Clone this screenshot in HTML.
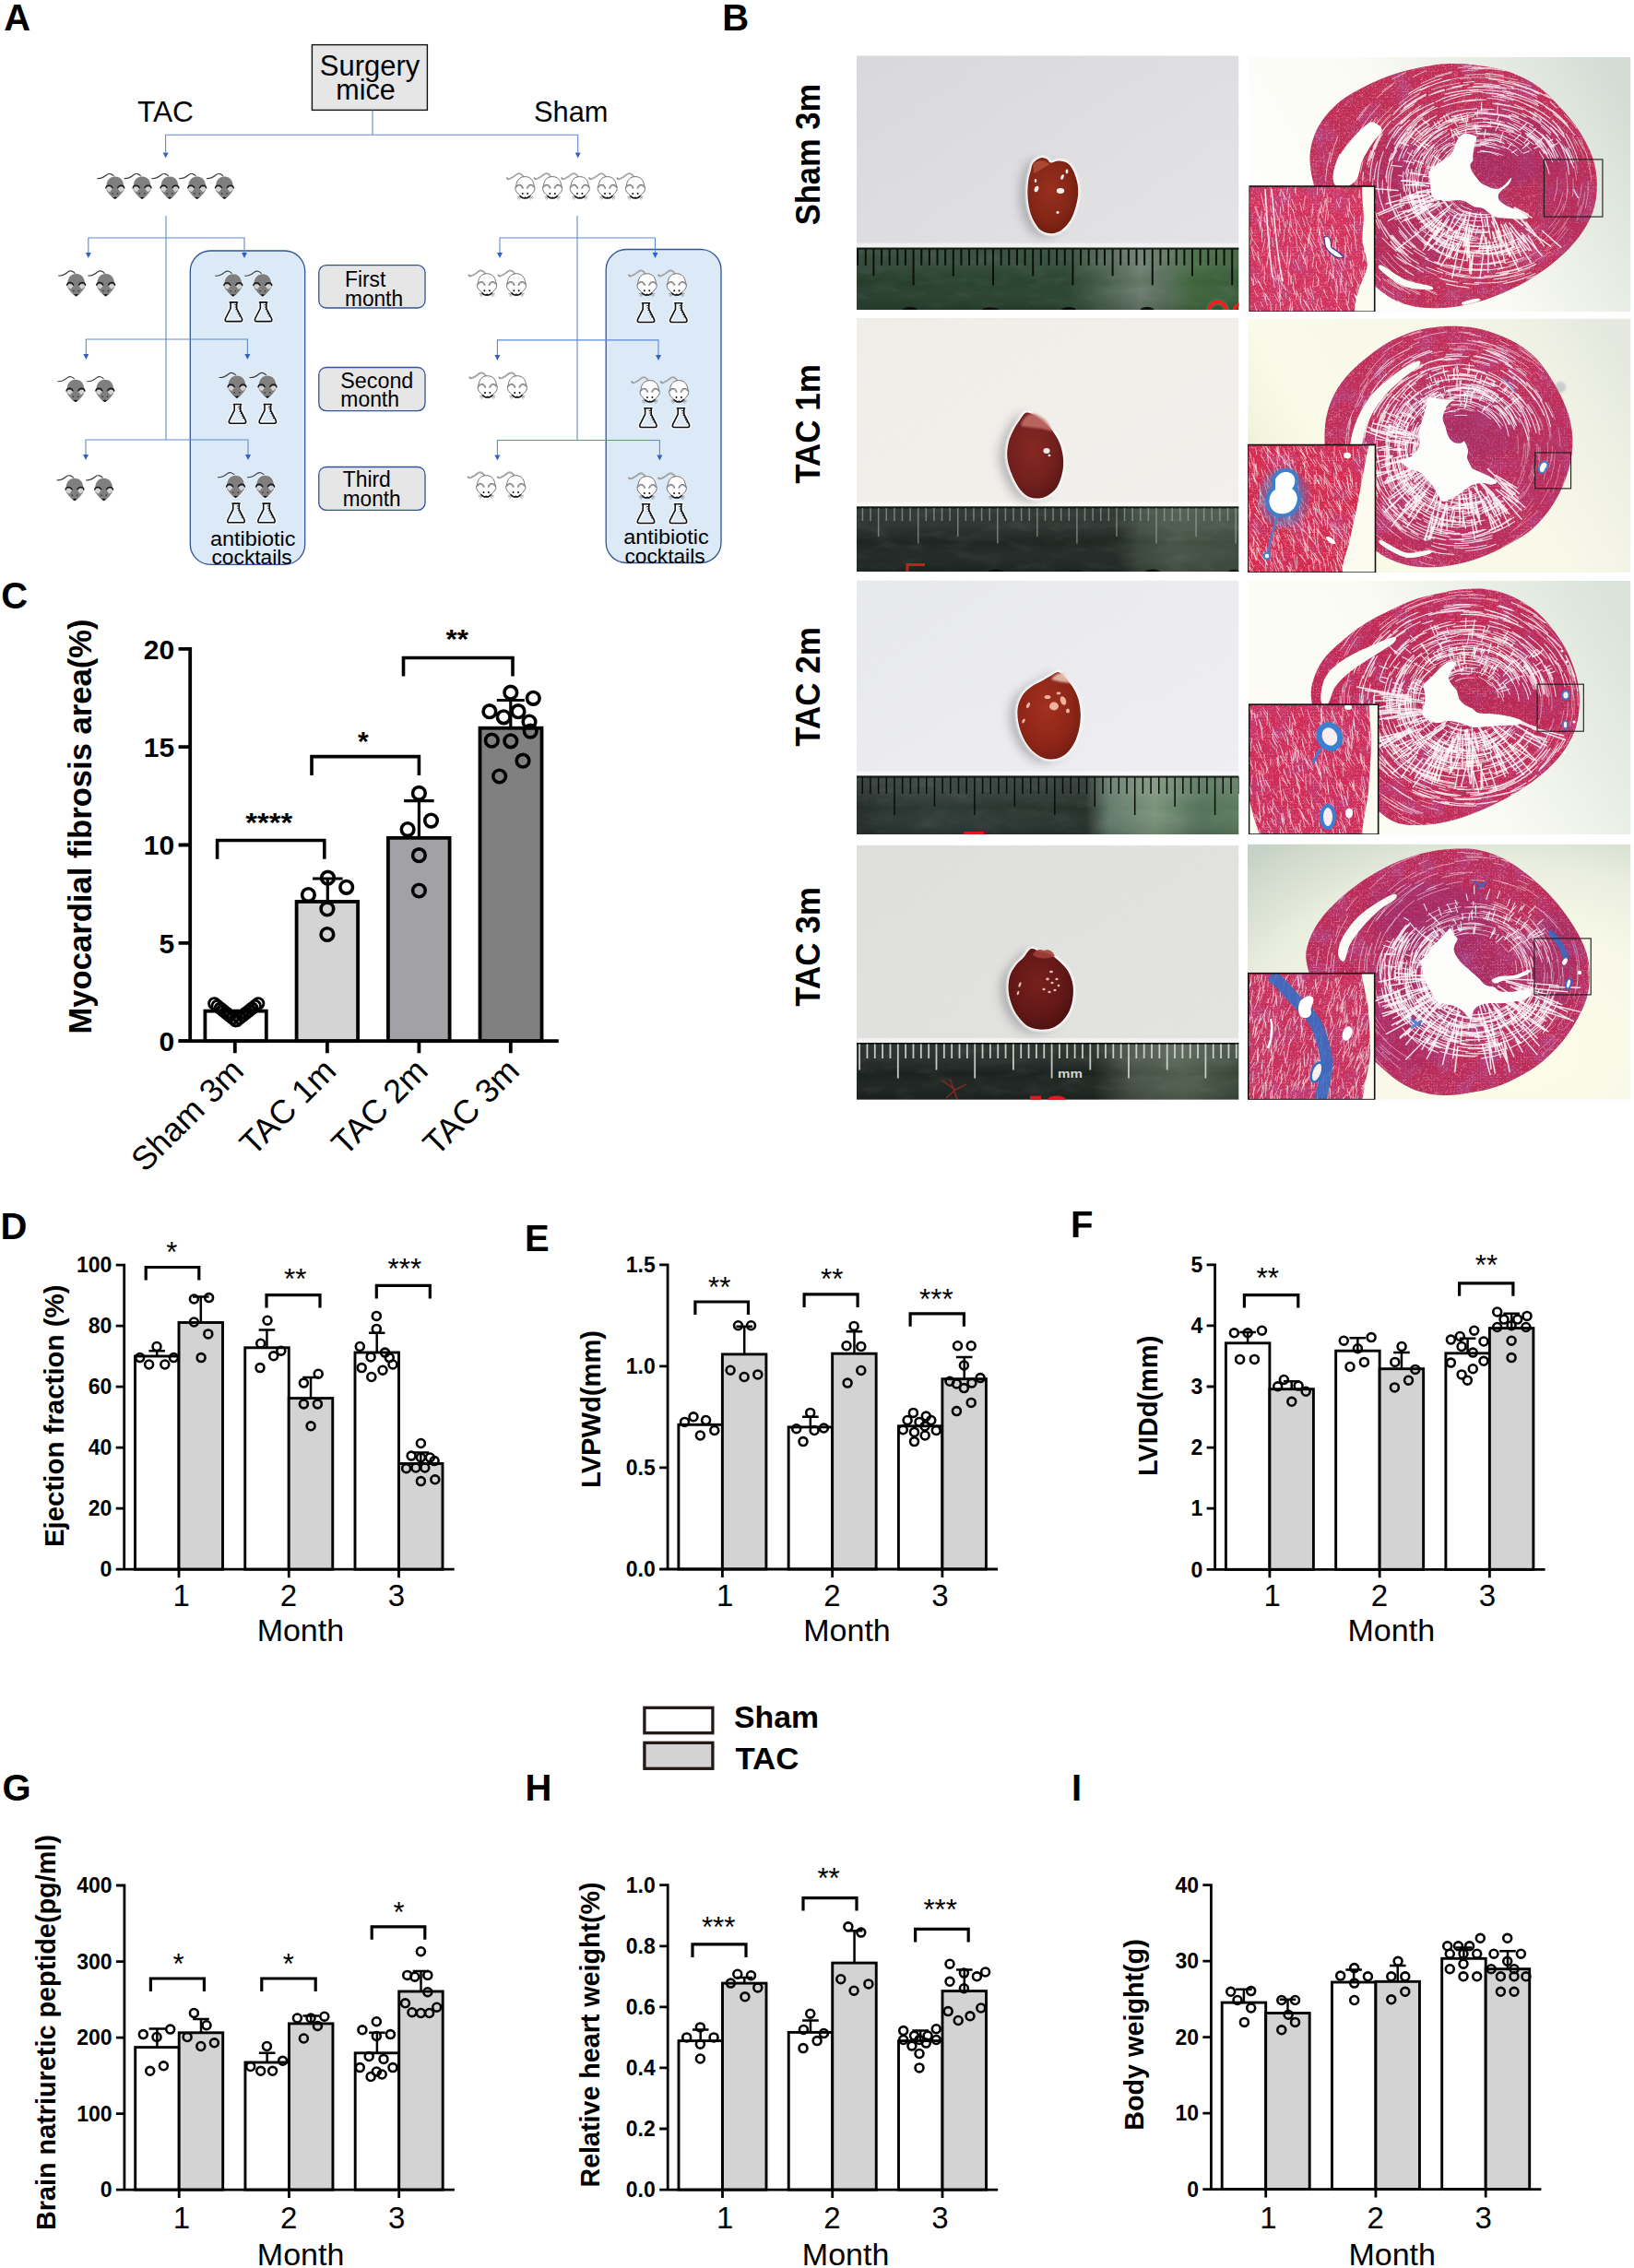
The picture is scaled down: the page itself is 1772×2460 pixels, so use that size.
<!DOCTYPE html>
<html lang="en"><head><meta charset="utf-8"><title>Figure</title>
<style>
html,body{margin:0;padding:0;background:#fff}
svg{display:block}
text{font-family:"Liberation Sans",sans-serif}
</style></head><body>
<svg width="1772" height="2460" viewBox="0 0 1772 2460">
<defs>
<g id="gm">
<path d="M-0.6,0.6 C-3,-3.4 -6.5,-4 -9.2,-1.8 C-12,0.6 -14.5,2.2 -19,2" stroke="#3c3c3c" stroke-width="1.15" fill="none" stroke-linecap="round"/>
<path d="M0,0 C5.6,0 8.8,4 9.3,9.5 C9.9,12.5 10,14 8.6,16 C6,20 2.6,23.4 0,24.4 C-2.6,23.4 -6,20 -8.6,16 C-10,14 -9.9,12.5 -9.3,9.5 C-8.8,4 -5.6,0 0,0Z" fill="#7f7f7f" stroke="#f4f8fc" stroke-width="1.2" paint-order="stroke"/>
<path d="M-9.9,12.6 C-8.6,10.8 -4.6,10.6 -2.8,13 L-5.8,16.6 C-7.6,16 -9.4,14.8 -9.9,12.6Z" fill="#d2d2d2"/>
<path d="M9.9,12.6 C8.6,10.8 4.6,10.6 2.8,13 L5.8,16.6 C7.6,16 9.4,14.8 9.9,12.6Z" fill="#d2d2d2"/>
<path d="M-10,12.3 C-9,8.6 -4.4,8.6 -2.9,12.2" stroke="#161616" stroke-width="1.35" fill="none" stroke-linecap="round"/>
<path d="M10,12.3 C9,8.6 4.4,8.6 2.9,12.2" stroke="#161616" stroke-width="1.35" fill="none" stroke-linecap="round"/>
<circle cx="-2.7" cy="18.5" r="0.75" fill="#222"/><circle cx="2.7" cy="18.5" r="0.75" fill="#222"/>
<path d="M-4.6,20.6 L0,24.5 L4.6,20.6 C2.8,22.4 1.3,22.8 0,21.8 C-1.3,22.8 -2.8,22.4 -4.6,20.6Z" fill="#141414"/>
</g>
<g id="wm">
<path d="M-1.4,1.2 C-3,-3.4 -6.5,-4.4 -9.5,-2.2 C-12.6,0.4 -14.8,2.2 -18.4,2.8 L-19.6,1.6" stroke="#8a8a8a" stroke-width="1.7" fill="none" stroke-linecap="round" stroke-linejoin="round"/>
<path d="M-1.4,1.2 C-3,-3.4 -6.5,-4.4 -9.5,-2.2 C-12.6,0.4 -14.8,2.2 -18.4,2.8" stroke="#c4c4c4" stroke-width="0.8" fill="none" stroke-linecap="round" transform="translate(0.1 -0.35)"/>
<path d="M0,0 C5.8,0 9,4 9.6,9.5 C10.8,11.5 11,14.2 9.4,16.4 C6.8,19.8 3,23 0,24 C-3,23 -6.8,19.8 -9.4,16.4 C-11,14.2 -10.8,11.5 -9.6,9.5 C-9,4 -5.8,0 0,0Z" fill="#fff" stroke="#585858" stroke-width="0.85"/>
<path d="M-9.6,11.6 C-8.2,8.6 -4,8.2 -2.6,12.8" stroke="#b4b4b4" stroke-width="1.7" fill="none"/>
<path d="M-10.2,12 C-8.4,7.6 -3.2,7.4 -2,13" stroke="#5a5a5a" stroke-width="0.8" fill="none"/>
<path d="M9.6,11.6 C8.2,8.6 4,8.2 2.6,12.8" stroke="#b4b4b4" stroke-width="1.7" fill="none"/>
<path d="M10.2,12 C8.4,7.6 3.2,7.4 2,13" stroke="#5a5a5a" stroke-width="0.8" fill="none"/>
<circle cx="-2.7" cy="18.4" r="1" fill="#111"/><circle cx="2.7" cy="18.4" r="1" fill="#111"/>
<path d="M-5.6,20.6 C-3.4,23.2 -1.2,23.8 0,22.6 C1.2,23.8 3.4,23.2 5.6,20.6" stroke="#151515" stroke-width="1.6" fill="none" stroke-linejoin="round"/>
<path d="M-5.2,21.2 L-8.6,21.8 M-5.2,21.8 L-8.2,23.8 M-4.6,22.4 L-6.6,25.2 M5.2,21.2 L8.6,21.8 M5.2,21.8 L8.2,23.8 M4.6,22.4 L6.6,25.2" stroke="#666" stroke-width="0.6" fill="none"/>
</g>
<g id="fl">
<path d="M-4.1,0.8 L4.1,0.8 M-3.3,0.8 L-3.3,7.4 L-8.9,18.4 Q-10,21.5 -7.2,21.5 L7.2,21.5 Q10,21.5 8.9,18.4 L3.3,7.4 L3.3,0.8" fill="none" stroke="#f6f9fd" stroke-width="4.4" stroke-linejoin="round" stroke-linecap="round"/>
<path d="M-4.1,0.8 L4.1,0.8 M-3.3,0.8 L-3.3,7.4 L-8.9,18.4 Q-10,21.5 -7.2,21.5 L7.2,21.5 Q10,21.5 8.9,18.4 L3.3,7.4 L3.3,0.8" fill="none" stroke="#111" stroke-width="1.6" stroke-linejoin="round" stroke-linecap="round"/>
<path d="M0.9,3.6 L2.8,3.6 M1.4,6 L2.8,6 M2,8.6 L3.6,8.6 M3.2,11 L4.9,11 M4.4,13.4 L6.1,13.4 M5.6,15.8 L7.3,15.8" stroke="#111" stroke-width="1" fill="none"/>
</g>
</defs>
<text x="4.2" y="32.8" font-size="40" font-weight="bold">A</text>
<text x="783.2" y="32.8" font-size="40" font-weight="bold">B</text>
<rect x="206.3" y="272" width="124.4" height="340.3" rx="22" ry="22" fill="#dce9f6" stroke="#2f5597" stroke-width="1.3"/>
<rect x="657.2" y="270.5" width="124.8" height="340" rx="22" ry="22" fill="#dce9f6" stroke="#2f5597" stroke-width="1.3"/>
<rect x="338.4" y="48.6" width="125" height="70.8" fill="#e7e6e6" stroke="#111" stroke-width="1.4"/>
<text x="401" y="82" font-size="31" text-anchor="middle" textLength="108.3" lengthAdjust="spacingAndGlyphs">Surgery</text>
<text x="396.5" y="108" font-size="31" text-anchor="middle" textLength="64.5" lengthAdjust="spacingAndGlyphs">mice</text>
<text x="149" y="131.6" font-size="30.5" textLength="61" lengthAdjust="spacingAndGlyphs">TAC</text>
<text x="579" y="131.6" font-size="30.5" textLength="80.5" lengthAdjust="spacingAndGlyphs">Sham</text>
<path d="M404,119.6 V146.3 M179.6,165 V146.3 H626.7 V165" stroke="#5b8bd8" stroke-width="1.1" fill="none"/>
<path d="M176.6,165.5 L182.6,165.5 L179.6,171.5Z" fill="#2f62c4"/>
<path d="M623.7,165.5 L629.7,165.5 L626.7,171.5Z" fill="#2f62c4"/>
<path d="M180,234 V477 M95.8,274 V258 H265 V274 M93.3,384 V368 H268.4 V384 M93,493 V477 H269 V493" stroke="#5b8bd8" stroke-width="1.1" fill="none"/>
<path d="M92.8,274 L98.8,274 L95.8,280Z" fill="#2f62c4"/>
<path d="M262,274 L268,274 L265,280Z" fill="#2f62c4"/>
<path d="M90.3,384 L96.3,384 L93.3,390Z" fill="#2f62c4"/>
<path d="M265.4,384 L271.4,384 L268.4,390Z" fill="#2f62c4"/>
<path d="M90,493 L96,493 L93,499Z" fill="#2f62c4"/>
<path d="M266,493 L272,493 L269,499Z" fill="#2f62c4"/>
<path d="M626,234 V477.5 M542,274 V258 H710.5 V274 M539.4,385 V368.9 H714 V385 M539.4,493.5 V477.5 H715.4 V493.5" stroke="#5b8bd8" stroke-width="1.1" fill="none"/>
<path d="M539,274 L545,274 L542,280Z" fill="#2f62c4"/>
<path d="M707.5,274 L713.5,274 L710.5,280Z" fill="#2f62c4"/>
<path d="M536.4,385 L542.4,385 L539.4,391Z" fill="#2f62c4"/>
<path d="M711,385 L717,385 L714,391Z" fill="#2f62c4"/>
<path d="M536.4,493.5 L542.4,493.5 L539.4,499.5Z" fill="#2f62c4"/>
<path d="M712.4,493.5 L718.4,493.5 L715.4,499.5Z" fill="#2f62c4"/>
<rect x="345.8" y="287.6" width="115.2" height="46.4" rx="8" ry="8" fill="#e7e6e6" stroke="#2f5597" stroke-width="1.3"/>
<text x="374" y="311" font-size="23" textLength="44.3" lengthAdjust="spacingAndGlyphs">First</text>
<text x="374" y="332" font-size="23" textLength="63" lengthAdjust="spacingAndGlyphs">month</text>
<rect x="345.8" y="398.5" width="115.2" height="47.1" rx="8" ry="8" fill="#e7e6e6" stroke="#2f5597" stroke-width="1.3"/>
<text x="369.3" y="420.9" font-size="23" textLength="79" lengthAdjust="spacingAndGlyphs">Second</text>
<text x="369.3" y="441.4" font-size="23" textLength="63.7" lengthAdjust="spacingAndGlyphs">month</text>
<rect x="345.8" y="506.5" width="115.2" height="46.9" rx="8" ry="8" fill="#e7e6e6" stroke="#2f5597" stroke-width="1.3"/>
<text x="371.8" y="528" font-size="23" textLength="52" lengthAdjust="spacingAndGlyphs">Third</text>
<text x="371.8" y="549.4" font-size="23" textLength="62.7" lengthAdjust="spacingAndGlyphs">month</text>
<use href="#gm" x="124.8" y="191.6"/>
<use href="#gm" x="154.1" y="191.6"/>
<use href="#gm" x="184" y="191.6"/>
<use href="#gm" x="213.7" y="191.6"/>
<use href="#gm" x="243.4" y="191.6"/>
<use href="#gm" x="82.6" y="297"/>
<use href="#gm" x="114.7" y="297"/>
<use href="#gm" x="82" y="411.7"/>
<use href="#gm" x="113.8" y="411.7"/>
<use href="#gm" x="81" y="518.8"/>
<use href="#gm" x="112.6" y="518.8"/>
<use href="#gm" x="252.8" y="297.2"/>
<use href="#gm" x="284.8" y="297.2"/>
<use href="#gm" x="257" y="407.5"/>
<use href="#gm" x="290" y="407.5"/>
<use href="#gm" x="255.5" y="515.7"/>
<use href="#gm" x="287.6" y="515.7"/>
<use href="#wm" x="569.4" y="191.6"/>
<use href="#wm" x="599.1" y="191.6"/>
<use href="#wm" x="628.7" y="191.6"/>
<use href="#wm" x="658.7" y="191.6"/>
<use href="#wm" x="689" y="191.6"/>
<use href="#wm" x="528.1" y="296.8"/>
<use href="#wm" x="560" y="296.8"/>
<use href="#wm" x="528.7" y="407.7"/>
<use href="#wm" x="560.9" y="407.7"/>
<use href="#wm" x="527.2" y="515.7"/>
<use href="#wm" x="559.3" y="515.7"/>
<use href="#wm" x="701.6" y="296.8"/>
<use href="#wm" x="733.8" y="296.8"/>
<use href="#wm" x="704.7" y="412.6"/>
<use href="#wm" x="736.2" y="412.6"/>
<use href="#wm" x="701.6" y="516.7"/>
<use href="#wm" x="733.8" y="516.7"/>
<use href="#fl" x="253.4" y="327.1"/>
<use href="#fl" x="285.6" y="327.1"/>
<use href="#fl" x="257.5" y="437.7"/>
<use href="#fl" x="290.3" y="437.7"/>
<use href="#fl" x="256" y="545.3"/>
<use href="#fl" x="289" y="545.3"/>
<use href="#fl" x="700.5" y="328"/>
<use href="#fl" x="735.8" y="328"/>
<use href="#fl" x="702.9" y="442"/>
<use href="#fl" x="738.5" y="442"/>
<use href="#fl" x="700.5" y="546"/>
<use href="#fl" x="735.5" y="546"/>
<text x="274.2" y="591.5" font-size="21.6" text-anchor="middle" textLength="92.5" lengthAdjust="spacingAndGlyphs">antibiotic</text>
<text x="273.1" y="612" font-size="21.6" text-anchor="middle" textLength="87.2" lengthAdjust="spacingAndGlyphs">cocktails</text>
<text x="722.5" y="590.3" font-size="21.6" text-anchor="middle" textLength="92.5" lengthAdjust="spacingAndGlyphs">antibiotic</text>
<text x="721" y="610.8" font-size="21.6" text-anchor="middle" textLength="87.2" lengthAdjust="spacingAndGlyphs">cocktails</text>
<text x="889.3" y="167.5" font-size="36.5" font-weight="bold" text-anchor="middle" transform="rotate(-90 889.3 167.5)" textLength="153.5" lengthAdjust="spacingAndGlyphs">Sham 3m</text>
<text x="889.3" y="460" font-size="36.5" font-weight="bold" text-anchor="middle" transform="rotate(-90 889.3 460)" textLength="129.5" lengthAdjust="spacingAndGlyphs">TAC 1m</text>
<text x="889.3" y="745" font-size="36.5" font-weight="bold" text-anchor="middle" transform="rotate(-90 889.3 745)" textLength="129.5" lengthAdjust="spacingAndGlyphs">TAC 2m</text>
<text x="889.3" y="1027" font-size="36.5" font-weight="bold" text-anchor="middle" transform="rotate(-90 889.3 1027)" textLength="129.5" lengthAdjust="spacingAndGlyphs">TAC 3m</text>
<defs>
<filter id="blur3" x="-30%" y="-30%" width="160%" height="160%"><feGaussianBlur stdDeviation="3"/></filter>
<filter id="blur1" x="-30%" y="-30%" width="160%" height="160%"><feGaussianBlur stdDeviation="1.2"/></filter>
<filter id="blur6" x="-30%" y="-30%" width="160%" height="160%"><feGaussianBlur stdDeviation="6"/></filter>
<filter id="grain" x="0" y="0" width="100%" height="100%"><feTurbulence type="fractalNoise" baseFrequency="0.9" numOctaves="2" seed="3" result="n"/><feColorMatrix type="matrix" values="0 0 0 0 0.5  0 0 0 0 0.5  0 0 0 0 0.5  0.55 0 0 0 -0.2"/><feComposite in2="SourceGraphic" operator="in"/></filter>
<filter id="tex" x="0" y="0" width="100%" height="100%"><feTurbulence type="turbulence" baseFrequency="0.32" numOctaves="2" seed="5" result="n"/><feColorMatrix type="matrix" values="0 0 0 0 1  0 0 0 0 0.93  0 0 0 0 0.95  -3.2 0 0 0 0.62"/><feComposite in2="SourceGraphic" operator="in"/></filter>
<filter id="tex2" x="0" y="0" width="100%" height="100%"><feTurbulence type="fractalNoise" baseFrequency="0.045" numOctaves="2" seed="9" result="n"/><feColorMatrix type="matrix" values="0 0 0 0 0.42  0 0 0 0 0.1  0 0 0 0 0.42  2.2 0 0 0 -1.0"/><feComposite in2="SourceGraphic" operator="in"/></filter>
<filter id="scuff" x="0" y="0" width="100%" height="100%"><feTurbulence type="fractalNoise" baseFrequency="0.035 0.09" numOctaves="3" seed="11" result="n"/><feColorMatrix type="matrix" values="0 0 0 0 0.8  0 0 0 0 0.88  0 0 0 0 0.8  1.6 0 0 0 -0.72"/><feComposite in2="SourceGraphic" operator="in"/></filter>
</defs>
<defs><linearGradient id="pb1" x1="0" y1="0" x2="1" y2="1"><stop offset="0" stop-color="#d9d8db"/><stop offset="1" stop-color="#e6e5e7"/></linearGradient>
<linearGradient id="pr1" x1="0" y1="0" x2="1" y2="0"><stop offset="0" stop-color="#263d2c"/><stop offset="0.55" stop-color="#29432f"/><stop offset="0.66" stop-color="#4c6250"/><stop offset="0.74" stop-color="#66786a"/><stop offset="0.8" stop-color="#5a6f5c"/><stop offset="0.88" stop-color="#3f653c"/><stop offset="1" stop-color="#375a37"/></linearGradient>
<clipPath id="pc1"><rect x="929" y="60.3" width="414.5" height="275.7"/></clipPath></defs>
<g clip-path="url(#pc1)">
<rect x="929" y="60.3" width="414.5" height="275.7" fill="url(#pb1)"/>
<rect x="929" y="60.3" width="414.5" height="208.4" fill="#888" filter="url(#grain)" opacity="0.10"/>
<rect x="929" y="263.7" width="414.5" height="5" fill="#fff" opacity="0.55"/>
<rect x="929" y="268.7" width="414.5" height="67.3" fill="url(#pr1)"/>
<rect x="929" y="268.7" width="414.5" height="67.3" fill="#fff" filter="url(#scuff)" opacity="0.09"/>
<defs><linearGradient id="pv1" x1="0" y1="0" x2="0" y2="1"><stop offset="0" stop-color="#fff" stop-opacity="0.1"/><stop offset="0.3" stop-color="#fff" stop-opacity="0.06999999999999999"/><stop offset="0.55" stop-color="#fff" stop-opacity="0"/><stop offset="1" stop-color="#000" stop-opacity="0.12"/></linearGradient></defs>
<rect x="929" y="268.7" width="414.5" height="67.3" fill="url(#pv1)"/>
<rect x="929" y="268.7" width="414.5" height="2" fill="#0c100d" opacity="0.85"/>
<path d="M930.12,270.2v17.5M938.76,270.2v17.5M947.4,270.2v29M956.04,270.2v17.5M964.68,270.2v17.5M973.32,270.2v17.5M981.96,270.2v17.5M990.6,270.2v39M999.24,270.2v17.5M1007.88,270.2v17.5M1016.52,270.2v17.5M1025.16,270.2v17.5M1033.8,270.2v29M1042.44,270.2v17.5M1051.08,270.2v17.5M1059.72,270.2v17.5M1068.36,270.2v17.5M1077,270.2v39M1085.64,270.2v17.5M1094.28,270.2v17.5M1102.92,270.2v17.5M1111.56,270.2v17.5M1120.2,270.2v29M1128.84,270.2v17.5M1137.48,270.2v17.5M1146.12,270.2v17.5M1154.76,270.2v17.5M1163.4,270.2v39M1172.04,270.2v17.5M1180.68,270.2v17.5M1189.32,270.2v17.5M1197.96,270.2v17.5M1206.6,270.2v29M1215.24,270.2v17.5M1223.88,270.2v17.5M1232.52,270.2v17.5M1241.16,270.2v17.5M1249.8,270.2v39M1258.44,270.2v17.5M1267.08,270.2v17.5M1275.72,270.2v17.5M1284.36,270.2v17.5M1293,270.2v29M1301.64,270.2v17.5M1310.28,270.2v17.5M1318.92,270.2v17.5M1327.56,270.2v17.5M1336.2,270.2v39" stroke="#0b0f0c" stroke-width="2.0" fill="none" opacity="1.0"/>
<g fill="none"><circle cx="1320.5" cy="337" r="9.5" stroke="#1f8a5a" stroke-width="6.6"/><circle cx="1320.5" cy="337" r="9.5" stroke="#e8201e" stroke-width="4.6"/><circle cx="1346" cy="338" r="8" stroke="#e8201e" stroke-width="4"/></g><g fill="#0a0d0b"><ellipse cx="987" cy="336" rx="8" ry="3"/><ellipse cx="1074" cy="336" rx="9" ry="2.6"/><ellipse cx="1159" cy="336" rx="8" ry="3"/><ellipse cx="1244" cy="336" rx="7.5" ry="3"/></g>
<defs><radialGradient id="ph1" cx="0.45" cy="0.42" r="0.68"><stop offset="0" stop-color="#98301e"/><stop offset="0.6" stop-color="#842616"/><stop offset="1" stop-color="#66180e"/></radialGradient></defs>
<g filter="url(#blur6)" opacity="0.45"><path d="M1120.61,176.56 C1122.41,174.32 1126.22,171.85 1128.69,171.18 C1131.16,170.5 1133.63,171.63 1135.42,172.52 C1137.22,173.42 1137.44,176.25 1139.46,176.56 C1141.48,176.88 1144.62,174.41 1147.54,174.41 C1150.46,174.41 1154.27,174.86 1156.97,176.56 C1159.66,178.27 1161.81,181.05 1163.7,184.64 C1165.58,188.23 1167.38,193.62 1168.28,198.1 C1169.17,202.59 1169.4,207.08 1169.08,211.57 C1168.77,216.06 1167.74,220.54 1166.39,225.03 C1165.05,229.52 1163.47,234.46 1161.01,238.5 C1158.54,242.54 1154.95,246.8 1151.58,249.27 C1148.22,251.74 1144.4,253.08 1140.81,253.31 C1137.22,253.53 1133.18,252.63 1130.04,250.61 C1126.9,248.59 1124.2,245 1121.96,241.19 C1119.72,237.37 1117.83,232.66 1116.57,227.73 C1115.32,222.79 1114.64,216.95 1114.42,211.57 C1114.2,206.18 1114.64,199.9 1115.23,195.41 C1115.81,190.92 1117.02,187.78 1117.92,184.64 C1118.82,181.5 1118.82,178.81 1120.61,176.56Z" transform="translate(-8 3)" fill="#66666a"/></g>
<g filter="url(#blur1)"><path d="M1120.61,176.56 C1122.41,174.32 1126.22,171.85 1128.69,171.18 C1131.16,170.5 1133.63,171.63 1135.42,172.52 C1137.22,173.42 1137.44,176.25 1139.46,176.56 C1141.48,176.88 1144.62,174.41 1147.54,174.41 C1150.46,174.41 1154.27,174.86 1156.97,176.56 C1159.66,178.27 1161.81,181.05 1163.7,184.64 C1165.58,188.23 1167.38,193.62 1168.28,198.1 C1169.17,202.59 1169.4,207.08 1169.08,211.57 C1168.77,216.06 1167.74,220.54 1166.39,225.03 C1165.05,229.52 1163.47,234.46 1161.01,238.5 C1158.54,242.54 1154.95,246.8 1151.58,249.27 C1148.22,251.74 1144.4,253.08 1140.81,253.31 C1137.22,253.53 1133.18,252.63 1130.04,250.61 C1126.9,248.59 1124.2,245 1121.96,241.19 C1119.72,237.37 1117.83,232.66 1116.57,227.73 C1115.32,222.79 1114.64,216.95 1114.42,211.57 C1114.2,206.18 1114.64,199.9 1115.23,195.41 C1115.81,190.92 1117.02,187.78 1117.92,184.64 C1118.82,181.5 1118.82,178.81 1120.61,176.56Z" fill="#fff" stroke="#fff" stroke-width="4.2"/></g>
<path d="M1120.61,176.56 C1122.41,174.32 1126.22,171.85 1128.69,171.18 C1131.16,170.5 1133.63,171.63 1135.42,172.52 C1137.22,173.42 1137.44,176.25 1139.46,176.56 C1141.48,176.88 1144.62,174.41 1147.54,174.41 C1150.46,174.41 1154.27,174.86 1156.97,176.56 C1159.66,178.27 1161.81,181.05 1163.7,184.64 C1165.58,188.23 1167.38,193.62 1168.28,198.1 C1169.17,202.59 1169.4,207.08 1169.08,211.57 C1168.77,216.06 1167.74,220.54 1166.39,225.03 C1165.05,229.52 1163.47,234.46 1161.01,238.5 C1158.54,242.54 1154.95,246.8 1151.58,249.27 C1148.22,251.74 1144.4,253.08 1140.81,253.31 C1137.22,253.53 1133.18,252.63 1130.04,250.61 C1126.9,248.59 1124.2,245 1121.96,241.19 C1119.72,237.37 1117.83,232.66 1116.57,227.73 C1115.32,222.79 1114.64,216.95 1114.42,211.57 C1114.2,206.18 1114.64,199.9 1115.23,195.41 C1115.81,190.92 1117.02,187.78 1117.92,184.64 C1118.82,181.5 1118.82,178.81 1120.61,176.56Z" fill="url(#ph1)"/>
<path d="M1120,178 c6,-6 14,-4 18,0 c-6,4 -12,8 -17,10z" fill="#b3523a" opacity="0.8"/><g fill="#fff" opacity="0.92"><ellipse cx="1124" cy="205" rx="2.2" ry="3.4" transform="rotate(20 1124 205)"/><ellipse cx="1150" cy="207" rx="4.2" ry="3" /><ellipse cx="1152" cy="192" rx="1.6" ry="3" transform="rotate(25 1152 192)"/><ellipse cx="1157" cy="186" rx="1.4" ry="2.4"/><ellipse cx="1147" cy="230.5" rx="1.6" ry="1.4"/><ellipse cx="1123" cy="196" rx="1.3" ry="2"/></g>
</g>
<defs><linearGradient id="pb2" x1="0" y1="0" x2="1" y2="1"><stop offset="0" stop-color="#efeee9"/><stop offset="1" stop-color="#f2f1ed"/></linearGradient>
<linearGradient id="pr2" x1="0" y1="0" x2="1" y2="0"><stop offset="0" stop-color="#1e2623"/><stop offset="0.68" stop-color="#202824"/><stop offset="0.74" stop-color="#3a453c"/><stop offset="0.85" stop-color="#465245"/><stop offset="1" stop-color="#3c493d"/></linearGradient>
<clipPath id="pc2"><rect x="929" y="344.8" width="414.5" height="275.2"/></clipPath></defs>
<g clip-path="url(#pc2)">
<rect x="929" y="344.8" width="414.5" height="275.2" fill="url(#pb2)"/>
<rect x="929" y="344.8" width="414.5" height="204.7" fill="#888" filter="url(#grain)" opacity="0.10"/>
<rect x="929" y="544.5" width="414.5" height="5" fill="#fff" opacity="0.55"/>
<rect x="929" y="549.5" width="414.5" height="70.5" fill="url(#pr2)"/>
<rect x="929" y="549.5" width="414.5" height="70.5" fill="#fff" filter="url(#scuff)" opacity="0.09"/>
<defs><linearGradient id="pv2" x1="0" y1="0" x2="0" y2="1"><stop offset="0" stop-color="#fff" stop-opacity="0.1"/><stop offset="0.3" stop-color="#fff" stop-opacity="0.06999999999999999"/><stop offset="0.55" stop-color="#fff" stop-opacity="0"/><stop offset="1" stop-color="#000" stop-opacity="0.12"/></linearGradient></defs>
<rect x="929" y="549.5" width="414.5" height="70.5" fill="url(#pv2)"/>
<rect x="929" y="549.5" width="414.5" height="2" fill="#0c100d" opacity="0.85"/>
<path d="M935.43,551v14M944.04,551v14M952.65,551v31M961.26,551v14M969.87,551v14M978.48,551v14M987.09,551v14M995.7,551v38.5M1004.31,551v14M1012.92,551v14M1021.53,551v14M1030.14,551v14M1038.75,551v31M1047.36,551v14M1055.97,551v14M1064.58,551v14M1073.19,551v14M1081.8,551v38.5M1090.41,551v14M1099.02,551v14M1107.63,551v14M1116.24,551v14M1124.85,551v31M1133.46,551v14M1142.07,551v14M1150.68,551v14M1159.29,551v14M1167.9,551v38.5M1176.51,551v14M1185.12,551v14M1193.73,551v14M1202.34,551v14M1210.95,551v31M1219.56,551v14M1228.17,551v14M1236.78,551v14M1245.39,551v14M1254,551v38.5M1262.61,551v14M1271.22,551v14M1279.83,551v14M1288.44,551v14M1297.05,551v31M1305.66,551v14M1314.27,551v14M1322.88,551v14M1331.49,551v14M1340.1,551v38.5" stroke="#a3b0a6" stroke-width="1.5" fill="none" opacity="0.6"/>
<path d="M984,621 v-8.6 h19" stroke="#c4201c" stroke-width="3" fill="none"/><g fill="#0c0f0d"><ellipse cx="1080" cy="621" rx="9" ry="3.4"/><ellipse cx="1167" cy="621" rx="9" ry="2.6"/><ellipse cx="1250" cy="621" rx="8.5" ry="3.4"/><ellipse cx="1338" cy="621" rx="7" ry="3"/></g>
<defs><radialGradient id="ph2" cx="0.45" cy="0.42" r="0.68"><stop offset="0" stop-color="#862822"/><stop offset="0.6" stop-color="#72201e"/><stop offset="1" stop-color="#561514"/></radialGradient></defs>
<g filter="url(#blur6)" opacity="0.45"><path d="M1112.54,447.71 C1115.23,446.81 1118.59,448.61 1121.96,450.4 C1125.33,452.2 1129.59,455.79 1132.73,458.48 C1135.87,461.18 1138.12,462.97 1140.81,466.56 C1143.5,470.15 1146.87,475.09 1148.89,480.03 C1150.91,484.96 1152.39,490.8 1152.93,496.18 C1153.47,501.57 1153.24,506.95 1152.12,512.34 C1151,517.73 1148.98,524.23 1146.2,528.5 C1143.41,532.76 1139.01,535.9 1135.42,537.92 C1131.83,539.94 1128.24,540.61 1124.65,540.61 C1121.06,540.61 1117.25,539.94 1113.88,537.92 C1110.52,535.9 1107.37,532.76 1104.46,528.5 C1101.54,524.23 1098.4,517.73 1096.38,512.34 C1094.36,506.95 1092.79,501.57 1092.34,496.18 C1091.89,490.8 1092.56,484.96 1093.69,480.03 C1094.81,475.09 1097.05,470.6 1099.07,466.56 C1101.09,462.52 1103.56,458.93 1105.8,455.79 C1108.05,452.65 1109.84,448.61 1112.54,447.71Z" transform="translate(-8 3)" fill="#66666a"/></g>
<g filter="url(#blur1)"><path d="M1112.54,447.71 C1115.23,446.81 1118.59,448.61 1121.96,450.4 C1125.33,452.2 1129.59,455.79 1132.73,458.48 C1135.87,461.18 1138.12,462.97 1140.81,466.56 C1143.5,470.15 1146.87,475.09 1148.89,480.03 C1150.91,484.96 1152.39,490.8 1152.93,496.18 C1153.47,501.57 1153.24,506.95 1152.12,512.34 C1151,517.73 1148.98,524.23 1146.2,528.5 C1143.41,532.76 1139.01,535.9 1135.42,537.92 C1131.83,539.94 1128.24,540.61 1124.65,540.61 C1121.06,540.61 1117.25,539.94 1113.88,537.92 C1110.52,535.9 1107.37,532.76 1104.46,528.5 C1101.54,524.23 1098.4,517.73 1096.38,512.34 C1094.36,506.95 1092.79,501.57 1092.34,496.18 C1091.89,490.8 1092.56,484.96 1093.69,480.03 C1094.81,475.09 1097.05,470.6 1099.07,466.56 C1101.09,462.52 1103.56,458.93 1105.8,455.79 C1108.05,452.65 1109.84,448.61 1112.54,447.71Z" fill="#fff" stroke="#fff" stroke-width="4.2"/></g>
<path d="M1112.54,447.71 C1115.23,446.81 1118.59,448.61 1121.96,450.4 C1125.33,452.2 1129.59,455.79 1132.73,458.48 C1135.87,461.18 1138.12,462.97 1140.81,466.56 C1143.5,470.15 1146.87,475.09 1148.89,480.03 C1150.91,484.96 1152.39,490.8 1152.93,496.18 C1153.47,501.57 1153.24,506.95 1152.12,512.34 C1151,517.73 1148.98,524.23 1146.2,528.5 C1143.41,532.76 1139.01,535.9 1135.42,537.92 C1131.83,539.94 1128.24,540.61 1124.65,540.61 C1121.06,540.61 1117.25,539.94 1113.88,537.92 C1110.52,535.9 1107.37,532.76 1104.46,528.5 C1101.54,524.23 1098.4,517.73 1096.38,512.34 C1094.36,506.95 1092.79,501.57 1092.34,496.18 C1091.89,490.8 1092.56,484.96 1093.69,480.03 C1094.81,475.09 1097.05,470.6 1099.07,466.56 C1101.09,462.52 1103.56,458.93 1105.8,455.79 C1108.05,452.65 1109.84,448.61 1112.54,447.71Z" fill="url(#ph2)"/>
<path d="M1107,462 c3,-12 12,-16 18,-12 c8,4 14,10 16,18 c-10,-4 -24,-4 -34,-6z" fill="#c4706a" opacity="0.85" filter="url(#blur1)"/><g fill="#fff" opacity="0.9"><ellipse cx="1135" cy="489" rx="3.6" ry="3"/><ellipse cx="1138" cy="494" rx="1.4" ry="1.2"/></g>
</g>
<defs><linearGradient id="pb3" x1="0" y1="0" x2="1" y2="1"><stop offset="0" stop-color="#e8e9ed"/><stop offset="1" stop-color="#f0f0f3"/></linearGradient>
<linearGradient id="pr3" x1="0" y1="0" x2="1" y2="0"><stop offset="0" stop-color="#242d2a"/><stop offset="0.2" stop-color="#2e3a35"/><stop offset="0.6" stop-color="#26302b"/><stop offset="0.66" stop-color="#62796a"/><stop offset="0.78" stop-color="#7a9279"/><stop offset="0.9" stop-color="#54735a"/><stop offset="1" stop-color="#5a7a5d"/></linearGradient>
<clipPath id="pc3"><rect x="929" y="629.4" width="414.5" height="275.6"/></clipPath></defs>
<g clip-path="url(#pc3)">
<rect x="929" y="629.4" width="414.5" height="275.6" fill="url(#pb3)"/>
<rect x="929" y="629.4" width="414.5" height="212.2" fill="#888" filter="url(#grain)" opacity="0.10"/>
<rect x="929" y="836.6" width="414.5" height="5" fill="#fff" opacity="0.55"/>
<rect x="929" y="841.6" width="414.5" height="63.4" fill="url(#pr3)"/>
<rect x="929" y="841.6" width="414.5" height="63.4" fill="#fff" filter="url(#scuff)" opacity="0.09"/>
<defs><linearGradient id="pv3" x1="0" y1="0" x2="0" y2="1"><stop offset="0" stop-color="#fff" stop-opacity="0.1"/><stop offset="0.3" stop-color="#fff" stop-opacity="0.06999999999999999"/><stop offset="0.55" stop-color="#fff" stop-opacity="0"/><stop offset="1" stop-color="#000" stop-opacity="0.12"/></linearGradient></defs>
<rect x="929" y="841.6" width="414.5" height="63.4" fill="url(#pv3)"/>
<rect x="929" y="841.6" width="414.5" height="2" fill="#0c100d" opacity="0.85"/>
<path d="M935.24,843.1v18M943.93,843.1v18M952.62,843.1v18M961.31,843.1v18M970,843.1v41M978.69,843.1v18M987.38,843.1v18M996.07,843.1v18M1004.76,843.1v18M1013.45,843.1v32M1022.14,843.1v18M1030.83,843.1v18M1039.52,843.1v18M1048.21,843.1v18M1056.9,843.1v41M1065.59,843.1v18M1074.28,843.1v18M1082.97,843.1v18M1091.66,843.1v18M1100.35,843.1v32M1109.04,843.1v18M1117.73,843.1v18M1126.42,843.1v18M1135.11,843.1v18M1143.8,843.1v41M1152.49,843.1v18M1161.18,843.1v18M1169.87,843.1v18M1178.56,843.1v18M1187.25,843.1v32M1195.94,843.1v18M1204.63,843.1v18M1213.32,843.1v18M1222.01,843.1v18M1230.7,843.1v41M1239.39,843.1v18M1248.08,843.1v18M1256.77,843.1v18M1265.46,843.1v18M1274.15,843.1v32M1282.84,843.1v18M1291.53,843.1v18M1300.22,843.1v18M1308.91,843.1v18M1317.6,843.1v41M1326.29,843.1v18M1334.98,843.1v18M1343.67,843.1v18" stroke="#090c0a" stroke-width="1.5" fill="none" opacity="1.0"/>
<rect x="1045" y="902" width="22" height="4" fill="#e01818"/>
<defs><radialGradient id="ph3" cx="0.45" cy="0.42" r="0.68"><stop offset="0" stop-color="#a43020"/><stop offset="0.6" stop-color="#8e2618"/><stop offset="1" stop-color="#701a10"/></radialGradient></defs>
<g filter="url(#blur6)" opacity="0.45"><path d="M1147.54,729.06 C1150.01,729.28 1151.81,731.98 1154.27,734.44 C1156.74,736.91 1159.88,740.05 1162.35,743.87 C1164.82,747.68 1167.51,752.4 1169.08,757.33 C1170.66,762.27 1171.55,768.1 1171.78,773.49 C1172,778.88 1171.55,784.26 1170.43,789.65 C1169.31,795.03 1167.51,801.09 1165.05,805.8 C1162.58,810.52 1159.21,815 1155.62,817.92 C1152.03,820.84 1147.54,822.63 1143.5,823.31 C1139.46,823.98 1135.42,823.53 1131.39,821.96 C1127.35,820.39 1122.86,817.47 1119.27,813.88 C1115.68,810.29 1112.31,805.35 1109.84,800.42 C1107.37,795.48 1105.49,789.65 1104.46,784.26 C1103.42,778.88 1102.98,773.04 1103.65,768.1 C1104.32,763.17 1106.12,758.46 1108.5,754.64 C1110.87,750.83 1114.33,747.91 1117.92,745.22 C1121.51,742.52 1126.45,740.5 1130.04,738.48 C1133.63,736.46 1136.55,734.67 1139.46,733.1 C1142.38,731.53 1145.07,728.83 1147.54,729.06Z" transform="translate(-8 3)" fill="#66666a"/></g>
<g filter="url(#blur1)"><path d="M1147.54,729.06 C1150.01,729.28 1151.81,731.98 1154.27,734.44 C1156.74,736.91 1159.88,740.05 1162.35,743.87 C1164.82,747.68 1167.51,752.4 1169.08,757.33 C1170.66,762.27 1171.55,768.1 1171.78,773.49 C1172,778.88 1171.55,784.26 1170.43,789.65 C1169.31,795.03 1167.51,801.09 1165.05,805.8 C1162.58,810.52 1159.21,815 1155.62,817.92 C1152.03,820.84 1147.54,822.63 1143.5,823.31 C1139.46,823.98 1135.42,823.53 1131.39,821.96 C1127.35,820.39 1122.86,817.47 1119.27,813.88 C1115.68,810.29 1112.31,805.35 1109.84,800.42 C1107.37,795.48 1105.49,789.65 1104.46,784.26 C1103.42,778.88 1102.98,773.04 1103.65,768.1 C1104.32,763.17 1106.12,758.46 1108.5,754.64 C1110.87,750.83 1114.33,747.91 1117.92,745.22 C1121.51,742.52 1126.45,740.5 1130.04,738.48 C1133.63,736.46 1136.55,734.67 1139.46,733.1 C1142.38,731.53 1145.07,728.83 1147.54,729.06Z" fill="#fff" stroke="#fff" stroke-width="4.2"/></g>
<path d="M1147.54,729.06 C1150.01,729.28 1151.81,731.98 1154.27,734.44 C1156.74,736.91 1159.88,740.05 1162.35,743.87 C1164.82,747.68 1167.51,752.4 1169.08,757.33 C1170.66,762.27 1171.55,768.1 1171.78,773.49 C1172,778.88 1171.55,784.26 1170.43,789.65 C1169.31,795.03 1167.51,801.09 1165.05,805.8 C1162.58,810.52 1159.21,815 1155.62,817.92 C1152.03,820.84 1147.54,822.63 1143.5,823.31 C1139.46,823.98 1135.42,823.53 1131.39,821.96 C1127.35,820.39 1122.86,817.47 1119.27,813.88 C1115.68,810.29 1112.31,805.35 1109.84,800.42 C1107.37,795.48 1105.49,789.65 1104.46,784.26 C1103.42,778.88 1102.98,773.04 1103.65,768.1 C1104.32,763.17 1106.12,758.46 1108.5,754.64 C1110.87,750.83 1114.33,747.91 1117.92,745.22 C1121.51,742.52 1126.45,740.5 1130.04,738.48 C1133.63,736.46 1136.55,734.67 1139.46,733.1 C1142.38,731.53 1145.07,728.83 1147.54,729.06Z" fill="url(#ph3)"/>
<path d="M1140,737 c4,-6 10,-8 14,-7 c2,4 4,8 8,11 c-8,-1 -16,-2 -22,-4z" fill="#e8c2b6" opacity="0.9" filter="url(#blur1)"/><g fill="#f6c4ae" opacity="0.9"><ellipse cx="1143" cy="766" rx="5" ry="4.4"/><ellipse cx="1153" cy="760" rx="3" ry="5" transform="rotate(-20 1153 760)"/><ellipse cx="1136" cy="756" rx="3.4" ry="2"/><ellipse cx="1158" cy="771" rx="2" ry="2.6"/><ellipse cx="1115" cy="765" rx="1.6" ry="3.2" transform="rotate(25 1115 765)"/><ellipse cx="1110" cy="782" rx="1.4" ry="2.6" transform="rotate(30 1110 782)"/><ellipse cx="1148" cy="752" rx="2.4" ry="1.4"/></g>
</g>
<defs><linearGradient id="pb4" x1="0" y1="0" x2="1" y2="1"><stop offset="0" stop-color="#dfdfdd"/><stop offset="1" stop-color="#e4e4e2"/></linearGradient>
<linearGradient id="pr4" x1="0" y1="0" x2="1" y2="0"><stop offset="0" stop-color="#1b211e"/><stop offset="0.62" stop-color="#1d2420"/><stop offset="0.72" stop-color="#454f45"/><stop offset="0.85" stop-color="#525e50"/><stop offset="1" stop-color="#3a4539"/></linearGradient>
<clipPath id="pc4"><rect x="929" y="916.7" width="414.5" height="276.1"/></clipPath></defs>
<g clip-path="url(#pc4)">
<rect x="929" y="916.7" width="414.5" height="276.1" fill="url(#pb4)"/>
<rect x="929" y="916.7" width="414.5" height="214.3" fill="#888" filter="url(#grain)" opacity="0.10"/>
<rect x="929" y="1126" width="414.5" height="5" fill="#fff" opacity="0.55"/>
<rect x="929" y="1131" width="414.5" height="61.8" fill="url(#pr4)"/>
<rect x="929" y="1131" width="414.5" height="61.8" fill="#fff" filter="url(#scuff)" opacity="0.09"/>
<defs><linearGradient id="pv4" x1="0" y1="0" x2="0" y2="1"><stop offset="0" stop-color="#fff" stop-opacity="0.1"/><stop offset="0.3" stop-color="#fff" stop-opacity="0.06999999999999999"/><stop offset="0.55" stop-color="#fff" stop-opacity="0"/><stop offset="1" stop-color="#000" stop-opacity="0.12"/></linearGradient></defs>
<rect x="929" y="1131" width="414.5" height="61.8" fill="url(#pv4)"/>
<rect x="929" y="1131" width="414.5" height="2" fill="#0c100d" opacity="0.85"/>
<path d="M932.1,1132.5v28M940.44,1132.5v15.4M948.78,1132.5v15.4M957.12,1132.5v15.4M965.46,1132.5v15.4M973.8,1132.5v37M982.14,1132.5v15.4M990.48,1132.5v15.4M998.82,1132.5v15.4M1007.16,1132.5v15.4M1015.5,1132.5v28M1023.84,1132.5v15.4M1032.18,1132.5v15.4M1040.52,1132.5v15.4M1048.86,1132.5v15.4M1057.2,1132.5v37M1065.54,1132.5v15.4M1073.88,1132.5v15.4M1082.22,1132.5v15.4M1090.56,1132.5v15.4M1098.9,1132.5v28M1107.24,1132.5v15.4M1115.58,1132.5v15.4M1123.92,1132.5v15.4M1132.26,1132.5v15.4M1140.6,1132.5v37M1148.94,1132.5v15.4M1157.28,1132.5v15.4M1165.62,1132.5v15.4M1173.96,1132.5v15.4M1182.3,1132.5v28M1190.64,1132.5v15.4M1198.98,1132.5v15.4M1207.32,1132.5v15.4M1215.66,1132.5v15.4M1224,1132.5v37M1232.34,1132.5v15.4M1240.68,1132.5v15.4M1249.02,1132.5v15.4M1257.36,1132.5v15.4M1265.7,1132.5v28M1274.04,1132.5v15.4M1282.38,1132.5v15.4M1290.72,1132.5v15.4M1299.06,1132.5v15.4M1307.4,1132.5v37M1315.74,1132.5v15.4M1324.08,1132.5v15.4M1332.42,1132.5v15.4M1340.76,1132.5v15.4" stroke="#d4dad4" stroke-width="1.8" fill="none" opacity="0.9"/>
<g fill="#e01a1a"><rect x="1117" y="1188.6" width="12" height="5"/><ellipse cx="1146" cy="1192.5" rx="10" ry="4"/></g><path d="M1022,1172 l14,10 l-10,9 M1036,1182 l12,-6 M1030,1170 l8,22" stroke="#7a2a22" stroke-width="1.6" fill="none"/><text x="1147" y="1169" font-size="12.5" font-weight="bold" fill="#cfd6cf" textLength="27" lengthAdjust="spacingAndGlyphs">mm</text>
<defs><radialGradient id="ph4" cx="0.45" cy="0.42" r="0.68"><stop offset="0" stop-color="#76201d"/><stop offset="0.6" stop-color="#621817"/><stop offset="1" stop-color="#460f0e"/></radialGradient></defs>
<g filter="url(#blur6)" opacity="0.45"><path d="M1117.92,1029.25 C1120.84,1028.13 1123.98,1031.05 1127.35,1031.95 C1130.71,1032.85 1134.53,1032.85 1138.12,1034.64 C1141.71,1036.44 1145.52,1039.58 1148.89,1042.72 C1152.25,1045.86 1155.84,1049 1158.31,1053.49 C1160.78,1057.98 1163.03,1063.81 1163.7,1069.65 C1164.37,1075.48 1163.7,1082.89 1162.35,1088.5 C1161.01,1094.11 1158.76,1099.04 1155.62,1103.31 C1152.48,1107.57 1147.77,1111.83 1143.5,1114.08 C1139.24,1116.32 1134.53,1116.77 1130.04,1116.77 C1125.55,1116.77 1120.61,1116.1 1116.57,1114.08 C1112.54,1112.06 1108.95,1108.47 1105.8,1104.65 C1102.66,1100.84 1099.74,1096.13 1097.73,1091.19 C1095.71,1086.25 1094.13,1080.42 1093.69,1075.03 C1093.24,1069.65 1093.69,1063.59 1095.03,1058.88 C1096.38,1054.16 1099.3,1050.12 1101.76,1046.76 C1104.23,1043.39 1107.15,1041.6 1109.84,1038.68 C1112.54,1035.76 1115,1030.38 1117.92,1029.25Z" transform="translate(-8 3)" fill="#66666a"/></g>
<g filter="url(#blur1)"><path d="M1117.92,1029.25 C1120.84,1028.13 1123.98,1031.05 1127.35,1031.95 C1130.71,1032.85 1134.53,1032.85 1138.12,1034.64 C1141.71,1036.44 1145.52,1039.58 1148.89,1042.72 C1152.25,1045.86 1155.84,1049 1158.31,1053.49 C1160.78,1057.98 1163.03,1063.81 1163.7,1069.65 C1164.37,1075.48 1163.7,1082.89 1162.35,1088.5 C1161.01,1094.11 1158.76,1099.04 1155.62,1103.31 C1152.48,1107.57 1147.77,1111.83 1143.5,1114.08 C1139.24,1116.32 1134.53,1116.77 1130.04,1116.77 C1125.55,1116.77 1120.61,1116.1 1116.57,1114.08 C1112.54,1112.06 1108.95,1108.47 1105.8,1104.65 C1102.66,1100.84 1099.74,1096.13 1097.73,1091.19 C1095.71,1086.25 1094.13,1080.42 1093.69,1075.03 C1093.24,1069.65 1093.69,1063.59 1095.03,1058.88 C1096.38,1054.16 1099.3,1050.12 1101.76,1046.76 C1104.23,1043.39 1107.15,1041.6 1109.84,1038.68 C1112.54,1035.76 1115,1030.38 1117.92,1029.25Z" fill="#fff" stroke="#fff" stroke-width="4.2"/></g>
<path d="M1117.92,1029.25 C1120.84,1028.13 1123.98,1031.05 1127.35,1031.95 C1130.71,1032.85 1134.53,1032.85 1138.12,1034.64 C1141.71,1036.44 1145.52,1039.58 1148.89,1042.72 C1152.25,1045.86 1155.84,1049 1158.31,1053.49 C1160.78,1057.98 1163.03,1063.81 1163.7,1069.65 C1164.37,1075.48 1163.7,1082.89 1162.35,1088.5 C1161.01,1094.11 1158.76,1099.04 1155.62,1103.31 C1152.48,1107.57 1147.77,1111.83 1143.5,1114.08 C1139.24,1116.32 1134.53,1116.77 1130.04,1116.77 C1125.55,1116.77 1120.61,1116.1 1116.57,1114.08 C1112.54,1112.06 1108.95,1108.47 1105.8,1104.65 C1102.66,1100.84 1099.74,1096.13 1097.73,1091.19 C1095.71,1086.25 1094.13,1080.42 1093.69,1075.03 C1093.24,1069.65 1093.69,1063.59 1095.03,1058.88 C1096.38,1054.16 1099.3,1050.12 1101.76,1046.76 C1104.23,1043.39 1107.15,1041.6 1109.84,1038.68 C1112.54,1035.76 1115,1030.38 1117.92,1029.25Z" fill="url(#ph4)"/>
<path d="M1120,1036 c2,-6 8,-7 12,-5 c5,-2 10,1 12,6 c-6,3 -16,4 -24,-1z" fill="#a04038" opacity="0.9"/><g fill="#f3cfc4" opacity="0.9"><ellipse cx="1136" cy="1062" rx="1.8" ry="1.4"/><ellipse cx="1141" cy="1066" rx="1.6" ry="1.3"/><ellipse cx="1146" cy="1062" rx="1.6" ry="1.3"/><ellipse cx="1132" cy="1073" rx="1.6" ry="1.3"/><ellipse cx="1138" cy="1076" rx="1.6" ry="1.3"/><ellipse cx="1144" cy="1074" rx="1.6" ry="1.3"/><ellipse cx="1148" cy="1069" rx="1.4" ry="1.2"/><ellipse cx="1106" cy="1068" rx="1.2" ry="3" transform="rotate(20 1106 1068)"/><ellipse cx="1104" cy="1077" rx="1.1" ry="2.4" transform="rotate(20 1104 1077)"/><ellipse cx="1140" cy="1054" rx="2" ry="1.2"/></g>
</g>
<defs><linearGradient id="hb1" x1="0" y1="0.6" x2="1" y2="0.2"><stop offset="0" stop-color="#fefefb"/><stop offset="0.45" stop-color="#fafbf4"/><stop offset="0.8" stop-color="#e3e9e0"/><stop offset="1" stop-color="#d3ddd5"/></linearGradient>
<clipPath id="hc1"><rect x="1354.5" y="62" width="414" height="276"/></clipPath>
<clipPath id="ho1"><path d="M1420.65,176.92 C1419.98,167.66 1421.09,160.83 1423.29,153.12 C1425.49,145.41 1428.8,137.92 1433.87,130.65 C1438.93,123.37 1445.98,115.66 1453.7,109.49 C1461.41,103.32 1470.44,98.48 1480.14,93.63 C1489.83,88.78 1501.29,83.93 1511.87,80.41 C1522.44,76.88 1533.46,74.37 1543.6,72.47 C1553.73,70.58 1562.55,69.26 1572.68,69.04 C1582.82,68.82 1593.83,69.7 1604.41,71.15 C1614.99,72.61 1625.56,74.02 1636.14,77.76 C1646.72,81.51 1658.61,87.24 1667.87,93.63 C1677.12,100.02 1684.17,107.95 1691.67,116.1 C1699.16,124.26 1706.87,133.29 1712.82,142.54 C1718.77,151.8 1724.19,161.93 1727.36,171.63 C1730.53,181.32 1731.86,191.02 1731.86,200.71 C1731.86,210.41 1730.53,220.54 1727.36,229.8 C1724.19,239.05 1719.21,247.65 1712.82,256.24 C1706.43,264.83 1697.84,273.65 1689.02,281.36 C1680.21,289.07 1670.07,296.34 1659.94,302.51 C1649.8,308.68 1639.22,313.84 1628.21,318.38 C1617.19,322.92 1605.29,327.1 1593.83,329.75 C1582.38,332.39 1570.92,334.15 1559.46,334.24 C1548,334.33 1535.66,333.58 1525.09,330.27 C1514.51,326.97 1505.7,322.34 1496,314.41 C1486.31,306.48 1475.73,294.14 1466.92,282.68 C1458.1,271.22 1449.73,258 1443.12,245.66 C1436.51,233.32 1431,220.1 1427.26,208.65 C1423.51,197.19 1421.31,186.17 1420.65,176.92Z"/></clipPath>
<radialGradient id="hg1" cx="0.5" cy="0.5" r="0.6"><stop offset="0" stop-color="#aa2c5e"/><stop offset="0.55" stop-color="#c02e56"/><stop offset="1" stop-color="#c02e56"/></radialGradient></defs>
<g clip-path="url(#hc1)">
<rect x="1354.5" y="62" width="414" height="276" fill="url(#hb1)"/>
<path d="M1420.65,176.92 C1419.98,167.66 1421.09,160.83 1423.29,153.12 C1425.49,145.41 1428.8,137.92 1433.87,130.65 C1438.93,123.37 1445.98,115.66 1453.7,109.49 C1461.41,103.32 1470.44,98.48 1480.14,93.63 C1489.83,88.78 1501.29,83.93 1511.87,80.41 C1522.44,76.88 1533.46,74.37 1543.6,72.47 C1553.73,70.58 1562.55,69.26 1572.68,69.04 C1582.82,68.82 1593.83,69.7 1604.41,71.15 C1614.99,72.61 1625.56,74.02 1636.14,77.76 C1646.72,81.51 1658.61,87.24 1667.87,93.63 C1677.12,100.02 1684.17,107.95 1691.67,116.1 C1699.16,124.26 1706.87,133.29 1712.82,142.54 C1718.77,151.8 1724.19,161.93 1727.36,171.63 C1730.53,181.32 1731.86,191.02 1731.86,200.71 C1731.86,210.41 1730.53,220.54 1727.36,229.8 C1724.19,239.05 1719.21,247.65 1712.82,256.24 C1706.43,264.83 1697.84,273.65 1689.02,281.36 C1680.21,289.07 1670.07,296.34 1659.94,302.51 C1649.8,308.68 1639.22,313.84 1628.21,318.38 C1617.19,322.92 1605.29,327.1 1593.83,329.75 C1582.38,332.39 1570.92,334.15 1559.46,334.24 C1548,334.33 1535.66,333.58 1525.09,330.27 C1514.51,326.97 1505.7,322.34 1496,314.41 C1486.31,306.48 1475.73,294.14 1466.92,282.68 C1458.1,271.22 1449.73,258 1443.12,245.66 C1436.51,233.32 1431,220.1 1427.26,208.65 C1423.51,197.19 1421.31,186.17 1420.65,176.92Z" fill="url(#hg1)"/>
<path d="M1420.65,176.92 C1419.98,167.66 1421.09,160.83 1423.29,153.12 C1425.49,145.41 1428.8,137.92 1433.87,130.65 C1438.93,123.37 1445.98,115.66 1453.7,109.49 C1461.41,103.32 1470.44,98.48 1480.14,93.63 C1489.83,88.78 1501.29,83.93 1511.87,80.41 C1522.44,76.88 1533.46,74.37 1543.6,72.47 C1553.73,70.58 1562.55,69.26 1572.68,69.04 C1582.82,68.82 1593.83,69.7 1604.41,71.15 C1614.99,72.61 1625.56,74.02 1636.14,77.76 C1646.72,81.51 1658.61,87.24 1667.87,93.63 C1677.12,100.02 1684.17,107.95 1691.67,116.1 C1699.16,124.26 1706.87,133.29 1712.82,142.54 C1718.77,151.8 1724.19,161.93 1727.36,171.63 C1730.53,181.32 1731.86,191.02 1731.86,200.71 C1731.86,210.41 1730.53,220.54 1727.36,229.8 C1724.19,239.05 1719.21,247.65 1712.82,256.24 C1706.43,264.83 1697.84,273.65 1689.02,281.36 C1680.21,289.07 1670.07,296.34 1659.94,302.51 C1649.8,308.68 1639.22,313.84 1628.21,318.38 C1617.19,322.92 1605.29,327.1 1593.83,329.75 C1582.38,332.39 1570.92,334.15 1559.46,334.24 C1548,334.33 1535.66,333.58 1525.09,330.27 C1514.51,326.97 1505.7,322.34 1496,314.41 C1486.31,306.48 1475.73,294.14 1466.92,282.68 C1458.1,271.22 1449.73,258 1443.12,245.66 C1436.51,233.32 1431,220.1 1427.26,208.65 C1423.51,197.19 1421.31,186.17 1420.65,176.92Z" fill="#fff" filter="url(#tex2)" opacity="0.5"/>
<path d="M1420.65,176.92 C1419.98,167.66 1421.09,160.83 1423.29,153.12 C1425.49,145.41 1428.8,137.92 1433.87,130.65 C1438.93,123.37 1445.98,115.66 1453.7,109.49 C1461.41,103.32 1470.44,98.48 1480.14,93.63 C1489.83,88.78 1501.29,83.93 1511.87,80.41 C1522.44,76.88 1533.46,74.37 1543.6,72.47 C1553.73,70.58 1562.55,69.26 1572.68,69.04 C1582.82,68.82 1593.83,69.7 1604.41,71.15 C1614.99,72.61 1625.56,74.02 1636.14,77.76 C1646.72,81.51 1658.61,87.24 1667.87,93.63 C1677.12,100.02 1684.17,107.95 1691.67,116.1 C1699.16,124.26 1706.87,133.29 1712.82,142.54 C1718.77,151.8 1724.19,161.93 1727.36,171.63 C1730.53,181.32 1731.86,191.02 1731.86,200.71 C1731.86,210.41 1730.53,220.54 1727.36,229.8 C1724.19,239.05 1719.21,247.65 1712.82,256.24 C1706.43,264.83 1697.84,273.65 1689.02,281.36 C1680.21,289.07 1670.07,296.34 1659.94,302.51 C1649.8,308.68 1639.22,313.84 1628.21,318.38 C1617.19,322.92 1605.29,327.1 1593.83,329.75 C1582.38,332.39 1570.92,334.15 1559.46,334.24 C1548,334.33 1535.66,333.58 1525.09,330.27 C1514.51,326.97 1505.7,322.34 1496,314.41 C1486.31,306.48 1475.73,294.14 1466.92,282.68 C1458.1,271.22 1449.73,258 1443.12,245.66 C1436.51,233.32 1431,220.1 1427.26,208.65 C1423.51,197.19 1421.31,186.17 1420.65,176.92Z" fill="#fff" filter="url(#tex)" opacity="0.55"/>
<g clip-path="url(#ho1)">
<ellipse cx="1644.07" cy="161.05" rx="52.88" ry="39.66" fill="#9a2c66" opacity="0.38" filter="url(#blur6)"/>
<ellipse cx="1525.09" cy="266.82" rx="52.88" ry="31.73" fill="#a82c5c" opacity="0.45" filter="url(#blur6)"/>
<ellipse cx="1511.87" cy="187.49" rx="23.8" ry="42.31" fill="#a02c60" opacity="0.4" filter="url(#blur6)"/>
<ellipse cx="1696.95" cy="208.65" rx="29.09" ry="58.17" fill="#a82e62" opacity="0.4" filter="url(#blur6)"/>
<path d="M1583.5,272.42A90.21,75.5 0 0 1 1557.39,264.31M1635.58,281.01A101.37,92.44 0 0 1 1614.31,285.67M1568.99,261.72A79.14,73.66 0 0 1 1549.03,245.57M1634.67,132.91A73.93,68.29 0 0 1 1648.26,140.84M1543.85,154.44A79.04,68.7 0 0 1 1563.54,139.77M1571.05,132.57A84.4,72.03 0 0 1 1591.22,127.71M1568.55,97.18A124.22,106.21 0 0 1 1585.31,93.66M1678.94,161.2A85.87,77.82 0 0 1 1684.01,170.35M1573.94,141.76A73.56,66.96 0 0 1 1602.7,134.95M1526.55,142.03A106.98,95.16 0 0 1 1542.93,127.77M1588.77,138.59A74.51,65.59 0 0 1 1614.95,135.8M1645.06,285.9A105.7,100.17 0 0 1 1624.03,292.3M1560.12,249.26A79.96,70.37 0 0 1 1546.28,237.03M1635.69,88.41A121.91,112.81 0 0 1 1668.81,101.96M1577.51,305.9A128.08,112.77 0 0 1 1563.53,302.67M1649.31,267.4A92.95,78.41 0 0 1 1628.8,274.4M1532.77,130.71A106.21,93.37 0 0 1 1558.88,116.45M1491.45,219.98A112.82,98.17 0 0 1 1489,202.35M1580.67,261.2A81.48,70.41 0 0 1 1564.18,255.77M1642.49,268.41A91.19,80.23 0 0 1 1608.98,274.76M1604.47,275.25A93.83,77.69 0 0 1 1571.08,268.17M1542.05,226.13A74.37,72.3 0 0 1 1536.94,212.46M1581.41,290.75A109.44,93.92 0 0 1 1555.59,283.8M1526.65,276.62A113.64,101.73 0 0 1 1512.72,263.27M1560.97,272.55A95.4,83.08 0 0 1 1535.25,252.57M1545.87,276.12A109.17,97.96 0 0 1 1527.24,262.76M1574.04,126.44A93.1,80.65 0 0 1 1613.21,122.08M1554.08,268.86A95.44,85.71 0 0 1 1541.41,260.81M1487.5,171.14A123.87,110.88 0 0 1 1497.37,145.35M1595.02,94.72A115.8,106.47 0 0 1 1618.6,95.52M1488.54,221.05A124,107.25 0 0 1 1486.24,202.96M1656.39,144.94A86.42,72.39 0 0 1 1678.21,166.89M1519.43,161.04A94.9,81.32 0 0 1 1526.54,152.23M1485.87,196.5A123.14,107.62 0 0 1 1490.72,165.22M1536.41,145.43A91.15,74.22 0 0 1 1548.64,136M1529.21,145.96A99.47,86.81 0 0 1 1557.72,125.84M1647.51,271.35A106.93,86.23 0 0 1 1625.6,277.31M1585.46,109.56A101,90.22 0 0 1 1611.45,108.28M1537.92,161.96A79.18,69.3 0 0 1 1547.75,151.58M1683.55,119.57A117.06,103.99 0 0 1 1699.33,134.37M1517.57,159.35A103.59,90.76 0 0 1 1531,141.51M1539.4,152.11A83.98,75.97 0 0 1 1564.73,129.96M1559.71,252.83A80.85,64.32 0 0 1 1551.62,247.45M1556.95,110.55A110.5,104.83 0 0 1 1568.45,105.44M1516.69,174.46A95.2,83.62 0 0 1 1533.49,143.83M1570.31,266.37A93.17,79.92 0 0 1 1554.46,258.7M1537.24,225.83A78.33,66.59 0 0 1 1528.38,203.52M1603.73,308.12A125.56,107.28 0 0 1 1586.79,307.44M1669.93,129.77A102.27,85.39 0 0 1 1692.48,152.73M1617.74,300.7A107.62,103.84 0 0 1 1607.92,301.16M1630.04,100.51A114.4,94.8 0 0 1 1641.36,102.73M1524.73,152.94A92.87,77.97 0 0 1 1550.18,130.47M1583.49,265.06A77.45,71.1 0 0 1 1574.71,262.47M1521.2,171.12A87.04,73.49 0 0 1 1526.13,160.76M1511.83,147.95A109.88,104.12 0 0 1 1519.88,137.13M1508.45,173.11A100.15,90.1 0 0 1 1523.99,144.74M1636.56,124.86A91.08,76.36 0 0 1 1662.59,136.57M1617.29,266.32A76.46,72.85 0 0 1 1588.61,266.19M1550.15,103.3A122.67,102.79 0 0 1 1566.68,97.86M1545.93,265.49A95.71,90.65 0 0 1 1523.85,237.13M1520.24,226.28A90.89,76.17 0 0 1 1517.52,219.79M1647.89,270.55A96.52,83.73 0 0 1 1633.45,276.11M1554.4,267.53A92.27,80.78 0 0 1 1534.65,251.77M1486.68,218.97A127.09,109.47 0 0 1 1483.79,202.08M1633.42,141.27A78.34,62.82 0 0 1 1663.19,156.64M1510.01,171.19A104.28,94 0 0 1 1526.7,143.36M1564.44,106.52A110.55,93.13 0 0 1 1579.53,103.05M1506.11,145.01A121.11,99.16 0 0 1 1524.94,126.94M1597.77,93.48A112.86,106.48 0 0 1 1621.38,94.17M1622.93,274.49A90.07,80.47 0 0 1 1606.25,275.58M1508.04,223.67A102.94,89.79 0 0 1 1504.67,203.12M1593.88,258.45A78.08,63.41 0 0 1 1578.9,254.9M1555.94,247.83A74.56,66.64 0 0 1 1540.16,228.14M1505.21,181.97A105.55,91.35 0 0 1 1507.8,171.16M1538.9,190.84A71.93,62.1 0 0 1 1548.81,165.49M1539.1,292.01A134.54,106.07 0 0 1 1514.88,279.04M1489.19,159.81A126.11,104.49 0 0 1 1508.09,131.38M1639.77,251.62A71.2,63.49 0 0 1 1619.74,258.25M1639.54,123.64A87.08,83.4 0 0 1 1646.73,126.65M1678.84,117.85A121,100.34 0 0 1 1692.82,128.45M1503.71,197.26A97.58,79.48 0 0 1 1504.58,183.05M1527.86,286.07A125.1,116.51 0 0 1 1515.22,275.29M1638.55,94.72A124.8,110.72 0 0 1 1666.2,103.67M1597.21,137.84A73.89,62.37 0 0 1 1617.89,137.67M1592.8,311.91A130.15,116.31 0 0 1 1568.37,307.87M1564.57,133.17A84.49,73.42 0 0 1 1579.8,127.3M1659.77,145.16A90.05,73.46 0 0 1 1676.54,159.81M1573.59,257.01A78.51,68.43 0 0 1 1564.32,252.95M1664.23,122A106.19,90.71 0 0 1 1687.97,140.74M1631.12,273.96A92.55,81.7 0 0 1 1614.46,275.95M1543.33,295.2A122.03,112.63 0 0 1 1528.85,286.36M1665.04,108.62A127.8,105.75 0 0 1 1673.3,112.93M1665.65,286.43A111.46,98.22 0 0 1 1645.78,294.35M1605.98,277.85A91.96,77.96 0 0 1 1592.49,277.01M1606.89,100.57A114.12,92.9 0 0 1 1630.66,102.72M1533.16,100.87A128.19,112.29 0 0 1 1549.84,93.02M1620.76,265.68A76.82,69.93 0 0 1 1597.9,266.43M1548.92,237.98A76.97,63.79 0 0 1 1538.17,221.74M1557.62,255.48A81.57,75.24 0 0 1 1535.21,230.5M1499.47,209.52A108.27,91.9 0 0 1 1499.41,195.76M1507.82,207.14A95.16,80.49 0 0 1 1510.33,181.71M1677.48,153.62A82,76.07 0 0 1 1685.27,167.61M1672.62,145.91A89.12,79.83 0 0 1 1684.48,163.78M1581.09,306.28A122.3,105.15 0 0 1 1561.12,301.64M1530.27,214.74A81.02,69.92 0 0 1 1531.02,183.27M1574.55,266.98A93.81,78.83 0 0 1 1542.74,249.86M1519.35,237.63A92.89,86.74 0 0 1 1513.8,226.37M1672.61,161.82A83.22,69.11 0 0 1 1679.93,172.45M1536.52,182.76A74.59,69.07 0 0 1 1542.08,166.31M1538.37,201.01A70.56,61.57 0 0 1 1541.1,174.99M1529.75,284.21A122.69,115.71 0 0 1 1508.28,261.54M1535.41,268.06A102.15,97.35 0 0 1 1516.63,246.43M1527.79,101.56A125.55,115.5 0 0 1 1562.99,85.32M1474.2,223.4A134.67,107.14 0 0 1 1471.13,209.44M1594.39,98.35A116.88,101.53 0 0 1 1628.91,99.18M1610.83,123.53A91.04,77.37 0 0 1 1621.07,124.82M1543.24,168.38A79.32,63.32 0 0 1 1554.8,156.85M1612.41,264.42A75.35,67.01 0 0 1 1590.44,262.74M1565.93,110.18A103.87,98.49 0 0 1 1595.59,102.07M1537.45,150.61A87.22,75.83 0 0 1 1550.25,138.32M1651.39,137.4A86.67,71.22 0 0 1 1671.38,152.23M1629.01,117.93A86.08,77.96 0 0 1 1654.97,127.27M1681.13,110.55A117.01,111.68 0 0 1 1688.03,116.86M1683.66,130.74A103.6,95.85 0 0 1 1696,144.96M1608.93,301.43A125.6,106.19 0 0 1 1581.25,299.2M1555.85,250.31A79.79,72.18 0 0 1 1539.63,233.42M1562.49,287.36A112.81,92.42 0 0 1 1545.68,280.74M1532.94,207.72A75.65,70.16 0 0 1 1531.96,186.04M1537.97,251.57A97.42,82.61 0 0 1 1527.17,239.31M1650.66,122.97A99.69,81.38 0 0 1 1681.9,143.88M1656.09,147.09A76.68,63.45 0 0 1 1670.85,159.69M1641.37,267.53A78.31,72.67 0 0 1 1618.98,274.01M1509.6,173.16A99.22,78.24 0 0 1 1514.76,163.39M1623.66,103.02A106.7,93.13 0 0 1 1661.39,116.56M1631.65,290A102.32,91.13 0 0 1 1593.79,292.73M1613.86,133.13A85.49,68.79 0 0 1 1628.88,135.53M1522.86,207.66A82.98,76.43 0 0 1 1522.03,186.37M1649.94,291.54A129.88,103.56 0 0 1 1622.46,296.39M1510.9,149.14A108.68,92.74 0 0 1 1528.91,130.06M1490.2,194.58A110.9,93.49 0 0 1 1493.61,175.81M1611.27,100.82A111.57,97.28 0 0 1 1633.22,104.28M1614.12,274.02A99.46,80.83 0 0 1 1591.62,273.47M1608.91,92.61A113.66,105.73 0 0 1 1633.22,96.64M1641.82,134.21A77.87,74.36 0 0 1 1670.01,156.17M1687.63,150.75A106.63,83.57 0 0 1 1704.98,178.19M1606.23,118.25A96.78,77.62 0 0 1 1619.87,118.63M1671.38,136.85A99.78,83.76 0 0 1 1681.32,145.85M1587.67,274.77A80.18,75.09 0 0 1 1556.6,260.02M1532.26,171.21A80.15,69.9 0 0 1 1548.12,151.96M1609.79,301.74A128.39,104.75 0 0 1 1567.76,296.75M1510.81,124.52A125.15,116.53 0 0 1 1524.38,111.11M1627.52,138.16A76.55,67.18 0 0 1 1642.01,143.11M1646.7,268.23A90.3,79.29 0 0 1 1638.53,271.83M1594.38,299.21A117.27,106.56 0 0 1 1579.48,296.82M1535.7,224.87A76.31,69.83 0 0 1 1531.7,212.46M1591.43,282.66A95.54,88.76 0 0 1 1557.27,272.41M1614.51,85.58A125.46,108.03 0 0 1 1636.31,88.94M1561.58,128.7A90.4,84.98 0 0 1 1580.81,120.01M1533.06,166.39A78.05,61.83 0 0 1 1544.48,152.85M1681.59,138.04A104.89,92.68 0 0 1 1689.5,147.08M1564.88,296.12A125.57,107.86 0 0 1 1546.83,289.71M1663.87,284.78A117.62,98.83 0 0 1 1629.18,294.97M1602.74,272.97A88.61,76.56 0 0 1 1587.14,272.03M1575.17,94.49A126.03,106.22 0 0 1 1592.77,91.82M1557.06,139.64A83.17,74.58 0 0 1 1590.09,128.18M1599.62,122.9A90.57,73.77 0 0 1 1637.85,126.63M1666.14,141.77A91.78,75.2 0 0 1 1685.26,159.56M1566.93,102.25A122.52,103.21 0 0 1 1603.23,97.12M1559.49,139.47A80.39,70.61 0 0 1 1567.53,134.48M1483.74,241.06A129.57,111.9 0 0 1 1478.6,230.16M1591.53,95.3A117.56,102.25 0 0 1 1602.52,94.52M1634.26,304.7A118.6,104.41 0 0 1 1599.09,306.49M1637.8,265.13A82.55,70.17 0 0 1 1603.63,269.45M1612.18,272.23A87.64,77.18 0 0 1 1601.26,272.05M1560.66,248.46A72.59,68.1 0 0 1 1549.84,237.64M1642.45,113.54A101.3,91.67 0 0 1 1665.92,126.8M1578.19,121.05A88.45,83.98 0 0 1 1601.61,117.72M1646.88,265.37A77.89,71.94 0 0 1 1634.8,270.51M1622.37,112.01A105.41,85.62 0 0 1 1636.73,114.72M1517.37,273.42A121.54,112.69 0 0 1 1508.05,262.53M1617.47,133.08A76.3,66.72 0 0 1 1644.34,140.4M1662.43,126.93A92.4,80.92 0 0 1 1670.74,132.64M1491.09,161.99A124.46,109.15 0 0 1 1499.17,145.02M1598.51,90.94A111.74,105.54 0 0 1 1626.66,92.95M1593.47,108.92A112.29,92.38 0 0 1 1607.53,108.44M1658.87,120.75A102.1,90.24 0 0 1 1671.64,129.56M1586.46,266.29A78.58,69.76 0 0 1 1572.36,262.14M1669.63,164.74A79.9,71.95 0 0 1 1680.14,188.76M1624.8,88.68A131.97,107.56 0 0 1 1656.9,96.11M1520.14,217.85A86.88,73.83 0 0 1 1518.51,210.07M1495.03,184.25A112.68,99.89 0 0 1 1497.54,172.6M1525.64,140.79A100.43,88.94 0 0 1 1549.52,121.18M1572.37,104.06A117.05,100.05 0 0 1 1607.91,99.44M1614.53,292.24A110.97,92.17 0 0 1 1592.32,291.38M1502.76,192.46A102.48,81.52 0 0 1 1509.5,169.89M1612.93,106.21A104.65,96.84 0 0 1 1632.46,109.21M1613.15,122.46A83.01,71.89 0 0 1 1648.01,132.12M1503.25,160.97A113.19,104.84 0 0 1 1516.85,137.43M1574.91,126.77A90.06,72.73 0 0 1 1595.37,122.32M1547.05,244.88A75.52,67.88 0 0 1 1535.25,230.86M1544.39,259.89A93.62,78.41 0 0 1 1534.11,250.47M1481.11,223.13A123.71,105.4 0 0 1 1478.74,209.6M1526.58,145.34A101.75,90.36 0 0 1 1536.46,134.5M1482.72,178.75A124.94,102.64 0 0 1 1486.99,163.62M1522.31,269.71A117.52,99.86 0 0 1 1508.98,256.93M1520.15,266.56A113.69,101.36 0 0 1 1509.99,255.2M1501.03,228.83A115.44,101.28 0 0 1 1493.85,194.57M1590.39,300.42A111.34,108.42 0 0 1 1558.48,290.78M1530.45,269.2A114.55,94.64 0 0 1 1521.41,262.53M1654.13,144.54A82.86,73.53 0 0 1 1674.92,166.39M1675.95,116.07A114.18,97.4 0 0 1 1700.58,136.73M1494.14,194.69A112.15,96.37 0 0 1 1500.25,164.35M1626.59,284.03A101.44,88.65 0 0 1 1603.69,286.62M1664.57,296.69A125.27,111.17 0 0 1 1630,307.71M1505.64,205.97A96.19,77.64 0 0 1 1510.19,175M1562.95,115.99A108.34,93.91 0 0 1 1600.25,109.03M1652.98,296.38A130.25,106.81 0 0 1 1620.35,302.7M1512.35,160.95A99.46,87.86 0 0 1 1530.32,137.29M1514.1,264.88A117.43,105.07 0 0 1 1496.32,238.4M1540.95,97.85A126.19,113.61 0 0 1 1572.31,86.28M1618.83,112.17A110.25,90.2 0 0 1 1628.53,113.31M1653.57,270.72A92.05,81.27 0 0 1 1640.5,275.82M1522.4,116.85A126.99,111.54 0 0 1 1546.26,102.08M1571.68,131.47A81.99,70.02 0 0 1 1591.68,125.53M1684.91,123.9A121.77,103.13 0 0 1 1705.28,143.5M1532.48,245.69A89.38,80.4 0 0 1 1521.75,229.02M1539.82,160.24A76.82,69.53 0 0 1 1545.61,153.88M1652.64,279.34A104.47,85.64 0 0 1 1632.31,285.46M1605.94,273.72A91.18,79.18 0 0 1 1579.35,271.09M1595.13,293.75A107.47,92.15 0 0 1 1558.46,286.16M1532.03,275.55A118.3,102.15 0 0 1 1508.41,255.38M1587.28,89.68A121.82,111.96 0 0 1 1598.51,88.48M1674.11,148.04A89.24,79.12 0 0 1 1687.01,172.64M1538.53,237.83A77.45,63.9 0 0 1 1526.77,215.48M1530.73,144.78A97.57,80.58 0 0 1 1546.7,131.5M1534.98,121.59A116.12,99.13 0 0 1 1554.7,111.42M1525.8,257.51A109.88,90.08 0 0 1 1519.37,250.46M1698.31,145.25A107.05,98.27 0 0 1 1711.22,174.74M1575.61,129.16A92.28,77.46 0 0 1 1601.16,124.02M1525.75,207.25A83.33,79.74 0 0 1 1527.77,183.71M1662.74,107.93A124.29,106.55 0 0 1 1685.83,121.78M1496.04,247.96A121.25,112.65 0 0 1 1491.91,238.46M1538.46,286.07A122.34,107.02 0 0 1 1517.6,270.3M1617.73,104.07A120.17,97.95 0 0 1 1641.25,108.67M1670.19,126.34A107.6,89.12 0 0 1 1695.59,148.53M1576.36,267.7A83.1,73.27 0 0 1 1551.22,255.05M1629.72,264.03A82.89,73.39 0 0 1 1591.35,266.6M1550.46,140.61A77.41,75.5 0 0 1 1563.92,129.86M1484.91,174.1A121.92,112.7 0 0 1 1494.15,150.74M1632.88,98.77A113.1,98.1 0 0 1 1667.58,112.76M1632,265.9A81.99,70.99 0 0 1 1606.35,268.59M1548.8,155.59A74.45,67.2 0 0 1 1563.84,144.92M1688.94,136.8A105.5,100.99 0 0 1 1702.92,160.77M1533.01,298.43A136.57,118.78 0 0 1 1524.26,293.46M1645.51,295.03A128.41,99.89 0 0 1 1609.77,299.42M1604.07,123.2A82.24,72.92 0 0 1 1640.01,129.08M1536.84,232.11A75.92,66.6 0 0 1 1530.44,220.19M1577.13,126.98A76.72,74.28 0 0 1 1584.51,124.28M1671.76,145.95A85.18,70.93 0 0 1 1689.66,170.2M1653.72,94.37A131.55,109.82 0 0 1 1680.5,106.39M1583.6,289.99A109.97,90.97 0 0 1 1568.37,287M1514.36,272.3A128.31,105.07 0 0 1 1499.1,258.23M1525.33,176.56A87.42,68.07 0 0 1 1532.07,163.01M1552.01,102.15A121.06,104.54 0 0 1 1565.96,97.13M1691.3,154.54A91.65,85.65 0 0 1 1701.46,188.88M1596.48,129.18A79.11,65.08 0 0 1 1613.65,128.2M1645.58,259.34A80.44,73.98 0 0 1 1614.44,268.5M1532.55,157.5A87.76,71.72 0 0 1 1540.86,149.76M1613.46,263.79A74.82,68.35 0 0 1 1588.41,262.31M1629.45,98.39A117.05,97.92 0 0 1 1655.82,106.44M1634.6,297.83A119.69,99.63 0 0 1 1598.65,301.02M1655.44,144.8A71.09,66.79 0 0 1 1669.29,159.67M1582.31,271.73A94.41,81.37 0 0 1 1563.79,265.6M1603.26,293.21A100.56,91.63 0 0 1 1573.63,287.53M1603.85,120A94.95,82.75 0 0 1 1613.99,119.95M1522.21,155.33A99.68,85.81 0 0 1 1526.58,148.87M1623.1,130.77A84.25,71.64 0 0 1 1631.38,133.01M1519.85,134.29A112.38,96.01 0 0 1 1538.48,118.5M1600.91,260.7A72.16,64.98 0 0 1 1579.95,256.56M1541.05,152.98A83.28,67.51 0 0 1 1569.47,136.73M1694.68,131.9A121.07,103.64 0 0 1 1707.54,146.45M1611.18,79.52A126.37,117.14 0 0 1 1630.63,82.08M1687.76,110.92A119.7,109.58 0 0 1 1710.58,135.33M1527.64,278.59A127.43,104.69 0 0 1 1511.28,265.76M1506.29,173.85A101.25,89.68 0 0 1 1509.66,166.23M1633.79,103.03A111.42,92.59 0 0 1 1668.35,114.75M1532.77,268.19A108.82,97.78 0 0 1 1517.23,250.42M1677,145.86A93.57,86.21 0 0 1 1686.11,158.57M1490.97,159.76A122.8,106.46 0 0 1 1498.11,146.6M1544.32,240.09A76.58,70.45 0 0 1 1534.13,225.11M1523.47,117.26A124.56,105.15 0 0 1 1546.06,103.49M1536.84,127.22A101.14,91.13 0 0 1 1555.26,115.56M1534.79,146.99A92.13,83.27 0 0 1 1540.55,141.54M1531.07,256.35A97.21,83.56 0 0 1 1511.92,228.37M1477.83,195.69A126.8,102.2 0 0 1 1478.5,186.88M1670.44,151.36A84.46,76.34 0 0 1 1683.58,175.76M1650.91,111.34A111.75,97.36 0 0 1 1680.84,128.22M1620.59,112.63A104.9,82.14 0 0 1 1651.54,118.96M1522.91,129.5A116.06,105.39 0 0 1 1540.83,114.4M1518.87,121.1A126.7,104.64 0 0 1 1535.87,110.09M1520.19,156.03A99.56,83.08 0 0 1 1533.42,142.3M1567.05,275.11A99.6,81.52 0 0 1 1550.82,268.67M1504.76,258.55A121.66,108.72 0 0 1 1491.28,229.71M1666.39,298.48A131.92,112.79 0 0 1 1656.66,302.32M1698.64,161.68A102.71,88.97 0 0 1 1706.45,181.76M1513.76,234.9A102.17,91.93 0 0 1 1505.44,202.73M1530.3,155.86A95.99,83 0 0 1 1547.86,139.11M1700.13,160.47A104.75,92.77 0 0 1 1706.81,175.91M1640.91,90.28A132.46,116.94 0 0 1 1665.02,99.23M1675.65,102.33A130.37,113.27 0 0 1 1693.16,114.74M1576.15,266.16A88.81,74.1 0 0 1 1551.13,254.36M1533.38,207.63A70.93,64.05 0 0 1 1535.94,181.33M1510.6,130.33A122.41,102.8 0 0 1 1533.45,113.28M1511.93,156.62A105.33,92 0 0 1 1534.93,129.66M1603.86,301.28A121.39,102.99 0 0 1 1591.62,300.88M1635.86,295.87A122.67,102.16 0 0 1 1626.81,297.3M1554.02,250.94A81.26,71.54 0 0 1 1546.66,243.95M1630.98,283.84A94.57,84.03 0 0 1 1595.41,286.11M1637.43,271.26A91.56,78.86 0 0 1 1599.4,274.62M1544.42,146.97A87.73,77.67 0 0 1 1575.26,129.71M1548.65,280.72A118.51,96.49 0 0 1 1533.06,271.66M1532.62,221.14A83.61,68.84 0 0 1 1528.66,210.28M1496.7,215.69A107.87,88.66 0 0 1 1493.6,197.79M1568.99,262.04A88.85,74.32 0 0 1 1553.89,255.3M1581.99,133.32A78.32,70.81 0 0 1 1592.07,131.36M1627.8,91.2A119.5,111.28 0 0 1 1640.95,94.39M1666.59,150.45A81.23,75.74 0 0 1 1677.97,168.43M1658.58,136.81A89.19,73.92 0 0 1 1676.99,152.57M1597.79,301.35A127.4,105.8 0 0 1 1571.94,297.69M1518.46,134.67A106.66,100.56 0 0 1 1530.08,122.02" stroke="#fff" stroke-width="1.1" fill="none" opacity="0.8" stroke-linecap="round"/>
<path d="M1567.81,166.79A52.22,44.3 0 0 1 1575.26,161.09M1569.84,222.73A41.03,36.21 0 0 1 1563.86,213.6M1582.13,136.89A73.43,61.91 0 0 1 1614.69,132.64M1554.84,161.74A67.98,55.99 0 0 1 1568.78,152.2M1535.55,225.87A76.61,65.26 0 0 1 1526.74,203.66M1614.62,252.07A66.1,58.02 0 0 1 1606.1,252.98M1570.1,224.27A41.43,36.65 0 0 1 1561.42,206.02M1553.41,200.79A51.59,44.56 0 0 1 1555.48,178.49M1615.47,235.04A49.29,42.15 0 0 1 1587.08,232.17M1573.84,247.44A72.47,60.79 0 0 1 1547.94,227.66M1590.46,140.21A68.45,63.17 0 0 1 1606.14,139.5M1575.25,146.11A63.29,59.53 0 0 1 1603.68,138.15M1549.12,193.92A53.37,50.29 0 0 1 1561.81,167.61M1564.23,245.51A71.76,60.2 0 0 1 1548.8,230.29M1567.29,213.52A40.05,37.32 0 0 1 1562.82,199.12M1566.32,243.88A69.48,56.39 0 0 1 1554.79,235.73M1609.6,151.57A53.31,44.92 0 0 1 1620.71,153.14M1583.44,257.2A71.81,62.92 0 0 1 1559.33,244.96M1571.66,219.06A42.9,36.92 0 0 1 1563.23,207.94M1538.31,204.56A66.16,56.16 0 0 1 1537.87,195.48M1621.32,231.07A43.47,38.97 0 0 1 1589.68,229.15M1599.63,245.35A62.13,50.58 0 0 1 1579.03,240.89M1552.26,160A73.62,63.97 0 0 1 1571.41,145.16M1619.34,234.7A43.31,39.79 0 0 1 1594.06,233.34M1625.65,140.88A75.08,62.12 0 0 1 1638.11,144.26M1596.28,156.91A46.09,42.34 0 0 1 1611.18,156.7M1616.17,245.19A50.2,44.67 0 0 1 1593.87,244.38M1524.84,191.96A77.63,63.49 0 0 1 1529.7,173.61M1591.33,248.86A63.04,57.6 0 0 1 1574.11,241.05M1582.11,167.88A48.69,40.57 0 0 1 1588.36,164.94M1567.63,166.25A50.35,44.99 0 0 1 1584.21,155.46M1613.71,136.47A72.73,61.62 0 0 1 1626.08,138.87M1605.72,245.67A49.57,42.89 0 0 1 1589.88,243.54M1637.69,129.58A79.7,68.75 0 0 1 1660.8,141.53M1558.94,183.61A50.04,43.75 0 0 1 1578.9,162.51M1624.16,261.74A70.81,66.05 0 0 1 1611.56,263.48M1556.94,180.73A53.56,44.98 0 0 1 1566.97,167.94M1605.56,163.22A45.28,38.61 0 0 1 1624.94,168.48M1568.82,234.95A61.04,50.17 0 0 1 1554.55,221.98M1551.15,170.57A59.38,54.28 0 0 1 1555.92,162.99M1565.21,161.73A62.92,50.75 0 0 1 1592.38,152.8M1540.04,219.13A74.73,60.17 0 0 1 1536.67,208.84M1612.82,251.76A71.01,58.95 0 0 1 1598.03,251.93M1577.1,163.47A53.68,45.02 0 0 1 1594.24,156.15M1608.57,129.15A78.2,67.34 0 0 1 1621.77,130.17M1597.5,261.26A74.09,59.32 0 0 1 1579.02,257.1M1605.37,250.41A66.63,56.29 0 0 1 1581.81,245.68M1589.56,235.89A47.29,40.65 0 0 1 1574.97,227.01M1594.02,159.78A44.88,37.62 0 0 1 1605.57,158.35M1608.74,164.13A47.67,37.04 0 0 1 1629.65,168.3M1596.74,244A50.1,44.38 0 0 1 1579.23,236.46M1553.76,150.05A74.85,61.7 0 0 1 1569.99,140.33M1537.21,162.21A77.54,65.07 0 0 1 1543.16,154.92M1592.13,232.16A40.7,35.24 0 0 1 1578.88,225.57M1562.26,184.78A42.09,32.69 0 0 1 1570.87,174.79M1571.99,170.32A44,39.71 0 0 1 1582.68,163.07M1622.51,147.14A62.37,54.87 0 0 1 1651.3,166.14M1545.32,158.78A72.62,63.72 0 0 1 1564.9,142.39M1555.76,151.18A76.72,67.72 0 0 1 1569.3,142.18M1551.28,182.35A52.25,49.14 0 0 1 1559.17,167.43M1552.55,217.21A56,47.91 0 0 1 1548.24,206.27M1535.76,202.23A71.02,60.96 0 0 1 1536.59,184.98M1567.05,232.05A50.46,47 0 0 1 1556.46,210.14M1608.25,259.14A61.51,56.22 0 0 1 1595.95,258.32M1605.3,154.4A54.94,47.67 0 0 1 1614.16,154.98M1595.53,227.52A39.95,33.9 0 0 1 1584.01,222.5M1601.22,144.66A66.88,55.77 0 0 1 1628.02,148.79M1594.33,158.25A41.07,37.26 0 0 1 1621.38,160.61M1542.02,156.69A76.35,65.62 0 0 1 1569.84,137.17M1564.93,161.84A52.52,49.04 0 0 1 1577.63,153.44M1553.73,194.59A49.67,48.21 0 0 1 1559.87,174.31M1634.49,154.8A60.56,51.14 0 0 1 1642.05,158.68M1591.59,240.14A45.28,39.93 0 0 1 1568.94,228.83M1545.18,180.31A64.61,53.01 0 0 1 1558.4,161.21M1574.23,147.54A71.53,58.5 0 0 1 1605.2,142.31M1552.49,185.11A50.38,44.76 0 0 1 1567.59,160.51M1543.4,226.42A66.68,57.53 0 0 1 1536.45,197.28M1611.35,233.02A47.2,38.36 0 0 1 1590.95,231.16M1594.72,232.85A42.86,40.82 0 0 1 1575.54,219.03M1629.35,158.29A50.89,42.51 0 0 1 1645.78,168.89M1615.3,149.17A53.24,44.97 0 0 1 1625.2,151.15M1613.22,266.93A77.62,65.05 0 0 1 1587.56,265.68M1576.38,229.6A46.66,43.38 0 0 1 1567.15,220.67M1556.16,237.7A62.26,58.93 0 0 1 1541.49,208.49M1561.01,243.95A72.4,64.14 0 0 1 1543.45,223.2M1584.44,262.56A75.46,67.99 0 0 1 1559.5,250.64M1611.12,158.37A46,43.4 0 0 1 1626.38,161.7M1546.31,250.54A74.21,71.96 0 0 1 1541.25,244.35M1580.33,166.54A43.25,38.8 0 0 1 1588.35,163.21M1568.17,137.65A73.42,68.26 0 0 1 1598.5,126.06M1615.5,251.04A63.62,54.73 0 0 1 1594.45,251.6M1542,238.97A75.26,67.84 0 0 1 1528.38,212.28M1578.17,168.66A44.44,39.81 0 0 1 1586.43,163.32M1615.01,150.91A61.87,52.86 0 0 1 1631.85,156.03M1583.57,233.97A50.37,43.27 0 0 1 1571.25,228.15M1552.3,223.7A61.86,53.82 0 0 1 1549.26,217.46M1636.5,145.32A65.36,57.54 0 0 1 1660.89,163.37M1527.65,217.33A82.65,63.79 0 0 1 1522.74,201.9M1620.74,144.95A61.58,53.27 0 0 1 1634.2,149.12M1605.02,156.22A45.15,37.56 0 0 1 1631.47,160.61M1546.13,176.57A67,58.99 0 0 1 1552.96,162.79M1547.96,176.76A61.44,51.15 0 0 1 1572.47,155.01M1544.42,219.78A66.24,59.76 0 0 1 1540.62,199.94M1571.75,248.66A60.8,54.45 0 0 1 1553.84,233.72M1541.78,202.69A60.37,52.47 0 0 1 1543.23,190.9M1589.01,149.25A60.09,53.39 0 0 1 1602.96,147.9M1608.53,131.99A75.12,65.21 0 0 1 1641.06,141.63M1589.55,233.95A46.01,38.7 0 0 1 1577.11,229.31M1610.46,249.83A57.08,49.81 0 0 1 1592.6,247.26M1576.88,142.69A71.26,59.87 0 0 1 1588.26,139.1M1554.46,218.58A54.64,44.62 0 0 1 1547.71,205.25M1576.31,163.86A48.45,38.52 0 0 1 1589.32,158.77M1602.15,145.67A65.59,55.37 0 0 1 1615.63,146.36M1567.47,201.24A40.81,36.52 0 0 1 1568.2,187.41M1546.21,234.16A68.93,65.77 0 0 1 1539.54,217.88M1540.49,217.7A69.75,57.99 0 0 1 1534.3,195.33M1547.48,189.49A60.99,52.21 0 0 1 1558.56,163.11M1598.58,152.13A57.38,50.21 0 0 1 1617.2,152.83M1598.02,144.86A56.47,53.09 0 0 1 1622.56,145.76M1579.06,144.27A58.31,55.45 0 0 1 1606.17,139.98M1606.15,232.45A44.5,38.83 0 0 1 1581.29,225.69M1612.91,251.37A62.12,52.91 0 0 1 1585.05,249.04M1587.67,254.01A78.34,62.6 0 0 1 1570.12,248.81M1569.95,225.09A49.97,42.98 0 0 1 1563.05,214.84M1577.84,224.02A40.34,34.84 0 0 1 1568.42,202.23M1564.52,189.67A42.01,35.58 0 0 1 1571.15,177.32M1575.71,249.43A69.62,62.17 0 0 1 1549.95,230.1M1552.42,184.1A54.3,49.65 0 0 1 1559.84,171.47M1543.24,171.63A74.48,58.67 0 0 1 1555.74,157.4M1563.59,165.25A57.33,47.39 0 0 1 1569.36,159.84M1532.37,178.78A77.59,64.45 0 0 1 1548.96,155.86M1604.21,155.85A45.58,39.61 0 0 1 1614.41,155.73M1631.04,136.26A73.97,62.7 0 0 1 1649.58,144.19M1606.55,239.57A44.52,38.42 0 0 1 1582.94,236.49M1553.18,236.01A61.22,56.61 0 0 1 1543.2,217.07M1592.17,154.72A44.88,40.26 0 0 1 1623.1,156.69M1559.17,188.86A47.95,42.95 0 0 1 1562.52,181.08M1602.35,165.13A46.37,38.43 0 0 1 1612.68,164.67M1563.66,224.49A48.53,44.29 0 0 1 1557.17,201.96M1538.05,163.5A71.66,67.09 0 0 1 1551.85,146.19M1559.95,251.7A77.04,62.25 0 0 1 1534.45,230.34M1547.82,152.44A74.53,68.78 0 0 1 1554.18,146.46M1587.12,160.07A44.34,40.77 0 0 1 1600.77,157.89M1541.13,169.82A67.26,62.54 0 0 1 1552.86,154.59M1564.93,185.14A42.94,37.37 0 0 1 1573.18,174.12M1548.32,233.12A73.52,63.49 0 0 1 1536.86,207.84M1597.17,255.78A73.99,61.99 0 0 1 1575.63,250.73M1544.56,191.35A58.54,50.42 0 0 1 1548.96,177.14M1610.05,150.66A51.62,42.56 0 0 1 1630.73,154.38M1539.76,178.94A67.86,59.82 0 0 1 1554.06,159.16M1567.16,213.94A38.72,35.77 0 0 1 1565.29,197.15M1565.68,174.26A47.29,42.92 0 0 1 1583.78,156.74M1621.69,270.73A76.9,70.7 0 0 1 1595.82,271.08M1621.81,150.44A57.14,47.76 0 0 1 1629.07,152.12M1577.83,161.25A47.08,41.24 0 0 1 1600.46,155.3M1570.77,224.33A48.09,41.91 0 0 1 1562.79,197.4M1618.09,132.12A71.39,63.7 0 0 1 1646.06,141.69M1602.6,257.36A74.57,62.68 0 0 1 1573.2,251.7M1596.51,263.36A71.03,62.39 0 0 1 1566.89,251.64M1541.99,174.62A74.41,60.45 0 0 1 1553.95,160.23M1523.54,188.84A80.19,65.4 0 0 1 1539.65,161.52M1565.36,250.79A72.61,66.29 0 0 1 1554.77,243.02M1567.97,152.04A68.08,61 0 0 1 1584.93,143.8M1539.41,219.53A70.78,63.47 0 0 1 1537.23,210.67M1584.68,130.82A69.2,65.49 0 0 1 1591.97,129.04M1555.94,170.51A55.09,50.78 0 0 1 1568.23,156.65M1556.81,238.64A63.56,56.74 0 0 1 1550.63,231.66M1591.86,261.16A68.73,60.41 0 0 1 1566.7,253.58M1537.2,228.98A81.04,66.44 0 0 1 1531.66,217.31M1631.53,148.44A61.63,49.46 0 0 1 1650.79,157.45" stroke="#fff" stroke-width="1.0" fill="none" opacity="0.75" stroke-linecap="round"/>
<path d="M1557.56,317.85A153.28,128.02 0 0 1 1543.79,313M1516.69,295.59A137.96,131.46 0 0 1 1499.04,277.14M1566.82,57.37A173.1,144.07 0 0 1 1578.5,55.4M1548.22,71.69A161.26,137.24 0 0 1 1569.39,66.17M1724.66,127.96A141.5,124.69 0 0 1 1730.41,135.73M1699.1,84.5A154.43,134.71 0 0 1 1722.98,103.27M1699.51,80.14A157.64,146.92 0 0 1 1709.59,87.6M1557.12,64.12A158.42,139.36 0 0 1 1574.58,59.83M1554.92,50.18A177.15,153.62 0 0 1 1591.8,43.86M1447.91,222.48A160.53,135.91 0 0 1 1446.3,210.24M1511.4,121.98A125.43,113.97 0 0 1 1539.06,102.06M1488.78,211.41A122,110.59 0 0 1 1488.85,193.29M1460.67,259.75A161.51,146.59 0 0 1 1453.21,243.97M1713.6,121.21A140.66,131.45 0 0 1 1723.35,134.47M1632.07,66.02A152.13,137.28 0 0 1 1650.43,70.42M1619.4,68.73A154.71,134.15 0 0 1 1637.04,71.12M1451.41,231.08A153.59,133.66 0 0 1 1447.56,201.38M1433.73,228.98A171.19,151.5 0 0 1 1431.11,213.75M1649.64,76.18A150.72,129.47 0 0 1 1661.79,80.01M1637.64,66.03A152.17,136.71 0 0 1 1658.3,70.81M1450.05,180.76A160.58,145.92 0 0 1 1452.54,167.37M1476.55,296.81A164.47,153.01 0 0 1 1464.45,281.93M1519.38,76.3A160.42,142.3 0 0 1 1539.49,66.51M1472.58,288.54A169.35,151.21 0 0 1 1455.71,263.71M1666.29,59.64A161.24,143.96 0 0 1 1694.06,71.8M1461.33,222.84A147.45,130.68 0 0 1 1459.96,213.52M1524.46,294.27A132.06,122.8 0 0 1 1504.12,273.88M1651.36,98.49A122.05,110.84 0 0 1 1667.24,106.4M1492.32,142.63A131.99,108.1 0 0 1 1507.6,124.08M1556.43,83.23A129.8,124.18 0 0 1 1574.47,77.84M1663.75,91.06A138.12,112.59 0 0 1 1694.09,106.59M1470.79,149.17A148.29,129.5 0 0 1 1475.43,140.63M1532.07,83.54A152.5,138.63 0 0 1 1546.87,76.59M1721.42,125.28A138.24,126.84 0 0 1 1726.97,133.83M1471.22,130.03A151.78,134.04 0 0 1 1482.03,115.71M1493.04,106.17A151.36,136.3 0 0 1 1509.63,92.63M1592.56,66.4A156.79,136.83 0 0 1 1635.15,67.76M1511.57,319.51A160.5,141.77 0 0 1 1498.79,311.11M1475.48,186.63A132.92,114.87 0 0 1 1478.09,175.14M1484.2,181.67A125.85,112.43 0 0 1 1494.23,151.05M1636.66,87.53A135.85,116.82 0 0 1 1660.24,93.43M1490.56,290.99A155.28,139.37 0 0 1 1482.96,282.74M1690.05,114.71A124.37,115.01 0 0 1 1711.12,135.67M1645.66,72.29A136.59,127.58 0 0 1 1676.94,86.49M1558.58,320.06A133.47,131.97 0 0 1 1529.19,303.78M1520.89,311.22A147.83,134.45 0 0 1 1506.01,300.13M1475.1,226.35A134.98,113.86 0 0 1 1469.58,194.47M1493,143.04A132.29,112.81 0 0 1 1509.15,124.31M1520.05,314.86A160.58,135.42 0 0 1 1499.97,302.43M1581.23,73.71A155.05,129.64 0 0 1 1605.74,72.56M1722.4,134.45A140.22,122.45 0 0 1 1730.56,147.05M1539.76,317.94A148.6,132.86 0 0 1 1530.14,312.86M1704.12,112.42A137.31,126.66 0 0 1 1714.76,123.36M1492.35,267.75A143.78,124.54 0 0 1 1486.9,260.84M1647.25,75.9A137.25,124.01 0 0 1 1660.61,80.42M1548.47,341.33A165.13,149.52 0 0 1 1515.4,326.11M1641.53,70.64A147.01,132.97 0 0 1 1651.94,73.7M1617.47,95.13A124.09,106.31 0 0 1 1626.59,95.95M1461.53,258.43A154.1,134.41 0 0 1 1453.62,239.61M1610.62,82.03A126.51,112.06 0 0 1 1645.43,86.71M1492.37,282.34A148.88,134.09 0 0 1 1477.9,261.7M1588.88,81.57A127.99,117.1 0 0 1 1616.33,80.91M1714.54,97.27A159.39,140.33 0 0 1 1737.5,119.54M1583.61,85.49A120.91,118.23 0 0 1 1617.87,84.29M1592.5,74.62A140.97,122.32 0 0 1 1609.03,74.32M1734,124.1A149.87,136.25 0 0 1 1748.77,149.1M1454.31,218.06A152.72,147.44 0 0 1 1452.43,202.29M1437.49,195.98A171.13,148.14 0 0 1 1442.63,165.47M1654.71,83.63A129.61,121.65 0 0 1 1671.54,91.24M1517.08,112.58A130.08,123.27 0 0 1 1540.43,96.05M1732.42,117.21A162.58,130.33 0 0 1 1739.44,125.25M1596.38,73.42A138.98,124.15 0 0 1 1637.63,77.33M1619.28,58.28A161.13,135.73 0 0 1 1636.42,60.51M1715.22,123.43A137.5,124.18 0 0 1 1730.83,146.31M1526.96,293.93A131.96,117.39 0 0 1 1518.67,288.51M1716.24,126.44A140.65,124.36 0 0 1 1731.48,149.24M1481.92,156.14A131.14,129.46 0 0 1 1495.03,130.1M1666.12,76.53A145.53,129.16 0 0 1 1675.18,80.29M1456.57,223.86A147.85,140.28 0 0 1 1455.48,215.72M1562.23,65.83A159.17,132.45 0 0 1 1577.37,63.21M1510.42,85.63A159.84,130.84 0 0 1 1524.67,78.43M1442.4,175.45A162.18,146.85 0 0 1 1451,147.65M1506.67,292.87A145.5,135.99 0 0 1 1495.54,281.41M1483.22,251.61A136.61,119.53 0 0 1 1476.75,238.9M1529.59,319.09A153.8,144.47 0 0 1 1506.24,302.83M1491.14,136.7A129.21,111.12 0 0 1 1510.48,115.52M1481.75,139.53A134.13,126.5 0 0 1 1487.82,129.4M1517.28,312.7A155.64,140.44 0 0 1 1504.27,303.26M1497.16,304.01A156.07,151.43 0 0 1 1473.09,274.88M1524.78,286.68A137.53,113.37 0 0 1 1511.68,276.98M1469.45,196.87A137.91,136.52 0 0 1 1470.21,182.39M1488.71,263.85A137.45,129.69 0 0 1 1484.65,256.83M1498.93,98.95A160.12,134.44 0 0 1 1511.99,90.12M1734.07,104.81A167.81,137.47 0 0 1 1754.58,127.93M1541.07,90.46A126.97,119.17 0 0 1 1574.42,78.82M1492.45,258.14A129.08,119.13 0 0 1 1481.06,230.3M1704.33,124.55A131.66,111.45 0 0 1 1714.6,135.79M1538.36,57.72A178.54,149.61 0 0 1 1554.26,52.71M1712.09,126.01A137.15,113.16 0 0 1 1723.05,139.17M1487.71,269.77A136.89,125.19 0 0 1 1471.98,241.66M1593.74,66.78A157.59,127.72 0 0 1 1607.66,66.6M1520.11,114.71A126.31,111.84 0 0 1 1540.57,99.98M1473.11,129.87A156.89,141.64 0 0 1 1485.93,112.54M1696.59,124.37A129.85,114.67 0 0 1 1709.42,138.78M1472.57,211.56A137.73,127.67 0 0 1 1473.92,174.47M1556.21,56.74A163.27,144.54 0 0 1 1581.91,52.05M1705.22,79.92A167.59,144.03 0 0 1 1735.28,105.77M1585.21,77.06A132.82,120.77 0 0 1 1602.01,75.97M1612.56,92.69A132.23,107.26 0 0 1 1641.7,96.64M1578.3,62.92A153.5,134.36 0 0 1 1611.79,60.57M1473.67,144.4A142.19,126.07 0 0 1 1496.48,113.46M1611.32,84.52A128.69,116.27 0 0 1 1630.51,86.36M1472.09,219.71A132.65,113.52 0 0 1 1470.52,211.61M1713.92,112.72A149.12,128.92 0 0 1 1730.58,131.57M1540.07,319.6A153.87,134.32 0 0 1 1511.92,305.45M1557.79,61.83A155.61,148.8 0 0 1 1585.72,55.44M1466.91,231.07A143.94,124.29 0 0 1 1462.82,199.48M1558.02,298.52A126.32,111.85 0 0 1 1536.57,288.05M1586.75,71.81A135.42,124.82 0 0 1 1595.58,71.09M1523.43,273.66A122.76,112.12 0 0 1 1501.31,245.92M1481.08,149.48A131.68,118.74 0 0 1 1491.43,131.01M1552.42,97.21A131.96,112.5 0 0 1 1582.94,89.84M1483.23,257.43A140.15,133.58 0 0 1 1469.9,224.12M1603.4,73.55A134.6,127.64 0 0 1 1618.71,73.8M1599.19,74.75A126.39,120.97 0 0 1 1631.94,76.49M1489.52,276.57A151.88,129.31 0 0 1 1480.41,266.16M1479.7,147.26A139.52,117.24 0 0 1 1492.42,127.68M1563.23,88.98A132.43,119.81 0 0 1 1592.39,83M1447.02,231.58A159.84,140.89 0 0 1 1444.5,219.05M1644.15,54.23A158.06,151.03 0 0 1 1661.36,59.59" stroke="#fff" stroke-width="0.9" fill="none" opacity="0.65" stroke-linecap="round"/>
<path d="M1679.49,157.07A93.85,79.79 0 0 1 1690.67,175.65M1695.78,156.99A100.69,87.93 0 0 1 1704.06,176.94M1726.43,136.28A138.39,129.92 0 0 1 1731.09,145.2M1705.95,193.05A98.46,88.72 0 0 1 1705.33,213.31M1673.66,316.86A156.87,134.14 0 0 1 1646.19,326.28M1634.73,267.01A87.03,74.77 0 0 1 1599.83,272.47M1669.23,244.61A87.07,74.91 0 0 1 1644.83,260.59M1731.97,119.32A149.69,133.05 0 0 1 1740.94,132.57M1695.91,221.64A98.58,84.55 0 0 1 1679.39,247.64M1705.19,149.68A105.8,100.08 0 0 1 1711.03,163.18M1685.35,315.2A147.74,134.77 0 0 1 1664.09,324.63M1702.34,286.12A131.54,127.9 0 0 1 1693.96,294.73M1707.27,180.62A104.41,101.47 0 0 1 1709.56,195.6M1703.67,159.18A106.6,99.83 0 0 1 1710.46,187.67M1752.2,254.61A156.53,140.6 0 0 1 1748.21,262.3M1666.97,272.78A106.48,94.82 0 0 1 1637.49,286.55M1710.49,148.23A113.87,104.69 0 0 1 1716.86,161.44M1749.95,173.51A144.96,129.83 0 0 1 1753.59,208.81M1740.54,174A139.12,130.54 0 0 1 1743.66,200.85M1681.89,273.03A113.77,92.95 0 0 1 1665.49,282.31M1727.94,286.54A162.05,139.33 0 0 1 1703.98,305.34M1722.39,196.94A113.96,103.35 0 0 1 1719.37,225.87M1687.42,159.17A98.77,86.48 0 0 1 1694.57,173.35M1673.73,252.09A91.33,82.97 0 0 1 1663.34,261.19M1700.93,248.03A109.77,93.18 0 0 1 1677.45,272.39M1745.12,253.79A150.54,133.86 0 0 1 1739.9,263.58M1664.65,287.38A113.09,108.31 0 0 1 1638.67,299.42M1722.5,143.64A135.39,125.06 0 0 1 1734.34,176.86M1707.8,151.15A113.98,100.1 0 0 1 1717.64,170.85M1702.33,295A139.15,123.44 0 0 1 1690.13,303.64M1669.54,301.01A141.41,118.22 0 0 1 1655.39,306.41M1730.16,231.8A132.53,112.45 0 0 1 1718.36,256.71M1747.84,157.72A150.52,126.57 0 0 1 1756.29,190.63M1760.01,159.19A161.47,145.07 0 0 1 1762.65,167.79M1660.5,295.39A126.7,108.15 0 0 1 1635.1,303.82M1731.14,176.33A128.79,109.78 0 0 1 1733.44,190.96M1689.05,192.09A80.91,74.57 0 0 1 1685.37,217.9M1691.47,238.24A98.98,88.67 0 0 1 1669.45,264.44M1711.6,282.37A130.35,129.54 0 0 1 1700.61,294.59M1705.18,147.08A111.97,103.96 0 0 1 1709.92,155.38M1652.49,301.67A127.32,113.15 0 0 1 1634.54,306.26M1698.41,241.49A108.8,98.47 0 0 1 1689.26,254.48M1714.73,223.02A113.32,95.59 0 0 1 1709.86,234.78M1752.95,221.61A149.49,131.87 0 0 1 1749.24,234.12M1658.18,311.88A134.49,125.05 0 0 1 1638.07,318.36M1714.73,152.19A117.84,103.75 0 0 1 1723.81,183.75M1698.54,245.86A107.54,99.04 0 0 1 1675.79,271.75M1707.77,277.69A139.6,123.77 0 0 1 1676.82,301.33M1714.72,260.99A126.85,110.23 0 0 1 1702.68,273.99M1648.54,266.33A91.58,81.93 0 0 1 1618.58,276.71M1665.02,286.53A112.76,98.75 0 0 1 1647.48,294.2M1715.33,199.98A106.84,95.6 0 0 1 1710.75,223.69M1660.31,278.97A115.13,94.94 0 0 1 1636.22,287.42M1704.54,129.42A130.28,117.5 0 0 1 1712.58,139.98M1698.29,187.23A92.04,78.47 0 0 1 1698.91,214.07M1742.13,123.02A158.49,143.33 0 0 1 1757.78,156.64M1711.64,151.91A119.06,94.98 0 0 1 1724.94,180.11M1682.35,166.22A83.17,74.72 0 0 1 1685.62,172.96M1701.67,235.65A102.42,85.79 0 0 1 1684.05,256.32M1723.7,182.63A115.81,96.97 0 0 1 1725.98,195.93M1697.34,158.81A97.12,88.28 0 0 1 1703.08,175.2M1694.96,208.81A89.42,77.27 0 0 1 1684.28,235.69M1718.78,207.98A109.66,93.03 0 0 1 1709.9,239.31M1700.41,204.35A99.7,86.22 0 0 1 1694.72,229.99M1664.96,253.29A85.64,73.61 0 0 1 1648.05,263.57M1671.93,319.73A154.51,136.15 0 0 1 1634.95,330.11M1715.02,300.62A155.95,133.2 0 0 1 1686.49,318.54M1740.71,177.92A141.06,122.71 0 0 1 1743.37,202.59M1744.6,123.39A158.8,138.69 0 0 1 1760.8,155.88M1753.68,247.85A157.85,129.9 0 0 1 1742.35,264.82" stroke="#fff" stroke-width="0.8" fill="none" opacity="0.5" stroke-linecap="round"/>
<path d="M1596.06,248l-1.72,10.51M1548.41,245.01l-8.42,6.04M1558.23,184.33l-10.63,-1.83M1546.07,238.24l-6.79,3.03M1682.06,158.9l7.15,-3.41M1601.73,126.43l0.94,-7.28M1652.48,160.17l5.2,-5.92M1581.51,264.17l-1.17,9.04M1527.71,157.87l-10.26,-3.49M1532.73,211.69l-6.51,0.41M1560.06,187.98l-4.64,-1.72M1622.29,271.77l1.74,7.23M1591.55,131.03l0.06,-6.42M1591.26,243.37l-1.21,10.11M1554.92,181.95l-7.18,-1.28M1520.04,180.58l-11.34,-1.2M1552.63,258.25l-8.11,8.3M1606.52,119.9l0.23,-8.7M1521.5,191.25l-4.96,-1.22M1573.98,132l-5.43,-8.37M1621.83,141.75l5.43,-10.3M1585.74,155.45l-3.87,-7.36M1591.37,242.67l-2.28,7.16M1549.72,210.58l-9.22,1.1M1578.4,256.45l-3.98,10.16M1679.16,153.74l4.66,-2.6M1517.36,211.47l-8.95,2.03M1580.05,232.21l-2.51,4.15M1545.9,159.73l-9.73,-7.37M1651.06,161.11l7.45,-5.85M1568.72,131.58l-2.97,-6.03M1652.47,166.32l5.82,-2.48M1620.28,238.34l3.91,7.34M1592.94,256.81l-3.07,9.99M1656.06,147.61l9.48,-8.12M1631.87,262.11l1.72,3.81M1526.9,235.48l-7.13,5.39M1642.45,151.88l6.55,-6.14M1580.76,231.88l-3.87,3.86M1639.57,165.77l5.27,-3.59M1543.55,224.32l-11.51,5.39M1609.12,265.33l-1.98,10.14M1600.46,154.26l-1.72,-5.65M1576.59,150.26l-3.46,-10.86M1549.82,135.72l-7.41,-6.12M1539.95,160.46l-5.47,-4.5M1589.16,245.72l-0.79,4.91M1616.1,135.71l0.82,-4.92M1547.43,161.61l-6.42,-4.18M1609.68,238.18l1.62,6.91M1551.19,249.11l-6.98,8.24M1557.41,187.49l-7.67,-1.18M1556.38,253.38l-7.49,6.24M1543.8,177.61l-11.64,-4.38M1607.55,244.88l0.54,4.33M1579.93,161.17l-4.79,-5.7M1653.23,154.58l3.7,-4.63M1552.08,220.51l-11.76,3.82M1580.11,250.18l-1.1,3.95M1561.69,135.6l-2.7,-4.35M1560.91,182.49l-7.16,-1.3M1586.99,130.91l-3.34,-7.19M1529.66,195l-10.2,1.19M1634.09,269.39l2.32,5.08M1603.03,245.54l-2.77,8.83M1559.63,232.66l-6.97,6.68M1582.83,146.21l-4.05,-6.18M1563.96,176.09l-9.91,-7.7M1558.77,182.72l-8.49,-1.69M1533.66,176.66l-11.31,-2.38M1623.74,122.98l0.41,-7.45M1590.47,255.4l-3.25,8.69M1663.85,161.14l4.01,-2.08M1592.39,268.55l0.24,6.25M1590.7,136.66l-0.92,-6.41M1589.78,145.67l-0.33,-5.89M1627.15,251.97l1.18,4.31M1557.62,137.08l-2.4,-4.47M1592.2,265.14l-1.91,6.51M1612.89,237.39l-0.06,6.51M1524.77,234.31l-11.79,3.74M1543.45,147.68l-9.01,-8.27M1534.89,151.45l-4.79,-3.21M1543.14,220.37l-7.11,2.5M1561.28,247.8l-4.17,4.66M1537.15,199.23l-10.19,1.41M1550.9,235.72l-9.44,5.37M1531.83,168.75l-5.33,-3.28M1538.44,210.99l-6.67,1.55M1623.03,131.99l2.77,-7.13M1550.89,191.77l-7.51,-0.3M1601.65,144.27l-2.12,-9.34M1609.6,149.25l1.49,-8.8M1580.6,137.01l-3.45,-5.04M1618.2,250.93l2.48,11.13M1665.18,156.65l8.12,-7.19M1597.01,250.55l-2.83,9.71M1539.89,212.34l-6.51,1.44M1648.03,140.99l8.04,-7.75M1540.09,198.55l-6.98,-1.23M1586.37,241.88l-3.58,5.05M1528.42,227.74l-11.67,2.52M1573.19,247.09l-5.1,8.77M1634.81,161.58l4.4,-6.09M1553.06,241.73l-3.06,2.8M1624.25,250.35l1.4,6.54M1581.68,149.52l-5.15,-7.41M1586.31,161.29l-4.9,-7.41M1626.58,154.06l3.39,-10.51M1549.84,158.14l-6.37,-2.91" stroke="#fff" stroke-width="1.2" fill="none" opacity="0.8" stroke-linecap="round"/>
<path d="M1566.24,230.47l-20.46,16.64M1619.13,233.77l7.53,17.82M1549.55,202.05l-17.52,-2.03M1557.09,206.69l-20.12,2.87M1645.64,233.62l19.12,22.48M1558.79,215.88l-24.91,4.33M1600.89,232.13l-3.55,17.16M1528.91,214.32l-25.77,6.64M1650.97,255.71l9.72,15.93M1545.88,189.87l-16.97,-2.07M1642.42,225.15l14.89,7.48M1591.17,245.7l-4.33,22.3M1571.24,255.89l-11.8,29.67M1579.47,249.23l-12.65,16.83M1558.29,204.13l-22.28,4.3M1566,248.33l-8.65,16.88M1597.37,274.92l-2.87,15.13M1606.72,255.11l-3.02,19.12M1593.72,244.76l-5.63,30.54M1631.1,243.9l10.76,23.7M1594.23,250.09l-6.29,16.65M1546.37,212.11l-22.88,3.27M1616.89,229.71l7.68,30.27M1575.2,256.18l-7.35,21.01M1572.24,225.43l-19.55,19.76M1641.15,252.34l17.34,19.4M1608.99,253.98l5.66,22.89M1563.22,238.43l-11.04,12.44M1566.79,252.41l-17.82,19.15M1625.17,254.52l3.58,21.18M1545.6,224.75l-20.2,9.47M1519.93,220.42l-26.02,11.33M1655.23,241.08l19.17,25.55M1618.81,263.47l10.26,27.46M1567.19,260.81l-9.56,10.66M1547.35,212.12l-28.89,6.56M1633.73,266.65l13.75,27.35M1605.41,231.04l2.97,14.21M1643.04,250.24l11.22,12.9M1554.02,199.63l-34.19,-3.83M1580.7,273.84l-5.86,27.48M1522.99,222l-27.84,11.43M1564.25,198.85l-26.95,-0.65M1645.62,262.02l14.76,22.8M1580.65,263.68l-9.66,14.62M1560.04,219.44l-27.07,16.26M1593.54,262.01l-0.8,17.35M1597.64,274.88l-2.39,22.56M1571.92,213.03l-29.63,8.12M1623.55,244.26l4.96,19.17M1592.01,259.98l-1.01,22.91M1574.96,268.61l-12.21,19.95M1565.44,219.65l-20.8,7.96M1611.96,233.88l4.52,24.67M1571.52,237.84l-11.44,14.09M1571.39,209.06l-20.17,3.68M1562.65,242.36l-14.6,21.31M1614.26,266.39l-0.6,29.18M1535.62,217.55l-23.84,4.92M1638.41,269.72l7.02,13.8M1635.59,247.67l6.28,16.43M1632.53,242.53l8.28,14.96M1588.73,236.07l-9,21.81M1543.71,212l-15.53,0.86M1638.81,227.59l21.3,20.22M1625.4,252.79l12.05,25.62M1626.45,261.9l5.71,23.3M1584.45,243.89l-7.17,13.01M1639.47,255.66l9.7,21.84M1564.99,207.01l-30.45,12.62M1636.15,232.67l15.25,12.02M1619.37,251.8l5.01,18.26M1552.94,216.36l-26.09,13.88M1642.37,226l18.97,10.05M1536.99,223.38l-31.43,15.96M1571.27,212.99l-23.09,5.6M1608.9,248.4l-2.38,14.42M1587.84,251.97l-9.53,19.63M1575.83,264.43l-6.2,15.61M1589.23,270.82l-6.42,24.83M1569.25,241.38l-12.48,14.06M1657.36,255.49l10.98,17.63M1672.65,250.45l20.07,17.65M1576.8,265.38l-4.8,15.08M1540.85,231.64l-17.4,7.76M1551.34,239.67l-11.5,9.26M1571.15,234.45l-11.26,16.81M1614.6,261.23l6.58,27.26M1542.9,216.65l-17.21,3.44M1565.52,197.8l-15.65,-1.45M1627.92,243.41l9.23,18.9M1636.79,241.89l15.73,18.36M1594.12,275.17l-0.26,21.28M1608.44,275.87l-3.35,25.01M1553.91,220.74l-16.98,10.95M1594.17,230.27l-5.79,28.96M1551.07,220.82l-17.41,10.34M1590.24,252.88l-14.21,27.98M1577.95,233.71l-9.16,19.35M1544.99,200.52l-21.65,0.16M1654.72,247.87l26.87,19.33M1561.1,222.91l-12.67,7.94M1590.17,233.32l-3.29,13.21M1635.54,231.52l12.21,10.44M1637.61,247.15l17.1,24.22M1617.77,240.52l14.12,26.01M1650.36,252.75l21.58,24.3M1537.69,209.04l-16.13,5.53M1559.75,248.99l-16.43,22.4M1629.59,249.41l11.32,18.9M1611.87,257.43l0.57,18.3M1567,210.21l-23.02,10.05M1586.77,231.41l-13.68,19.15M1594.05,246.54l-3.65,29.57M1516.06,206.43l-36.14,-2.78M1557.6,211.55l-25.52,10.49M1538.95,251.93l-24.34,18.65M1565.58,204.54l-18.15,4.7M1630.78,255.11l6.7,20.99M1574.18,221.84l-13.05,10.04" stroke="#fff" stroke-width="1.5" fill="none" opacity="0.85" stroke-linecap="round"/>
</g>
<path d="M1588.54,144.69 C1591.15,144.36 1596.21,145.83 1598.34,146.65 C1600.46,147.46 1601.11,148.12 1601.27,149.58 C1601.44,151.05 1599.8,153.34 1599.31,155.46 C1598.82,157.58 1598.66,160.03 1598.34,162.31 C1598.01,164.6 1597.52,167.21 1597.36,169.17 C1597.19,171.13 1597.85,172.43 1597.36,174.06 C1596.87,175.7 1594.58,177 1594.42,178.96 C1594.26,180.92 1595.23,183.53 1596.38,185.81 C1597.52,188.1 1599.64,190.55 1601.27,192.67 C1602.9,194.79 1604.05,196.91 1606.17,198.54 C1608.29,200.18 1611.72,201.48 1614,202.46 C1616.29,203.44 1617.92,204.09 1619.88,204.42 C1621.84,204.75 1623.79,205.07 1625.75,204.42 C1627.71,203.77 1629.42,202.46 1631.63,200.5 C1633.83,198.54 1638.16,192.83 1638.97,192.67 C1639.79,192.51 1638.4,197.07 1636.52,199.52 C1634.65,201.97 1629.67,205.23 1627.71,207.36 C1625.75,209.48 1624.94,210.46 1624.77,212.25 C1624.61,214.05 1624.94,216.17 1626.73,218.13 C1628.53,220.09 1632.44,222.37 1635.54,224 C1638.65,225.63 1642.07,226.29 1645.34,227.92 C1648.6,229.55 1653.17,232.33 1655.13,233.79 C1657.09,235.26 1658.39,236.08 1657.09,236.73 C1655.78,237.38 1651.37,237.71 1647.29,237.71 C1643.22,237.71 1636.69,237.06 1632.61,236.73 C1628.53,236.41 1625.59,236.57 1622.82,235.75 C1620.04,234.94 1618.41,233.47 1615.96,231.84 C1613.51,230.2 1611.06,227.27 1608.13,225.96 C1605.19,224.66 1601.6,225.31 1598.34,224 C1595.07,222.7 1591.81,219.27 1588.54,218.13 C1585.28,216.98 1582.02,217.15 1578.75,217.15 C1575.49,217.15 1572.22,218.29 1568.96,218.13 C1565.7,217.96 1561.78,216.98 1559.17,216.17 C1556.56,215.35 1554.6,215.35 1553.29,213.23 C1551.99,211.11 1551.82,206.7 1551.33,203.44 C1550.84,200.18 1550.68,196.42 1550.35,193.65 C1550.03,190.87 1548.23,189.24 1549.38,186.79 C1550.52,184.35 1554.43,181.24 1557.21,178.96 C1559.98,176.67 1563.08,175.37 1566.02,173.08 C1568.96,170.8 1572.71,168.19 1574.83,165.25 C1576.96,162.31 1577.45,158.23 1578.75,155.46 C1580.06,152.68 1581.04,150.4 1582.67,148.6 C1584.3,146.81 1585.93,145.01 1588.54,144.69Z" fill="#fdfdfb"/>
<path d="M1445.76,195.43 C1445.1,190.36 1446.65,181.32 1449.73,174.27 C1452.82,167.22 1458.76,159.73 1464.27,153.12 C1469.78,146.51 1478.37,137.92 1482.78,134.61 C1487.19,131.31 1488.07,132.19 1490.71,133.29 C1493.36,134.39 1499.09,137.48 1498.65,141.22 C1498.21,144.97 1491.6,150.26 1488.07,155.76 C1484.54,161.27 1480.14,168.1 1477.49,174.27 C1474.85,180.44 1474.41,188.37 1472.21,192.78 C1470,197.19 1467.36,198.73 1464.27,200.71 C1461.19,202.7 1456.78,205.56 1453.7,204.68 C1450.61,203.8 1446.43,200.49 1445.76,195.43Z" fill="#fdfdfb"/>
<path d="M1498.65,287.97 C1503.27,289.73 1516.27,300.09 1525.09,303.83 C1533.9,307.58 1547.34,308.68 1551.53,310.44 C1555.71,312.21 1555.05,314.41 1550.21,314.41 C1545.36,314.41 1531.26,313.97 1522.44,310.44 C1513.63,306.92 1501.29,297 1497.32,293.26 C1493.36,289.51 1494.02,286.21 1498.65,287.97Z" fill="#fbfbf6"/>
<path d="M1585.9,327.63 C1588.11,326.44 1598.68,323.89 1601.77,323.66 C1604.85,323.44 1606.61,325.12 1604.41,326.31 C1602.21,327.5 1591.63,330.58 1588.55,330.8 C1585.46,331.02 1583.7,328.82 1585.9,327.63Z" fill="#fbfbf6"/>
<path d="M1706,205 c2,3 3,7 6,10" stroke="#fff" stroke-width="1.6" fill="none"/><path d="M1705.5,204 c2,4 3,8 7,12" stroke="#4858a8" stroke-width="0.6" fill="none"/>
<rect x="1674.48" y="172.95" width="63.46" height="62.14" fill="none" stroke="#1a1a1a" stroke-width="1.1"/>
<defs><clipPath id="hi1"><rect x="1354.54" y="202.04" width="136.17" height="136.17"/></clipPath></defs>
<rect x="1354.54" y="202.04" width="136.17" height="136.17" fill="#d2325c"/>
<g clip-path="url(#hi1)">
<rect x="1354.54" y="202.04" width="136.17" height="136.17" fill="#fff" filter="url(#tex2)" opacity="0.45"/>
<rect x="1354.54" y="202.04" width="136.17" height="136.17" fill="#fff" filter="url(#tex)" opacity="0.6"/>
<path d="M1442.98,295.63l3.16,5.44M1485.29,255.28l1.96,8.27M1449.34,302.86l0.52,8.81M1432.1,272.22l6.19,14.09M1485.93,307.9l-1.94,9.39M1468.8,234.81l-0.15,12.58M1482.35,315.52l-0.84,7.16M1461.77,266.76l2.64,8M1463.33,316.79l-1.08,11.98M1377.73,223.23l0.8,6.5M1400.37,215.99l5.36,11.41M1385,317.5l4.27,13.53M1395.75,238.46l1.05,4.01M1413.85,253.77l7.48,12.23M1405.63,202.09l-1.2,6.63M1388.99,205.34l5.8,11.09M1433.79,270.67l2.69,6.94M1486.64,252.72l-2.93,14.34M1371.51,317.53l6.47,10.73M1464.79,296.74l1.87,13.63M1375.56,275.54l3.05,8.24M1380.59,298.49l1.58,13.26M1440.09,283.63l-2.05,13.6M1431.72,246.44l-1.3,8.35M1368.45,247.42l0.24,15.17M1442.47,292.25l-2.14,13.16M1415.2,264.92l-0.19,7.81M1369.49,286.42l-0.44,6.97M1447.64,323.58l2.5,5.04M1421.68,247.56l-2.71,15.73M1415.22,310.04l0.45,6.06M1486.87,225.8l4.52,8.28M1356.97,267.5l3.7,15M1410.87,317.75l-0.44,11.03M1386.92,243.55l1.57,8.6M1442.45,270.85l3.45,10.74M1490.24,229.62l1.23,3.96M1367.31,209.59l3.25,13.66M1449.55,333.59l-0.93,10.99M1433.58,203.74l1.86,6.89M1439.07,210.95l1.2,8.42M1421.54,257.1l5.9,11.33M1463.53,283.49l5.06,9.98M1473.15,336.38l-0.11,4.55M1474.17,292.59l5.1,14.15M1467.03,323.93l3.93,10.19M1406.14,242.34l-0.3,11.39M1399.73,275.98l-1.66,10.67M1478.94,279.11l-0.88,4.26M1417.18,277.24l0.01,15.62M1439.42,267.13l0.74,10.37M1450.54,330.98l4.09,6.7M1473.88,210.16l-0.21,4.37M1442.81,311.02l3.15,7.98M1385.37,298l1.71,11.14M1398.87,281.93l-2.32,13.15M1484.14,235.7l1.39,8.51M1401.67,311.44l4.4,9.75M1459.95,329.42l3.75,6.2M1421.68,329.54l5.91,12.79M1408.63,276.63l-0.73,4.71M1399.41,223.25l3.36,6.86M1449.97,281.07l6.11,12.17M1423.62,221.53l-0.99,13.81M1384.06,329.98l-0.43,6.74M1354.68,320.14l-0.39,5.16M1458.91,307.32l1,13.95M1488.64,246.67l-1.23,15M1397.24,295.11l0.47,14.18M1431.73,239.57l3.76,9.82M1372.97,319.08l-0.86,6.85M1449.49,293.71l5.98,11.92M1458.89,243.75l3.43,6.54M1459.61,265.59l-0.4,5.9M1369.05,249.56l-0.69,5.9M1364.54,304.56l5.64,10.61M1365.91,235.65l0.71,14.47M1410.26,263.26l4.12,6.96M1387.5,309.43l0.13,13.41M1426.95,297.27l3.83,7.72M1394.43,240.46l-0.06,6.57M1398.85,240.49l-1.22,11.6M1419.99,253.76l-2.27,15.1M1415.77,279.22l-0.73,7.04M1389.76,216.08l2.28,13.02M1375.86,260.92l-1.96,9.57M1406.61,316.34l-1.07,8.45M1371.36,288.72l-0.15,15.08M1444.43,243.94l1.21,7.35M1415.28,265.78l-2.11,14.72M1480.68,267.13l-1.03,5.57M1479.97,289.22l-1,8.9M1489.47,205.44l-1.28,13.77M1405.5,314.88l5.01,12.03M1418.33,258.02l5.39,12.49M1454.08,214.16l-1.27,6.53M1405.64,258.5l1.7,14.58M1483.24,288.26l1.45,5.09M1363.91,272.69l1.03,9.31M1488.32,258.36l2.57,8.64M1377.93,329.92l1.1,10.46M1412.53,236.08l3.09,9.43M1415.31,335.39l0.82,6.43M1361.85,223.71l3.87,12.82M1475.63,234.23l-0.38,9.29M1427.74,274.6l2.41,4.15M1445.44,295.87l3.96,14.5M1466.2,243.15l5.17,9.3M1443.64,232.59l4.93,8.52M1359.2,302.36l0.57,7.33M1415.23,233.75l2.49,5.65M1465.61,263.76l0.07,8.17M1464.41,283.17l0.49,8.7M1431.04,228l-2.27,11.85M1427.05,289.01l3.71,7.1M1385.95,316.84l4.87,7.97M1472.82,308.6l0.05,7.62M1386.18,297.94l4.1,12M1402.2,305.61l1.63,13.69M1488.76,253.59l-0.81,4.04M1474,206.09l1.21,8.57M1459.38,244.93l5.2,12.36M1429.48,304.93l0.81,4.37M1459.56,231.74l0.78,3.93M1389.81,292.67l-0.33,11.63M1414.9,301.82l0.29,6.47M1427.41,283.45l-0.01,6.37M1396.86,248.74l3.81,7.24M1453.89,280.69l5.28,11.64M1370.44,304.33l2.22,4.65M1388.82,272.16l5.02,13.72M1482.32,240.62l-0.21,12.35M1430.95,236.75l-2.63,15.25M1356.33,246.99l1.96,6.07M1413.13,324.34l7.21,12.03M1396.61,203.88l-0.96,7.2M1383.43,217.93l1.48,5.23M1379.01,236.09l1.07,9.29M1396.08,273.65l-0.46,12.68M1401.32,327.04l-0.53,10.73M1419.3,246.91l6.43,13.14M1437.38,215.47l-2.22,14.48M1359.12,297.44l3.82,9.7M1468.14,249.77l2.1,11.8M1380.73,287.34l3.63,15.37M1380.1,298.86l3.67,6.3M1370.57,222.31l0.93,6.02M1462.77,215.15l1.15,14.29M1371.78,231.65l-0.28,9.64M1481.48,248.05l3.88,15M1401.37,333.62l-0.8,6.35M1428.86,330.2l6.4,12.66M1459.97,304.08l0.5,5.18M1485.05,215.97l-0.55,12.67M1397.76,295.27l3.13,12.63M1360.45,329.14l3.55,13.17M1418.76,312.66l3.39,9.98M1357.98,268.66l6.83,12.57M1446.77,259.92l-2.9,15.09M1484.82,213.26l0.23,12.73M1437.05,204.19l-1.39,9.16M1435.57,312.98l1.48,4.09M1480.28,238.87l2.84,4.88M1490.01,302.77l2.23,5.31M1476.79,292.56l0.62,5.54M1410.82,330.92l4.77,7.67M1362.31,337.9l7.11,13.71M1469.09,301.67l6.2,10.68M1421.67,268.93l4.39,9.15M1463.76,219.94l-1.03,8.98M1390.78,234.61l2.4,11.52M1432.14,323.23l1.67,10.01M1489.2,231.34l4.12,6.79M1397.19,218.92l1.04,4.29M1479.93,267.99l-1.44,12.29M1453.93,305.33l4.09,12.07M1382.6,277.59l1.35,13.24M1377.39,248.89l-1.02,13.62M1487.71,218.15l2.04,4.87M1453.09,303.54l0.81,13.33M1424.8,278.6l-1.75,11.65M1443.87,282.21l2.33,12.87M1432.51,219.6l2.08,8.81M1413.41,278.43l2.41,8.35M1412.67,252.61l-0.95,4.99M1356.85,300.28l2.37,9.08M1435.13,252.01l1.53,3.89M1473.53,329.9l3.19,9.04M1398.64,209.98l-1.78,13.92M1387.37,236.74l0.3,13.56M1418.5,254.8l5.03,12.61M1472.13,318.87l5.05,9.92M1488.7,299.42l1.17,5.62M1362.78,301.69l6.64,11.99M1445.19,266.51l-1.91,15.07M1438.5,215.61l0.96,9M1388.53,328.49l-0.01,5.46M1385.72,248.69l0.93,7.84M1414.4,312.79l5.14,11.55M1399.57,330.66l-1.36,7.81M1437.07,217.12l2.77,11.14M1441.44,248.69l2.79,4.73M1430.86,225.34l3.63,10.83M1477.2,272.2l3.92,10.31M1392.08,308.56l3.03,6.47M1414.27,325.7l2.64,5.73M1372.48,231.14l2.61,8.34M1457.99,257.02l1.69,8.59M1459.97,325.02l3.46,14.65M1388.67,335.19l1.88,12.04M1406.47,239.01l6.42,13.14M1403.51,297.17l2.1,10.1M1382.71,226.15l3.6,11.63M1428.53,202.36l0.12,9.2M1363.93,237.43l5.35,12.8M1429.44,246.54l2.69,6.99M1392.69,249.2l-0.66,13.45M1449.61,322.54l0.3,5.35M1360.6,224.41l3.65,9.68M1466.48,281.8l1.56,6.73M1488.22,304.62l1.33,4.35M1488.25,236.91l-0.5,5.38M1443.47,250.57l-0.94,7.51M1368.27,229.12l-0.95,15.71M1442.09,294.88l2.44,6.85M1366.35,336.14l5.69,9.82M1402.19,227.46l3.36,14.79M1388.28,224.45l0.89,11.85M1424.08,226.5l-0.6,5.3M1378.25,234.96l1.59,9.59M1429.93,301.03l-1.23,9.54M1360.25,315.18l4.05,6.69M1374.03,284.04l-0.23,5.54M1394.63,317.93l0.16,5.3M1448.01,310.16l1.42,5.69M1444.28,245.5l2.63,5.37M1409.35,219.32l2.76,10.25M1429.72,257.02l-0.28,5.05M1399.45,329.13l-1.58,14.97M1458.75,274.99l-0.5,10.86M1370.55,236.81l6.74,12.84M1398.39,257.52l0.75,5.16M1450.65,310.37l-0.77,14.55M1397.75,221.84l-0.32,12.31M1405.14,248.78l5.96,12.65M1417.27,312.62l2.3,7.51M1424.43,303.56l-0.98,8.18M1448.97,257.01l-1.35,13.05M1430.16,251.4l4.99,13.74M1463.6,243.59l3,5.58M1485.84,207.38l-0.66,10.33M1429.98,275.5l2.58,10.37M1366.8,327.29l2.61,5.03M1446.12,289.3l-0.75,12.29M1481.27,209.08l3.58,5.83M1460.61,222.82l1.99,13.09M1375.82,273.86l-1.72,12.85M1408.73,267.25l5.25,14.61M1461.11,294.69l4.08,12.11M1420.82,310.73l4.02,14.01M1447.77,263.4l1.72,13.55M1426.6,332.79l7.76,12.57M1451.79,268.68l-0.54,5.76M1400.52,299.25l-0.62,8.45M1489.92,290.36l2.74,4.74M1364.94,279.65l2.18,6.79M1415.5,212.68l-1.95,13.92M1430.62,262.56l3.55,10.66M1401.77,334.87l-2.22,12.52M1467.02,212.29l3.64,7.29M1371.72,259.57l-2.77,13.74M1485.09,232.22l1.62,3.96M1391.81,209.73l1.16,7.52M1446.29,278.44l0.76,7.56M1454.6,295.88l0.1,9.65M1417.71,240.98l4.83,8.29M1438.45,227.38l-1.48,14.47M1470.77,313.17l1.11,6.01M1391.46,302.48l-1.05,5.23M1355.39,250.14l3.2,10.7M1369.84,316.94l4.39,14.24M1399.38,243.61l6.41,14.21M1434.81,314.46l5.13,9.18M1454.36,336.01l-0.84,5.18M1405.37,338.04l2.28,15.31M1389.06,205.51l-1.2,7.06M1430.89,251.14l1.74,15.11M1483.48,321.46l4.9,12.96M1357.05,258.74l-1.17,6.96M1404.55,281.26l4.6,11.62M1443.39,214.98l-0.72,4.8M1449.39,249.48l2.14,4.45M1490.41,310.93l2.77,13.25M1486.6,328.18l1.09,7.22M1425.15,335.67l-0.03,12.04M1469.32,257.72l1.83,14.07M1381.66,318.99l5.37,8.96M1432.82,221.96l-1.38,9.17M1379.74,258.08l0.95,9.1M1354.94,214.62l0.06,5.58M1389.33,312l-1.5,14.5M1378.3,202.74l-0.23,11.18M1404.18,204.56l1.54,6.67M1434.61,335.57l1.9,4.52M1449.12,216.7l3.5,8.58M1488.82,246.2l3.01,9.22M1376.65,256.82l0.16,7.89M1462.98,227.14l5.33,10.22M1416.22,327.06l5.96,11.5M1445.75,252.47l5.04,10.16M1457.79,266.4l2.38,12M1437.52,259.68l3.86,8.75M1429.41,324.11l-2.18,10.46M1399.28,232.37l0.96,12.83M1388.28,296.04l-1.8,8.51M1482.38,261.49l0.83,14.38M1382.23,249.09l-0.94,4.69M1396.24,266.92l-0.16,11.57M1481.16,293.22l2.57,4.12M1359.53,260.81l5.28,8.86M1440.68,229.58l-0.89,8.92M1485.26,250.76l0.86,10.47M1390.36,308.23l3.69,5.94M1398.22,322.16l0.77,4.37M1395.26,285.04l-0.33,5.3M1460.66,255.22l1.41,8.94M1414.24,336.92l-2.2,14.85M1454.73,297.38l1.92,3.98M1467.68,293.68l0.57,7.73M1390.91,327.43l0.63,4.19" stroke="#fff" stroke-width="0.9" opacity="0.62" fill="none" stroke-linecap="round"/>
<path d="M1477.49,202.04 C1478.88,198.18 1489.17,186.15 1490.71,202.04 C1492.26,217.92 1493.18,322.32 1490.71,338.21 C1488.25,354.09 1471.57,340.98 1469.56,338.21 C1467.56,335.43 1471.98,320.27 1473.53,314.41 C1475.07,308.55 1482.32,294.14 1482.78,287.97 C1483.24,281.8 1477.96,267.7 1477.49,261.53 C1477.03,255.36 1478.82,242.03 1478.82,235.09 C1478.82,228.15 1476.11,205.89 1477.49,202.04Z" fill="#fbfbef"/>
<path d="M1436,258 c3,-3 6,-1 7,3 c1,4 -1,7 3,9 c4,2 8,5 11,9 c-4,2 -9,0 -12,-3 c-4,-3 -7,-6 -8,-10z" fill="#fff" stroke="#3a3f8c" stroke-width="1.1"/><path d="M1372,205 c2,30 3,60 8,96 M1379,205 c3,30 5,70 12,100" stroke="#fff" stroke-width="1.6" fill="none" opacity="0.85"/><path d="M1468,318 l3,8 l3,-2z" fill="#fff"/>
</g>
<rect x="1354.54" y="202.04" width="136.17" height="136.17" fill="none" stroke="#111" stroke-width="1.6"/>
</g>
<defs><linearGradient id="hb2" x1="0" y1="0.6" x2="1" y2="0.2"><stop offset="0" stop-color="#e8e7cf"/><stop offset="0.07" stop-color="#f3f3de"/><stop offset="0.2" stop-color="#fafae9"/><stop offset="0.6" stop-color="#f8f8e9"/><stop offset="0.85" stop-color="#eef0e4"/><stop offset="1" stop-color="#e4e8de"/></linearGradient>
<clipPath id="hc2"><rect x="1353.2" y="345.6" width="415.3" height="275.4"/></clipPath>
<clipPath id="ho2"><path d="M1436.51,472.49 C1436.64,463.68 1437.17,456.63 1439.15,448.7 C1441.14,440.76 1444.22,432.39 1448.41,424.9 C1452.59,417.41 1458.1,410.36 1464.27,403.75 C1470.44,397.14 1477.93,390.97 1485.43,385.24 C1492.92,379.51 1500.85,373.78 1509.22,369.37 C1517.6,364.97 1526.41,361.35 1535.66,358.8 C1544.92,356.24 1555.05,354.7 1564.75,354.04 C1574.44,353.38 1584.58,353.6 1593.83,354.83 C1603.09,356.06 1611.9,358.58 1620.27,361.44 C1628.65,364.31 1636.58,367.61 1644.07,372.02 C1651.56,376.42 1659.06,381.71 1665.22,387.88 C1671.39,394.05 1676.24,401.54 1681.09,409.03 C1685.94,416.53 1690.7,424.9 1694.31,432.83 C1697.92,440.76 1700.92,448.7 1702.77,456.63 C1704.62,464.56 1705.5,472.49 1705.42,480.43 C1705.33,488.36 1704.09,496.29 1702.24,504.22 C1700.39,512.15 1697.84,520.09 1694.31,528.02 C1690.78,535.95 1686.38,544.32 1681.09,551.82 C1675.8,559.31 1669.63,566.8 1662.58,572.97 C1655.53,579.14 1647.16,583.99 1638.78,588.83 C1630.41,593.68 1621.6,598.31 1612.34,602.05 C1603.09,605.8 1592.95,609.11 1583.26,611.31 C1573.56,613.51 1563.87,615.05 1554.17,615.27 C1544.48,615.5 1534.34,614.83 1525.09,612.63 C1515.83,610.43 1506.58,606.9 1498.65,602.05 C1490.71,597.21 1484.1,590.6 1477.49,583.55 C1470.88,576.49 1464.27,568.56 1458.98,559.75 C1453.7,550.94 1449.2,540.36 1445.76,530.66 C1442.33,520.97 1439.9,511.27 1438.36,501.58 C1436.82,491.88 1436.38,481.31 1436.51,472.49Z"/></clipPath>
<radialGradient id="hg2" cx="0.5" cy="0.5" r="0.6"><stop offset="0" stop-color="#aa2c62"/><stop offset="0.55" stop-color="#c02e5a"/><stop offset="1" stop-color="#c02e5a"/></radialGradient></defs>
<g clip-path="url(#hc2)">
<rect x="1353.2" y="345.6" width="415.3" height="275.4" fill="url(#hb2)"/>
<path d="M1436.51,472.49 C1436.64,463.68 1437.17,456.63 1439.15,448.7 C1441.14,440.76 1444.22,432.39 1448.41,424.9 C1452.59,417.41 1458.1,410.36 1464.27,403.75 C1470.44,397.14 1477.93,390.97 1485.43,385.24 C1492.92,379.51 1500.85,373.78 1509.22,369.37 C1517.6,364.97 1526.41,361.35 1535.66,358.8 C1544.92,356.24 1555.05,354.7 1564.75,354.04 C1574.44,353.38 1584.58,353.6 1593.83,354.83 C1603.09,356.06 1611.9,358.58 1620.27,361.44 C1628.65,364.31 1636.58,367.61 1644.07,372.02 C1651.56,376.42 1659.06,381.71 1665.22,387.88 C1671.39,394.05 1676.24,401.54 1681.09,409.03 C1685.94,416.53 1690.7,424.9 1694.31,432.83 C1697.92,440.76 1700.92,448.7 1702.77,456.63 C1704.62,464.56 1705.5,472.49 1705.42,480.43 C1705.33,488.36 1704.09,496.29 1702.24,504.22 C1700.39,512.15 1697.84,520.09 1694.31,528.02 C1690.78,535.95 1686.38,544.32 1681.09,551.82 C1675.8,559.31 1669.63,566.8 1662.58,572.97 C1655.53,579.14 1647.16,583.99 1638.78,588.83 C1630.41,593.68 1621.6,598.31 1612.34,602.05 C1603.09,605.8 1592.95,609.11 1583.26,611.31 C1573.56,613.51 1563.87,615.05 1554.17,615.27 C1544.48,615.5 1534.34,614.83 1525.09,612.63 C1515.83,610.43 1506.58,606.9 1498.65,602.05 C1490.71,597.21 1484.1,590.6 1477.49,583.55 C1470.88,576.49 1464.27,568.56 1458.98,559.75 C1453.7,550.94 1449.2,540.36 1445.76,530.66 C1442.33,520.97 1439.9,511.27 1438.36,501.58 C1436.82,491.88 1436.38,481.31 1436.51,472.49Z" fill="url(#hg2)"/>
<path d="M1436.51,472.49 C1436.64,463.68 1437.17,456.63 1439.15,448.7 C1441.14,440.76 1444.22,432.39 1448.41,424.9 C1452.59,417.41 1458.1,410.36 1464.27,403.75 C1470.44,397.14 1477.93,390.97 1485.43,385.24 C1492.92,379.51 1500.85,373.78 1509.22,369.37 C1517.6,364.97 1526.41,361.35 1535.66,358.8 C1544.92,356.24 1555.05,354.7 1564.75,354.04 C1574.44,353.38 1584.58,353.6 1593.83,354.83 C1603.09,356.06 1611.9,358.58 1620.27,361.44 C1628.65,364.31 1636.58,367.61 1644.07,372.02 C1651.56,376.42 1659.06,381.71 1665.22,387.88 C1671.39,394.05 1676.24,401.54 1681.09,409.03 C1685.94,416.53 1690.7,424.9 1694.31,432.83 C1697.92,440.76 1700.92,448.7 1702.77,456.63 C1704.62,464.56 1705.5,472.49 1705.42,480.43 C1705.33,488.36 1704.09,496.29 1702.24,504.22 C1700.39,512.15 1697.84,520.09 1694.31,528.02 C1690.78,535.95 1686.38,544.32 1681.09,551.82 C1675.8,559.31 1669.63,566.8 1662.58,572.97 C1655.53,579.14 1647.16,583.99 1638.78,588.83 C1630.41,593.68 1621.6,598.31 1612.34,602.05 C1603.09,605.8 1592.95,609.11 1583.26,611.31 C1573.56,613.51 1563.87,615.05 1554.17,615.27 C1544.48,615.5 1534.34,614.83 1525.09,612.63 C1515.83,610.43 1506.58,606.9 1498.65,602.05 C1490.71,597.21 1484.1,590.6 1477.49,583.55 C1470.88,576.49 1464.27,568.56 1458.98,559.75 C1453.7,550.94 1449.2,540.36 1445.76,530.66 C1442.33,520.97 1439.9,511.27 1438.36,501.58 C1436.82,491.88 1436.38,481.31 1436.51,472.49Z" fill="#fff" filter="url(#tex2)" opacity="0.5"/>
<path d="M1436.51,472.49 C1436.64,463.68 1437.17,456.63 1439.15,448.7 C1441.14,440.76 1444.22,432.39 1448.41,424.9 C1452.59,417.41 1458.1,410.36 1464.27,403.75 C1470.44,397.14 1477.93,390.97 1485.43,385.24 C1492.92,379.51 1500.85,373.78 1509.22,369.37 C1517.6,364.97 1526.41,361.35 1535.66,358.8 C1544.92,356.24 1555.05,354.7 1564.75,354.04 C1574.44,353.38 1584.58,353.6 1593.83,354.83 C1603.09,356.06 1611.9,358.58 1620.27,361.44 C1628.65,364.31 1636.58,367.61 1644.07,372.02 C1651.56,376.42 1659.06,381.71 1665.22,387.88 C1671.39,394.05 1676.24,401.54 1681.09,409.03 C1685.94,416.53 1690.7,424.9 1694.31,432.83 C1697.92,440.76 1700.92,448.7 1702.77,456.63 C1704.62,464.56 1705.5,472.49 1705.42,480.43 C1705.33,488.36 1704.09,496.29 1702.24,504.22 C1700.39,512.15 1697.84,520.09 1694.31,528.02 C1690.78,535.95 1686.38,544.32 1681.09,551.82 C1675.8,559.31 1669.63,566.8 1662.58,572.97 C1655.53,579.14 1647.16,583.99 1638.78,588.83 C1630.41,593.68 1621.6,598.31 1612.34,602.05 C1603.09,605.8 1592.95,609.11 1583.26,611.31 C1573.56,613.51 1563.87,615.05 1554.17,615.27 C1544.48,615.5 1534.34,614.83 1525.09,612.63 C1515.83,610.43 1506.58,606.9 1498.65,602.05 C1490.71,597.21 1484.1,590.6 1477.49,583.55 C1470.88,576.49 1464.27,568.56 1458.98,559.75 C1453.7,550.94 1449.2,540.36 1445.76,530.66 C1442.33,520.97 1439.9,511.27 1438.36,501.58 C1436.82,491.88 1436.38,481.31 1436.51,472.49Z" fill="#fff" filter="url(#tex)" opacity="0.55"/>
<g clip-path="url(#ho2)">
<ellipse cx="1609.7" cy="459.27" rx="37.02" ry="34.37" fill="#a33068" opacity="0.4" filter="url(#blur6)"/>
<ellipse cx="1670.51" cy="493.65" rx="31.73" ry="66.1" fill="#b02f60" opacity="0.4" filter="url(#blur6)"/>
<ellipse cx="1577.97" cy="572.97" rx="66.1" ry="26.44" fill="#ad2e60" opacity="0.4" filter="url(#blur6)"/>
<path d="M1519.95,530.12A78.99,71.59 0 0 1 1515.5,522.84M1597.57,565.8A82.37,75.96 0 0 1 1570.04,565.41M1599.61,550.13A59.46,64.05 0 0 1 1572.56,550.57M1533.64,530.18A68.38,68.62 0 0 1 1529.46,524.41M1654.94,442.84A82.57,89.54 0 0 1 1666.02,469.5M1532.17,526.21A70.43,67.82 0 0 1 1523.65,513.41M1479.81,474.3A103.58,104.55 0 0 1 1487.36,448.32M1541.74,403.94A96.96,95.1 0 0 1 1573.69,396.41M1511.65,449.92A75.58,74.87 0 0 1 1516.3,442.57M1553.62,398.99A96.67,94.37 0 0 1 1578.73,395.68M1514.21,450.33A74.15,72.17 0 0 1 1524.6,435.94M1567.76,585.6A100.3,103.23 0 0 1 1553.54,582.4M1631.85,421.96A85.29,81.15 0 0 1 1649.2,437.15M1626.11,447.98A58.81,62 0 0 1 1636.09,473.01M1614.16,538.51A65.76,64.35 0 0 1 1596.76,546.79M1547.73,537.11A59.9,59.64 0 0 1 1537.87,529.2M1596.75,420.26A59.7,64.64 0 0 1 1618.78,432.05M1561.39,562.23A81.38,81.96 0 0 1 1535.54,548.47M1532.75,531.48A67.04,65.12 0 0 1 1520.98,512.18M1620.79,545.6A60.66,65.97 0 0 1 1596.19,556.84M1525.79,527.87A71.27,67.56 0 0 1 1519.88,517.32M1528.69,567.48A101.43,97.95 0 0 1 1510.68,553.18M1559.95,584.16A98.21,96.91 0 0 1 1548.98,581.27M1566.72,390.8A96.11,94.98 0 0 1 1579.55,389.58M1530.79,518.07A62.11,64.98 0 0 1 1521.67,489.94M1625.83,562.51A80.36,87.4 0 0 1 1617.74,567.44M1522.4,451.6A70.72,70.96 0 0 1 1536.56,436.57M1607.38,404.69A87.31,86.51 0 0 1 1638.57,420.19M1660.16,426.28A103.18,100.58 0 0 1 1674.61,450.46M1545.12,578.5A98.32,98.53 0 0 1 1521.06,564.55M1670.43,433.57A105.24,110.86 0 0 1 1681.75,462.94M1513.12,526.59A79.05,77.08 0 0 1 1509.63,519.95M1609.94,564.06A82.57,82.87 0 0 1 1598.58,567.36M1586,569.34A76.22,76.88 0 0 1 1578.62,569.31M1569.83,411.97A71.86,72.52 0 0 1 1589.02,410.48M1512.38,512.68A78.1,81.7 0 0 1 1508.82,494.71M1504.25,429.62A94.59,90.04 0 0 1 1527.1,408.73M1611.5,574.34A84.72,91.34 0 0 1 1585.23,580.47M1532.48,550.77A77.27,81.86 0 0 1 1512.12,526.24M1555.57,551.01A68.25,67.69 0 0 1 1531.35,536.68M1592.5,591.18A96.14,101 0 0 1 1560.5,589.76M1539.83,556.11A78.98,86 0 0 1 1531.11,549.18M1612.23,409.32A82.53,84.15 0 0 1 1622.01,414.06M1550.78,392.76A107.82,103.41 0 0 1 1573.32,388.45M1605.14,426.06A63.17,63.7 0 0 1 1614.74,431.44M1504.51,485.83A79.63,84.76 0 0 1 1505.53,474.48M1641.05,408.2A102.4,100.01 0 0 1 1664.4,433.6M1636.29,414.28A98.64,93.69 0 0 1 1645.68,420.95M1521.05,487.39A63.79,69.33 0 0 1 1523.31,466.22M1535.84,448.09A64.47,59.31 0 0 1 1542.67,441.89M1538.01,580.58A98.92,105.93 0 0 1 1530.26,576.49M1557.94,415.08A73.06,77.5 0 0 1 1565.22,412.82M1523.4,531.48A77.04,76.52 0 0 1 1510.3,506.81M1540.42,435.38A69.38,75.2 0 0 1 1567.49,419.19M1491.17,480.28A91.83,90.85 0 0 1 1498.74,447.72M1510.82,422.56A93.26,85.74 0 0 1 1537.36,405.34M1613.1,423.85A73.23,73.64 0 0 1 1622.04,428.35M1539.93,450.16A58.25,59.05 0 0 1 1556.23,436.46M1607.07,575.2A90.67,88.62 0 0 1 1597.11,577.72M1496.32,435.6A102.49,103.32 0 0 1 1504.66,424.27M1649.48,440.81A84.91,86.49 0 0 1 1659.85,463.04M1634.47,565.2A96.44,92.5 0 0 1 1614.8,575.11M1525.69,557.72A86.16,91.96 0 0 1 1515.98,547.19M1509.75,532.77A87.65,80.75 0 0 1 1503.34,520.47M1542.57,443.25A62.76,63.56 0 0 1 1548.15,438.53M1576.98,576.48A92.45,87.15 0 0 1 1559.68,573.51M1544.22,548.91A74.17,71.03 0 0 1 1537.54,544.43M1472.33,485.19A107.45,101.95 0 0 1 1475.35,463.38M1531.1,520.87A60.73,64.03 0 0 1 1526.08,509.75M1609.92,580.4A96.83,95.09 0 0 1 1601.78,582.26M1523.46,487.3A59.61,65.46 0 0 1 1527.8,458.44M1577.01,579.44A86.8,88.45 0 0 1 1551.01,572.35M1512.76,484.53A67.59,66.34 0 0 1 1518.75,456.96M1610.61,542.95A63.91,58.25 0 0 1 1589.38,547.2M1562.96,574.21A81.98,88.33 0 0 1 1548.15,569.55M1627.32,412.5A90.33,94.57 0 0 1 1648.4,432.66M1603.37,575.7A83.32,86.93 0 0 1 1577.27,579.59M1520.94,538.68A80.72,82.16 0 0 1 1508.76,517.11M1545.99,572.01A88.11,90.39 0 0 1 1536.16,566.74M1520.46,573.29A104.31,109.12 0 0 1 1499.04,552.5M1626.78,573.53A97.64,96 0 0 1 1600.71,582.08M1550.33,428.82A69.61,69.13 0 0 1 1560,425.14M1492.24,471.02A91.08,87.6 0 0 1 1496.35,454.51M1636.33,400.88A102.82,109.43 0 0 1 1655.35,418.66M1509.63,432.25A90.54,92.86 0 0 1 1530.38,413.24M1527.08,569.72A103,100.76 0 0 1 1511.25,558.14M1499.5,454.33A84.69,83.18 0 0 1 1516.94,428.4M1536.68,559.81A87.54,87.18 0 0 1 1525.55,551.46M1517.73,569.35A99.1,104.45 0 0 1 1502.57,554.19M1568.54,384.71A98.26,108.13 0 0 1 1585.33,384.19M1618.22,580.79A98.4,100.58 0 0 1 1585.13,587.29M1614.32,403.76A87.32,86 0 0 1 1641.38,421.55M1615.5,576.55A89.96,95.38 0 0 1 1606.53,579.32M1537.76,437.03A66.72,71.75 0 0 1 1544.14,431.55M1606.96,383.68A104.95,108.42 0 0 1 1635.21,394.01M1512.88,413.22A95.03,101.24 0 0 1 1533.47,397.19M1515.4,551.77A93.96,91.07 0 0 1 1494.27,525.65M1494.04,538.87A105.14,102.77 0 0 1 1486.29,522.21M1640.15,435.4A77.99,78.04 0 0 1 1648.56,446.63M1582.59,404.91A79.95,87.44 0 0 1 1600.41,408.39M1539.58,437.96A64.77,62.36 0 0 1 1548.62,432.25M1506.57,515.04A76.66,76.11 0 0 1 1503.13,495.14M1505.74,536.72A84.08,89.85 0 0 1 1495.59,510.65M1507.34,496.85A75.82,73.52 0 0 1 1506.57,481.6M1519.84,558.68A94.34,91.86 0 0 1 1506.18,544.01M1588.6,547.39A65.93,63.44 0 0 1 1577.85,548.1M1534.04,576.86A103.85,102.59 0 0 1 1521.27,569.71M1590.04,417.83A73.47,71.6 0 0 1 1614.16,424.91M1526.13,520.64A61.73,67.07 0 0 1 1518.94,489.63M1495.26,526.39A96.19,95.22 0 0 1 1489.26,510.39M1492.31,470.73A96.59,95.42 0 0 1 1506.27,438.54M1589.73,550.3A62.81,61.44 0 0 1 1558.54,544.4M1578.51,564.67A83.46,80.63 0 0 1 1555.93,561.34M1514.61,566.55A96.7,101.97 0 0 1 1499.68,548.39M1512.44,539.91A89.03,82.7 0 0 1 1506.74,532.54M1532.68,535.18A65.27,65.68 0 0 1 1518.45,513.04M1491.38,477.43A91.44,93.29 0 0 1 1493.59,467.16M1509.09,473.13A78.25,77.65 0 0 1 1511.13,465.32M1626.83,438.84A69.66,66.73 0 0 1 1644.07,461.1M1568.28,425.01A58.73,59.8 0 0 1 1578.41,423.36M1520.01,424.91A84.92,95.15 0 0 1 1545.81,402.8M1612.93,410.78A79.97,81.85 0 0 1 1620.31,414M1528.67,449.44A65.65,65.1 0 0 1 1536.52,439.55M1653.84,419.98A97.2,96.43 0 0 1 1664.08,432.49M1506.99,435.09A100.28,93.29 0 0 1 1517.4,424.49M1536.82,399.63A96.53,101.23 0 0 1 1565.27,388.27M1493.41,452.07A89.86,85.88 0 0 1 1509.5,426.55M1606.05,581.36A101.68,100.77 0 0 1 1573.2,584.77M1522.77,440.49A79.64,78.9 0 0 1 1538.35,425M1546.97,420.94A81.81,79.73 0 0 1 1556.56,416.95M1599.87,563.62A80.07,73.79 0 0 1 1590.05,565.07M1595.21,390.56A92.63,94.65 0 0 1 1615.03,394.98M1493.29,493.58A92.58,90.38 0 0 1 1493.42,478.37M1554.12,407.15A77.69,87.1 0 0 1 1569.45,402.1M1513.41,456.06A71.16,70.69 0 0 1 1531.45,430.88M1487.62,463.17A95.2,96.77 0 0 1 1490.07,455.17M1481.66,493.9A101.72,103.28 0 0 1 1481.28,479.65M1522.08,462.72A67.99,65.64 0 0 1 1529.85,449.79M1570.89,549.24A68.35,67.24 0 0 1 1547.83,539.86M1617.13,414.83A79.64,82.99 0 0 1 1635.5,426.85M1502.87,480.89A80.83,74.52 0 0 1 1506.96,460.83M1602.2,417.15A70.73,78.98 0 0 1 1629.08,434.84M1611.62,547.99A65.72,66.7 0 0 1 1587.82,556.38M1602.03,568.11A76.82,81.18 0 0 1 1582.64,571.36M1572.23,582.39A99.05,94.82 0 0 1 1540.63,572.83M1554.45,556.63A77.66,75.9 0 0 1 1543.11,551.16M1607.4,585.8A94.92,100.3 0 0 1 1577.52,589.34M1553.19,415A81.46,74.47 0 0 1 1576.33,411.38M1498.16,452.12A88.97,91.88 0 0 1 1512.13,428.46M1522.55,471.62A61.83,62.03 0 0 1 1526.74,459.3M1494.67,530.45A101.69,95.08 0 0 1 1484.11,501.87M1510.16,414.94A104.85,100.15 0 0 1 1518.43,408.23M1514.08,418.8A99.32,104.29 0 0 1 1520.85,412.17M1632.01,394.64A103.08,101.71 0 0 1 1640.46,399.39M1631.22,421.55A82.46,84.05 0 0 1 1652.6,441.64M1497.96,514.15A88.34,94.71 0 0 1 1493.96,492.64M1539.86,404.09A100.82,93 0 0 1 1565.89,396.76M1642.97,431.4A78.38,83.9 0 0 1 1649.86,442.34M1589.81,424.2A65.51,61.33 0 0 1 1617.03,431.58M1638.78,429.42A76.24,78.77 0 0 1 1650.86,446.58M1598.24,423.56A63.14,67.22 0 0 1 1610.49,427.43M1512.96,467.54A75.84,76.83 0 0 1 1516.23,458.9M1589.72,561.98A72.76,73.73 0 0 1 1574.69,561.54M1631.94,547.71A86,78.51 0 0 1 1624.59,552.07M1586.55,399.62A95.82,93.22 0 0 1 1602.76,401.67M1524.72,576.73A102.37,106.59 0 0 1 1499.77,553.2M1541.12,396.81A100.55,104.69 0 0 1 1552.64,391.61M1535.34,449.74A62.19,65.47 0 0 1 1554.73,432.19M1525.25,438.92A73.67,76.31 0 0 1 1538.19,426.48M1531.65,547.42A77.2,70.2 0 0 1 1522.32,539.88M1627.86,431.65A75.19,73 0 0 1 1648.82,451.6M1507.14,474.77A73.61,69.05 0 0 1 1508.91,467.91M1523.64,526.11A68.74,69.37 0 0 1 1518.38,518.11M1589.39,426.49A65.14,59.58 0 0 1 1617.15,434.84M1629.81,449.8A59.49,59.85 0 0 1 1636.88,459.22M1582.28,571.89A89.61,86.76 0 0 1 1557.06,567.99M1511.24,408.39A104.61,103.33 0 0 1 1534.01,392.22M1517.83,439.49A81.72,84.13 0 0 1 1531.33,424.27M1628.06,545.1A67.96,70.49 0 0 1 1610.91,555.46M1505.03,443.21A91.02,87.2 0 0 1 1518.03,427.71M1532.92,402.52A94.38,95.96 0 0 1 1542.34,397.77M1647.63,453.67A77.83,71.03 0 0 1 1657.28,477.42M1650.95,434.3A87.17,85.29 0 0 1 1661.05,447.96M1482.79,514.17A101.65,101.91 0 0 1 1480.11,496.34M1562.03,575.22A93.44,91.57 0 0 1 1545.28,570.97M1585.58,565.7A84.05,80.52 0 0 1 1560.33,563.34M1601.02,424.51A60.13,63.35 0 0 1 1623.4,436.4M1633.17,441A65.64,66.77 0 0 1 1644.47,461.56M1576.67,601.36A108.01,108.83 0 0 1 1551.92,598.22M1561.25,577.83A89.74,90.96 0 0 1 1548.32,574.42M1619.99,440.52A65.83,65.68 0 0 1 1637.17,460.33M1592.64,412.21A80.74,76.42 0 0 1 1602.59,413.72M1594.88,550.11A60.44,61.05 0 0 1 1570.67,550.43M1599.25,423.56A66.43,70.04 0 0 1 1620.24,435.61M1576.73,411.6A68.4,73.59 0 0 1 1601.11,413.61M1641.94,560.88A92.25,93.7 0 0 1 1614.96,575.38M1524.96,406.67A96.69,103.01 0 0 1 1542.57,394.97M1513.12,534.97A81.77,83.09 0 0 1 1504.07,518.88M1606.35,413.45A84.07,80.23 0 0 1 1616.55,417.09M1632.68,441.07A65.19,68.94 0 0 1 1643.97,460.62M1624.23,422.6A81.4,75.53 0 0 1 1644.36,437.35M1487.69,425.29A108.2,108.46 0 0 1 1503.51,405.87M1535.09,562.96A95.24,86.31 0 0 1 1517.92,550.85M1638.34,562.22A94.72,97.58 0 0 1 1616.86,574.41M1617.88,583.68A104.5,105.06 0 0 1 1595.64,588.5M1554.37,563.09A78.1,80.21 0 0 1 1544.03,558.67M1645.62,427.47A85.08,81 0 0 1 1656.82,441.73M1587.45,425.49A66.96,62.99 0 0 1 1597.12,427.21M1544.95,427.56A64.77,69.72 0 0 1 1560.6,420.41M1570.64,551.47A65.07,60.04 0 0 1 1561.97,549.42M1512.32,530.79A82.58,84.42 0 0 1 1502.02,499.02M1496.13,520.97A89.42,83.47 0 0 1 1489.43,499.59M1570.89,407.09A85.68,80.54 0 0 1 1600.82,407.61M1631.62,554.27A91.08,83.46 0 0 1 1620.6,560.45M1612.23,591.2A104.3,105.51 0 0 1 1576.91,594.04M1612.85,416.28A83.63,77.54 0 0 1 1620.56,419.24M1521.39,465.29A65.09,68.19 0 0 1 1531.42,444.16M1595.49,416.32A71.48,71.91 0 0 1 1624.91,428.51M1600.05,557.42A65.32,69.41 0 0 1 1586.56,560.73M1627.58,413.26A83.48,86.79 0 0 1 1650.37,434.6M1598.66,412.65A74.11,75.21 0 0 1 1606.46,414.78M1675.98,436.62A105.3,105.77 0 0 1 1684,452.41M1585.77,420.74A70.73,71.32 0 0 1 1605.41,423.9M1582.78,568.75A90.41,84.26 0 0 1 1561.93,567.62M1519.04,494.79A64.62,67.99 0 0 1 1518.39,486.27M1642.65,565.5A101.44,96.4 0 0 1 1618.63,577.87M1510.37,463.61A79.8,79.48 0 0 1 1516.77,448.26M1492.88,471.77A93.34,90.89 0 0 1 1497.89,452.3M1503.5,491.1A82.86,78.97 0 0 1 1508.33,460.02M1497.78,458.27A91.17,94.41 0 0 1 1501.55,446.93M1587.12,585.7A111.07,99.53 0 0 1 1571.33,584.98M1523.46,541.36A74.83,75.58 0 0 1 1507.52,515.08M1620.11,573.86A94.05,99.78 0 0 1 1601.05,581.08M1583.02,578.31A89.3,86.37 0 0 1 1567.5,577.91M1664.77,422.68A105.63,105.21 0 0 1 1672.03,434.04M1575,410.08A88.65,79.57 0 0 1 1597.7,411.53M1582.61,578.43A84.35,87.22 0 0 1 1554.99,574.1M1518.71,431.55A82.74,91.26 0 0 1 1542.63,407.8M1623.73,441.03A64.5,65.56 0 0 1 1642.58,465.89M1552.66,568.98A83.66,88.22 0 0 1 1544.54,564.93M1541.51,550.53A75.49,72.17 0 0 1 1519.62,529.35M1506.56,504.7A79.13,83.16 0 0 1 1505.69,487.5M1630.47,543.3A74.68,72.35 0 0 1 1607.15,555.13M1569.05,419.31A74.65,73.21 0 0 1 1598.12,421.36M1504.73,458.77A79.01,79.82 0 0 1 1514.11,439.19M1495.08,514.25A86.74,92.67 0 0 1 1490.37,483.47M1541.17,563.97A89.01,88.23 0 0 1 1521.73,552.37M1543.75,437.04A65.02,67.32 0 0 1 1561.6,427.43M1641.98,409.7A96.08,94.66 0 0 1 1650.5,416.63M1567.55,387.07A98.72,104.74 0 0 1 1585.06,385.96M1555.32,406.75A85.12,88.23 0 0 1 1571.23,402.8M1493.57,535.43A98.63,98.82 0 0 1 1486.07,515.1M1537.8,426.15A80.63,77.63 0 0 1 1547.46,420.05M1519.73,515.8A62.69,61.74 0 0 1 1515.2,495.14M1553.35,537.38A62,60.4 0 0 1 1541,528.6M1546.84,411.04A81.89,87.82 0 0 1 1565.9,403.52M1570.08,407.99A79.89,84.05 0 0 1 1601.41,410.22M1592.93,429.8A60.13,59.08 0 0 1 1609.64,435.6M1516.98,428.11A89.53,89.65 0 0 1 1523.4,422.39M1511.1,520.21A83.93,83.37 0 0 1 1503,489.48M1537.32,543A76.21,77.04 0 0 1 1521.51,524.93M1584.05,569.05A78.93,79.03 0 0 1 1564.59,567.49M1529.54,433.15A83.4,76.27 0 0 1 1538.57,427.14M1621.78,429.22A69.25,64.37 0 0 1 1640.29,445.3M1581.31,394.96A99.55,95.29 0 0 1 1598.43,397.11M1527.68,536.76A74.68,81.87 0 0 1 1515.01,509.7M1504.9,501.57A79.74,83.44 0 0 1 1504.75,485.41M1507.6,507.16A80.75,81.91 0 0 1 1506.9,477.47M1655.68,414.39A102.46,100.36 0 0 1 1669.14,432.04M1637.02,449.72A59.81,62.9 0 0 1 1643.05,463.29M1528.65,413.77A93.92,90.83 0 0 1 1548.07,405M1589.54,399.51A88.52,88.51 0 0 1 1610.39,403.95M1580.04,406.82A79.5,79.87 0 0 1 1597.88,408.02M1498.21,526.91A90.41,96.29 0 0 1 1493.17,510.51M1622.15,590.36A105.29,105.24 0 0 1 1589.6,597.82M1490.46,510.73A97.18,91.45 0 0 1 1488.78,500.58M1496.41,466.87A88.06,84.53 0 0 1 1502.56,450.58M1644.41,399.54A105.92,105.49 0 0 1 1654.41,407.25M1515.09,559.24A93.99,95.68 0 0 1 1499.08,538.22M1519.03,574.03A107.46,109.8 0 0 1 1513.15,568.89M1483.58,527.15A104.85,99.18 0 0 1 1476.04,493.37M1514.03,530.1A75.49,84.37 0 0 1 1508.36,514.02M1489.95,447.87A100.68,94.99 0 0 1 1504.79,427.26M1555.43,568.13A82.73,84.66 0 0 1 1542.94,561.87M1626.38,537.31A69.49,67.69 0 0 1 1612.57,545.78M1568.53,423.49A71.53,68.53 0 0 1 1584.69,421.79M1489.54,449.9A103.52,92.88 0 0 1 1502.43,430.89M1508.27,425.35A105.56,98.21 0 0 1 1522.5,413.34M1495.71,506.02A92.51,86.82 0 0 1 1492.73,483.69M1617.05,548.38A75.92,69.27 0 0 1 1607.77,552.45M1516.68,519.62A70.71,69.77 0 0 1 1510.28,497.91M1552.88,402.36A82.34,91.31 0 0 1 1562.92,399.63M1569.75,579.37A90.22,96.02 0 0 1 1551.76,575.74M1566.38,387.56A103.61,101.66 0 0 1 1592.22,386.7M1601.51,414.79A83.07,77.22 0 0 1 1616.59,419.85M1506.76,514.72A77.28,80.07 0 0 1 1504.02,502.28M1517.96,448.13A70.82,74.87 0 0 1 1535.81,427.62M1544.25,574.58A95.58,95.38 0 0 1 1531.4,568.26M1483.29,518.34A101.6,91.66 0 0 1 1478.26,499.74M1561.08,565.41A74.32,80.34 0 0 1 1535.75,552.29M1590.41,400.79A81.41,84.9 0 0 1 1615.67,407.08M1622.16,439.54A59.83,63.44 0 0 1 1636.22,459.91M1596,581.35A98.91,94.55 0 0 1 1585.55,582.06M1625.3,389.41A104.34,108.97 0 0 1 1639.73,397.72M1596.92,402.24A93.44,87.14 0 0 1 1610.98,405.43M1485.67,496.33A100.13,100.13 0 0 1 1485.44,484.16M1633.27,415.01A90.26,85.82 0 0 1 1640.24,420.33M1584.32,545.81A61.82,58.45 0 0 1 1573.21,545.2M1534.49,553.93A83.55,81.18 0 0 1 1526.58,548.7M1577.85,571.83A77.45,86.21 0 0 1 1553.16,564.3M1543.67,439.5A61.86,66.3 0 0 1 1566.11,427.59M1636.1,402.29A105.84,100.12 0 0 1 1661.06,422.13M1614.94,552.85A70.63,71.01 0 0 1 1604.12,558.23M1532.44,387.84A102,110.25 0 0 1 1550.4,380.34M1637.35,441.48A75.66,82.48 0 0 1 1644.67,454.05M1525.16,563.86A88.19,92.24 0 0 1 1505.45,539.84M1496.28,533.18A96.77,104.96 0 0 1 1488.8,506.86M1555.36,584.26A90.56,99.02 0 0 1 1546.25,581.17M1648.57,442.89A78.78,80.5 0 0 1 1658.32,468.14M1627.65,401.52A101.77,101.29 0 0 1 1641.58,411.05M1598.29,386.05A102.1,98.85 0 0 1 1623.59,392.5M1572.09,556.64A63.33,64.95 0 0 1 1550.49,549.67M1643.48,426A84.14,87.92 0 0 1 1653.79,438.19M1559.33,390.63A102.35,95.91 0 0 1 1582.45,389.24M1507.54,539.59A92.39,89.15 0 0 1 1499.12,523.7M1656.76,438.68A89,80.28 0 0 1 1670.04,466.81M1547.64,433.26A63.43,69.32 0 0 1 1557.51,426.95M1520.3,397.64A109.8,111.24 0 0 1 1553.07,381.11M1609.2,574.3A88.42,91.62 0 0 1 1592.59,577.67M1513.62,481.79A70.66,63.99 0 0 1 1514.81,472.87M1525.29,422.41A90.43,85.82 0 0 1 1535.79,415.25M1600.29,410.67A85.99,77.84 0 0 1 1623.37,419.29M1493.73,464.47A85.68,81.86 0 0 1 1500.52,446.92M1501.66,495.55A76.23,71.24 0 0 1 1501.62,487.46M1606.03,564.52A75.14,78.22 0 0 1 1590.91,568.04M1489.83,436.08A101,110.75 0 0 1 1494.15,428.28M1607.52,543.31A63.98,60.36 0 0 1 1575.64,548.53M1519.57,523.75A72.99,75.55 0 0 1 1512.24,498.34M1568.28,595.85A96.17,104.32 0 0 1 1552.45,591.66M1502.08,462.7A79.76,84.05 0 0 1 1516.04,435.75" stroke="#fff" stroke-width="1.1" fill="none" opacity="0.8" stroke-linecap="round"/>
<path d="M1523.49,507.8A63.57,64.95 0 0 1 1521.41,497.04M1547.12,543.99A73.29,68.34 0 0 1 1527.53,527.89M1523.52,460.52A69.02,69.76 0 0 1 1543.43,435.56M1576.89,428.8A59.53,56.85 0 0 1 1594.06,428.67M1550.97,525.01A46.68,48.96 0 0 1 1546.02,519.41M1544.99,436.04A55.81,60.62 0 0 1 1551.88,430.82M1541.62,467.87A48.08,48.83 0 0 1 1551.33,455.41M1519.92,510.17A68.95,70.6 0 0 1 1516.05,477.67M1589.67,554.43A66.15,65.94 0 0 1 1560.47,550.52M1557.52,447.93A51.43,50.99 0 0 1 1572.83,441.84M1560.34,550.65A65.6,69.08 0 0 1 1537.42,536.73M1597.18,547.29A61.54,58.01 0 0 1 1590.21,548.81M1527.78,500.69A54.06,52.33 0 0 1 1526.47,477.7M1555.85,437.53A55.25,53.03 0 0 1 1574.44,433.37M1531.01,472.46A50.79,56.19 0 0 1 1537.89,458.23M1536.32,475.1A47.14,44.09 0 0 1 1546.3,459.27M1568.08,530.9A43.47,43.12 0 0 1 1547.54,515.42M1519.38,461.76A63.81,65.42 0 0 1 1537.24,436.39M1570.37,433.02A57.18,54.52 0 0 1 1579.75,431.71M1555.44,527.96A47.25,45.25 0 0 1 1541.07,510.73M1547,539.99A62.12,63.67 0 0 1 1530.18,522.65M1517.49,493.48A67.78,60.24 0 0 1 1521.86,466.26M1532.64,472.16A54.49,52.48 0 0 1 1535.02,464.92M1524.54,492.72A54.22,50.72 0 0 1 1525.41,479.87M1583.95,560.37A70.53,74.02 0 0 1 1571.18,559.95M1538.31,467.46A44.95,47.35 0 0 1 1550.56,450.16M1516.13,491.05A64.39,64.05 0 0 1 1516.68,482.61M1604.29,543.66A60.28,63.49 0 0 1 1581.75,547.41M1534.63,475.36A49,52.48 0 0 1 1539.77,460.98M1623.23,439.18A65.2,61.46 0 0 1 1634.16,450.12M1564.63,555.42A61.09,65.46 0 0 1 1546.16,546.72M1536.05,523.52A61.08,59.26 0 0 1 1527.17,504.81M1578.22,551.27A58.87,62.2 0 0 1 1552.66,542.4M1538.64,527.46A59.99,58.99 0 0 1 1525.34,498.42M1609.45,442.87A53.5,50.58 0 0 1 1629.82,461.62M1579.02,423.57A64.25,67.35 0 0 1 1599.9,426.31M1541.4,466.74A49.06,47.3 0 0 1 1550.93,456.01M1580.53,443.01A40.65,40.13 0 0 1 1596.22,445.78M1602.26,554.65A66.08,69.55 0 0 1 1587.81,557.82M1614.95,436.4A59.36,58.8 0 0 1 1621.68,442.09M1578.01,450.66A44.72,40.73 0 0 1 1590.85,450.67M1585.98,427.55A61.67,59.61 0 0 1 1608.69,432.91M1524.29,485.86A54.65,53.51 0 0 1 1528.72,468.15M1537.01,501.63A43.54,42.78 0 0 1 1535.84,478.18M1601.22,536.85A52.07,53.31 0 0 1 1578.33,542.15M1611.44,447.21A46.77,44.9 0 0 1 1627.45,464.52M1550.22,434.83A62.42,64.29 0 0 1 1565.38,426.68M1596.56,438.46A44.6,47.22 0 0 1 1608.94,443.91M1534.54,498.4A50.41,47.14 0 0 1 1533.84,487.79M1542.7,468.63A45.94,45.35 0 0 1 1547.02,461.53M1576.38,420.95A62.86,62.58 0 0 1 1596.32,423.04M1528.61,477.72A58.08,63.99 0 0 1 1533.58,459.33M1596.95,421.94A64.4,64.38 0 0 1 1624.98,437.08M1574.5,430.78A52.19,55.69 0 0 1 1586.7,429.26M1558.11,442.81A47.62,51.02 0 0 1 1569.73,437.97M1603.12,421.91A71.68,70.06 0 0 1 1613.39,426.76M1619.52,431.38A66.58,69.35 0 0 1 1635.51,449.27M1533.01,531.86A65.28,61.15 0 0 1 1526.15,522.94M1554.84,534.84A57.35,53.52 0 0 1 1534.09,517.89M1613.53,443.32A54.26,56.21 0 0 1 1623.74,452.98M1582.03,434.76A55.85,53.84 0 0 1 1602.46,437.67M1536.24,513.14A46.74,46.49 0 0 1 1531.35,500.17M1599.28,544.39A65.58,62.86 0 0 1 1589,545.92M1586.43,417.31A72.71,70.11 0 0 1 1604.23,420.94M1620.8,439.78A63.2,63.86 0 0 1 1637.53,459.62M1603.61,438.15A51.93,54.96 0 0 1 1625.84,457.96M1545.12,550.34A67.52,70.13 0 0 1 1525.49,532.08M1605.83,545.82A63.35,65.28 0 0 1 1578.57,550.44M1563.42,552.94A63.12,65.88 0 0 1 1555.38,550.16M1521.4,517.82A64.57,61.45 0 0 1 1514.49,497.75M1577.29,551.43A62.94,59.58 0 0 1 1547.26,541.46M1529.77,456.39A64.98,61.45 0 0 1 1540.81,444.4M1606.85,428.08A69.07,67.78 0 0 1 1623.15,435.5M1532.8,488.04A46.55,50.07 0 0 1 1534.1,478.21M1554.32,437.27A51.02,56.54 0 0 1 1565.23,431.45M1545.56,526.07A50.68,52.4 0 0 1 1531.55,501.28M1581.74,420.53A64.13,64.76 0 0 1 1607.99,424.28M1524.56,467.9A62.02,60.62 0 0 1 1531.17,453.36M1572.18,446.15A46.01,46.1 0 0 1 1582.51,444.4M1576.63,535.2A47.5,46.91 0 0 1 1555.41,528.21M1563.48,448.63A45.09,45.52 0 0 1 1579.02,446.05M1532.1,475.49A48.02,48.74 0 0 1 1546.41,454.71M1527.33,502.24A53.17,57.2 0 0 1 1526.41,493.04M1603.58,430.61A65.04,64.51 0 0 1 1612.89,434.85M1536.64,475.89A43.59,41.22 0 0 1 1544.9,459.81M1587.15,427.07A63.57,62.08 0 0 1 1603.69,431.65M1517.24,469.1A66.08,61.82 0 0 1 1523.56,457.03M1557.18,539.85A60.08,59.63 0 0 1 1541.79,529.52M1578.67,532.52A44.06,44.22 0 0 1 1563.12,529.77M1517.44,455.04A71.56,68.8 0 0 1 1536.86,435.33M1513.61,466.97A68.08,68.72 0 0 1 1521.54,450.06M1513.89,471.65A67.7,68.64 0 0 1 1525.91,442.64M1552.1,542.21A67.52,65.3 0 0 1 1545.49,538.27M1536.07,484.52A43.79,44.31 0 0 1 1545.88,463.61M1549.3,439.57A56.35,59.86 0 0 1 1567.07,428.52M1535.57,504.61A53.74,52.95 0 0 1 1532.11,488.78M1595.94,435.54A51.79,51.74 0 0 1 1607.56,440.98M1580.86,538.09A53.91,49.76 0 0 1 1559.92,534.4M1573.84,439.87A43.25,45.38 0 0 1 1598.89,445.44M1611.25,436.05A51.92,54.2 0 0 1 1618.47,441.12M1605.95,429.85A61.58,65.36 0 0 1 1619.77,436.87M1555.83,551.37A72.45,68.44 0 0 1 1540.35,542.73M1573.78,541.57A57.97,57.35 0 0 1 1560.57,537.13M1533.83,534.71A62.13,62.16 0 0 1 1529.18,529.42M1602.07,444.9A52.39,51.54 0 0 1 1616.69,454.54M1582.45,534.17A51.06,49.5 0 0 1 1571.58,533.64M1584.83,437.69A48.88,45.83 0 0 1 1599.24,442.13M1605.75,544.03A56.52,60.89 0 0 1 1588.57,548.84M1578.54,417.1A70.96,69.86 0 0 1 1609.75,420.45M1567.07,550.77A69.02,63.9 0 0 1 1554.3,547.02M1538.39,505.28A42.93,44.15 0 0 1 1535.96,478.57M1543.48,460.66A50.82,52.76 0 0 1 1564.87,440.82M1540.71,442.83A62.42,61.51 0 0 1 1561.3,431.55M1537.5,471.73A44.52,44.76 0 0 1 1541.68,462.61M1509.12,474.07A73.32,70.85 0 0 1 1516.78,454.02M1531.92,512.55A55.73,54.05 0 0 1 1527.03,503.07M1533.77,466.06A55.2,53.94 0 0 1 1538.24,457.9M1539.06,436.21A67.35,64.4 0 0 1 1547.36,430.5M1597,528.3A51.35,46.19 0 0 1 1566.05,530.24M1532.81,503.1A53.07,51.54 0 0 1 1533.02,481.13M1605.39,533.16A46.24,47.22 0 0 1 1594.11,537.64M1518.86,452.24A65.86,69.12 0 0 1 1528.21,437.73M1533.64,481.3A43.53,44.57 0 0 1 1542.84,458.02M1539.27,438.04A63.4,66.99 0 0 1 1554.31,428M1529.06,461.8A58.83,58.39 0 0 1 1543.6,443.32M1534.75,539.1A71.81,69.67 0 0 1 1523.05,523.28M1535.71,498.61A47.39,47.92 0 0 1 1533.97,482.24M1548.5,453.57A42.77,45.12 0 0 1 1566.82,442.03M1526.94,501.46A58.62,61.99 0 0 1 1524.45,479.93M1540.69,424.6A70.41,71.4 0 0 1 1557.67,416.28M1592.01,546.12A53.09,56.23 0 0 1 1578.9,546.5M1606.66,537.59A50.98,52.27 0 0 1 1596.26,541.05M1533.89,487.86A52.26,50.76 0 0 1 1534.38,481.17M1609.2,440.29A60.09,55.79 0 0 1 1629.69,453.74M1530.7,461A53.61,52.38 0 0 1 1540.48,447.19M1529.06,491.44A49.36,53.47 0 0 1 1535,463.6M1611.27,424.43A64.42,69.15 0 0 1 1624.81,434.36M1627.92,434.75A73.96,69.92 0 0 1 1648.09,458.37M1568.25,423.89A66.25,67.01 0 0 1 1581.94,422.74M1589.68,540.31A47.96,49.35 0 0 1 1562.86,533.73M1517.96,495.53A61.12,61.22 0 0 1 1517.81,475.91M1552.96,545.45A64.67,63.54 0 0 1 1542.16,537.64M1537.15,483.44A47.88,48.49 0 0 1 1544.95,458.53M1561.53,524A42.99,42.77 0 0 1 1545.65,507.39M1592.83,540.97A54.06,54.42 0 0 1 1567.76,538.87M1568.72,428.37A62.06,64.5 0 0 1 1599.5,432M1583.68,552.67A62.51,62.8 0 0 1 1562.41,551M1573.54,438.63A48.35,52.06 0 0 1 1594.34,440.54M1567.85,432.38A59.63,60.54 0 0 1 1589.71,429.32M1543.91,536.13A62.08,60.11 0 0 1 1533.86,525.19M1528.74,512.64A58.68,56.19 0 0 1 1524.83,489.22M1596.56,534.47A47.7,50.38 0 0 1 1572.97,536.39M1540.67,540.78A69.22,66.37 0 0 1 1523.77,521.24M1523.79,458.69A64.94,62.85 0 0 1 1545.04,434.75M1540.45,455.14A52,54.13 0 0 1 1547.96,448.11M1537.07,490.74A47.93,47.88 0 0 1 1538.04,478.99M1561.68,528.34A47.79,48.18 0 0 1 1543.66,515.09M1521.9,518.2A70.69,70.18 0 0 1 1516.93,501.6M1576.44,530.36A48.72,46.94 0 0 1 1559.84,525.01M1535.8,518.52A58.97,56.78 0 0 1 1526.94,498.01M1536.86,464.96A50.87,47.68 0 0 1 1557.37,449.14M1541.98,447.19A57.88,57.55 0 0 1 1554.19,438.84M1580.84,544.59A58.85,60.1 0 0 1 1562.55,541.93M1525.72,488.17A55.62,54.2 0 0 1 1532.05,467.17M1547.27,437.1A57.03,60.9 0 0 1 1561.13,429.14M1537.19,536.15A69.3,67.67 0 0 1 1522.68,519.88M1601.68,419.27A73.77,67.78 0 0 1 1629.16,433.76M1561.86,544.29A65.05,62.41 0 0 1 1538.62,533.76M1608.98,443.63A54.65,55.17 0 0 1 1626.49,462.25M1555.47,529.95A53.72,50.66 0 0 1 1543.64,522.3M1570.79,431.84A61.65,61 0 0 1 1595.51,433.73M1575.01,434.49A53.12,52.17 0 0 1 1597.12,438.23M1571.07,422.08A73.29,65.7 0 0 1 1601.17,421.85M1590.65,550.68A66.61,67.8 0 0 1 1570.65,550.46M1557.45,526.93A47.67,51.41 0 0 1 1540.76,508.39M1552.39,528.89A49.64,51.34 0 0 1 1541.98,515.04M1592.98,527.88A40.75,44.94 0 0 1 1579.22,528.95M1591.27,532.34A48.17,48.61 0 0 1 1583.05,534M1531.97,476.62A51.37,47.58 0 0 1 1536.24,463.68M1553.3,552.32A67.19,70.31 0 0 1 1535.56,541.07" stroke="#fff" stroke-width="1.0" fill="none" opacity="0.75" stroke-linecap="round"/>
<path d="M1596.96,369.3A120.95,120.01 0 0 1 1630.86,378.77M1650.22,393.59A116.61,112.01 0 0 1 1657.68,398.92M1476.04,430.69A115.53,127.32 0 0 1 1483.5,415.31M1478.23,485.54A99.25,108.58 0 0 1 1483.01,458.24M1492.77,407.95A116.47,117.02 0 0 1 1512.21,391.21M1528.55,376.01A115.12,125.73 0 0 1 1538.32,371.16M1496.44,426.16A104.94,106.34 0 0 1 1506.76,414.82M1488.25,412.24A114.13,119.48 0 0 1 1511.18,389.43M1625.19,390.1A114.91,110.99 0 0 1 1638.2,396.51M1552.6,383.48A115.43,105.64 0 0 1 1564.53,380.99M1603.65,370.35A131.93,123.89 0 0 1 1612.16,372.17M1495.51,401.01A118.45,128.99 0 0 1 1505.59,390.12M1480.54,545.21A117.81,121.73 0 0 1 1472.61,526.89M1514.02,597.14A135.7,120.56 0 0 1 1500.7,589.36M1498.84,585.57A126.2,125.8 0 0 1 1488.18,575.91M1612.23,380.46A108.14,117.54 0 0 1 1636.1,392.93M1615.97,382.94A104.17,107.57 0 0 1 1635.86,392.52M1656.25,388.49A119.97,118.05 0 0 1 1673.95,403.9M1462.54,506.96A124.21,131.4 0 0 1 1460.85,484.99M1478.02,441.38A115.58,117.7 0 0 1 1481.29,434.15M1598.05,386.75A100.22,103.5 0 0 1 1625.87,394.34M1556.12,613.74A125.94,131.28 0 0 1 1539.4,609.36M1600.2,385.5A102.74,100.58 0 0 1 1618.93,391.31M1519.88,584.48A115.07,119.75 0 0 1 1505.69,573.31M1510.93,578.37A110.71,118.06 0 0 1 1493.3,560.58M1485.52,524.37A107.85,109.52 0 0 1 1481.98,513.65M1505.45,411.34A107.79,116.32 0 0 1 1517.27,399.3M1481.43,452.68A107.5,102.38 0 0 1 1486.83,441.39M1480.52,462.94A105.32,103.76 0 0 1 1494.38,432.14M1648.13,371.07A124.46,131.31 0 0 1 1670.8,389.12M1603.14,374.73A119.58,111.88 0 0 1 1632.04,383.7M1475.55,530.11A116.49,108.81 0 0 1 1469.78,512.83M1533.5,368.55A132.37,130.21 0 0 1 1568.05,359.92M1547.09,600.24A117.31,114.8 0 0 1 1539.41,597.45M1590.93,368.98A109.34,116.65 0 0 1 1618.25,376.29M1608.36,379.01A103.11,112.68 0 0 1 1625.44,386.45M1471.15,471.27A107.09,105.51 0 0 1 1475.34,452.85M1611.75,380.27A113.62,112.87 0 0 1 1643.09,392.79M1492.39,404.69A125.02,120.47 0 0 1 1522.49,384.22M1468.66,536.87A121.28,130.36 0 0 1 1463.72,517.74M1632.87,379.18A125.11,122.44 0 0 1 1648.05,386.79M1499.66,382.72A132.05,131.59 0 0 1 1521.08,369.69M1484.6,512.05A104.94,97.99 0 0 1 1481.5,498.69M1646.71,399.06A113.75,104.63 0 0 1 1655.85,405.41M1478.26,544.83A113.37,126.51 0 0 1 1468.27,509.43M1621.43,383.97A117.2,114.63 0 0 1 1646.48,397.56M1516.72,383.95A119.7,122.42 0 0 1 1531.85,376.22M1508.07,565.79A99.18,105.54 0 0 1 1491.85,541.87M1505.16,390.72A128.06,122.34 0 0 1 1528.3,378.5M1538.13,579.75A103.13,106.24 0 0 1 1525.96,571.9M1572.25,378.16A106.35,105.25 0 0 1 1602.92,380.35M1478.05,556.58A129.78,125.61 0 0 1 1460.81,524.55M1613.19,378.36A102.19,109.54 0 0 1 1634.78,388.48M1502.05,547.74A104.32,100.29 0 0 1 1496.25,540.25M1626.23,374.36A127.58,120.75 0 0 1 1658.28,391.98M1456.73,510.73A124.44,126.57 0 0 1 1455.15,485.05M1587.23,361.2A125.4,124.04 0 0 1 1599.23,362.59M1581.08,360.08A119.18,122.8 0 0 1 1595.22,360.85M1575.77,379.66A104.44,110.17 0 0 1 1588.88,379.78M1543.96,600.88A114.54,117 0 0 1 1534.01,596.59M1569.87,372.85A114.97,116.04 0 0 1 1600.38,373.45M1521.05,572.11A107.03,100.12 0 0 1 1505.98,560.9M1593.58,363.05A119.88,122.24 0 0 1 1606.04,364.87M1562.69,590.39A111.06,100.97 0 0 1 1554.36,588.53M1598.13,392.27A101.53,99.09 0 0 1 1615.55,396.88M1529.12,570.26A101.36,105.15 0 0 1 1509.19,551.84M1480.73,440.62A107.17,112.27 0 0 1 1491.03,420.75M1490.47,427.5A109.87,108.03 0 0 1 1511.55,403.93M1455.88,529.42A131.33,130.25 0 0 1 1451.19,507.93M1611.11,379.59A111.9,109.84 0 0 1 1627.12,385.78M1481.41,407.61A124.63,134.92 0 0 1 1502.03,384.09M1473.64,482.63A112.45,111.68 0 0 1 1479.89,454.79M1462.4,465.25A120.88,128.57 0 0 1 1465.22,451.58M1506.64,402.17A114.28,113.35 0 0 1 1520.43,392.77M1498.44,573.17A119.5,120.07 0 0 1 1484.68,555.51M1538.78,585.75A104.17,107.97 0 0 1 1511.95,569.6M1603.65,369.63A115.27,118.28 0 0 1 1634.54,381.31M1639.13,398.2A108.58,100.3 0 0 1 1658.61,412.47M1482.74,562.78A119.68,123.92 0 0 1 1474.42,549.71M1480.52,551.06A120.5,119.36 0 0 1 1474.86,541.28M1520.73,575.27A107.02,105.44 0 0 1 1500.02,555.95M1620.63,381.26A104.62,112.32 0 0 1 1640.28,392.51M1580.72,375.92A108.71,109.64 0 0 1 1591.48,376.24M1518.85,393.14A116.78,111.15 0 0 1 1536.21,383.63M1459.22,482.93A126.82,123.86 0 0 1 1460.96,467.85M1647.28,377.57A118.2,126.71 0 0 1 1669.7,396.19M1615.45,377.56A120.28,119.74 0 0 1 1633.72,384.65M1485.24,516.72A99.59,103.48 0 0 1 1481.7,498.12M1541.75,601.33A121.42,120.24 0 0 1 1521.58,591.29M1554.64,597.55A112.52,109.76 0 0 1 1545.93,594.99M1474.75,419.58A123.64,125.65 0 0 1 1487.98,402.47M1525.79,605.16A124.34,131.39 0 0 1 1499.61,587.09M1533.13,584.21A107.2,111.68 0 0 1 1515.86,573.68M1564.8,600.64A120.13,114.16 0 0 1 1552.96,598.04M1521.74,365.65A132.73,130.73 0 0 1 1540.16,358.84M1505.49,563.75A115.63,109.57 0 0 1 1488.35,543.64M1509.18,552.69A103.18,101.97 0 0 1 1494.1,530.8M1492.39,545.29A103.21,103.55 0 0 1 1483.76,528.6M1495.74,557.5A115.01,106.56 0 0 1 1489.56,551.17M1612.61,379.61A113.43,111.97 0 0 1 1635.6,389.26M1512.94,561.99A97.17,103.46 0 0 1 1505.35,553.61M1484.19,441.98A109.86,105.62 0 0 1 1500.09,419.76M1547.75,582.75A101.32,102.56 0 0 1 1524.62,571.21M1469.88,441.95A122.25,132.28 0 0 1 1483.82,411.68M1502.44,406.95A113.26,112.04 0 0 1 1531.78,386.46M1528.28,363.89A133.91,128.09 0 0 1 1542.47,359.39M1649.3,380.49A121.31,122.71 0 0 1 1660.88,388.52M1643.35,370.6A134.15,135.6 0 0 1 1659.3,380.41M1487.1,544.4A115.97,106.97 0 0 1 1477.12,525.1M1628.85,382.11A114.44,117.85 0 0 1 1649.76,393.83M1460.32,466.37A127.64,118.68 0 0 1 1467.62,445.1M1484.59,414.9A116.63,124.51 0 0 1 1506.07,390.63M1553.75,605.29A125.14,118.87 0 0 1 1542.94,602.75M1507.39,417.75A100.9,99.48 0 0 1 1525.99,402.3M1461.59,484.81A120.83,126.66 0 0 1 1464.82,456.05M1626.13,369.52A120.9,123.87 0 0 1 1636.7,374.68M1622.59,377.33A116.17,118.15 0 0 1 1643.47,388.72M1472.14,441.01A119.02,118.61 0 0 1 1478.21,429.82M1466.41,522.37A115.86,111.63 0 0 1 1461.29,493.08M1548.29,586.47A103.73,104.02 0 0 1 1521.15,573.53" stroke="#fff" stroke-width="0.9" fill="none" opacity="0.6" stroke-linecap="round"/>
<path d="M1665.27,509.78A86.62,88.53 0 0 1 1650.96,539.84M1667.58,554.37A109.11,103.16 0 0 1 1644.39,572.78M1653.02,455.53A79.12,79.62 0 0 1 1658.95,488.9M1675.47,443.62A105,108.61 0 0 1 1682.17,473.22M1652.1,533.35A80.88,80.56 0 0 1 1639.6,547.55M1653.56,479.85A67.94,70.89 0 0 1 1652.04,511.39M1665.49,403.12A118.37,117.99 0 0 1 1671.83,410.48M1653.14,378.25A117.39,130.75 0 0 1 1672.91,398.13M1651.72,399.04A111.78,107.91 0 0 1 1661.41,407.15M1657.45,474.67A72.55,70.04 0 0 1 1656.87,494.93M1662.23,422.19A101.44,100.69 0 0 1 1672.49,435.7M1653.49,511.58A78.44,77.07 0 0 1 1638.59,539.96M1663.35,546.08A101.4,105.21 0 0 1 1656.28,555.84M1646.73,374.95A125.04,130.36 0 0 1 1662.84,387.82M1678.43,494.78A92.93,91.16 0 0 1 1674.07,520.16M1691.81,503.8A114.16,114.36 0 0 1 1683.9,534.42M1653.75,465.92A74.83,76.18 0 0 1 1657.88,483.69M1666.45,456.25A94.01,94.84 0 0 1 1669.91,471.01M1689.78,463.75A113.22,107.96 0 0 1 1692.02,483M1670.28,485.11A90.42,95.54 0 0 1 1668.31,506.92M1678.7,436.44A113.06,117.96 0 0 1 1686.54,455.47M1645.58,473.15A69.42,69.2 0 0 1 1646.07,492M1631.26,416.91A86.61,82.72 0 0 1 1643.47,427.16M1679.75,520.39A102.92,100.52 0 0 1 1676.92,527.86M1697.25,517.41A115.08,121.14 0 0 1 1693.3,531.57M1635.01,536.58A68.6,71.42 0 0 1 1623.63,547.85M1616.26,426.41A66.42,73.2 0 0 1 1636.86,450.89M1662.69,540.93A97.93,99.3 0 0 1 1653.26,552.95M1682.75,490.69A96.56,102.61 0 0 1 1680.36,506.96M1689.95,555.85A123.82,124.94 0 0 1 1681.03,567.93M1660.83,554.75A100.76,105.31 0 0 1 1637.83,578.06M1662.15,503.9A76.47,81.81 0 0 1 1658.1,519.26M1643.51,517.47A71.7,79.67 0 0 1 1631.46,539.39M1652.01,505.14A74.94,75.34 0 0 1 1645.27,525.76M1638.14,428.65A83.33,82.27 0 0 1 1647.92,441.19M1659.68,414.79A108.5,107.06 0 0 1 1668.29,424.59M1654.67,458.57A74.25,77.92 0 0 1 1658.6,475.73M1630.06,419.97A78.16,79.86 0 0 1 1652.45,443.81M1658.96,524.61A83.7,84.64 0 0 1 1639.34,550.38M1662.73,509.79A78.1,81.24 0 0 1 1659.18,521.29M1631.02,418.86A88.63,85.81 0 0 1 1646.88,433.77M1646.37,442.19A80.22,83.17 0 0 1 1656.77,461.65M1666.26,459.12A90.17,91.59 0 0 1 1669.32,470.96M1651.76,549.25A98.21,96.17 0 0 1 1635.82,562.57M1656.1,480.46A76.37,71.23 0 0 1 1655.64,502.61M1652.6,482.31A70.15,73.35 0 0 1 1649.87,505.58M1668.55,484.66A85.37,93.55 0 0 1 1667.99,498.67M1656.85,574.54A110.15,116.11 0 0 1 1628.62,593.63M1669.43,453.4A94.98,88.17 0 0 1 1673.37,462.83M1665.92,505.75A81.38,77.83 0 0 1 1663.33,515.76M1679.03,531.32A104.88,103.28 0 0 1 1670.27,546.75M1686.46,489.62A103.49,100.91 0 0 1 1681.57,520.37M1658.68,435.98A97.73,96.03 0 0 1 1673.28,465.98M1672.71,443.91A98.5,96.1 0 0 1 1681.32,476.48M1683.45,483.94A99.84,98.22 0 0 1 1682.6,500.46M1654.15,526.47A87.61,83.47 0 0 1 1649.45,533.11M1663.66,573.12A118.25,119.53 0 0 1 1655.48,579.71M1650.1,538.19A86.43,85.53 0 0 1 1630.2,556.57M1678.62,479.63A96.46,100.81 0 0 1 1678.32,492.55M1666.82,481.44A81.14,81.02 0 0 1 1666.53,492.62" stroke="#fff" stroke-width="0.8" fill="none" opacity="0.45" stroke-linecap="round"/>
<path d="M1517.75,434.88l-7.99,-4.37M1591.99,404.93l-0.15,-3.99M1549.5,450.92l-6.23,-9.23M1604.87,434.68l1.57,-3.45M1522.57,476.74l-10.64,-2.76M1581.35,403.39l-1.47,-8.5M1619.05,435.89l5.12,-6.32M1541.44,439.33l-2.77,-2.59M1530.9,476.25l-3.9,-1.36M1593.22,404.16l0.06,-10.29M1534.94,424.77l-7.19,-7.63M1566.02,433.3l-2.08,-5.06M1607.77,418.73l4.75,-10.47M1557.69,434.2l-3.13,-7.74M1566.96,407.88l-2.19,-11.11M1519.44,483.41l-6.26,-0.4M1560.29,447.91l-2.61,-3.82M1631.38,424.92l2.99,-3.51M1518.24,479.44l-6,-0.88M1570.95,427l-0.54,-4.19M1520.03,456.9l-6.51,-4.99M1576.81,407.7l0.36,-7.82M1591.73,425.64l1.2,-6.55M1571.53,414.51l-1.62,-8.33M1583.72,429.02l0.03,-7.24M1536.46,448.72l-5.54,-6.66M1582.81,435.16l0.61,-7.89M1542.1,428.75l-2.3,-3.01M1579.8,422.24l0.41,-11.05M1535.51,434.3l-7.69,-6.39M1552.65,413.32l-2.09,-6.99M1632.41,444.56l2.89,-3.65M1523.6,451.85l-3.95,-3.84M1532.19,444.55l-5.46,-3.7M1529.94,470.04l-10.39,-4.8M1524.8,472.27l-10.36,-4.85M1607.52,446.37l5.6,-5.82M1551.65,433.25l-1.72,-3.35M1611.85,442.37l3.74,-4.01M1604.6,434.25l5.22,-7.78M1538.78,435.59l-4.18,-4M1545.42,455.1l-4,-4.76M1566.68,445.26l-3.67,-6.8M1518.58,452.67l-8.98,-3.39M1524.24,432.71l-3.65,-2.55M1531.63,471.01l-5.34,-3.13M1547.74,438.76l-6.91,-6.77M1607.45,446.67l2.52,-5.77M1594.66,437.17l2.29,-11.22M1550.6,421.7l-2.66,-4.6M1534.13,454.29l-9.08,-4.18M1595.35,429.07l1.65,-3.61M1583.53,418.51l-0.56,-5.2M1638.83,433.89l3.11,-2.22M1529.99,477.94l-8.43,-0.09M1618.91,418.81l1.97,-5.64M1598.74,424.73l1.37,-3.76M1551.88,448.06l-3.7,-3.38M1532.71,443.63l-6.71,-8.62M1558.7,417.83l-3.39,-8.15M1567.29,425.99l-1.79,-6.81M1640.88,435.62l8.05,-5.13M1525.82,477.52l-5.38,-0.99M1598.56,414.41l3.71,-10.31M1525.65,480.18l-7.51,-0.45M1629.51,424.2l5.51,-5.76M1560.08,417.36l-0.73,-7.17M1568.6,412.42l-3.73,-10.91M1564.98,414.3l-2.38,-5.78M1617.62,429.95l3.39,-3.8M1507.12,449.44l-7.22,-3.64M1526.14,471.06l-5.15,-2.72M1635.51,430.77l5.24,-5.58M1558.06,446.89l-2.54,-7.92M1583.54,440.36l0.97,-3.95M1588.52,435.28l-0.04,-8.73M1549.57,433.47l-2.82,-4.27M1589.41,440.96l2,-11.23M1563.14,430.01l-1.01,-4.74M1511.89,469.66l-6.67,-0.59M1509.23,485.19l-10.48,1.64M1512.28,452.54l-6.68,-4.21M1626.08,418.5l3.02,-3.87M1525.05,463.16l-6.07,-4.17M1588.18,442.54l2.4,-7.63M1529.59,451.35l-9.47,-4.42M1527.49,440.31l-3.47,-2.23M1508.99,458.37l-10.7,-2.49M1500.84,477.37l-8.84,-1.28M1625.6,434.91l4.33,-3.39M1608.6,425.77l3.33,-4.61M1552,420.67l-1.36,-5.25M1632.26,443.34l8.75,-6.18M1514.46,458.48l-9,-4.97M1533.81,479.61l-4.5,-0.21M1604.49,416.03l2.25,-8.93M1505.35,458.09l-5.18,-1.86M1594.41,433.97l3.39,-9.75M1573.12,430.73l-0.81,-6.15M1520.46,463.78l-9.08,-5.08M1508.03,471.02l-5.25,-1.82M1577.18,411l-1.05,-11.05M1560.34,438.4l-2.73,-5.45M1528.47,433.84l-6.31,-6.91M1567.38,444.4l-2.7,-10.23M1581.21,409.12l-2.44,-11.33M1527.19,459.13l-8.97,-3.71M1584.13,416.55l0.31,-3.83M1534.66,454.23l-6.88,-5.52M1590.79,435.14l-0.13,-4.3" stroke="#fff" stroke-width="1.2" fill="none" opacity="0.8" stroke-linecap="round"/>
<path d="M1508.06,477.68l-28.84,-10.66M1541.07,542.64l-14.04,18.24M1507.4,468.77l-21.14,-2.53M1569.57,546.3l-10.83,26.03M1627.48,531.71l19.03,13.11M1523.27,499.04l-25.15,5.18M1538.69,481.52l-29.06,-4.09M1549.8,510.32l-16.36,12.59M1594.09,539.44l2.6,15.6M1568.42,545.2l-6.25,26.38M1592.88,530.31l4.19,23.18M1523.27,512.96l-19.03,5.62M1599.72,546.89l3.65,15.11M1510.57,473.14l-26.66,-9.59M1601.36,546.68l2.98,18.47M1563.5,532.77l-4.12,23.02M1600.23,525.33l9.02,26.46M1603.75,522.21l20.58,23.82M1536.69,542.36l-21,20.52M1543.09,501.36l-22.74,13.53M1595.68,563.47l3.67,21.51M1545.59,536.21l-10.35,10.06M1622.47,530.91l17.53,14.15M1533,513.56l-21.91,16.07M1534.34,475.4l-24.68,-2.9M1601.17,547.62l3.49,14.17M1606.56,521.55l10.64,23.47M1545.09,503.21l-13.18,8.82M1613.42,508.61l19.34,18.48M1603.19,518.81l8.44,11.29M1605.2,532.81l17.17,22.52M1619.05,539.68l17.89,17.93M1538.84,473.71l-17.37,-5.28M1520.81,465.79l-23.02,-4.12M1527.66,524.16l-19.27,14.36M1636.26,534.63l17.38,15.57M1509.6,510.65l-16.54,6.17M1576.92,549.86l-4.21,13.75M1615.14,533.22l12,10.65M1626.59,548.77l10,21.43M1536.78,540.67l-13.05,13.1M1611.82,552.4l7.94,15.54M1519.62,486.47l-24.08,1.95M1620.23,543.66l11.09,10.41M1543.86,536l-13.93,16.79M1600.4,528.83l10.79,21.49M1524.06,482.28l-21.42,-4.41M1566.21,524.16l-3.87,13.68M1577.78,532.63l-4.52,15.52M1589.08,537.04l2.91,14.24M1543.85,546.79l-17.41,24.13M1567.92,550.54l-5.64,28.12M1597.92,527.65l15.24,23.46M1549.5,518.51l-18.51,18.05M1569.19,551.18l0.11,24.14M1529.48,473.22l-23.38,-4.78M1521,470.4l-21.2,-5.23M1510.48,494.55l-17.4,0.34M1581.86,537.49l1.65,28.03M1552.76,557.68l-6.74,28.49M1625.87,519.45l20.37,20.78M1563.18,542.26l-8.68,29.95M1611.75,527.93l14.66,26.44M1528.62,513.82l-26.65,10.62M1549.95,514.43l-22.37,19.01M1540.02,523.57l-11.34,12.33M1519.68,466.55l-14.1,-5.99M1628.88,522.43l13.82,8.46M1622.24,540.48l11.37,16.61M1516.85,465.07l-28.15,-5.72M1540.53,532.18l-16.72,16.44M1599.73,537.98l4.49,25.17M1530.12,528.52l-22.13,21.63M1521.42,497.83l-23.46,9.46M1524.41,499.17l-16.48,4.06M1558.68,562.89l-7.84,21.92M1560.04,557.44l-11.49,27.55M1544.05,526.31l-10.3,15.7M1627.41,523.09l12.92,13.59M1616.59,557.79l8.16,14.1M1614.82,533.25l19.75,20.06M1596.15,545.95l10.01,23.11M1524.32,493.75l-13.15,3.18M1542.24,493.32l-24.83,6.36M1620.16,552.47l9.34,20.21M1628.93,528.95l11.79,7.72M1505,484.04l-18.57,2.8M1610.23,545.09l8.06,28.62M1515.24,509.4l-27.25,4.59M1534.75,512.14l-12.44,5.12M1528.63,471.2l-26.66,-7.72M1539.36,539.47l-11.22,21.93M1594.94,532.5l2.62,26.11M1522.6,510.73l-21.64,12.51M1551.92,525.05l-16.29,21.75M1585.63,554.14l3.81,18.66M1547.95,530.47l-11.58,9.93M1548.25,504.02l-19,4.96M1622.5,515.56l22.22,13.5M1524.48,530.6l-18.01,11.52M1586.68,553.5l0.08,16.83M1630.02,525.52l13.06,9.61M1562.03,523.47l-8.36,18.76M1519.38,516.41l-13.4,5.44M1527.96,545.53l-18.64,25.33M1585.49,534.06l3.94,17.11M1561.61,531.08l-14.98,23.94M1545.5,500.86l-22.58,10.81M1544.71,490.33l-15.47,2.74M1533.66,500.4l-30.64,2.21M1509.42,495.82l-20.95,6.59M1609.61,525.77l10.92,10.8M1621.44,519.31l12.62,13.78M1560.85,530.11l-7.15,28.07M1545.7,545.11l-9.25,10.21M1629.91,539.71l20.27,23.47M1607.81,546.24l4.42,13.06M1614.69,546.5l6.35,12.31M1583.17,537.86l-0.12,29.29M1545.99,509.57l-23.12,13.06M1554.36,560.1l-4.25,24.89M1589.71,536.97l3.21,20.93M1546.63,510.34l-11.09,8.91M1633.08,522.47l14.37,12.9M1577.37,555.64l-2.88,16.06M1635.17,538.92l14.82,14.83M1610.53,547.69l11.01,26.22M1512.47,474.1l-24.93,-6.9M1593.57,536.05l2.01,20.04M1595.59,548.54l6.35,29.24M1520.96,537.16l-19.65,18.25M1552.95,561.29l-8.41,24.28M1611.49,539.06l10.67,16.96M1619.28,545.19l8.3,14.7M1524.89,487.88l-13.58,0.36" stroke="#fff" stroke-width="1.5" fill="none" opacity="0.85" stroke-linecap="round"/>
</g>
<path d="M1548.96,431.75 C1551.24,430.61 1556.79,432.4 1560.71,432.73 C1564.63,433.06 1569.69,433.71 1572.46,433.71 C1575.23,433.71 1577.68,431.91 1577.36,432.73 C1577.03,433.55 1572.3,436.48 1570.5,438.6 C1568.71,440.73 1567.56,442.85 1566.59,445.46 C1565.61,448.07 1564.46,451.33 1564.63,454.27 C1564.79,457.21 1566.59,459.98 1567.56,463.08 C1568.54,466.19 1569.03,470.1 1570.5,472.88 C1571.97,475.65 1574.09,478.43 1576.38,479.73 C1578.66,481.04 1582.25,480.87 1584.21,480.71 C1586.17,480.55 1586.82,477.45 1588.13,478.75 C1589.43,480.06 1591.55,485.61 1592.04,488.54 C1592.53,491.48 1590.74,493.93 1591.06,496.38 C1591.39,498.82 1593.02,501.27 1594,503.23 C1594.98,505.19 1595.47,506.82 1596.94,508.13 C1598.41,509.43 1600.69,510.09 1602.82,511.06 C1604.94,512.04 1607.22,512.86 1609.67,514 C1612.12,515.14 1615.22,516.45 1617.5,517.92 C1619.79,519.39 1623.38,521.51 1623.38,522.82 C1623.38,524.12 1620.11,525.59 1617.5,525.75 C1614.89,525.92 1610.98,523.79 1607.71,523.79 C1604.45,523.79 1600.86,524.72 1597.92,525.75 C1594.98,526.78 1592.53,528.33 1590.09,529.96 C1587.64,531.6 1585.84,533.8 1583.23,535.54 C1580.62,537.29 1577.52,539.05 1574.42,540.44 C1571.32,541.83 1567.24,544.68 1564.63,543.87 C1562.02,543.05 1560.71,538.56 1558.75,535.54 C1556.79,532.53 1554.83,528.53 1552.88,525.75 C1550.92,522.98 1548.96,521.02 1547,518.9 C1545.04,516.78 1543.57,514.49 1541.13,513.02 C1538.68,511.55 1534.92,511.23 1532.31,510.09 C1529.7,508.94 1527.58,507.64 1525.46,506.17 C1523.34,504.7 1520.24,502.58 1519.58,501.27 C1518.93,499.97 1519.91,499.31 1521.54,498.34 C1523.17,497.36 1527.09,496.7 1529.38,495.4 C1531.66,494.09 1533.62,492.62 1535.25,490.5 C1536.88,488.38 1538.51,485.93 1539.17,482.67 C1539.82,479.4 1538.84,474.83 1539.17,470.92 C1539.49,467 1540.31,462.76 1541.13,459.17 C1541.94,455.58 1543.08,452.64 1544.06,449.38 C1545.04,446.11 1546.19,442.52 1547,439.58 C1547.82,436.65 1546.67,432.89 1548.96,431.75Z" fill="#fdfdfb"/>
<path d="M1464.27,485.71 C1463.61,480.43 1466.92,466.32 1470.88,456.63 C1474.85,446.93 1481.24,435.92 1488.07,427.54 C1494.9,419.17 1503.71,412.34 1511.87,406.39 C1520.02,400.44 1532.58,393.39 1536.99,391.85 C1541.39,390.31 1541.17,393.83 1538.31,397.14 C1535.44,400.44 1526.41,405.73 1519.8,411.68 C1513.19,417.63 1504.82,424.9 1498.65,432.83 C1492.48,440.76 1486.75,450.02 1482.78,459.27 C1478.82,468.53 1477.93,483.95 1474.85,488.36 C1471.76,492.76 1464.93,491 1464.27,485.71Z" fill="#fbfbf6"/>
<path d="M1498.65,586.19 C1503.05,587.51 1516.71,597.65 1525.09,599.41 C1533.46,601.17 1544.7,596.55 1548.88,596.77 C1553.07,596.99 1554.17,599.41 1550.21,600.73 C1546.24,602.05 1533.68,606.24 1525.09,604.7 C1516.49,603.16 1503.05,594.56 1498.65,591.48 C1494.24,588.39 1494.24,584.87 1498.65,586.19Z" fill="#fbfbf6"/>
<path d="M1671,503 c2,-3 6,-3 7,0 c1,3 -1,5 -2,6 c0,3 -3,5 -6,3 c-2,-2 -1,-7 1,-9z" fill="#fff" stroke="#3f86cf" stroke-width="1.8"/><circle cx="1692" cy="420" r="6" fill="#8a8aa0" opacity="0.35" filter="url(#blur1)"/><path d="M1630,410 l14,16" stroke="#4f8fd0" stroke-width="1.4" opacity="0.8"/>
<rect x="1664.7" y="491" width="38.87" height="38.87" fill="none" stroke="#1a1a1a" stroke-width="1.1"/>
<defs><clipPath id="hi2"><rect x="1353.22" y="482.54" width="138.29" height="138.55"/></clipPath></defs>
<rect x="1353.22" y="482.54" width="138.29" height="138.55" fill="#d42a4e"/>
<g clip-path="url(#hi2)">
<rect x="1353.22" y="482.54" width="138.29" height="138.55" fill="#fff" filter="url(#tex2)" opacity="0.45"/>
<rect x="1353.22" y="482.54" width="138.29" height="138.55" fill="#fff" filter="url(#tex)" opacity="0.6"/>
<path d="M1468.19,587.15l4.54,9.13M1408.12,483.23l4.19,5.28M1473.84,509.14l5.26,9.31M1449.62,572.36l3.85,7.12M1355.01,592.6l3.22,6.78M1381.87,550.91l4.58,6.45M1367.77,508.92l2.56,7.51M1368.06,603.33l5.68,6.92M1393.74,490.55l4.5,8.13M1448.52,518.45l6.33,13.38M1441,544.25l7.25,11.3M1481.9,515.76l0.68,8.46M1419.43,486.1l3.58,5.88M1381.25,596.98l0.02,7.83M1464.15,524.29l1.79,6.08M1478.95,553.95l3.73,13M1425.64,550.42l1.8,9.52M1432.93,523.96l3.86,5.45M1487.52,564.35l4.12,4.7M1433.87,553.37l-0.39,14.83M1363.07,594.22l-0.28,12.95M1485.04,535.32l3.02,11.84M1463.39,581.8l0.83,8.01M1463.19,565.24l-0.04,7.89M1438.91,601.81l1.84,12.23M1373.38,504.09l5.55,10.44M1357.74,573.93l3.78,5.07M1391.61,558.54l2.77,15.11M1384.82,494.4l0.82,11.05M1480.31,581.67l4.94,6.73M1383.54,544.9l7.05,12.49M1477.11,508.76l-0.54,15.54M1406.51,603.66l0.08,12.81M1403.42,569.75l1.16,7.99M1418.95,494.88l7.79,11.08M1395.9,579.86l4.92,11.53M1392.69,494.57l1.55,6.91M1381.5,546.74l5.06,13.79M1449.6,542.89l4.3,10.34M1371.15,523.86l4.06,14.72M1436.33,511.61l-0.13,13.55M1384.02,533.57l8.54,9.99M1383.38,597.05l2.41,13.1M1431.29,516.17l7.22,8.48M1355.04,554.47l0.79,5.63M1413.64,557.51l3.72,5.23M1437.64,506.58l3.84,5.43M1482.78,606.88l6.56,8.67M1410.08,486.81l6.07,10.13M1355.92,615.33l4.02,7.12M1484.47,501.86l5.72,7.8M1396.54,526.73l4.34,14.78M1410.6,488.62l6.15,12.84M1413.05,490.98l3.46,5.76M1401.71,526.63l2.73,12.33M1359.4,502.71l1.47,14.43M1462.25,507.1l0.98,4.8M1446.6,513.21l1.24,14.07M1417.83,583.07l0.11,14.72M1442.74,567.88l5.41,10.94M1372.68,546l3.16,4.01M1445.56,541.59l8.35,12.92M1393.4,557.28l2.17,5.82M1490.62,587.63l0.37,7.59M1479.19,608.62l0.06,6.13M1374.76,494.09l7.65,9.78M1360.23,546.92l5.66,11.41M1359.65,582.39l-0.02,7.56M1409.03,585.19l6.77,12.43M1491.01,513.38l2.09,5.36M1430.34,537.05l-0.17,12.72M1490.43,594.81l0.85,8.55M1445.15,498.21l6.76,13.45M1488.73,506.55l3.06,8.31M1438.97,564.8l7.39,12.54M1415.45,590l2.8,15.51M1424.45,564.13l0.94,6.69M1359.45,595.21l2.58,12.74M1463.88,510.32l0.69,11.66M1483.82,559.58l0.32,4.67M1376.11,559.17l1.89,8.42M1363.18,605.29l9.2,11.42M1385.44,580.36l1.87,6.57M1398.64,515.97l2.33,6.95M1428.42,521.59l7.39,9.91M1389.4,613.97l2.93,6.52M1452.53,607.42l5.55,11.53M1399.07,620.27l2.14,3.89M1353.76,557.73l1.86,7.2M1410.48,539.16l2.75,5.64M1428.52,574.86l9.52,11.03M1389.09,548.39l6.48,10.2M1409.37,563.08l4.12,9.22M1365.19,618.54l3.15,7.32M1470.31,523.33l1.14,9.02M1369.35,562.11l3.18,5.58M1490.1,612.36l4.96,12.76M1445.85,524.49l6.5,8.84M1379.61,587.14l1.81,6.39M1460.63,616.61l5.57,14.61M1415.42,484.96l3.04,7.65M1480.1,554.93l-0.03,5.95M1406.21,484.52l8.01,9.64M1357.78,513.33l5.85,13.87M1385.87,483.15l2.39,12.12M1372.39,611.12l1.04,15.2M1467.13,558.28l1.06,5.38M1442.25,531.66l3.55,6.9M1364.43,594.85l0.6,4.07M1424.15,485.72l1.86,5.71M1486.09,526.71l2.32,6.76M1478.23,483.69l3.22,5.89M1456.43,534.05l0.57,7.91M1370.63,545.59l3.6,4.58M1425.53,562.11l3.32,5.19M1425.34,544.23l4.28,11.26M1372.71,484.17l8.55,10.5M1450.38,503.79l3.55,6.83M1480.85,539.67l0.92,4.95M1358.95,513.72l2.23,9.09M1473.83,596.48l3.53,15.57M1486,604.88l5.42,6.92M1373.33,567.33l1.73,4.81M1364.21,546.96l2.22,8.59M1418.46,570.43l2.45,12.25M1410.62,506.35l0.29,4.48M1381.67,508.94l3.13,11.02M1367.02,553.81l3.52,11.72M1363.44,583.28l4.32,7.45M1370.42,599.22l3.51,13.29M1424.41,497.83l2.04,4.5M1366.87,594.26l5.8,6.44M1358.99,588.44l-0.12,4.39M1403.52,617.74l3.97,6.62M1489.74,610.2l5.09,10.92M1463.03,531.66l5.67,6.32M1448.99,616.16l3.43,8.25M1405.87,566.65l9.81,11.28M1485.16,486.86l5.17,5.8M1373.4,589.16l0.69,10.53M1483.75,514.14l4.73,7.19M1415.64,509.98l0.33,13.01M1393.07,513.91l4.31,7.61M1443.72,590.07l0.02,4.97M1380.26,535.18l0.02,9.49M1452.66,597.43l3.16,7.92M1460.54,571.24l-0.21,7.25M1485.06,549.95l0.77,11.67M1431.16,601.05l4.58,5.77M1420.65,596.11l7.43,11.1M1365.41,531.05l4.63,11.7M1425.51,600.23l1.72,8.43M1425.26,536.44l0.48,7.63M1378.21,516.41l7.06,11.76M1448.19,516.53l5.88,13.51M1486.1,513.4l0.04,4.7M1491.32,526.98l0,4.38M1448.41,610.62l1.12,10.81M1374.75,515.38l0.13,14.4M1383.81,530.18l1.98,7.38M1382.72,602.92l6.99,9.25M1409.33,547.69l0.82,12.92M1460.31,484.82l1.49,13.43M1353.31,513.8l2.47,14.22M1427.79,605.72l4.4,5.6M1466.65,592.5l5.77,9.17M1413.82,584.88l3.24,7.12M1458.58,578.95l5.53,11.29M1389.49,551.91l4.51,6.76M1411.09,494.78l3.89,7.24M1398.44,552.75l0.6,14.18M1394.11,501.2l9.03,11.5M1458.3,584.89l0.32,8.81M1376.9,495.15l5.47,12.03M1365,543.19l4.08,5.15M1429.76,572.6l0.07,7.84M1385.35,491.08l2.45,3.67M1353.4,498.51l2.99,9M1478.61,549.83l3.55,4.52M1450.08,618.34l1.07,6.73M1400.99,543.14l2.88,6.81M1374.6,486.19l0.9,15.68M1488.48,535.2l1.32,6.34M1368.79,482.89l6.23,12.06M1426.19,514.93l3.73,9.8M1380.24,544.57l0.18,9.37M1490.16,582.72l8.9,12.1M1448.96,543.93l6.6,9.9M1379.54,546.46l5.19,7.31M1486.98,565.39l3.8,10.77M1443.75,566l3.22,5.7M1437.07,611.3l0.63,9.84M1394.03,563.93l6.4,7.64M1461.55,616.58l3.94,5.05M1419.57,566.89l-0.04,5.29M1371.03,549.69l0.54,4.31M1405.82,581.04l2.45,5.64M1363.06,587.97l3.5,9.86M1447.72,588.22l3.45,7.64M1480.32,493.05l1.3,9.44M1426.9,517.27l0.07,7.65M1397.54,490.79l0.68,13.94M1360.19,503.05l2.13,3.79M1422.04,600.09l1.8,9.87M1488.62,524.72l3.38,6.35M1436.57,547.14l5.9,7.96M1486.86,604.08l3.61,13.89M1420.48,551.34l1.27,6.3M1435.27,552.05l4.82,8.73M1377.83,571.58l5.63,7.48M1360.92,557.36l8.5,10.98M1355.72,594.32l7.46,13.54M1398.68,502.57l1.5,6.76M1465.66,548.73l5.59,9.58M1384.07,519.24l4.26,5.37M1383.47,504.58l3.77,8.6M1435.44,558.91l2.36,11.12M1418.31,600.94l4.27,5.92M1354.89,608.6l0.51,8.88M1469.76,560.4l0.27,14.81M1399.04,521.18l6.22,14.17M1417.96,532.68l5.65,6.51M1481.17,540.6l1.81,14.65M1482.83,584.07l2.62,7.13M1483.26,594.08l0.75,4.61M1442.88,578.13l4.66,6.4M1416.09,517.67l3.53,4.63M1416.46,484.38l1.11,8.94M1391.76,517.36l5.27,9.87M1452.11,542.13l1.99,10.69M1465.41,583.52l0.62,4.25M1401.8,498.56l0.57,5.94M1480.97,530.04l7.15,10.09M1378.84,532.91l4.48,10.71M1424.81,574.5l1.94,15.49M1439.08,541.63l2.82,7.67M1468.53,558.25l2.72,13.56M1449.51,605.41l4.64,11.46M1475.62,550.12l0.75,7.31M1375.24,600.64l4.73,14.81M1435.99,518.28l8.82,11.86M1388.18,505.45l4.06,11.94M1432.59,489.15l1.6,12M1398.16,610.34l4.57,12.4M1365.8,525.1l1.85,12.07M1450.25,578.58l9.32,10.8M1358.98,516.12l4.8,8.77M1366.47,541.9l4.7,6.5M1400.85,498.25l0.51,4.34M1381.02,606.25l6.28,14M1395.74,554.42l2.86,8.39M1490.06,538.25l1.22,10.01M1401.51,599.74l0.1,4.18M1436.03,587.01l2.98,8.33M1452.67,504.28l2.3,5.97M1472.75,591.39l5.58,12.22M1428.24,573.22l6.93,11.31M1442.97,620.65l4.47,7.61M1460.99,518.39l2.05,14.05M1376.18,583.41l3.55,6.35M1401.91,590.44l2.07,8.35M1447.61,594.99l7.91,12.01M1425.27,570.62l0.47,6.55M1417.92,580.83l5.74,6.53M1428.13,544.76l4.76,13.21M1368.99,582.29l2.47,4.35M1417.12,500.43l2.24,5.59M1414.69,501.49l-0.21,6.51M1414.57,566.23l1.19,5.42M1470.46,534.06l5.69,7.18M1439.27,532.57l1.34,7.62M1466.05,611.78l0.5,4.72M1411.27,556.29l2.65,5.64M1434.58,499.05l5.12,7.42M1491.07,535.67l-0.1,12.08M1442.63,609.15l3.62,12.35M1418.51,592.78l0.24,4.01M1482.41,487.01l1.17,4.73M1457.79,542.49l8.3,11.42M1387.44,607.37l4.54,9.69M1414.79,588.05l4.52,9.1M1385.03,529.27l4.31,5.69M1391.67,578.08l3.4,4.75M1487.76,571.46l8.9,11.3M1458.2,566.99l-0.06,10.41M1372.46,484.15l5.89,7.53M1429.7,598.06l3.05,3.78M1366.43,532.91l0.19,13.37M1359.27,564.44l3.75,5.55M1397.69,516.71l3.24,5.85M1400.78,564.41l3.78,12.17M1391.9,486.3l2.25,7.42M1382.26,539.22l0.07,11.19M1452.39,488.62l3.85,11.79M1472.8,587.92l10.14,12.18M1355.48,589.24l5.5,14.11M1484.18,586.07l7.3,9.23M1369.53,541.37l4.51,6.14M1360.47,557.3l4.26,5.46M1460.73,523.15l4.09,13.79M1441.2,596l0.12,6.94M1378.97,620.3l0.22,7.86M1481.29,494.5l7.61,12.18M1367.64,601.92l7.05,11.2M1370.83,551.94l3.08,10.25M1472.54,487.39l2.67,13.98M1425.37,515.19l1.1,9.09M1389.36,589.65l2.03,13.74M1421.52,484.62l6.96,8.02M1358.28,568.67l7.85,10.75M1355.98,578.16l8.52,13.53M1418.84,554.15l0.6,7.38M1487.56,523.41l4.77,5.6M1404.01,565.27l9.36,11.53M1460.76,585.86l-0.12,4.63M1448.12,601.15l5.02,7.4M1380.84,610.8l5.06,13.01M1388.09,565.91l1.29,8M1390.26,494.29l2.21,8.64M1380.89,526.93l2.58,4.86M1435.23,503.98l4.48,7.03M1489.92,580.81l7.63,11.9M1483.03,528.28l1.39,11.47M1429.82,607.87l2.55,11.5M1482.79,545.69l2.48,3.25M1453.23,547.63l0.94,15.64M1388.47,510.17l1.23,4.07M1367.16,492.8l4.49,8.14M1380.31,577.8l2.1,13.83M1428.78,587.05l1.55,12.64M1397.11,562.24l0.69,6.92M1402.81,484.04l1.44,5.18M1414.8,508.52l8.8,11.72M1398.74,615.28l1.83,10.9M1420.18,572.49l0.69,6.24M1427.97,519.9l3.68,5.5M1462.28,611.85l2.38,5.61M1377.67,525.03l6.32,13.17M1425.9,550.57l1.53,5.93M1404.47,543.53l4.84,5.95M1432.29,566.08l2.46,4.2M1432.17,503.98l10.38,11.6M1454.37,612.33l6.22,11.69M1471.02,569.58l4.74,5.54M1404.99,543.26l1.8,5.96M1383.89,485.61l2.23,4.93M1385.51,485.12l0.58,6.71M1423.42,562.65l6.81,8.06M1464.11,515.6l3.12,12.3M1430.74,532.06l4.01,11.32M1413.69,584.6l2.04,12.86M1413.22,502.8l4.26,6.24M1430.95,490.77l2.74,5.08M1427.25,510.38l0.48,4.73M1402.56,586.04l0.81,8.66M1483.61,604.27l2.36,7.6M1379.89,578l7.48,9.12M1384.94,508.46l2.23,8.39M1361.05,503.1l1.09,8.59M1461.05,568.16l5.41,6.04M1436.19,516.36l9.44,12.92M1398.07,573.81l6.09,14.65M1384.62,486.89l2.86,11.99M1468.73,497.86l5.45,8.01M1391.73,500.45l2.64,3.67M1412.41,501.17l3.35,3.9M1450.43,572.04l6.16,12.19M1359.41,540.45l0.08,4.64M1373.83,549.01l2.15,4.31M1469.31,592.12l2.51,8.64M1430.19,551.82l2.29,7.5M1465.93,554.54l5.78,9.38M1460.77,551.59l4.9,9.32M1448.64,507.82l0.47,8.9M1411.12,554.49l0.9,5.98M1378.61,550.18l6.08,6.92M1370.94,510.1l6.45,13.27M1437.83,521.35l2.44,9.82M1353.49,543.46l2.64,13.43M1486.76,484.89l2.84,8.08M1414.78,596.09l4.07,9.7M1458.19,602.95l2.9,9.91M1367.21,534.67l7.35,11.05M1446.04,501.38l4.12,13.89M1470.52,534.69l4.53,9.33M1411.02,617.54l1.16,14.68M1491.5,497.16l0.05,8.34M1389.35,565.8l2.7,5.93M1488.04,507.89l5.4,6.84M1467.28,594.09l3.32,8.2M1372.51,593.05l1,6.54M1445.71,606.22l2.99,6.08M1456.18,568.86l1.69,3.68M1397.99,580.14l5.43,8.13M1459.74,530.72l7.2,9.74M1447.99,566.84l0.31,8.45M1423.76,545.2l0.6,7.94M1386.53,533.56l1.29,12.85M1379.11,595.74l-0.2,8.04M1462.37,578.58l1.74,6.56M1353.35,602.83l6.39,12.32M1471.37,601.25l2.15,12.53M1466.63,613.06l0.39,14.55M1397.7,610.12l3.82,4.9M1473.11,558.33l0,7.97M1362.37,503.3l0.75,13.68M1412.47,573.13l9.88,11.61M1392.39,510.15l3.43,9.12M1420.66,582.12l7.55,11.24M1398.22,537.85l0.57,12.86M1453.93,592.51l3.24,7.49M1425.48,600.03l7,10.25M1418.88,613.37l2.82,14.8M1410.39,546.48l3.35,5.56M1396.5,512.14l2.7,10.48M1455.16,586.55l-0.12,10.33M1438.36,555.86l2.9,7.55M1396.07,528.58l3.13,8.79M1428.89,575.23l-0.28,11M1490.27,526.41l2.88,10.6M1415.57,546.2l8.27,13.44M1363.58,594.26l2.91,7.62M1395.69,613.61l5.01,9.73M1410.73,574.24l3.12,9.9M1367.83,486.19l0.93,3.92M1424.95,521.23l1.29,7.79M1359.96,504.56l5.41,10.43M1450.69,597.84l-0.01,10.68M1359.63,574.77l5.01,10.1M1377.39,537.58l6.3,10.38M1484.21,533.5l3.95,10.94M1458.88,532.16l5.96,10.24M1396.15,551.42l2.64,10.34M1487.79,530.84l4.78,7.48M1477.35,601.1l3.86,4.7M1385.84,590.55l1.2,5.86M1462.49,602.41l0.87,8.13M1466.5,518.63l0.1,5.69M1407.64,524.72l1.35,13.1M1426.73,557.01l5.38,9.65M1359.74,582.62l-0.01,9.48M1417.35,563.62l6.47,13.69M1382.82,550.09l2.6,12.69M1395.65,499.45l1.11,5.39M1467.22,485.21l0.78,13.76M1423.24,605.89l1.62,11.96M1389.1,494.97l3.09,4.12M1446.56,579.74l0.06,8.59M1403.48,601.82l1.97,15.63M1354.53,614.82l5.48,12.42M1381.97,557.58l1.95,12.49M1449.34,494.84l0.14,4.66M1466.6,560.86l1.69,6.45M1462.3,587.83l7.82,12.99M1410.7,601.7l4.47,7.21M1382.54,487.3l3.41,4.74M1424.7,549.38l9.1,11.93M1441.03,554.29l4.5,7.81M1479.14,541.26l5.12,14.17M1408.42,600.78l7.87,9.72M1369.95,520.41l9.02,11.45M1476.76,592.46l1.83,5.02M1425.16,607.07l0.72,3.96M1489.78,613.97l1.18,4.1M1451.88,569.08l6.22,6.95M1355.65,491.12l2.77,12.89M1398.19,504.21l3.36,5.84M1430.19,520.4l0.14,4.18M1385.02,569.05l1.9,4.62M1406.74,521.45l0.82,6.83M1441.66,576.04l1.82,4.16M1427.19,497.54l7.87,12.88M1377.47,615.22l2.51,3.59M1357.52,598.8l0.33,7.26M1400.95,529.78l1.87,7.42M1417.96,572.91l2.8,4.87M1443.6,572.82l6.13,6.85M1470.24,564.79l3.34,15.35M1381.28,537.3l8.58,12.03M1434.3,603.61l1.83,7.87M1451.41,520.05l3.91,10.84M1460.58,516.56l1.61,10.39M1440.01,495.77l1.65,4.84M1440.35,592.31l3.91,8.33M1439.54,559.97l-0.27,14.1M1448.04,530.91l7.73,9.35M1384.18,580.12l3.29,13.94M1361.47,549.34l3.68,7.22M1388.83,597.92l3.96,9.83M1369.49,559.59l1.34,5.32M1400.06,519.47l1.51,4.72M1489.16,536.43l0.1,4.41M1457.03,607.18l3.27,7.84M1439.3,524.89l7.74,12.81M1442.21,551.6l5.02,12.58M1455.49,521.52l4.22,7.86M1360.9,540.65l7.21,9.58M1399.23,527.7l3.75,5.92M1384.95,605.3l3.95,9.79M1397.35,614.63l1.63,5.82M1447.31,482.69l-0.4,12.88M1382.76,542.01l0.46,13.28M1461.86,562.9l6.49,9.87M1433.21,503.42l6.56,7.95M1480.07,527.99l1.26,5.1M1474.67,605.49l6.08,11.07M1455.53,542.32l0.26,4.55M1393.04,498.75l1.26,12.8M1384.91,573.92l3.61,10.19M1410.81,561l2.34,7.47M1403.95,505.15l3.41,13.42M1384.81,564.11l2.59,5.6M1361.89,487.67l0.9,5.53M1392.19,553.21l6.02,9.17M1418.77,513.48l2.46,11.42M1484.71,529.05l1.57,11.37M1432.26,487.6l4.36,8.04M1359.56,496.27l0.53,5.31M1430.71,515.58l2.81,8.24M1390.02,545.85l7.61,13.31" stroke="#fff" stroke-width="0.9" opacity="0.62" fill="none" stroke-linecap="round"/>
<path d="M1484.9,482.54 C1486.29,479.7 1490.74,466.38 1491.51,482.54 C1492.28,498.71 1495.61,604.93 1491.51,621.09 C1487.4,637.26 1459.58,625.16 1456.34,621.09 C1453.1,617.02 1461.89,594.89 1463.74,586.19 C1465.59,577.49 1470.35,555.78 1472.21,546.53 C1474.06,537.27 1478.13,514.33 1479.61,506.87 C1481.09,499.4 1483.51,485.38 1484.9,482.54Z" fill="#fbfbef"/>
<ellipse cx="1392" cy="540" rx="26" ry="32" fill="#3f86cf" opacity="0.45" filter="url(#blur3)"/><path d="M1383,520 c4,-8 12,-10 18,-6 c5,4 4,12 0,16 c6,4 8,12 3,20 c-5,8 -18,10 -24,3 c-6,-7 -4,-18 3,-22z" fill="none" stroke="#3a80cc" stroke-width="8.5" opacity="0.92"/><path d="M1383,520 c4,-8 12,-10 18,-6 c5,4 4,12 0,16 c6,4 8,12 3,20 c-5,8 -18,10 -24,3 c-6,-7 -4,-18 3,-22z" fill="#fff"/><path d="M1385,560 c-3,12 -8,26 -10,40" stroke="#3f86cf" stroke-width="3" fill="none" opacity="0.8"/><circle cx="1374" cy="603" r="3.2" fill="#fff" stroke="#3f86cf" stroke-width="2"/><ellipse cx="1461" cy="494" rx="4" ry="3.2" fill="#fff"/><ellipse cx="1443" cy="586" rx="6" ry="2.6" fill="#fff" transform="rotate(35 1443 586)"/>
</g>
<rect x="1353.22" y="482.54" width="138.29" height="138.55" fill="none" stroke="#111" stroke-width="1.6"/>
</g>
<defs><linearGradient id="hb3" x1="0" y1="0.6" x2="1" y2="0.2"><stop offset="0" stop-color="#fdfdf6"/><stop offset="0.45" stop-color="#fafbf3"/><stop offset="0.8" stop-color="#e6ece2"/><stop offset="1" stop-color="#dae4da"/></linearGradient>
<clipPath id="hc3"><rect x="1353.7" y="630" width="414.8" height="275"/></clipPath>
<clipPath id="ho3"><path d="M1421.97,757.49 C1421.09,748.68 1422.41,743.39 1424.61,736.34 C1426.81,729.29 1430.34,721.8 1435.19,715.19 C1440.04,708.58 1446.65,702.85 1453.7,696.68 C1460.75,690.51 1469.12,683.68 1477.49,678.17 C1485.87,672.66 1495.12,668.03 1503.93,663.63 C1512.75,659.22 1521.12,655.03 1530.38,651.73 C1539.63,648.42 1549.77,645.91 1559.46,643.8 C1569.16,641.68 1578.85,639.7 1588.55,639.04 C1598.24,638.38 1608.38,638.16 1617.63,639.83 C1626.89,641.51 1635.7,644.9 1644.07,649.09 C1652.44,653.27 1660.82,658.78 1667.87,664.95 C1674.92,671.12 1680.87,678.61 1686.38,686.1 C1691.89,693.59 1696.95,701.53 1700.92,709.9 C1704.89,718.27 1708.19,727.53 1710.17,736.34 C1712.16,745.15 1713.04,753.97 1712.82,762.78 C1712.6,771.6 1711.5,780.85 1708.85,789.22 C1706.21,797.6 1702.02,805.53 1696.95,813.02 C1691.89,820.51 1685.5,827.56 1678.45,834.17 C1671.39,840.78 1663.02,846.95 1654.65,852.68 C1646.28,858.41 1637.46,863.7 1628.21,868.55 C1618.95,873.39 1608.82,878.02 1599.12,881.77 C1589.43,885.51 1579.73,888.82 1570.04,891.02 C1560.34,893.22 1550.21,894.77 1540.95,894.99 C1531.7,895.21 1522.88,895.43 1514.51,892.34 C1506.14,889.26 1498.65,883.09 1490.71,876.48 C1482.78,869.87 1474.41,861.94 1466.92,852.68 C1459.43,843.43 1451.93,831.53 1445.76,820.95 C1439.59,810.38 1433.87,799.8 1429.9,789.22 C1425.93,778.65 1422.85,766.31 1421.97,757.49Z"/></clipPath>
<radialGradient id="hg3" cx="0.5" cy="0.5" r="0.6"><stop offset="0" stop-color="#b22a58"/><stop offset="0.55" stop-color="#c22a56"/><stop offset="1" stop-color="#c22a56"/></radialGradient></defs>
<g clip-path="url(#hc3)">
<rect x="1353.7" y="630" width="414.8" height="275" fill="url(#hb3)"/>
<path d="M1421.97,757.49 C1421.09,748.68 1422.41,743.39 1424.61,736.34 C1426.81,729.29 1430.34,721.8 1435.19,715.19 C1440.04,708.58 1446.65,702.85 1453.7,696.68 C1460.75,690.51 1469.12,683.68 1477.49,678.17 C1485.87,672.66 1495.12,668.03 1503.93,663.63 C1512.75,659.22 1521.12,655.03 1530.38,651.73 C1539.63,648.42 1549.77,645.91 1559.46,643.8 C1569.16,641.68 1578.85,639.7 1588.55,639.04 C1598.24,638.38 1608.38,638.16 1617.63,639.83 C1626.89,641.51 1635.7,644.9 1644.07,649.09 C1652.44,653.27 1660.82,658.78 1667.87,664.95 C1674.92,671.12 1680.87,678.61 1686.38,686.1 C1691.89,693.59 1696.95,701.53 1700.92,709.9 C1704.89,718.27 1708.19,727.53 1710.17,736.34 C1712.16,745.15 1713.04,753.97 1712.82,762.78 C1712.6,771.6 1711.5,780.85 1708.85,789.22 C1706.21,797.6 1702.02,805.53 1696.95,813.02 C1691.89,820.51 1685.5,827.56 1678.45,834.17 C1671.39,840.78 1663.02,846.95 1654.65,852.68 C1646.28,858.41 1637.46,863.7 1628.21,868.55 C1618.95,873.39 1608.82,878.02 1599.12,881.77 C1589.43,885.51 1579.73,888.82 1570.04,891.02 C1560.34,893.22 1550.21,894.77 1540.95,894.99 C1531.7,895.21 1522.88,895.43 1514.51,892.34 C1506.14,889.26 1498.65,883.09 1490.71,876.48 C1482.78,869.87 1474.41,861.94 1466.92,852.68 C1459.43,843.43 1451.93,831.53 1445.76,820.95 C1439.59,810.38 1433.87,799.8 1429.9,789.22 C1425.93,778.65 1422.85,766.31 1421.97,757.49Z" fill="url(#hg3)"/>
<path d="M1421.97,757.49 C1421.09,748.68 1422.41,743.39 1424.61,736.34 C1426.81,729.29 1430.34,721.8 1435.19,715.19 C1440.04,708.58 1446.65,702.85 1453.7,696.68 C1460.75,690.51 1469.12,683.68 1477.49,678.17 C1485.87,672.66 1495.12,668.03 1503.93,663.63 C1512.75,659.22 1521.12,655.03 1530.38,651.73 C1539.63,648.42 1549.77,645.91 1559.46,643.8 C1569.16,641.68 1578.85,639.7 1588.55,639.04 C1598.24,638.38 1608.38,638.16 1617.63,639.83 C1626.89,641.51 1635.7,644.9 1644.07,649.09 C1652.44,653.27 1660.82,658.78 1667.87,664.95 C1674.92,671.12 1680.87,678.61 1686.38,686.1 C1691.89,693.59 1696.95,701.53 1700.92,709.9 C1704.89,718.27 1708.19,727.53 1710.17,736.34 C1712.16,745.15 1713.04,753.97 1712.82,762.78 C1712.6,771.6 1711.5,780.85 1708.85,789.22 C1706.21,797.6 1702.02,805.53 1696.95,813.02 C1691.89,820.51 1685.5,827.56 1678.45,834.17 C1671.39,840.78 1663.02,846.95 1654.65,852.68 C1646.28,858.41 1637.46,863.7 1628.21,868.55 C1618.95,873.39 1608.82,878.02 1599.12,881.77 C1589.43,885.51 1579.73,888.82 1570.04,891.02 C1560.34,893.22 1550.21,894.77 1540.95,894.99 C1531.7,895.21 1522.88,895.43 1514.51,892.34 C1506.14,889.26 1498.65,883.09 1490.71,876.48 C1482.78,869.87 1474.41,861.94 1466.92,852.68 C1459.43,843.43 1451.93,831.53 1445.76,820.95 C1439.59,810.38 1433.87,799.8 1429.9,789.22 C1425.93,778.65 1422.85,766.31 1421.97,757.49Z" fill="#fff" filter="url(#tex2)" opacity="0.5"/>
<path d="M1421.97,757.49 C1421.09,748.68 1422.41,743.39 1424.61,736.34 C1426.81,729.29 1430.34,721.8 1435.19,715.19 C1440.04,708.58 1446.65,702.85 1453.7,696.68 C1460.75,690.51 1469.12,683.68 1477.49,678.17 C1485.87,672.66 1495.12,668.03 1503.93,663.63 C1512.75,659.22 1521.12,655.03 1530.38,651.73 C1539.63,648.42 1549.77,645.91 1559.46,643.8 C1569.16,641.68 1578.85,639.7 1588.55,639.04 C1598.24,638.38 1608.38,638.16 1617.63,639.83 C1626.89,641.51 1635.7,644.9 1644.07,649.09 C1652.44,653.27 1660.82,658.78 1667.87,664.95 C1674.92,671.12 1680.87,678.61 1686.38,686.1 C1691.89,693.59 1696.95,701.53 1700.92,709.9 C1704.89,718.27 1708.19,727.53 1710.17,736.34 C1712.16,745.15 1713.04,753.97 1712.82,762.78 C1712.6,771.6 1711.5,780.85 1708.85,789.22 C1706.21,797.6 1702.02,805.53 1696.95,813.02 C1691.89,820.51 1685.5,827.56 1678.45,834.17 C1671.39,840.78 1663.02,846.95 1654.65,852.68 C1646.28,858.41 1637.46,863.7 1628.21,868.55 C1618.95,873.39 1608.82,878.02 1599.12,881.77 C1589.43,885.51 1579.73,888.82 1570.04,891.02 C1560.34,893.22 1550.21,894.77 1540.95,894.99 C1531.7,895.21 1522.88,895.43 1514.51,892.34 C1506.14,889.26 1498.65,883.09 1490.71,876.48 C1482.78,869.87 1474.41,861.94 1466.92,852.68 C1459.43,843.43 1451.93,831.53 1445.76,820.95 C1439.59,810.38 1433.87,799.8 1429.9,789.22 C1425.93,778.65 1422.85,766.31 1421.97,757.49Z" fill="#fff" filter="url(#tex)" opacity="0.55"/>
<g clip-path="url(#ho3)">
<ellipse cx="1670.51" cy="725.76" rx="39.66" ry="68.75" fill="#b02a5c" opacity="0.35" filter="url(#blur6)"/>
<ellipse cx="1525.09" cy="699.32" rx="52.88" ry="26.44" fill="#b82c58" opacity="0.3" filter="url(#blur6)"/>
<path d="M1633.03,838.15A92.15,83.69 0 0 1 1603.57,847.68M1575.93,679.89A97.41,85.49 0 0 1 1609.47,679.38M1529.73,813.56A88.4,77.77 0 0 1 1512.13,787.52M1524.54,835.45A104.09,90.25 0 0 1 1512.31,825.59M1598.21,703.17A65.09,60.69 0 0 1 1610.07,706.03M1619.82,701.33A68.28,67.37 0 0 1 1638.16,713.62M1711.68,809.7A127.41,113.07 0 0 1 1698.23,831.34M1643.85,857.53A122.2,101.39 0 0 1 1603.38,865.42M1646.09,827.25A86.96,76.29 0 0 1 1626.66,836.26M1524.31,788.61A72.21,65.95 0 0 1 1519.93,774.77M1507.55,767.63A87.07,79.34 0 0 1 1510.25,747.11M1613.03,833.63A82.85,71.65 0 0 1 1595.54,836.76M1628.63,818.84A77.83,67.6 0 0 1 1598.35,826.6M1701.2,721.48A116.97,106.88 0 0 1 1710.81,749.4M1517.49,707.1A99.5,83.88 0 0 1 1527.43,699.55M1649.31,665.4A122.34,111.15 0 0 1 1678.67,686.92M1642.57,847.32A107.32,101.4 0 0 1 1616.93,858.11M1549.38,716.34A71.42,57.47 0 0 1 1566.66,708.03M1532.55,758.04A62.09,55.88 0 0 1 1535.97,739.75M1608.5,684.95A90.31,78.65 0 0 1 1635.15,694.28M1544.75,800.89A64.68,58.02 0 0 1 1539.53,795.53M1666.25,840.97A114.68,108.53 0 0 1 1657.82,847.8M1563.29,860.5A103.06,98.19 0 0 1 1552.03,856.74M1657.77,725.4A83.85,73.06 0 0 1 1670.86,755.03M1647.89,696.92A87.67,85.59 0 0 1 1662.53,712.12M1633.37,713.13A67.51,59.86 0 0 1 1639.25,717.69M1610.3,661.13A107.68,101.27 0 0 1 1646.22,675.28M1594.88,833.95A88.19,75.53 0 0 1 1570.56,832.36M1655.02,849.06A113.41,103.2 0 0 1 1638.99,858.12M1530.7,778.04A66.17,54.69 0 0 1 1527.12,762.49M1490.76,772.43A97.3,87.53 0 0 1 1489.52,755.03M1634.02,834.81A97.36,86.29 0 0 1 1621.31,839.64M1619.89,690.39A76.34,74.13 0 0 1 1640.42,700.44M1616.18,663.31A109.49,97.43 0 0 1 1635.68,668.56M1512.57,708.96A97.34,89.37 0 0 1 1528.1,693.93M1515.43,741.12A76.31,75.71 0 0 1 1523.14,724.78M1607.6,817.17A62.36,58.64 0 0 1 1579.81,818.54M1514.35,824.46A104.17,93.75 0 0 1 1492.94,795.76M1490.19,816.76A116.98,103.36 0 0 1 1476.82,791.8M1468.13,729.94A127.01,111.05 0 0 1 1481.4,703.91M1641.4,871.66A125.05,112.51 0 0 1 1619.93,877.37M1562.94,696.74A75.83,65.75 0 0 1 1573.14,693.95M1546.38,705.87A83.9,75.16 0 0 1 1571.02,695.09M1577,838.34A88.09,75.36 0 0 1 1545.83,827.44M1587.52,688.51A74.61,71.19 0 0 1 1597.57,688.05M1632.19,855.3A119.26,102.49 0 0 1 1594.52,861.48M1517.25,705.35A103.55,93.05 0 0 1 1544,685.62M1630,672.42A111.62,99.84 0 0 1 1651.18,680.82M1496.06,737.35A98.26,89.6 0 0 1 1503.45,719.49M1542.72,676.71A111.81,94.07 0 0 1 1553.78,673.14M1588.11,855.98A111.71,96.4 0 0 1 1569.84,853.73M1527.49,770.51A60.79,54.2 0 0 1 1527.84,750.81M1496.94,828.84A114.32,107.55 0 0 1 1480.7,799.36M1622.52,668.32A113.93,94.08 0 0 1 1632.48,670.88M1627.51,861.28A120.57,106.11 0 0 1 1586.5,866.01M1491.85,804.34A109.41,97.39 0 0 1 1486.71,790.95M1528.88,775.52A64.06,53.14 0 0 1 1527.51,762.6M1561.25,825.55A76.6,70.67 0 0 1 1544.14,816.95M1594.24,874.1A122.1,107.37 0 0 1 1554.23,868.6M1605.89,866.4A115.66,108 0 0 1 1578.23,866.91M1633.5,803.8A65.48,57.03 0 0 1 1605.81,814.24M1679.38,726.29A96.5,84.76 0 0 1 1684.09,736.97M1653.24,838.99A100.66,99.06 0 0 1 1620.44,854.46M1511.07,823.51A103.74,97.84 0 0 1 1494.26,794.3M1519.79,786.76A79.88,72.71 0 0 1 1515.57,771.52M1482.88,758.37A112.58,97.13 0 0 1 1486.33,742.07M1639.16,822.67A81.6,74.56 0 0 1 1607.68,834.39M1623.69,868.91A124.47,110.17 0 0 1 1600.76,872.15M1507.66,732.71A88.81,73.53 0 0 1 1517.86,718.09M1579.14,843.45A95.04,82.42 0 0 1 1542.71,834.52M1569.18,696.08A70.51,64.88 0 0 1 1590.03,694M1667.68,725.44A87.18,79.6 0 0 1 1678.35,755.76M1532.93,706.8A82.4,72.62 0 0 1 1544.18,699.21M1677.58,812.9A101.59,86.95 0 0 1 1666.21,825.33M1676.69,807.43A95.15,88.24 0 0 1 1654.9,832.6M1613.22,704.19A75.91,67.17 0 0 1 1638.12,717.21M1494.24,795.17A98.21,83.63 0 0 1 1488.54,763.11M1561.43,698.95A67.85,65.35 0 0 1 1569.17,696.15M1478.37,735.55A118.86,107.76 0 0 1 1490.23,710.74M1510.19,837.42A122.99,101.99 0 0 1 1484.35,812.9M1686.92,716.39A110.07,103.17 0 0 1 1697.08,744.73M1603.7,859.14A110.6,98.63 0 0 1 1590.7,859.92M1545.36,719.06A66.94,58.89 0 0 1 1563.44,707.91M1514.07,810.86A96.17,80.65 0 0 1 1498.47,785.24M1654.78,819.6A88.38,83.36 0 0 1 1625.56,836.9M1511.07,802.18A89.53,80.1 0 0 1 1503.19,786.33M1654.45,794.98A75.41,70.52 0 0 1 1646.18,806.4M1615.14,673.91A98.93,92.36 0 0 1 1637.86,681.4M1554.21,708.61A71.56,58.87 0 0 1 1571.51,702.58M1536.98,802.47A67.76,57.43 0 0 1 1527.79,790.98M1660.61,850.28A124.9,101.66 0 0 1 1626.3,861.88M1591.76,693.75A68.64,66.84 0 0 1 1617.04,700.18M1523.45,823.58A101.46,84.87 0 0 1 1506.62,807.29M1680.82,709.62A108.38,97.77 0 0 1 1687.65,720.29M1580.76,688.43A81.38,75.43 0 0 1 1599.32,687.59M1518.62,766.12A68.19,60.65 0 0 1 1520.55,751.23M1588.5,701.95A66.9,60.73 0 0 1 1614.94,706.51M1565.98,815.7A62.62,54.89 0 0 1 1539.09,797.48M1549.74,682.11A96.45,88.57 0 0 1 1573.27,674.29M1484.69,768.03A106.15,99.57 0 0 1 1484.9,760.42M1514.29,742.42A77.31,73.49 0 0 1 1526.67,716.66M1562.86,814.57A61.41,55 0 0 1 1551.68,807.95M1512.83,746.06A77.97,65.94 0 0 1 1524.3,721.83M1485.31,703.32A125.99,110.04 0 0 1 1498.1,689.99M1560.26,809.07A60.2,52.02 0 0 1 1544.95,799.64M1668.11,712.56A90.46,83.23 0 0 1 1682.12,740.46M1599.3,871.2A120.18,113.38 0 0 1 1588.52,871.13M1678.25,797.9A91.76,85.82 0 0 1 1670.49,811.55M1617.76,837.36A95.48,79.18 0 0 1 1605.51,839.81M1690.02,806.4A114.44,107.26 0 0 1 1677.95,824.32M1555.24,844.12A101.02,83.85 0 0 1 1528.52,830.82M1687.62,703.41A115.05,98.32 0 0 1 1703.46,732.27M1667.1,704.54A111.7,90.52 0 0 1 1677.07,714.25M1626.28,696.53A84.02,78.29 0 0 1 1647.2,709.22M1650.52,733.57A72.88,61.85 0 0 1 1660.06,753.5M1598.43,872.54A124.13,112.47 0 0 1 1567.45,869.52M1555.07,859.84A120.59,100.67 0 0 1 1535.04,853.55M1561.26,864.78A122.79,102.32 0 0 1 1538.36,857.61M1583.25,683.01A88.4,78.03 0 0 1 1616.1,684.89M1528.49,837.05A96.87,90.08 0 0 1 1507.64,816.99M1524.75,822.21A94.72,88.53 0 0 1 1513.58,809.84M1638.08,713.95A70.02,63.44 0 0 1 1651.36,730.01M1561.01,821.49A71.76,62.28 0 0 1 1534.57,799.72M1496.4,683.4A128.95,114.79 0 0 1 1513.76,670.38M1474.87,801.19A127.89,114.38 0 0 1 1468.65,773.52M1640.05,685.16A92.18,88.56 0 0 1 1654.92,695.28M1506.83,696.61A113.09,101.03 0 0 1 1524.73,682.96M1688.34,809.4A106.59,105.04 0 0 1 1669.36,834.17M1517.2,749.19A72.24,71.14 0 0 1 1530.58,719.71M1475.54,802.52A119.57,105.79 0 0 1 1468.37,772.56M1567.58,811.97A62.78,54.54 0 0 1 1546.88,798.22M1560.69,842.3A95.11,84.64 0 0 1 1548.06,836.99M1511.02,754.12A80.08,71.32 0 0 1 1513.19,743.34M1627.14,721.6A61.27,54.49 0 0 1 1638.94,730.52M1671.91,702.02A100.98,91.73 0 0 1 1684.51,720.75M1514.01,813.41A102.1,86.52 0 0 1 1498.88,790.43M1514.09,734.42A81.66,74.3 0 0 1 1533.55,710.51M1532.73,758.94A61.47,60.05 0 0 1 1534.75,748.35M1493.49,819.91A122.73,102.23 0 0 1 1485.21,808.6M1515.15,837.72A108.75,100.84 0 0 1 1498.67,819.66M1522.25,730.55A78.84,75.49 0 0 1 1541.74,708.45M1593.01,841.25A85,78.65 0 0 1 1575.19,840.11M1494.51,813.1A115.22,103.55 0 0 1 1481,785.38M1500.52,760.37A95.53,90.28 0 0 1 1507.84,728.81M1517.24,770.61A72.39,66.08 0 0 1 1516.93,747.9M1613.7,678.52A92.84,84.18 0 0 1 1648.74,691.92M1652.74,720.05A73.47,65.75 0 0 1 1666.5,743.62M1581.42,815.91A64.6,58.91 0 0 1 1558.27,806.58M1568.48,828.76A83.66,72.69 0 0 1 1556.45,825.21M1510.74,686A114.34,108.28 0 0 1 1529.47,672.36M1580.2,863.68A110.71,96.44 0 0 1 1556.78,859.65M1652.61,721.93A75.6,65.31 0 0 1 1665.14,741.76M1530.97,704.44A97.09,80.05 0 0 1 1559.33,689.92M1639.55,713.25A72.88,63.19 0 0 1 1646.21,719.18M1669.85,847.08A122.54,107.03 0 0 1 1638.48,862.14M1518.63,750.88A71.08,69.05 0 0 1 1520.66,740.5M1630.38,684.9A90.86,87.2 0 0 1 1648.35,696.42M1598.03,816.98A58.76,55.69 0 0 1 1585.26,817.06M1484.52,734.3A110.3,101.75 0 0 1 1490.53,718.61M1592.63,686.77A82.27,72.22 0 0 1 1612.16,688.35M1623.31,857.23A110.91,96.22 0 0 1 1597.68,861.18M1476.98,772.24A115.14,102.09 0 0 1 1476.53,760.74M1559.52,681.13A94.07,84.66 0 0 1 1578.33,676.7M1654.54,695.79A92.62,86.59 0 0 1 1667.39,710.35M1490.71,797.09A109.81,101.86 0 0 1 1484.37,777.28M1639.57,806.35A66.8,63.39 0 0 1 1622.32,818.19M1706.2,711.19A129.99,112.2 0 0 1 1711.87,722.83M1658.4,819.59A93.09,80.26 0 0 1 1631.79,834.14M1584.08,862.85A113.39,98.77 0 0 1 1570.65,861.02M1510.65,844.36A128.43,107.41 0 0 1 1487.73,823.67M1587.14,833.68A78.14,66.66 0 0 1 1578.22,832.89M1598.93,687.74A76.69,73.12 0 0 1 1628.16,697.24M1546.32,695.16A85.2,82.24 0 0 1 1570.58,684.17M1624.19,700.92A78.13,69.48 0 0 1 1645.7,713.3M1623.52,657.53A122.63,106.99 0 0 1 1639.65,662.12M1652.49,827.99A100.9,90.53 0 0 1 1640.94,835.54M1509.19,775.81A86.68,69.11 0 0 1 1506.59,755.02M1571.2,706.9A66.49,59.63 0 0 1 1587.56,703.91M1499.77,816.07A106.98,97.81 0 0 1 1488.18,789.95M1641.57,785.18A58.26,52.31 0 0 1 1627.97,799.85M1481.48,728.88A117.15,99.34 0 0 1 1490.53,712.28M1491.27,710.16A116.81,106.46 0 0 1 1508.22,687.72M1604.03,825.94A72.2,62.79 0 0 1 1584.74,825.92M1657.57,675.66A124.07,107.35 0 0 1 1668.3,682.02M1645.23,815.47A87.9,75.98 0 0 1 1631.84,823.88M1564.6,693.84A80.13,71.74 0 0 1 1580.6,689.58M1663.09,667.66A124.25,107.82 0 0 1 1675.32,675.5M1528.38,729.92A73.32,69.27 0 0 1 1536.64,719.23M1608.84,861.61A111.51,102.42 0 0 1 1594.71,863.44M1529.88,772.14A65.95,60.19 0 0 1 1529.93,758.91M1635.35,797.07A62.71,55.8 0 0 1 1611.98,812.67M1587.98,833.17A71.06,68.89 0 0 1 1555.66,825.33M1475.83,761.2A117.8,99.59 0 0 1 1484.17,729.54M1612.15,713.66A67.3,56.02 0 0 1 1641.58,730.32M1586.96,663.96A106.5,94.35 0 0 1 1615.33,666.99M1527.35,821.21A90.79,84.93 0 0 1 1514.51,807.25M1637.22,702.15A78.96,72.45 0 0 1 1659.61,725.24M1591.31,866.22A109.46,99.1 0 0 1 1576.68,865.9M1545.84,854.89A102.97,101.21 0 0 1 1520.97,840.03M1601.83,690.9A80.6,71.05 0 0 1 1630.53,700.82M1630.57,834.25A88.2,80.75 0 0 1 1618.44,839.04M1498.48,729.66A98.56,93.59 0 0 1 1508.17,709.57M1630.19,688.44A88.87,80.74 0 0 1 1643.07,695.76M1542.92,801.4A63.1,60.25 0 0 1 1532.19,779.41M1644.52,703.81A89.75,75.97 0 0 1 1655.53,711.18M1528.14,811.08A80.54,73.34 0 0 1 1511.42,784.9M1681.27,811.59A108.56,98.51 0 0 1 1672.45,823.48M1619.91,851.7A108.17,96.75 0 0 1 1580.58,856.34M1544.71,699.9A83.94,72.03 0 0 1 1563.91,692.26M1625.78,853.24A109.78,90.86 0 0 1 1598.84,856.73M1696.81,803.84A118.15,96.29 0 0 1 1689.15,815.57M1553.01,839.93A89.52,78.73 0 0 1 1528.04,826.62M1562.58,662.31A112.09,104.47 0 0 1 1595.05,657.85M1577.22,849.08A95.51,84.5 0 0 1 1550.58,842.15M1529.26,743.86A59.94,58.29 0 0 1 1537.34,727.53M1605.8,829.26A74.57,66.35 0 0 1 1572.71,829.41M1590.92,814.95A64.21,54.16 0 0 1 1561.47,809.28M1584.22,666.48A111.09,98.3 0 0 1 1624.06,671.3M1662.87,719.23A85.95,78.71 0 0 1 1673.29,738.42M1592.34,688.53A87.39,78.99 0 0 1 1615.76,692.11M1661.13,732.12A79.3,75.8 0 0 1 1667.94,751.07M1538.58,730.5A61.96,59.39 0 0 1 1561.4,708.7M1645.35,718.06A78.73,69.74 0 0 1 1657.22,733.2M1550.82,793.49A59.4,52.52 0 0 1 1540.11,778.04M1499.91,786.31A94.48,87.35 0 0 1 1496.91,770.86M1564.1,823.39A77.35,65.41 0 0 1 1547.43,816.64M1677.23,838.91A118.47,105.49 0 0 1 1664.07,849.03M1512.06,817.58A107.99,91.43 0 0 1 1494.8,792.83M1650.68,691.92A93.59,86.21 0 0 1 1669.69,709.28M1510.14,754.37A78.83,71.43 0 0 1 1513.43,741.44M1556.97,715.86A65.28,57.9 0 0 1 1567.81,711.56M1512.59,752.3A77.54,73.7 0 0 1 1520.85,725.42M1658.39,705.9A88.02,82.81 0 0 1 1667.12,716.53M1589.3,829.26A84.75,70.64 0 0 1 1567.3,826.58M1628.81,824.15A83.34,75.28 0 0 1 1617.67,828.86M1567.48,854.23A110.47,98.68 0 0 1 1537.41,843.29M1566.04,658.65A117.74,102.66 0 0 1 1576.43,657.29M1625.71,656.65A119.34,111.59 0 0 1 1641.75,662.74M1622.55,708.72A70.46,66.16 0 0 1 1641.68,722.36M1664.34,679.02A126.89,106.29 0 0 1 1693.59,703.42M1648.56,709.71A84.66,78.22 0 0 1 1665.89,732.31M1545.4,836.88A98.46,82.78 0 0 1 1538.03,833.2M1639.24,791.51A63.81,56.14 0 0 1 1623.46,805.62M1640.06,846.57A108.96,97.54 0 0 1 1616.25,854.5M1571.6,871.39A119.85,106.33 0 0 1 1562.79,869.66M1482.31,733.72A116.03,100.44 0 0 1 1493.6,711.61M1695.95,800.94A109.79,96.18 0 0 1 1684.15,819.07M1678.46,838.64A126.79,103.14 0 0 1 1664.69,848.53M1580.78,828.62A80.92,69.12 0 0 1 1555.69,821.54M1515.96,812.73A96.76,79.73 0 0 1 1502.3,797.43M1659.51,732.87A81.09,74.59 0 0 1 1665.49,747.33M1633.29,826.02A80.2,72.17 0 0 1 1620.1,831.38M1534.27,691.77A100.47,83.32 0 0 1 1547.14,686.05M1616.08,667.27A114.03,94.87 0 0 1 1646,677.75M1539.59,740.9A61.43,53.31 0 0 1 1556.47,723.01M1554.39,866.59A122.29,107 0 0 1 1532.65,859.25M1656.65,809.33A84.82,77.92 0 0 1 1638,827.37M1584.14,674.16A102.86,90.04 0 0 1 1601.13,673.73M1502.89,699.54A120.87,98.24 0 0 1 1523.44,684.91M1551.12,865.27A119.53,106.28 0 0 1 1531.47,856.73M1491.16,767.1A98.65,82.23 0 0 1 1491.08,749.3M1501.01,695.82A114.48,101.04 0 0 1 1508.87,688.49M1477.94,768.95A113.52,96.67 0 0 1 1478.14,757.4M1651.47,800.5A70.82,61.71 0 0 1 1635.57,816.01M1543.61,684.87A97.62,84.45 0 0 1 1558.18,679.52M1530.13,813.7A79.6,67.33 0 0 1 1520.2,803.45M1652.25,716.3A79.72,75.37 0 0 1 1661.38,727.87M1658.03,732.96A78.4,70.96 0 0 1 1662.51,742.85M1629.54,853.99A114.39,99.25 0 0 1 1614.68,857.47M1530.18,696.59A98.2,92.92 0 0 1 1537.62,691.12M1640.94,708.03A77.84,68.14 0 0 1 1663.08,731.77M1678,691.86A110.84,103.92 0 0 1 1694.43,714.51M1485.59,707.52A124.13,107.55 0 0 1 1507.46,683.7M1661.9,723.07A82.88,76.9 0 0 1 1674.19,752.94M1667.43,831.06A111.23,104.14 0 0 1 1637.53,851.45M1579.94,851.01A110.99,92.56 0 0 1 1542.83,841.37M1670.76,820.04A100.17,94.3 0 0 1 1648.6,840.93M1630.97,826.1A89.08,73.92 0 0 1 1610.23,831.1M1612.53,665.83A110.91,103.38 0 0 1 1637.77,673.17M1535.8,832.04A93.33,77.81 0 0 1 1508.55,808.69M1699.32,823.24A123,107.04 0 0 1 1678.14,844.94M1657.74,690.14A105.22,90.8 0 0 1 1681.16,714.38M1476.82,802.25A119.64,103.86 0 0 1 1467.86,768.6M1569.06,857.42A103.26,97.4 0 0 1 1560.5,854.94M1564.86,816.85A65.64,59.77 0 0 1 1547.81,805.4M1502.72,829.53A116.28,109.15 0 0 1 1494.4,819.07M1616.47,843.72A89.99,79.62 0 0 1 1608.48,845.04M1675.38,721.78A92.09,84.83 0 0 1 1687.26,755.5M1514.45,766A75.03,69.7 0 0 1 1517.59,743.59M1512.92,799.25A84.29,83.4 0 0 1 1504.36,777.98M1576.56,656.59A116.27,103.65 0 0 1 1593.18,655.64M1642.93,848.9A98.31,94.79 0 0 1 1610.19,860.94M1696.18,730.62A115.21,95.78 0 0 1 1701.19,743.37M1545.49,841.41A97.55,84.54 0 0 1 1519.02,825.43M1603.79,689.87A79.21,68.65 0 0 1 1638.42,700.28M1663.28,798.41A84.98,71.75 0 0 1 1643.53,816.71M1639.15,653.4A120.48,113.66 0 0 1 1666.99,667.65M1507.26,690.67A118.61,102.73 0 0 1 1516.13,683.73M1563.93,821.67A71.08,69.59 0 0 1 1551.89,814.18M1652.53,796.62A70.6,63.39 0 0 1 1640.45,810.25M1598.71,712.37A57.44,53.99 0 0 1 1611.08,715M1494.02,814.68A114.26,109.53 0 0 1 1483.66,790.38M1636.18,722.41A60.94,53.79 0 0 1 1647.53,737.58M1658.72,830.84A103.73,85.69 0 0 1 1644.57,839.19M1497.31,823.86A118.46,104.43 0 0 1 1484.63,801.66M1503.52,766.07A88.77,83.6 0 0 1 1504.3,755.14M1590.71,853.66A89.46,88.13 0 0 1 1558.72,849.01M1558.82,704.77A74.85,68.23 0 0 1 1583.99,697.76M1554.73,682.73A93.03,87.75 0 0 1 1573.62,677.61M1543.54,702.91A83.49,72.27 0 0 1 1559.19,696.53M1638.13,726.06A62.51,54.99 0 0 1 1647.56,742.92M1535.1,745.58A58.55,56.39 0 0 1 1543.12,727.83M1538.07,760.49A56.85,50.75 0 0 1 1541.51,745.51M1582.48,862.67A110.88,102.05 0 0 1 1556.31,858.15M1542.97,828.12A85.3,76.16 0 0 1 1529.19,816.34M1573.19,688.28A79,75.13 0 0 1 1599.16,685.12M1530.73,848.97A109.74,99.48 0 0 1 1501.04,824.69M1566.66,686.53A87.19,75.66 0 0 1 1578.93,684.23M1650.9,740.76A63.62,55.8 0 0 1 1657.61,758.45M1477.52,766.38A108.69,94.8 0 0 1 1478.35,753.74M1620,685.5A98.26,84.45 0 0 1 1637.35,692.12M1514.61,706.63A94.63,86.67 0 0 1 1528.27,693.14M1558.08,692.38A81.67,74.3 0 0 1 1586.33,685.47M1688.04,812.81A111.91,104.65 0 0 1 1682.54,821.87M1549.97,698.23A82.64,73.54 0 0 1 1569.84,691.54M1558.71,689.12A97.11,80.09 0 0 1 1595.4,683.89M1564.09,847.44A96.64,89.35 0 0 1 1542.18,839.78M1698.02,711.35A117.45,107.33 0 0 1 1707.86,734.33M1486.21,733.21A108.75,91.61 0 0 1 1491.09,723.68M1650.57,697.99A96.54,81.3 0 0 1 1672.51,717.19M1597.27,712.22A62.43,55.7 0 0 1 1621.47,720.64M1618.02,815.64A64.59,56.47 0 0 1 1588.5,819.8M1689.63,719.17A113.11,102.09 0 0 1 1694.25,728.47M1529.31,793.05A65.38,60.81 0 0 1 1522.36,775.61M1661.44,836.97A103.89,99.69 0 0 1 1630.78,854.53M1670.29,733.27A83.63,77.12 0 0 1 1675.38,752.17M1518.37,764.32A75.1,63.96 0 0 1 1520.38,751.52M1585.31,701.4A63.59,58.41 0 0 1 1604.01,701.05M1521.43,808.78A78.46,73.67 0 0 1 1514.14,796.22M1630.23,719.33A57.62,52.9 0 0 1 1643.49,732.99M1537.88,817.76A82.33,74.06 0 0 1 1528.27,810.35M1514.36,676.46A119.71,106.2 0 0 1 1537.92,664.03M1504.77,838.99A118.19,106.21 0 0 1 1486.99,818.31M1586.82,816.7A61.76,55.96 0 0 1 1572.14,814.07M1522.56,825.93A98.7,86.99 0 0 1 1510.27,812.92M1545.81,810.78A68.96,60.61 0 0 1 1530.61,792.06M1563.37,850.72A95.7,93.25 0 0 1 1540.5,841.01M1531.15,866.57A118.86,113.78 0 0 1 1511.08,853.71M1515.8,761.92A76.56,66.32 0 0 1 1523.11,738.18M1525.26,800.46A82.68,77.41 0 0 1 1516.11,782.83M1602.06,698.72A68.49,61.76 0 0 1 1619.53,702.48M1516.79,736.89A84.27,75.22 0 0 1 1533.61,712.57M1601.19,873.9A116.62,110.32 0 0 1 1579.3,873.53M1474.26,744.18A118.02,101.08 0 0 1 1478.21,732.67M1518.15,736.07A79.32,67.6 0 0 1 1524.11,726.42M1518.65,773.52A74.52,61.43 0 0 1 1517.27,762.57M1556.79,843.56A93.93,84.86 0 0 1 1545.47,839.25M1666.8,827.12A99.41,95.69 0 0 1 1636.83,847.44M1550.19,720.03A64.66,55.2 0 0 1 1562.88,711.64M1564.82,712.65A64.76,58.88 0 0 1 1592.93,709.03M1570.92,835.48A78.28,71.03 0 0 1 1546.68,827.1M1635.09,849.48A102.75,92.94 0 0 1 1619.13,855.53M1569.45,664.07A108.86,98.81 0 0 1 1607.82,664.27M1576.24,835.28A95.43,77.93 0 0 1 1558.64,831.28M1632.23,691.45A82.87,78.63 0 0 1 1642.88,698.27M1481.38,812.92A123.03,101.12 0 0 1 1468.39,782.66M1551.73,855.19A104.11,94.22 0 0 1 1533.63,847.31M1493.31,818.51A113.64,106.8 0 0 1 1483.01,795.7M1666.08,739.01A77.47,63.48 0 0 1 1668.8,745.47M1585.14,710.24A65.87,56.09 0 0 1 1604.29,711.69M1512.27,715.92A93.2,90.59 0 0 1 1517.52,708.55M1512.63,743.08A82.49,74.41 0 0 1 1519.87,729.16M1532.76,801.97A72.68,69.99 0 0 1 1526.58,788.48M1517.83,680.03A121.44,107.15 0 0 1 1553.09,664.53M1559.52,686.25A90.81,75.61 0 0 1 1596.21,682.76M1630.63,662.74A111.59,107.71 0 0 1 1662.51,682.32M1627.69,816.68A70.11,61.03 0 0 1 1615.52,822.55M1495.48,792.23A99.67,91.15 0 0 1 1491.28,780.19M1657.76,817.71A90.43,84.05 0 0 1 1639.34,831.97M1561.39,664.91A118.4,97.3 0 0 1 1592.95,662.24M1522.88,817.12A90.11,79.76 0 0 1 1513.87,807.78M1509.57,693.74A110.28,95.97 0 0 1 1540.26,674.5M1509.47,765.36A79.64,72.71 0 0 1 1511.94,747.6M1506.96,723.62A98.67,84.59 0 0 1 1522.36,704.23M1593.79,666.1A104.89,96.22 0 0 1 1610.39,667.56M1517.29,844.06A122.99,103.53 0 0 1 1507.67,837.02M1496.17,785.91A98.84,79.5 0 0 1 1492.11,764.5M1542.94,804.43A65.21,52.65 0 0 1 1535.35,797.9M1598.93,822.46A70.43,63.94 0 0 1 1580.76,820.97M1547.43,815.65A74.08,63.32 0 0 1 1528.77,797.27M1656.51,790.51A68.97,60.16 0 0 1 1640.69,809.2M1528.76,781.95A62.96,58.26 0 0 1 1526.63,772.4M1549.45,667.32A117.12,103.56 0 0 1 1587.36,661.64M1523.96,767.25A69.37,56.81 0 0 1 1532.16,740.29M1620.52,692.08A84.22,74.97 0 0 1 1645.53,705.12M1505.22,771.49A83.61,74.15 0 0 1 1505.01,748.68M1505.26,751.74A91.5,79.42 0 0 1 1509.3,735.8M1541.29,840.14A97.89,89.12 0 0 1 1523.82,829.5M1681.31,823.14A114.88,102.85 0 0 1 1668.66,836.16M1674.98,698.72A109.25,92.32 0 0 1 1688.83,715.78" stroke="#fff" stroke-width="1.1" fill="none" opacity="0.82" stroke-linecap="round"/>
<path d="M1580.85,817.04A55.7,51.18 0 0 1 1561.3,810.35M1548.55,761.07A40.76,36.99 0 0 1 1553.13,744.86M1567.08,723.49A44.74,43.47 0 0 1 1586.13,715.79M1596.29,800.66A39.87,34.48 0 0 1 1576.25,798.62M1536.71,776.1A52.84,46.67 0 0 1 1537.66,746.61M1596.11,728.34A38.28,31.23 0 0 1 1621.9,738.42M1578.42,738.71A31.52,28.03 0 0 1 1598.17,735.3M1581.77,708.52A59.06,54.19 0 0 1 1598.35,707.53M1548.02,726.87A62.97,55.43 0 0 1 1556.73,720.33M1582.69,811.59A58.25,52.59 0 0 1 1553,795.94M1564.13,809.86A52.29,49.37 0 0 1 1550.93,800.87M1623.68,737.45A39.25,36.95 0 0 1 1630.82,756.03M1568.12,741.74A35.6,35.06 0 0 1 1576.53,734.53M1587.88,822.85A60.11,56.33 0 0 1 1570.97,819.15M1647.02,712.09A73.4,66.6 0 0 1 1661.54,731.61M1606.59,719.94A47.28,42.55 0 0 1 1620.94,725.79M1613.16,793.14A39.63,35.3 0 0 1 1599.22,798.61M1568.58,728.06A39.62,34.62 0 0 1 1577.42,725.16M1535.07,744.53A56.78,45.61 0 0 1 1549.58,728.41M1624.28,801.7A58.78,54.9 0 0 1 1605.79,810.84M1609.13,823.11A70.45,64.29 0 0 1 1589.68,825.72M1617.29,824.92A74.89,65.77 0 0 1 1585.24,827.68M1648.63,808.95A77.82,62.24 0 0 1 1622.44,822.37M1575.09,716.96A59.16,51.02 0 0 1 1584.24,715.33M1627.42,717.46A68.5,58.85 0 0 1 1638.33,725.45M1645.39,719.59A69.36,64.93 0 0 1 1656.1,739.01M1622.95,800.66A49.65,42.96 0 0 1 1611.8,805.62M1628.99,709.9A69.26,64.03 0 0 1 1649.81,727.97M1568.01,787.97A32.44,28.52 0 0 1 1561,781.74M1547.27,722.77A64.59,55.03 0 0 1 1568.27,709.62M1572.69,703.44A65.43,57 0 0 1 1581.06,701.99M1574.68,729.12A40.36,37.62 0 0 1 1601.7,724.56M1573.21,724.54A45.56,40.84 0 0 1 1587.91,720.18M1637.72,789.52A56.56,46.75 0 0 1 1614.07,803.06M1572.06,806.1A45.79,43.04 0 0 1 1563.16,800.6M1610.03,798.87A42.78,40.64 0 0 1 1597.01,801.61M1537.44,786.45A58.62,51.57 0 0 1 1529,760.18M1592.22,713.37A59.02,51.78 0 0 1 1616.4,719.65M1550.96,788.24A44.24,42.43 0 0 1 1543.78,771.41M1600.38,715.93A49.86,49.14 0 0 1 1624.58,727.01M1629.55,710.08A69.84,62.99 0 0 1 1636.88,715.64M1555.14,751.75A38.23,32.99 0 0 1 1574.98,735.64M1572.73,814.83A72.37,59.3 0 0 1 1549.22,805.26M1584.62,719.52A56.44,48.21 0 0 1 1605.06,721.87M1633.47,787.28A44.04,41.8 0 0 1 1624.33,797.34M1548.34,764.04A38.15,30.7 0 0 1 1558.45,741.95M1591.83,716.89A51.46,46.67 0 0 1 1619.52,724.39M1538.49,712.52A74.62,67.62 0 0 1 1550.06,704.74M1595.83,796.95A41.31,38.91 0 0 1 1587.53,796.54M1640.94,725.72A63.1,56.79 0 0 1 1647.91,736.95M1562.45,707.56A69.15,58.67 0 0 1 1589.94,701.22M1587.46,724.2A41.63,41.19 0 0 1 1599.45,726.28M1549.41,811.19A65.69,63.11 0 0 1 1530.29,784.57M1561.54,807.66A61.03,52.26 0 0 1 1547.99,799.63M1576.09,712.98A55.62,55 0 0 1 1584.35,711.17M1636.05,791.77A56,44.64 0 0 1 1608.69,808.2M1549.55,763.25A43.81,38.8 0 0 1 1551.12,750.93M1527.9,750.16A68.65,55.31 0 0 1 1534.69,735.62M1567.4,732.57A37.45,33.4 0 0 1 1594.13,728.46M1561.98,721.26A53.62,48.63 0 0 1 1589.69,712.98M1607.24,711.67A62.91,58.55 0 0 1 1622.4,718.22M1568.73,720.4A47.72,43.86 0 0 1 1575.57,717.33M1588.88,813.81A62.82,54.5 0 0 1 1564.21,810.33M1533.34,739.53A62.3,62.04 0 0 1 1550.29,716.27M1555.67,732.63A47.04,42.2 0 0 1 1580.63,719.92M1528.3,795.1A71.77,65.26 0 0 1 1521.8,780.22M1578.87,815.99A55.86,51.77 0 0 1 1555.56,803.75M1532.57,796.92A64.1,59.53 0 0 1 1527.32,787.55M1601.41,804.94A50.52,47.01 0 0 1 1582.91,804.45M1534.71,750.75A58.14,50.71 0 0 1 1541.28,739.1M1616.57,808.06A49,48.43 0 0 1 1596.48,812.71M1624.19,781.31A43.15,35.99 0 0 1 1613.5,788.78M1568.31,735.71A31.45,28.95 0 0 1 1593.74,731.22M1631.91,787.87A49.13,43.08 0 0 1 1605.06,802.56M1579.61,822.5A66.3,59.79 0 0 1 1549.07,808.41M1603.82,733.8A34.41,30.95 0 0 1 1616.76,744.14M1550.76,783.34A43.81,38.08 0 0 1 1543.43,756.49M1544.15,774.51A51.34,51.03 0 0 1 1542.62,766.25M1554.89,766.84A37.22,31.32 0 0 1 1558.18,747.95M1535.8,782.35A64.56,54.68 0 0 1 1530.73,752.77M1598.96,801.04A46.08,42.63 0 0 1 1588.05,802.59M1558.47,716.83A68.32,59.16 0 0 1 1590.64,707.46M1543.74,800.61A55.61,52.08 0 0 1 1531.12,772.57M1529.82,765.37A65.14,59.3 0 0 1 1533.47,738.5M1529.42,736.71A65.13,57.7 0 0 1 1544.01,720.18M1572.45,821.36A74.37,61.04 0 0 1 1559.67,816.95M1529.68,785.79A68.76,59.55 0 0 1 1523.6,758.52M1622.51,799.89A54.73,49.42 0 0 1 1594.04,810.17M1635.86,814A74.13,63.65 0 0 1 1619.78,821.81M1554.15,716.01A57.46,56.77 0 0 1 1568.45,707.51M1616.63,809.8A62.68,52.77 0 0 1 1585.8,814.55M1581.99,704.16A62.74,55.07 0 0 1 1608.19,706.89M1628.63,725.73A49.5,44.99 0 0 1 1641.44,741.61M1589.17,797.05A37.73,33.39 0 0 1 1572.8,793.65M1609.9,793.02A35.04,32.97 0 0 1 1596.89,796.47M1650.58,716.17A76.59,64.15 0 0 1 1657.84,724.26M1623.02,714.06A59.93,53.52 0 0 1 1637.36,726.29M1622.09,802.4A57.94,52.5 0 0 1 1608,808.92M1613.97,706.32A71.54,58.29 0 0 1 1636.3,717.05M1620.36,737.19A35.56,32.63 0 0 1 1627.5,746.07M1611.56,701A66.96,64.13 0 0 1 1633.02,711.88M1613.7,800.45A51.5,44.52 0 0 1 1591.42,805.45M1617.78,729.55A49.4,47.6 0 0 1 1625.92,737.02M1613.76,796.84A42.91,40.72 0 0 1 1585.26,800.99M1559.92,814.87A62.29,58.79 0 0 1 1552.96,810.71M1582.65,809.73A55.09,45.04 0 0 1 1561.19,804.41M1552.18,748.16A38.38,36.38 0 0 1 1558.52,738.75M1585.12,811.75A55.35,46.39 0 0 1 1555.88,801.1M1575.26,790.38A40.61,35.15 0 0 1 1561.14,780.16M1632.5,717.09A64.38,57.83 0 0 1 1647.79,733.15M1584.2,792.23A31.24,28.71 0 0 1 1569.86,786.21M1578.49,833.78A75.13,66.66 0 0 1 1543.21,822.14M1655.63,721.5A76.71,63.36 0 0 1 1666.54,738.22M1582.29,697.97A70.71,63.96 0 0 1 1610.1,698.78M1556.01,721.47A59.65,53.01 0 0 1 1568.14,715.66M1624.5,788.12A36.52,36.03 0 0 1 1612.02,799.27M1629.9,740.72A44.97,37.42 0 0 1 1637.57,753.55M1612.69,738.05A38.76,34.36 0 0 1 1618.85,742.22M1583.57,707.58A62.85,53.38 0 0 1 1599.16,708.44M1546.03,775.07A47.42,43.67 0 0 1 1545.76,760.76M1606.84,725.62A41.81,36.56 0 0 1 1625.35,742.79M1597.38,791.63A32.89,27.99 0 0 1 1573.9,788.02M1643.96,717.68A72.67,62.5 0 0 1 1657.17,730.98M1643.87,806.13A72.51,62.14 0 0 1 1629.18,817.06M1635.87,791.66A51.45,43.87 0 0 1 1617.83,803.97M1537.23,743.63A55.89,52.05 0 0 1 1540.53,737.09M1551.38,799A62.01,53.87 0 0 1 1532.85,773.89M1551.99,744.28A49.58,41.84 0 0 1 1573.86,728.81M1618.3,713.24A57.63,49.1 0 0 1 1632.28,720.39M1576.33,816.94A59.79,50.9 0 0 1 1555.51,809.72M1558.83,757.62A37.85,33.89 0 0 1 1563,748.75M1570.05,806.55A61.77,50.54 0 0 1 1559.82,803.18M1579.42,796.07A35.7,33.59 0 0 1 1573.56,792.94M1525.53,731.06A74.71,65.43 0 0 1 1531.74,721.27M1617.23,816.31A60.05,53.24 0 0 1 1588.55,820.22M1529.73,784.56A69.42,63.77 0 0 1 1524.3,760.47M1573.12,823.9A68.91,66.7 0 0 1 1557.93,818.06M1531.92,781.51A64.26,53.59 0 0 1 1528.08,772.62M1624.44,791.71A41.97,37.55 0 0 1 1608.9,800.16M1621.51,803.08A63.08,53.21 0 0 1 1598.81,810.98M1622.54,793.54A43.66,40.39 0 0 1 1601.78,804.23M1631.11,784.63A47.02,40.65 0 0 1 1618.64,795.95M1594.27,808.24A53.09,46.43 0 0 1 1576.37,807.29M1584.47,731.69A40.49,36.05 0 0 1 1593.86,730.57M1631.42,799.47A53.65,51.25 0 0 1 1615.64,811.24M1554.98,759.47A35.09,32.75 0 0 1 1559.84,745.73M1642.97,792.94A62.7,55.66 0 0 1 1630.34,806.33M1630.98,712.99A73.1,65.49 0 0 1 1647.46,728.89M1607.04,803.73A48.49,46.87 0 0 1 1588.48,807.6M1604.7,703.62A71.94,63.88 0 0 1 1627.87,710.1M1591.43,802.37A46.85,40.55 0 0 1 1564.36,796.13M1562.53,742.19A35.36,30.8 0 0 1 1568.29,736.77M1579.62,717.61A49.2,48.32 0 0 1 1608.6,719.88M1562.26,737.32A35.39,30.64 0 0 1 1574.76,730.38M1639.32,738.11A52.24,45.82 0 0 1 1647.15,760M1538.7,784.78A56.99,52.51 0 0 1 1532.32,761.86M1583.69,719.82A48.33,47.28 0 0 1 1590.83,719.23M1623.27,798.99A48.43,45.4 0 0 1 1602.32,806.5M1618.34,740.57A34.54,29.44 0 0 1 1625.43,756.56M1555,767.71A36.09,35.89 0 0 1 1556.11,755.23M1540.95,747.63A56.75,53.54 0 0 1 1543.56,740.52M1593.37,813.74A55.44,47.88 0 0 1 1583.23,812.68M1619.86,728.19A50.75,46.71 0 0 1 1626.59,733.38M1557.78,814.1A60.98,55.17 0 0 1 1534.51,794.27M1592.63,793.24A35.75,29.84 0 0 1 1573.54,789.8M1613.6,740.89A35.47,30 0 0 1 1630.38,760M1638.58,715.84A70.16,61.33 0 0 1 1649.11,728.23M1557.69,789.85A47.46,41.82 0 0 1 1544.11,769.08M1551.42,771.88A37.81,31.81 0 0 1 1551.68,760.43M1528.93,786.87A68.03,65.11 0 0 1 1523.35,757.41M1632.73,710.02A70.06,61.84 0 0 1 1653.29,734.23M1583.17,798.69A45.49,40.6 0 0 1 1561.82,787.99M1581.46,727.31A41.92,39.14 0 0 1 1588.11,726.6M1651.21,726.66A72.06,61.38 0 0 1 1663.48,747.66M1635.89,791.09A52.04,47.11 0 0 1 1630.4,797.88M1565.67,739.17A36.83,33.81 0 0 1 1587.49,725.43M1622.59,721.24A53.34,46.65 0 0 1 1639.83,738.67M1642.25,790.06A61.02,56.32 0 0 1 1631.13,802.97M1590.2,807.18A54.95,48.94 0 0 1 1570.54,803.35M1551.52,718.64A57.62,53.74 0 0 1 1576.12,708.18M1533.31,802.51A69.78,64.95 0 0 1 1519.21,778.01M1617.01,717.01A60.35,56.69 0 0 1 1640.6,737.94M1611.09,796.72A39.32,35.94 0 0 1 1598.03,800.38M1535.7,727A68.71,67.37 0 0 1 1554.81,705.16M1554.97,811.8A67.85,61.28 0 0 1 1534.11,791.36M1532.45,748.22A55.61,50.78 0 0 1 1536.46,737.1M1609.7,710.72A66.52,59.71 0 0 1 1627.84,719.62M1581.61,819.36A61.32,56.26 0 0 1 1552.24,806.85M1604.93,830.26A71.95,66.27 0 0 1 1591.12,831.12M1587.71,812.54A52.32,51.11 0 0 1 1573.27,810.1M1592.51,798.41A46.45,39.96 0 0 1 1582.84,797.82M1614.22,803.64A52.35,48.5 0 0 1 1601.17,806.49M1611.67,820.14A67.42,57.59 0 0 1 1595.17,822.61M1624.79,783.17A39.21,35.24 0 0 1 1608.18,793.49M1589.59,786.77A33.28,27.95 0 0 1 1572.98,783.58M1638.12,730.75A57.99,53.69 0 0 1 1641.85,737.38M1557.09,812.56A60.78,59.99 0 0 1 1545.5,802.26M1569.69,705.56A69.25,56.56 0 0 1 1579.71,703.48M1553.7,762.65A37.02,32.51 0 0 1 1559.23,747.84M1583.73,827.66A66.47,62.04 0 0 1 1562.57,823.43" stroke="#fff" stroke-width="1.0" fill="none" opacity="0.75" stroke-linecap="round"/>
<path d="M1526.76,876.42A137.66,127.4 0 0 1 1517.33,871.34M1525.65,645.29A143.49,130.05 0 0 1 1537.76,640.17M1687.38,660.69A140.65,140.67 0 0 1 1698.31,671.63M1543.23,882.15A143.29,128.64 0 0 1 1528.96,876.54M1689,658.01A158.97,133.11 0 0 1 1707.34,671.5M1515.29,669.09A134.98,119.87 0 0 1 1549.15,652.97M1570.75,625.29A152.61,138.14 0 0 1 1610.38,625.65M1453.1,705.56A155.71,132.91 0 0 1 1471.71,681.69M1639.82,635.71A147.41,133.36 0 0 1 1669.71,648.28M1520.48,659.79A131.37,123.76 0 0 1 1553.78,645.85M1558.73,899.38A143.21,135.25 0 0 1 1529.58,890.22M1522.83,680.75A112.84,100.73 0 0 1 1530.71,676.3M1633.27,638.16A156.26,129.51 0 0 1 1657.67,645.13M1551.14,667.2A117.95,104.45 0 0 1 1568.06,662.92M1438.85,747.32A152.98,140.27 0 0 1 1442.39,726.28M1564.1,648.73A116.63,117.21 0 0 1 1585.09,644.84M1675.55,671.39A131.57,120.67 0 0 1 1696.08,691.84M1477.27,790.33A118.29,112.54 0 0 1 1474.87,780.18M1467.68,840.27A149.92,133.83 0 0 1 1455.05,820.94M1659.84,654.24A122.65,121.68 0 0 1 1678.31,668.01M1503.67,680.21A125.91,110.38 0 0 1 1514.96,672.35M1498.32,819.92A114.41,103.92 0 0 1 1483.01,788.06M1481.66,819.95A124.15,109.32 0 0 1 1468.61,789.88M1472.96,727.63A120.31,120.69 0 0 1 1476.68,716.74M1457.43,765.65A133.39,122.13 0 0 1 1459.29,740.1M1461.31,763.91A133.5,115.85 0 0 1 1463.89,743.11M1531.27,883.05A158.67,135.65 0 0 1 1498.71,867.21M1541.2,882.72A136.54,131.13 0 0 1 1515.96,869.71M1564.5,896.85A147.76,138.22 0 0 1 1547.2,892.82M1612.22,638.75A142.08,129.78 0 0 1 1632,642.28M1519.35,883.57A147.65,137.72 0 0 1 1505.97,875M1441.3,821.27A162.06,142.63 0 0 1 1430.18,791.6M1680.06,675.3A126.5,117.81 0 0 1 1702.76,700.37M1482.46,801.4A116.11,116.23 0 0 1 1479.28,789.45M1468.07,691.06A140,127.71 0 0 1 1492.44,664.13M1517.74,655.48A146.6,128.44 0 0 1 1528.71,650.12M1680.89,676.86A131.9,121.72 0 0 1 1698.18,696.99M1469.96,835.28A144.51,130.2 0 0 1 1455.67,809.59M1584.42,645.62A132.8,112.82 0 0 1 1599.94,645.87M1499.9,649.58A151.93,139.34 0 0 1 1530.78,632.54M1593.08,644.2A126,118.8 0 0 1 1610.64,646.15M1639.01,635.49A151.68,130.74 0 0 1 1668.81,647.48M1605.21,628.62A143.41,135.29 0 0 1 1616.24,630.18M1580.85,656.22A112.54,102.58 0 0 1 1608.49,657.63M1502,848.83A126.25,126.29 0 0 1 1496.24,842.86M1460.24,808.65A140.9,121.36 0 0 1 1454.42,794.07M1523.98,661.72A140.67,119.78 0 0 1 1557.54,649.84M1525.18,630.83A143.23,143.24 0 0 1 1550.05,621.05M1459.84,745.62A132.27,121.63 0 0 1 1469.43,713.21M1558.8,643.85A146.64,124.63 0 0 1 1568.84,642.07M1682.32,691A124.34,107.17 0 0 1 1694.02,702.58M1495.44,679.04A137.04,124.82 0 0 1 1508.5,668.64M1463.52,814.31A135.1,128.21 0 0 1 1453.51,781.62M1660.84,670.4A117.54,116.77 0 0 1 1679.91,689.89M1649.49,653.08A135.08,125.89 0 0 1 1657.91,657.23M1638.23,637.38A140.82,129.16 0 0 1 1652.48,643.17M1515.88,842.84A123.38,107.9 0 0 1 1498.7,828.37M1522.3,650.49A143.73,127.24 0 0 1 1541.48,642.62M1477.72,753.08A117.52,110.6 0 0 1 1478.66,743.56M1554.44,872.3A137.31,116.04 0 0 1 1539.81,868.2M1541.28,626.89A146.12,145.16 0 0 1 1556.02,622.52M1554.55,654.02A116.4,111.44 0 0 1 1577.01,648.5M1484.92,813.07A120.59,116.48 0 0 1 1478.56,797.24M1568.86,867.58A118.61,106.63 0 0 1 1553.09,863.99M1510.27,869.47A150.32,130.42 0 0 1 1490.09,855.33M1532.28,881.82A143.89,127.46 0 0 1 1499.09,861.89M1607.79,638.21A134.56,123.85 0 0 1 1642.15,646.5M1520.26,878.85A138.19,129.16 0 0 1 1497.75,864.45M1576.57,631.43A157.52,130.9 0 0 1 1589.58,630.76M1460.12,710.68A144.36,128.84 0 0 1 1472.22,690.78M1488.2,826.75A124.91,120.29 0 0 1 1474.99,802.28M1452.72,790.56A138.73,113.4 0 0 1 1448.19,766.68M1463.69,768.44A123.07,104.11 0 0 1 1463.84,755.37M1472.91,675.21A152.21,136.75 0 0 1 1494.99,656.25M1560.27,879.05A132.2,121.11 0 0 1 1541.24,873.03M1480.54,827.44A130.22,121.33 0 0 1 1467.13,800.78M1622.6,638.42A143.86,130.88 0 0 1 1652.84,647.77M1653.47,673.57A115.32,110.68 0 0 1 1670.1,686.69M1548.62,666.46A122.39,103.88 0 0 1 1581.43,659.74M1495.84,689.26A135.28,115.03 0 0 1 1508.44,679.01M1571.15,643.31A132.96,121.78 0 0 1 1596.96,641.64M1454.48,696.02A160.36,131.81 0 0 1 1474.43,672.92M1534.43,869.15A130.81,124.26 0 0 1 1505.05,849.79M1496.4,832.47A120.78,110.43 0 0 1 1486.31,819.25M1534.22,890.93A153.51,136.96 0 0 1 1520.21,885.5M1457.66,700.71A144.63,142.58 0 0 1 1463.11,690.82M1471.12,814.77A136.95,129.51 0 0 1 1460.45,780.58M1612.54,649.02A132.18,114.36 0 0 1 1625.19,651.38M1560.35,866.56A124.19,107.82 0 0 1 1539.25,860.27M1516.05,873.12A133.48,130.6 0 0 1 1509.13,868.26M1523.36,853.29A114.47,114.56 0 0 1 1511.41,843.81M1645.59,657.67A132.19,118.61 0 0 1 1677.44,676.08M1505.34,660.28A144.64,129.77 0 0 1 1514.68,654.45M1510.6,661.12A136.47,119.69 0 0 1 1525.56,653.19M1565.77,656.92A122.6,112.46 0 0 1 1601.6,655.9M1666.71,658.72A144.2,121.46 0 0 1 1695.52,677.14M1537.95,882.68A129.4,128.97 0 0 1 1507.69,864.49M1545,865.7A120.5,111.2 0 0 1 1529.66,858.31M1504.28,828.59A118.85,107.93 0 0 1 1497.28,820.12M1592.78,648.29A113.08,110.5 0 0 1 1624.11,652.32M1565.21,624.2A147.15,137.07 0 0 1 1573.9,622.9M1453.47,769.38A140.45,123.21 0 0 1 1453.36,754.82M1582.8,649.16A129.16,111.76 0 0 1 1591.77,648.92M1526.51,659.81A136.35,115.21 0 0 1 1563.14,649.48M1483.91,820.47A120.62,114.3 0 0 1 1474.34,802.64M1657.59,645.69A153.11,132.63 0 0 1 1667.78,650.71M1668.64,654.05A137.53,130 0 0 1 1687.21,668.56M1454.96,772.08A136.93,119.83 0 0 1 1456.23,745.6M1444.21,785.35A148.79,124.37 0 0 1 1442.37,776.39M1496.05,662.39A149.56,131.11 0 0 1 1505.45,655.87M1474.71,777.23A122.09,114.25 0 0 1 1474.65,752.14M1456.17,750.86A139.06,128.62 0 0 1 1457.12,742.04M1444.96,735.13A146.78,131.73 0 0 1 1451.79,715.95M1547.81,899.9A148.1,144.54 0 0 1 1516.5,885.76M1680.11,652.9A138.08,138.05 0 0 1 1687.08,658.89M1600.04,626.06A152.98,132.85 0 0 1 1626.4,629.3M1521.31,879.71A144.01,132.02 0 0 1 1508.9,872.91M1493.29,852.17A136.58,123.06 0 0 1 1476.16,834.79M1490.22,697.05A121.63,110.74 0 0 1 1516.46,672.21M1457.45,712.17A140.57,135.91 0 0 1 1463.85,699.19" stroke="#fff" stroke-width="0.9" fill="none" opacity="0.6" stroke-linecap="round"/>
<path d="M1676.87,739.32A87.39,80.88 0 0 1 1679.95,764.67M1704.53,729.52A121.61,117.53 0 0 1 1706.57,738.22M1656.44,676.9A115.51,109.25 0 0 1 1683.5,701.62M1732.78,781.18A139.04,125.61 0 0 1 1728.89,796.58M1674.64,803.42A99.13,90.05 0 0 1 1661.43,820.69M1668.74,781.37A85.16,73.62 0 0 1 1653.46,808.38M1726.61,785.54A134.21,124.03 0 0 1 1722.77,799.78M1660.25,793.51A74.29,71.3 0 0 1 1656.09,799.99M1710.41,749.66A121.25,103.75 0 0 1 1711.18,765.74M1726.36,754.4A139.19,114.83 0 0 1 1726.41,770.81M1699.8,774.41A104.73,87.38 0 0 1 1696.2,788.54M1711.09,706.24A133.15,125.43 0 0 1 1715.96,717.34M1672.6,706.43A107.47,89.92 0 0 1 1689.01,729.29M1644.45,702.48A87.37,85.76 0 0 1 1661.48,722.34M1716.71,793.86A131.48,109.25 0 0 1 1700.11,824.48M1695.94,770.22A107.68,97.86 0 0 1 1692.61,785.37M1632.88,701.17A77.18,75.64 0 0 1 1645.49,711.04M1716.31,727.78A128.52,121.71 0 0 1 1718.64,738.3M1678.55,813.47A100.83,89.02 0 0 1 1661.3,831.8M1666.68,686.28A122.81,103.96 0 0 1 1677.07,694.68M1687.59,674.02A138.69,129.53 0 0 1 1697.83,684.71M1720.99,800.13A134.28,116.93 0 0 1 1706.56,826.32M1705.97,766.67A116.34,101.75 0 0 1 1702.84,787.99M1669.4,736.15A78.65,68.31 0 0 1 1674.13,752.66M1667.54,727.4A83.43,73.54 0 0 1 1673.89,745.19M1670.2,739.37A85.93,79.7 0 0 1 1672.93,765.89M1704.19,795.94A125.37,108.21 0 0 1 1696.03,811.33M1684.33,791.96A100.73,91.48 0 0 1 1673.94,811.35M1669.78,673.93A119.28,113.39 0 0 1 1692.47,696.93M1698.4,835.5A139.51,123.41 0 0 1 1671.96,858.36M1666.11,677.48A126.59,110.93 0 0 1 1676,684.43M1704.62,743.36A116.68,104.59 0 0 1 1707.22,774.5M1725.11,775.68A139.62,127.5 0 0 1 1720.9,795.84M1672.16,737.42A82.38,72.23 0 0 1 1676.28,753.99M1692.96,795.17A111.46,106.4 0 0 1 1676.99,824.08M1657.65,723.71A78.48,74.53 0 0 1 1668.22,753.79M1702.55,737.29A117.12,103.29 0 0 1 1704.14,769.86M1709.6,797.71A130.69,108.88 0 0 1 1698.21,817.08M1699.96,725.93A112.59,105.86 0 0 1 1706.43,759.22M1655.94,666.88A123.86,112.84 0 0 1 1674.89,680.93M1674.22,736.12A86.89,71.84 0 0 1 1681.34,755.02M1712.85,777.4A123.62,109.97 0 0 1 1711.25,785.64M1644.51,675.96A105.08,98 0 0 1 1659.72,686.08M1700.21,721.59A113.07,101.89 0 0 1 1707.49,748.45M1691.83,676.73A135.71,128.69 0 0 1 1712,705.85M1677.67,688.45A121.66,109.36 0 0 1 1689.65,700.87M1681.66,797.07A98.86,85.61 0 0 1 1666.78,816.82M1671.46,815.4A100.74,95.3 0 0 1 1657.74,830.75M1685.27,779.19A96.67,82.55 0 0 1 1678.14,798.16M1668.9,729.76A86.45,79.22 0 0 1 1673.68,739.56M1670.81,756.59A83.76,76.03 0 0 1 1668.57,785.87M1699.52,824.08A124.45,108.96 0 0 1 1672.05,849.86M1700.51,761.35A112.76,97.55 0 0 1 1699.31,776.57M1699.17,685.37A138.81,119.33 0 0 1 1719.38,714.57M1693.88,714.25A120.41,98.95 0 0 1 1697.86,720.74M1715.49,729.46A130.5,120.66 0 0 1 1719.46,746.95M1705.06,816.76A128.8,120 0 0 1 1692.89,833.87M1643.78,698.73A90.41,79.21 0 0 1 1650.07,703.37M1733.02,752.95A144.75,120.98 0 0 1 1730.42,784.17M1697.76,710.63A120.73,117.68 0 0 1 1708.58,738.11M1720.87,720.08A142.43,132.67 0 0 1 1727.26,744.75M1713.48,782.93A129.25,119.49 0 0 1 1699.89,818.36M1687.85,792.29A101.66,89.89 0 0 1 1672.14,819.01M1664.01,666.05A132.13,120.38 0 0 1 1689.33,687.84M1709.19,699.82A135.26,121.57 0 0 1 1720.18,720.01M1685.85,659.19A148.19,125.84 0 0 1 1703.14,672.74M1681.67,788.65A91.76,84.25 0 0 1 1669.06,813.08M1671.49,659.6A132.24,126.44 0 0 1 1680.11,666.27M1678.44,736.24A90.2,86.58 0 0 1 1682.85,770.58M1679.17,818.25A109.86,96.19 0 0 1 1665.57,831.85" stroke="#fff" stroke-width="0.8" fill="none" opacity="0.5" stroke-linecap="round"/>
<path d="M1518.31,755.81l-5.54,-0.17M1544.98,703.91l-4.38,-5.2M1614.59,737.83l5.37,-3.79M1597.74,680.76l1.55,-8.32M1627.94,750.17l8.94,-2.83M1596.19,692.28l0.82,-10.23M1541.97,739.68l-6.15,-2.54M1588.63,713.16l-1.11,-8.49M1614.07,708.84l2.94,-11.33M1605.37,729.79l5.06,-8.81M1535.79,752.28l-6.93,-2.28M1604.84,720.69l3.22,-5.82M1595.2,730.46l1.4,-5.85M1564.46,706.19l-5.23,-10.54M1606.56,696.48l1.67,-6.02M1678.43,730.71l7.52,-2.35M1516.94,742.35l-6.21,-1.91M1559.14,687.77l-3.7,-9.58M1665.38,721.94l5.82,-3.57M1614,735.31l6.28,-5.42M1578.57,727.56l-4.94,-9.37M1644.01,723.14l7.49,-7.28M1559.6,714.29l-5.23,-5.41M1589.26,680.83l0.63,-10.54M1569.58,733.07l-3.41,-3.88M1637.97,701.29l2.81,-2.92M1553.59,761.19l-12.1,1.44M1637.84,711.98l3.39,-2.77M1631.52,726.54l7.76,-7.13M1563.64,702.04l-1.67,-4.16M1518.77,750.09l-8.38,-0.62M1599.37,709.7l0.46,-5.84M1606.67,732.46l6.73,-8M1561.66,711.77l-3.04,-6.01M1521.46,748.68l-7.5,-2.9M1598.73,714.07l-0.4,-11.45M1534.89,694.88l-5.74,-5.82M1574.17,717.49l-2.89,-8.52M1609.04,729.63l2.14,-7.08M1641.93,735.92l9.8,-3.22M1540.17,746.61l-4.52,-0.87M1500.72,753.67l-10.19,0.84M1623.06,748.29l10.39,-2.92M1542.86,745.2l-9.99,-4.91M1610.79,720.1l1.81,-8.47M1504.8,725.42l-9.15,-3.14M1630.9,716.05l2.77,-4.02M1552.77,719.37l-4.9,-7.76M1608.15,686.87l2.36,-7.67M1611.6,718.75l3.14,-4.26M1630.93,697.55l4.28,-6.37M1608.62,708l1.34,-4.17M1638.36,728.16l4.23,-2.2M1675.56,724.83l5.63,-3.11M1618.38,730.58l5.25,-8.08M1530.48,717.36l-9.73,-4.8M1555.97,688.49l-4.61,-9.92M1614.81,730.5l3.82,-8.77M1549.96,747.7l-7.13,-2.77M1651.6,727.62l7.1,-3.97M1661.41,731.08l11.08,-4.83M1534.47,747.31l-5.52,-0.82M1598.5,705.63l0.62,-4.49M1661.55,712.64l10.19,-5.31M1579.44,705.67l0.12,-4.29M1529.35,760.58l-11.71,-1.55M1528.54,723.33l-3.78,-2.57M1587.99,719.46l-1.29,-9.22M1657.97,713.34l8.05,-8.99M1623.3,711.77l4.14,-5.25M1583.4,724.1l-2.94,-11.32M1590.16,726.7l-0.11,-5.07M1673.36,728.26l9.72,-3.21M1606.01,709.23l1.77,-7.78M1576.68,714.07l-0.66,-3.74M1548.56,709.44l-5.24,-8.27M1588.08,704.67l-1.23,-4.33M1529.96,708.31l-7.85,-6.42M1654.12,714.01l3.05,-3.22M1530.04,747.87l-4.11,-0.86M1626.04,743.53l8.34,-7.11M1623.7,703.56l1.2,-4.23M1617.21,725.72l2.06,-4.27M1568.97,694.08l-3.9,-7.13M1570.9,728.91l-4.41,-6.74M1629.93,693.16l5.35,-8.14M1595.68,712.49l1.57,-5.29M1599.43,710.13l2.49,-9.26M1547.63,758.02l-6.62,-0.8M1551.04,729.09l-8.98,-5.39M1578.7,721.8l-0.62,-4.53M1650.67,724.72l5.45,-3.44M1637.03,720.48l5.73,-4.69M1559.99,682.48l-1.17,-4.2M1603.57,717.59l5.25,-10.6M1548.05,753.32l-12.21,-1.92M1583.95,716.03l-0.65,-5.76M1618.95,726.26l8.18,-7.97M1517.94,709.36l-5.73,-3.9M1586.04,727.34l0.16,-4.92M1554.97,737.94l-4.32,-3.6M1547.15,717.34l-5.78,-6.38M1505.86,735.98l-8.76,-1.83M1631.26,742.5l8.95,-5.87M1516.61,725.11l-5.22,-2.03M1665.65,711.24l7.74,-6.5M1612.47,683.95l2.24,-4.46M1637.06,727.02l3.65,-1.9M1630.24,733.19l5.57,-6.46M1573.94,711.27l-2.48,-10.77M1573.19,729.94l-4.52,-10.85M1543.85,725.15l-10.43,-5.96M1575.39,710.73l-1.08,-8.4M1596.26,690.12l1.94,-9.91M1538.99,748.69l-11.35,-4.2M1588.91,719.44l-1.01,-7.02M1611,728.55l1.84,-5.55M1554.59,720.62l-8.43,-7.46M1625.35,747.53l7.17,-4.03M1570.81,687.33l-1.8,-6.56M1517.34,762.54l-12.72,0.18M1637.46,712.43l4.54,-7.87M1546.41,705.46l-4.09,-6.92M1552.92,748.8l-4.99,-3.07M1590.82,699.13l2.05,-9.58M1514.96,709.52l-8.27,-8.96M1528.77,762.28l-10.31,1.13M1585.08,728.76l-4.07,-10.26M1639.93,719.28l7.42,-4.49M1502.3,740.62l-5.84,-2.03" stroke="#fff" stroke-width="1.2" fill="none" opacity="0.8" stroke-linecap="round"/>
<path d="M1581.73,794.31l-2.52,28.04M1543.7,771.4l-40.43,7.44M1613.5,782.54l10.71,11.05M1591.39,825.65l-6.71,27.35M1575.87,798.79l-7.14,25.49M1557.27,777.84l-27.33,6.75M1596.72,803.83l-0.23,30.26M1529.66,755.75l-33.04,-3.32M1544.1,762.04l-28.8,-2.6M1581.73,785.14l-14.07,21.69M1568.92,794.11l-20.73,22.6M1574.58,821.55l-2.44,17.85M1648.8,781.97l27.87,13.49M1565.54,789.49l-15.89,10.97M1524.26,763.64l-21.6,4.27M1525.15,773.3l-37.47,-0.5M1593.23,795.12l0.65,36.88M1598.13,837.11l-0.03,17.23M1528.4,792.27l-34.15,8.39M1529.74,811.27l-17.56,14.08M1591.15,790.88l1.55,21.67M1654.67,798.12l22.75,10.92M1557.53,791.31l-25.15,15.05M1528.2,794.16l-36.83,10.77M1621.03,811.12l9.04,16.85M1628.93,809.4l23.1,30.7M1602.21,785.08l15.62,24.75M1564.69,813.38l-9,35.17M1601.77,785.89l15.76,29.59M1542.03,775.12l-40.42,4.89M1561.46,827.63l-8.87,22.23M1590.1,791.5l-0.33,13.52M1638.12,780.18l28.06,8.82M1530.23,772.82l-37.79,8.21M1530.74,759.06l-41.08,1.15M1620.03,791.06l26.89,26.89M1551.79,770.4l-36.58,10.38M1598.39,816.84l-2.78,32.94M1626.78,827.12l8.9,11.9M1540.82,790.31l-26.36,9.54M1576.72,803.76l-11.97,22.09M1582.17,816.35l-8.48,20.67M1639.32,782.97l30.78,21.01M1602.56,824.51l10.48,27.26M1598.9,793.95l4.54,18.51M1557.03,815.99l-16.32,18.31M1623,794.31l25.28,24.92M1568.61,782.37l-13.3,8.75M1567.32,803.95l-18.18,26.89M1606.59,835.83l1.42,18.19M1542.68,822.95l-11.37,13.39M1586.11,798.27l-0.48,34.57M1536.26,819.89l-16.59,23.33M1540.45,769.39l-32.27,-1.05M1518.88,767.75l-22.69,3.6M1617.07,783.02l26.23,18.64M1604.05,794.79l8.41,17.89M1531.74,758.51l-27.61,-7.34M1559.85,820.95l-8.32,24.62M1608.57,812.95l5.12,12.44M1584.39,789.22l-1.76,24.51M1581.75,834.42l-4.06,20.74M1588.66,791.97l2.29,26.26M1614.95,784.78l24.52,25.55M1549.62,821.72l-15.46,23.05M1578.82,802.29l-8.73,15.31M1619.63,803.97l13.69,31.26M1554.16,768.62l-38.29,5.44M1633.93,778.69l29.6,11.57M1537.62,815.68l-27.86,23.25M1523.29,761.57l-24.73,-5.33M1619.29,811.44l13.11,30.97M1583.15,799.08l-5.93,16.42M1539.58,805.35l-13.12,14.99M1584.37,815.11l-6.31,18.37M1590.4,820.34l4.02,29.74M1644.78,805.73l21.19,19.33M1541.8,759.65l-40.77,-4.72M1610.76,792.43l20.24,26.92M1576.05,804.64l-3.43,21.04M1595.71,803.19l7.05,20.23M1518.2,772.14l-18.87,0.65M1531.78,793l-30.8,17.67M1547.12,776.9l-32.08,11.02M1561.86,802.75l-7.49,15.04M1559.45,809.66l-12.1,28.96M1654.53,795.34l21.47,6.15M1566.76,787.62l-26.91,19.58M1513.74,772.82l-20.4,2.37M1565.7,787.04l-17.27,11.34M1525.33,793.05l-33.39,19.2M1552.98,826.03l-20.59,27.76M1644.24,787.28l33.39,17.76M1581.25,796.18l-11.05,20.15M1632.19,779.5l34.42,20.44M1566.59,786.83l-13.83,9.93M1617.51,801.73l11.95,25.66M1643.31,795.68l27.25,15.17M1511.88,769.97l-36.46,1.62M1606.3,827.94l-0.11,28.42M1560.95,777.2l-23.6,17.29M1532.52,801.78l-18.75,7.55M1530.43,791.22l-22.63,14.87M1551.9,778.67l-33.5,16.62M1648.08,807.33l15.62,15.64M1636.1,808.81l24.42,28.99M1517.27,754.4l-36.62,-5.55M1594.41,803.1l-5.35,33.2M1542.51,823.63l-13.46,16.97M1637.94,808.14l25.51,16.57M1576.72,801.38l-17.93,31.26M1624.48,805.39l18.07,18.65M1670.28,791.36l25.41,6.65M1560.45,807.83l-8.8,22.75M1615.18,834.43l8.12,22.5M1608.33,798.12l3.95,15.65M1594.35,825.99l9.3,33.31M1532.22,790.83l-35.34,13.51M1567.2,784.56l-17.77,17.44M1542.48,808.34l-15.97,19.74M1564.99,829.98l-6.74,19M1616.14,817.38l7.7,23.09M1569.13,817.55l-8.73,27.92M1507.97,752.23l-36.13,-7.29M1596.53,789.43l-0.26,19.81M1547.32,804.83l-25.6,15.68M1620.19,806.88l24.26,29.46M1564.52,815.48l-20.76,30.82M1514.87,796.74l-25.64,16.41M1596.65,794.77l6.96,20.68M1526.94,770.55l-29.38,0.53M1595.63,806.11l7.71,27.64M1540.07,804.33l-20.41,11.14M1532.54,803.87l-21.68,14.3M1528.05,753.74l-31.88,-1.51M1551.03,821.27l-15.08,19.76M1594.53,811.79l-2.76,25.78M1511.72,763.97l-31.79,6.69M1661.83,790.29l35.66,12.27M1596.57,811.2l-1.57,31.48" stroke="#fff" stroke-width="1.5" fill="none" opacity="0.85" stroke-linecap="round"/>
</g>
<path d="M1571.9,717.42 C1574.35,716.93 1578.59,717.42 1578.75,719.38 C1578.91,721.33 1574.18,726.39 1572.88,729.17 C1571.57,731.94 1570.59,733.74 1570.92,736.02 C1571.24,738.31 1573.37,740.75 1574.83,742.88 C1576.3,745 1578.43,746.14 1579.73,748.75 C1581.04,751.36 1581.2,755.93 1582.67,758.54 C1584.14,761.15 1586.26,762.79 1588.54,764.42 C1590.83,766.05 1593.93,766.87 1596.38,768.34 C1598.82,769.8 1599.64,772.25 1603.23,773.23 C1606.82,774.21 1613.02,773.72 1617.92,774.21 C1622.82,774.7 1627.71,775.19 1632.61,776.17 C1637.5,777.15 1644.36,778.78 1647.29,780.09 C1650.23,781.39 1651.05,782.94 1650.23,784 C1649.42,785.06 1646.15,785.96 1642.4,786.45 C1638.65,786.94 1632.61,786.7 1627.71,786.94 C1622.82,787.18 1617.92,787.59 1613.02,787.92 C1608.13,788.25 1602.42,789.22 1598.34,788.9 C1594.26,788.57 1591.81,786.94 1588.54,785.96 C1585.28,784.98 1582.02,783.68 1578.75,783.02 C1575.49,782.37 1571.9,781.88 1568.96,782.04 C1566.02,782.21 1563.9,783.84 1561.13,784 C1558.35,784.17 1554.27,783.51 1552.31,783.02 C1550.35,782.53 1551.01,782.37 1549.38,781.06 C1547.74,779.76 1543.5,777.31 1542.52,775.19 C1541.54,773.07 1543.01,771.11 1543.5,768.34 C1543.99,765.56 1545.3,761.81 1545.46,758.54 C1545.62,755.28 1544.81,751.36 1544.48,748.75 C1544.15,746.14 1542.68,744.83 1543.5,742.88 C1544.32,740.92 1547.09,739.29 1549.38,737 C1551.66,734.72 1554.76,731.62 1557.21,729.17 C1559.66,726.72 1561.62,724.27 1564.06,722.31 C1566.51,720.35 1569.45,717.91 1571.9,717.42Z" fill="#fdfdfb"/>
<path d="M1432.54,752.21 C1433.2,747.14 1434.31,739.43 1437.83,733.7 C1441.36,727.97 1447.09,722.68 1453.7,717.83 C1460.31,712.98 1468.24,709.02 1477.49,704.61 C1486.75,700.2 1503.49,692.71 1509.22,691.39 C1514.95,690.07 1515.39,693.15 1511.87,696.68 C1508.34,700.2 1496,707.26 1488.07,712.54 C1480.14,717.83 1470.88,723.12 1464.27,728.41 C1457.66,733.7 1452.37,738.54 1448.41,744.27 C1444.44,750 1442.9,759.48 1440.48,762.78 C1438.05,766.09 1435.19,765.87 1433.87,764.1 C1432.54,762.34 1431.88,757.27 1432.54,752.21Z" fill="#fbfbf6"/>
<ellipse cx="1698" cy="754" rx="3.6" ry="4.6" fill="#fbeef0" stroke="#3b7fd0" stroke-width="2"/><ellipse cx="1697.5" cy="786" rx="2.4" ry="4" fill="#fbeef0" stroke="#3b7fd0" stroke-width="1.6"/><g fill="#fff"><circle cx="1694" cy="706" r="1.6"/><circle cx="1699" cy="718" r="1.4"/><circle cx="1707" cy="783" r="1.6"/><circle cx="1697" cy="816" r="1.5"/></g>
<rect x="1667.08" y="742.16" width="50.24" height="51.03" fill="none" stroke="#1a1a1a" stroke-width="1.1"/>
<defs><clipPath id="hi3"><rect x="1354.54" y="764.1" width="140.14" height="140.93"/></clipPath></defs>
<rect x="1354.54" y="764.1" width="140.14" height="140.93" fill="#cf2c58"/>
<g clip-path="url(#hi3)">
<rect x="1354.54" y="764.1" width="140.14" height="140.93" fill="#fff" filter="url(#tex2)" opacity="0.45"/>
<rect x="1354.54" y="764.1" width="140.14" height="140.93" fill="#fff" filter="url(#tex)" opacity="0.6"/>
<path d="M1483.54,806l-1.03,8.44M1431.38,846.74l5.24,9.06M1396.01,792.19l6.5,9.1M1363.99,864.73l1.89,12.54M1399.66,882.79l-0.48,12.1M1389.98,889.32l1.95,7.27M1398.46,813.83l3.95,13.59M1386.08,833.99l3.07,4.94M1418.29,819.69l5.73,12.83M1356.9,771.24l2.32,3.46M1401.71,800.27l0.58,8.05M1370.32,834.44l-0.81,10.21M1377.34,877.58l3.88,5.96M1459.02,865.28l2.24,8.62M1365.12,835.24l1.79,5.58M1456.29,798.17l3.38,7.03M1432.37,837.56l0.66,8.89M1414.31,822.99l8.87,11.89M1396.45,871.98l0.85,14.07M1453.55,887.21l5.08,11.14M1377.36,904.97l-0.76,9.03M1436.81,798.69l2.02,11.47M1363.3,774.22l-0.19,4.36M1416.26,865.25l3.33,6.78M1463.27,820.57l5.58,8.91M1396.86,801.44l-0.16,6.29M1466.39,801.62l-0.98,11.6M1378.79,888.86l2.98,5.93M1474.5,897.02l8.62,12.31M1421.26,838l8.85,11.93M1369.48,875.79l2.24,6.53M1485.42,882.44l0.25,5.66M1431.82,783.76l3.36,14.56M1435.93,883.84l3.95,9.47M1408.99,853.53l0.99,7.61M1422.17,871.06l3.22,6.78M1453.3,891.33l5.8,10.6M1384.08,765.95l3.23,4.92M1494.03,900.13l4.58,8.08M1466.58,876.26l-0.24,5.47M1407.16,851.05l2.37,6.8M1407.84,814.07l-0.69,12.54M1404.53,840.55l4.2,10.79M1469.02,816.89l4.75,11M1359.4,809.22l4.57,8.82M1411.7,795.63l5.64,10.48M1433.34,774.07l-0.24,4.64M1397.98,790.59l1.13,5.44M1366.55,771.21l1.16,4.6M1436.61,851.17l1.5,10.55M1375.94,900.83l1,4.2M1451.39,772.16l3.6,8.76M1468.68,849.93l0.27,7.47M1475.7,817.01l0.13,7.08M1398.7,777.55l0.14,12.21M1446.28,815.31l3.67,12.65M1444.46,771.69l5.65,13.23M1452.43,901.76l1.84,4.97M1426.64,825.49l3.75,14.67M1461.29,812.12l2.04,11.94M1399.5,837.84l0.29,5.96M1401.52,815.75l1.4,9.27M1355.39,800.43l-1.13,11M1402.42,783.87l2.42,3.51M1438.02,831.06l1.53,7.78M1481.25,862.91l3.32,5.43M1411.23,880.41l2.59,4.55M1385.31,823.92l0.01,6.86M1445.38,822.95l1.56,9.59M1384.54,822.14l3.89,8.46M1367.18,846.9l2.2,15.73M1364.66,835.87l2.53,12.24M1355.36,767.7l2.75,10.36M1428.03,858.04l3.62,5.4M1405.64,808.79l-1.5,14.11M1461.69,853.84l0.19,13.54M1394.67,816.54l0.76,15.93M1452.47,899.48l1.13,11.94M1365.66,899.47l2.01,8.72M1388.23,819.83l6.89,10.3M1451.13,904.6l2.57,13.86M1471.35,861.27l6.65,10.23M1387.56,807.49l4.01,9.97M1463.41,786.4l1.71,14.9M1401.52,790.39l0.96,5.91M1377.71,904.57l4.8,12.99M1428.39,764.16l1.73,7.52M1376.07,782.94l1.21,7.04M1380.67,869.81l2.36,6.07M1365.08,805.07l2.15,7.85M1461.35,829.57l2.41,3.21M1398.39,878.16l0.22,8M1489.53,838.66l1.92,12.3M1476.1,865.58l2.97,5.09M1403.81,815.45l-1.04,8.98M1389.4,793.94l4.97,10M1357.54,800.53l0.02,5.15M1476.3,818.38l0.77,10.53M1357.46,897.38l2.42,4.77M1408.35,893.26l4.08,12.82M1399.83,807.84l3.74,5.5M1488.25,824.53l-0.07,4.89M1447.22,842.89l6.27,12.05M1436.34,816.81l2.35,6.9M1422.62,886.01l1.53,10.35M1370.19,771.56l4.98,9.51M1409.39,877.42l7.17,13.77M1362.72,858.58l3.92,13.68M1365.81,875.22l0.8,10.41M1460.56,857.79l1.59,7.7M1472.75,799.59l0.9,3.92M1380.39,794.02l-0.34,5.73M1465.58,790.95l2.29,10.88M1459.53,887.88l4.34,6.47M1437.68,881.1l1.77,15.35M1419.12,876.91l5.66,14.83M1373.41,890.63l5.23,9.51M1480.54,869.49l-0.89,13.51M1456.75,901.34l1.25,13.46M1358.28,895.51l-0.55,8.91M1366.5,828.6l2.41,6M1452.8,850.55l2.77,15.38M1383.08,889.53l1.06,7.05M1492.11,847.49l2.8,3.78M1436.08,902.45l2.66,3.84M1455.15,851.85l0.07,4.62M1429.76,822.67l6.76,13.38M1479.21,856.29l0.18,13.62M1431.89,899.2l8.29,12.11M1412.63,804.7l3.65,14.29M1445.06,867.61l1.01,8.06M1465.17,847.71l3.11,5.19M1369.64,825.28l5.44,9.39M1370.33,871.78l-0.26,13.7M1393.34,861.84l3.12,8.01M1374.77,875.69l1.95,6.08M1393.75,793.8l3.61,13.74M1494.47,836.83l6.89,11.8M1467.56,778.08l1.37,11.17M1433.78,779.31l-0.48,10.26M1426.46,795.04l4.67,10.08M1389.12,857.69l1.03,15.66M1456.27,833.57l0.56,8.39M1488.03,817.99l6.27,13.54M1446.5,785.82l2.97,6.97M1357.98,769.03l-0.72,11.18M1373.46,832.42l0,6.03M1392.15,833.95l5.09,15.09M1406.65,849.55l3.56,5.65M1478.28,797.75l7.79,10.45M1489.46,809.28l4.08,9.13M1425.26,817.93l1.76,13.74M1355.17,821.4l3.54,13.45M1364.17,900.8l1.95,4.71M1408.04,773.38l1.65,4.01M1400.12,820.33l2.1,14.65M1433.29,879.28l2.79,5.35M1470.21,876.45l4.04,12.63M1362.24,883.68l3.99,8.47M1366.84,885.65l-0.04,4.84M1439.87,795.26l3.13,10.2M1488.68,828.64l4.9,7.86M1433.5,765.12l-0.86,13.24M1436.77,803.52l2.85,7.98M1485.32,793.95l0.39,14.27M1388.47,898.55l-0.27,11.84M1480.62,830.91l4.38,7.28M1403.86,897.18l2.64,11.6M1370.93,817.09l-0.05,4.93M1364.45,813.29l4.22,9.41M1486.79,873.27l1.09,9.71M1420.87,838.21l-0.05,13.57M1401.68,776.01l3.52,8.66M1493.3,790.13l6.13,8.81M1366.15,846.54l5.37,11.53M1412.12,801.61l0.89,7.88M1407.56,876.51l7.31,11.63M1416.94,889.39l2.96,5.69M1379.82,795.89l5.11,9.27M1467.21,784.67l4.16,14.43M1430.56,892.57l0.26,4.06M1398.02,885.69l4.85,13.21M1432.98,769.97l2.54,4.91M1417.85,878.64l1.04,3.98M1469.64,765.01l-0.48,11.79M1410.55,813.54l3.64,7.89M1426.39,902.87l6.18,12.47M1478.52,853.59l-0.49,11.49M1476.66,780.45l4.17,12.17M1484.2,792.86l1.65,9.61M1391.91,834.71l1.26,4.92M1452.97,845.57l0.91,6.76M1358.07,840.22l-1.28,10.93M1386.7,858.09l3.14,4.4M1368.56,790l-0.7,10.99M1449.34,820.15l6.44,9.74M1399.44,792.64l8.3,12.23M1458.26,816.16l7.28,13.97M1489.46,841.18l4.54,13.12M1434.45,812.66l-1.51,14.99M1391.31,901.91l-0.11,15.86M1488.53,807.47l0.19,6.25M1379.64,799.91l3.2,7.27M1472.77,853.58l8.21,11.17M1377.47,874.55l6.79,13.92M1444.28,851.03l5.96,12.9M1365.33,880.65l1.9,8.7M1411.06,767.49l2.57,9.37M1406.61,792.36l1.86,9.24M1384.71,796.34l2.1,3.73M1454.91,789.8l1.05,8.45M1368.99,794.67l0.71,7.86M1433.23,776.09l-0.79,9.45M1467.01,795.28l-0.52,6.77M1450.57,890.56l0.85,5.24M1476.33,874.49l1.41,11.36M1362.16,806.54l2.59,6.29M1467.01,782.09l2.62,5.5M1378.77,887.34l2.63,3.71M1462.48,806.32l2.44,5.45M1439.46,779.8l3.63,11.06M1354.69,826.02l2.3,3.81M1465.75,767.55l7.47,13.55M1361.13,825.93l1.12,10.76M1490.43,824.49l-0.23,7.13M1408.77,904.34l3.52,10.65M1473.3,887.66l-0.25,4.27M1405.49,896.27l2.4,6.31M1389.17,882.87l1.81,8.41M1381.13,801.97l4.35,8.9M1362.36,839.64l2.41,12.76M1431.06,871.34l6.89,12.16M1384.39,812.76l0.95,5.18M1469,878.47l0.76,7.92M1380.24,791.17l5.26,10.3M1387.74,843.69l0.81,14.59M1459.22,810.31l1.35,15.34M1446.07,775.86l2.27,9.41M1356.67,805.05l-0.1,9.67M1483.73,884.37l2.91,10.02M1380.11,856.16l5.31,8.99M1421.74,862.24l1.54,14.99M1479.68,882.54l4.74,8.04M1453.14,823.29l6.65,8.84M1369.72,767.47l3.33,5.88M1385.59,821.23l0.82,11.24M1410.61,817.39l2.35,7.79M1478.82,820.03l0.77,10.62M1416.04,847.34l0.44,9.68M1447.43,804.22l0.86,6.7M1394.37,895.64l1.32,11.6M1396.55,844.93l2.68,6.05M1444.65,782.88l6.97,9.7M1404.54,812.16l2.33,14.35M1446.32,781.72l0.64,10.53M1484.86,779.08l1.82,4.64M1396.81,829.06l2.43,7.79M1458.14,895.41l1.92,9.32M1466.78,850.62l1.22,6.93M1432.73,861.82l5.78,9.43M1439.02,844.54l1.65,15.04M1487.26,896.02l0.04,5.92M1455.24,865.27l2.25,9.13M1407.65,817.23l2.11,6.07M1468.03,846.48l-1.01,10.1M1489.43,898.71l5.59,8.72M1442.66,892.78l4.18,12.46M1389.86,814.23l3.67,10.55M1391.54,787.07l3.52,4.88M1476.42,884.26l3.76,8.66M1411.03,843.3l2,4.02M1432.56,899.83l0.1,11.37M1371.28,822.9l4.17,15.29M1441.45,864.73l3.62,12.42M1379.54,902.39l-0.99,12.04M1411.83,884.48l4.12,5.55M1440.69,880.26l5.17,11.21M1481.85,876.2l3.41,13.15M1477.16,828.7l3.62,7.23M1406.25,899.05l6.85,9.21M1379.81,788.38l3.2,8.54M1461.3,801.13l0.54,4.56M1403.27,808.97l5.26,8.86M1403.37,804.63l5.58,12.08M1407.72,860.37l1.49,13.72M1470.49,860.45l2.01,7.78M1487.77,775.53l2.81,4.42M1410.32,889.19l-0.89,12.17M1485.4,797.33l1.77,7.85M1431.74,888.72l5.07,8.81M1365.57,781.02l3.72,9.32M1358.74,881.68l7.88,10.65M1395.91,814.85l0.09,4.38M1419.5,785.94l0.95,12.76M1383.8,876.55l2.95,5.04M1378.19,822.54l-0.52,7.34M1416.04,839.62l-0.06,6.47M1401.49,784.48l-0.99,12.9M1424.8,814.32l1.61,8.17M1404.64,860.99l2.92,4.31M1379.51,904.8l4.55,7.87M1412.3,830.42l1.5,12.67M1472.77,793.37l-1.18,11.7M1452.52,810.58l0.89,4.12M1474.92,817.33l1.53,10.6M1436.26,801.79l0.65,6.45M1479.36,830.88l-0.25,4.4M1360.32,773.18l1.3,4.9M1430.22,783.46l6.18,9.72M1482.2,862.84l5.91,8.62M1485.83,792.85l-0.91,14.07M1463.46,848.72l1.97,4.99M1374.53,773.3l-0.51,12.84M1412.55,886.14l2.87,11.87M1361.56,896.81l3.55,7.62M1408.29,829.83l0.97,7.15M1436.65,830.53l6.23,12.26M1372.36,845.91l5.7,11.98M1391.22,856.15l3.53,10.67M1430.97,827.06l1.13,13.61M1359.83,773.83l3.31,12.7M1457.9,863.65l3.87,9.57M1433.48,778.14l0.59,4.29M1427.41,826.71l3.81,13.64M1454.45,848.64l3.35,11.66M1445.57,800.02l1.82,5.7M1485.86,825.91l3.03,14.28M1414.87,822.2l5.5,7.94M1405.77,842.15l1.2,10.41M1391.8,887.47l0.5,6.44M1476.26,823.74l5.95,9.17M1431.36,848.82l0.96,7.73M1481.47,775.28l7.62,10.55M1372.8,846.38l3.99,7.12M1402.96,837.56l6.01,9.98M1441.85,800.32l-1.1,9.51M1359.15,899.2l3.46,10.28M1462.4,880.75l1.53,14.94M1485.27,902.22l1.68,7.68M1402.48,855.51l1.07,11.53M1364.29,803.36l4.27,12.32M1437.8,864.64l-0.99,12.07M1460.69,803.77l1.27,14.39M1451.13,804.94l-0.58,8.62M1436.15,815.94l4,13.49M1438.19,890.24l-0.05,4.89M1481.1,897.07l6.23,12.09M1449.42,854.57l7.19,12.74M1406.23,830.3l3.68,5.12M1487.49,805.48l-0.48,6.38M1456.09,826.49l0.54,4.04M1439.72,831.8l4.8,10.72M1376.2,802.82l6.5,9.82M1370.43,890.65l-0.7,6.62M1482.13,765.6l1.62,12.97M1466.19,850.83l6.62,12.15M1461.96,812.88l2.7,7.28M1454.8,776.77l0.43,9.92M1416.35,825.91l2.83,7.78M1421.02,779.61l4.5,9.59M1417.79,769.72l2.61,9.16M1400.53,772.08l4.29,13.94M1384.64,770.85l4.41,8.12M1435.66,826.15l0.6,11.95M1478.13,903l-0.21,6.61M1380.77,866.01l-1.11,14.17M1461.43,798.41l3,10.7M1449.29,848.76l0.84,6.38M1420.7,830.1l3.34,5.21M1445.15,828.56l4.47,14.54M1478.35,842.38l2.33,13.31M1491.58,850.06l1.41,4.86M1460.06,770.62l2.59,5.77M1475.36,852.83l0.84,4.05M1387.96,895.85l4.44,7.35M1393.79,783.91l6.8,11.12M1419.81,804.08l0.3,9.42M1445.27,784.54l4.6,6.19M1360.52,886.09l1.75,5.1M1462.26,800.8l0.44,11.42M1468.32,779.99l0.34,6.45M1486.56,876.81l4.19,5.7M1482.91,844.76l3.66,10.92M1367.17,836.15l4.93,15.22M1355.13,853.17l2.8,8.29M1428.56,871.32l5.75,10.42M1435.28,776.93l2.73,10.69M1423.98,792.85l2.47,7.24M1456.24,791.74l3.69,5.96M1438.06,770.45l4.48,6.87M1391.43,882.1l1.26,10.96M1417.37,791.83l5.49,14.46M1476.75,842.47l0.37,10.65M1456.22,767.53l-0.24,15.2M1453.77,880.86l1.1,5.64M1389.7,820.07l1.74,8.76M1355.22,853.16l2.17,8M1439.42,849.08l1.38,12.27M1489.9,875.78l-0.09,4.6M1456.55,801.43l-0.14,5.85M1406.27,837.31l7.01,10.02M1482.22,785.95l3.01,5.89M1389.09,842.94l6.7,9.29M1465.41,804.89l1,6.92M1451.2,812.81l2.81,4.5M1391.79,864.16l-0.42,4.34M1466.54,787.09l-0.15,9.66M1390.11,882.16l0.35,9.05M1406.98,862.62l5.26,14.42M1487.28,848.16l0.05,5.48M1415.01,819.92l2.7,7.4M1470.45,792.11l2.19,3.39M1444.89,769.04l-0.64,11.26M1386.45,819.48l-0.14,5.64M1429.64,831.23l3.3,13.79M1390.04,841.53l4.92,8.59M1365.4,780.48l2.81,12.53M1431.97,768.2l2.15,13.82M1472.63,770.55l0.29,4.25M1454.89,829.47l4.52,6.7" stroke="#fff" stroke-width="0.9" opacity="0.62" fill="none" stroke-linecap="round"/>
<path d="M1484.9,764.1 C1485.79,759.32 1493.54,747.66 1494.68,764.1 C1495.82,780.55 1496.69,888.59 1494.68,905.03 C1492.67,921.48 1478.73,910.53 1477.49,905.03 C1476.26,899.54 1482.99,869.63 1484.1,857.97 C1485.21,846.31 1486.92,816.04 1487.01,805.09 C1487.1,794.14 1484,768.89 1484.9,764.1Z" fill="#fbfbef"/>
<path d="M1354.54,868.55 C1355.16,866.45 1358.6,882.8 1359.83,887.05 C1361.06,891.31 1365.74,902.94 1365.12,905.03 C1364.5,907.13 1355.78,909.29 1354.54,905.03 C1353.31,900.78 1353.93,870.64 1354.54,868.55Z" fill="#fbfbef"/>
<ellipse cx="1442" cy="799" rx="11" ry="13" fill="#fbeef0" stroke="#3b7fd0" stroke-width="6" transform="rotate(-25 1442 799)"/><path d="M1432,812 c-4,6 -6,10 -8,16" stroke="#3b7fd0" stroke-width="3" fill="none"/><ellipse cx="1440" cy="886" rx="7" ry="12" fill="#fbeef0" stroke="#3b7fd0" stroke-width="4"/><ellipse cx="1463" cy="882" rx="4" ry="5.4" fill="#fff"/><ellipse cx="1462" cy="767" rx="4" ry="3" fill="#fff"/>
</g>
<rect x="1354.54" y="764.1" width="140.14" height="140.93" fill="none" stroke="#111" stroke-width="1.6"/>
</g>
<defs><radialGradient id="hb4" cx="0.68" cy="0.78" r="1.0"><stop offset="0" stop-color="#fdfde8"/><stop offset="0.45" stop-color="#f7f8e8"/><stop offset="0.7" stop-color="#eaeede"/><stop offset="1" stop-color="#c6d2c6"/></radialGradient>
<clipPath id="hc4"><rect x="1353" y="915.6" width="415.5" height="277.1"/></clipPath>
<clipPath id="ho4"><path d="M1416.68,1042.49 C1415.36,1033.68 1417.12,1028.39 1419.32,1021.34 C1421.53,1014.29 1425.49,1006.8 1429.9,1000.19 C1434.31,993.58 1439.59,987.85 1445.76,981.68 C1451.93,975.51 1459.43,968.9 1466.92,963.17 C1474.41,957.44 1482.34,952.15 1490.71,947.31 C1499.09,942.46 1507.9,937.83 1517.15,934.09 C1526.41,930.34 1536.55,927.03 1546.24,924.83 C1555.94,922.63 1565.63,921.31 1575.33,920.86 C1585.02,920.42 1595.16,920.42 1604.41,922.19 C1613.66,923.95 1622.48,927.25 1630.85,931.44 C1639.22,935.63 1647.16,941.58 1654.65,947.31 C1662.14,953.03 1669.19,959.2 1675.8,965.81 C1682.41,972.42 1688.58,979.48 1694.31,986.97 C1700.04,994.46 1705.77,1002.83 1710.17,1010.76 C1714.58,1018.7 1718.46,1026.63 1720.75,1034.56 C1723.04,1042.49 1723.92,1050.43 1723.92,1058.36 C1723.92,1066.29 1723.04,1074.22 1720.75,1082.15 C1718.46,1090.09 1714.58,1098.02 1710.17,1105.95 C1705.77,1113.88 1700.48,1122.26 1694.31,1129.75 C1688.14,1137.24 1680.65,1144.73 1673.16,1150.9 C1665.67,1157.07 1657.73,1162.14 1649.36,1166.77 C1640.99,1171.39 1632.17,1175.58 1622.92,1178.66 C1613.66,1181.75 1603.53,1183.73 1593.83,1185.27 C1584.14,1186.82 1574.44,1188.36 1564.75,1187.92 C1555.05,1187.48 1544.48,1185.72 1535.66,1182.63 C1526.85,1179.55 1519.36,1174.7 1511.87,1169.41 C1504.38,1164.12 1498.21,1157.51 1490.71,1150.9 C1483.22,1144.29 1474.41,1137.68 1466.92,1129.75 C1459.43,1121.82 1452.37,1112.56 1445.76,1103.31 C1439.15,1094.05 1432.1,1084.36 1427.26,1074.22 C1422.41,1064.09 1418,1051.31 1416.68,1042.49Z"/></clipPath>
<radialGradient id="hg4" cx="0.5" cy="0.5" r="0.6"><stop offset="0" stop-color="#a02c66"/><stop offset="0.55" stop-color="#bb2c5a"/><stop offset="1" stop-color="#bb2c5a"/></radialGradient></defs>
<g clip-path="url(#hc4)">
<rect x="1353" y="915.6" width="415.5" height="277.1" fill="url(#hb4)"/>
<path d="M1416.68,1042.49 C1415.36,1033.68 1417.12,1028.39 1419.32,1021.34 C1421.53,1014.29 1425.49,1006.8 1429.9,1000.19 C1434.31,993.58 1439.59,987.85 1445.76,981.68 C1451.93,975.51 1459.43,968.9 1466.92,963.17 C1474.41,957.44 1482.34,952.15 1490.71,947.31 C1499.09,942.46 1507.9,937.83 1517.15,934.09 C1526.41,930.34 1536.55,927.03 1546.24,924.83 C1555.94,922.63 1565.63,921.31 1575.33,920.86 C1585.02,920.42 1595.16,920.42 1604.41,922.19 C1613.66,923.95 1622.48,927.25 1630.85,931.44 C1639.22,935.63 1647.16,941.58 1654.65,947.31 C1662.14,953.03 1669.19,959.2 1675.8,965.81 C1682.41,972.42 1688.58,979.48 1694.31,986.97 C1700.04,994.46 1705.77,1002.83 1710.17,1010.76 C1714.58,1018.7 1718.46,1026.63 1720.75,1034.56 C1723.04,1042.49 1723.92,1050.43 1723.92,1058.36 C1723.92,1066.29 1723.04,1074.22 1720.75,1082.15 C1718.46,1090.09 1714.58,1098.02 1710.17,1105.95 C1705.77,1113.88 1700.48,1122.26 1694.31,1129.75 C1688.14,1137.24 1680.65,1144.73 1673.16,1150.9 C1665.67,1157.07 1657.73,1162.14 1649.36,1166.77 C1640.99,1171.39 1632.17,1175.58 1622.92,1178.66 C1613.66,1181.75 1603.53,1183.73 1593.83,1185.27 C1584.14,1186.82 1574.44,1188.36 1564.75,1187.92 C1555.05,1187.48 1544.48,1185.72 1535.66,1182.63 C1526.85,1179.55 1519.36,1174.7 1511.87,1169.41 C1504.38,1164.12 1498.21,1157.51 1490.71,1150.9 C1483.22,1144.29 1474.41,1137.68 1466.92,1129.75 C1459.43,1121.82 1452.37,1112.56 1445.76,1103.31 C1439.15,1094.05 1432.1,1084.36 1427.26,1074.22 C1422.41,1064.09 1418,1051.31 1416.68,1042.49Z" fill="url(#hg4)"/>
<path d="M1416.68,1042.49 C1415.36,1033.68 1417.12,1028.39 1419.32,1021.34 C1421.53,1014.29 1425.49,1006.8 1429.9,1000.19 C1434.31,993.58 1439.59,987.85 1445.76,981.68 C1451.93,975.51 1459.43,968.9 1466.92,963.17 C1474.41,957.44 1482.34,952.15 1490.71,947.31 C1499.09,942.46 1507.9,937.83 1517.15,934.09 C1526.41,930.34 1536.55,927.03 1546.24,924.83 C1555.94,922.63 1565.63,921.31 1575.33,920.86 C1585.02,920.42 1595.16,920.42 1604.41,922.19 C1613.66,923.95 1622.48,927.25 1630.85,931.44 C1639.22,935.63 1647.16,941.58 1654.65,947.31 C1662.14,953.03 1669.19,959.2 1675.8,965.81 C1682.41,972.42 1688.58,979.48 1694.31,986.97 C1700.04,994.46 1705.77,1002.83 1710.17,1010.76 C1714.58,1018.7 1718.46,1026.63 1720.75,1034.56 C1723.04,1042.49 1723.92,1050.43 1723.92,1058.36 C1723.92,1066.29 1723.04,1074.22 1720.75,1082.15 C1718.46,1090.09 1714.58,1098.02 1710.17,1105.95 C1705.77,1113.88 1700.48,1122.26 1694.31,1129.75 C1688.14,1137.24 1680.65,1144.73 1673.16,1150.9 C1665.67,1157.07 1657.73,1162.14 1649.36,1166.77 C1640.99,1171.39 1632.17,1175.58 1622.92,1178.66 C1613.66,1181.75 1603.53,1183.73 1593.83,1185.27 C1584.14,1186.82 1574.44,1188.36 1564.75,1187.92 C1555.05,1187.48 1544.48,1185.72 1535.66,1182.63 C1526.85,1179.55 1519.36,1174.7 1511.87,1169.41 C1504.38,1164.12 1498.21,1157.51 1490.71,1150.9 C1483.22,1144.29 1474.41,1137.68 1466.92,1129.75 C1459.43,1121.82 1452.37,1112.56 1445.76,1103.31 C1439.15,1094.05 1432.1,1084.36 1427.26,1074.22 C1422.41,1064.09 1418,1051.31 1416.68,1042.49Z" fill="#fff" filter="url(#tex2)" opacity="0.5"/>
<path d="M1416.68,1042.49 C1415.36,1033.68 1417.12,1028.39 1419.32,1021.34 C1421.53,1014.29 1425.49,1006.8 1429.9,1000.19 C1434.31,993.58 1439.59,987.85 1445.76,981.68 C1451.93,975.51 1459.43,968.9 1466.92,963.17 C1474.41,957.44 1482.34,952.15 1490.71,947.31 C1499.09,942.46 1507.9,937.83 1517.15,934.09 C1526.41,930.34 1536.55,927.03 1546.24,924.83 C1555.94,922.63 1565.63,921.31 1575.33,920.86 C1585.02,920.42 1595.16,920.42 1604.41,922.19 C1613.66,923.95 1622.48,927.25 1630.85,931.44 C1639.22,935.63 1647.16,941.58 1654.65,947.31 C1662.14,953.03 1669.19,959.2 1675.8,965.81 C1682.41,972.42 1688.58,979.48 1694.31,986.97 C1700.04,994.46 1705.77,1002.83 1710.17,1010.76 C1714.58,1018.7 1718.46,1026.63 1720.75,1034.56 C1723.04,1042.49 1723.92,1050.43 1723.92,1058.36 C1723.92,1066.29 1723.04,1074.22 1720.75,1082.15 C1718.46,1090.09 1714.58,1098.02 1710.17,1105.95 C1705.77,1113.88 1700.48,1122.26 1694.31,1129.75 C1688.14,1137.24 1680.65,1144.73 1673.16,1150.9 C1665.67,1157.07 1657.73,1162.14 1649.36,1166.77 C1640.99,1171.39 1632.17,1175.58 1622.92,1178.66 C1613.66,1181.75 1603.53,1183.73 1593.83,1185.27 C1584.14,1186.82 1574.44,1188.36 1564.75,1187.92 C1555.05,1187.48 1544.48,1185.72 1535.66,1182.63 C1526.85,1179.55 1519.36,1174.7 1511.87,1169.41 C1504.38,1164.12 1498.21,1157.51 1490.71,1150.9 C1483.22,1144.29 1474.41,1137.68 1466.92,1129.75 C1459.43,1121.82 1452.37,1112.56 1445.76,1103.31 C1439.15,1094.05 1432.1,1084.36 1427.26,1074.22 C1422.41,1064.09 1418,1051.31 1416.68,1042.49Z" fill="#fff" filter="url(#tex)" opacity="0.55"/>
<g clip-path="url(#ho4)">
<ellipse cx="1551.53" cy="992.26" rx="68.75" ry="37.02" fill="#9a2c6a" opacity="0.5" filter="url(#blur6)"/>
<ellipse cx="1525.09" cy="1116.53" rx="52.88" ry="42.31" fill="#a02c66" opacity="0.4" filter="url(#blur6)"/>
<ellipse cx="1683.73" cy="1042.49" rx="29.09" ry="52.88" fill="#8a3070" opacity="0.35" filter="url(#blur6)"/>
<path d="M1542.09,1075.58A59.33,52.96 0 0 1 1538.07,1061.33M1532.14,1072.87A66.51,58.08 0 0 1 1527.88,1054.75M1605.72,1103.46A54.47,43.42 0 0 1 1571.8,1098.86M1531.64,1047.73A63.31,53.97 0 0 1 1533.43,1040.38M1562.96,1092.05A58.11,50.12 0 0 1 1549.08,1079.35M1543.81,1061.04A56.18,51.88 0 0 1 1543.65,1043.88M1523.83,1057.02A75.1,69.12 0 0 1 1525.94,1041.86M1679.22,1073.78A83.44,78.23 0 0 1 1665.63,1101.11M1587.81,1115.37A67.43,59.77 0 0 1 1562.74,1107.99M1559.83,1142.05A91.27,88.7 0 0 1 1542.63,1132.99M1524.64,1086.93A77.31,68.84 0 0 1 1521.56,1080.62M1616.37,1138.67A93.35,87.23 0 0 1 1603.27,1140.68M1565.19,1091.97A50.19,47.64 0 0 1 1552.71,1074.71M1571.04,1113.99A66.26,62.05 0 0 1 1549.18,1099.58M1529.74,1102.62A86.99,74.92 0 0 1 1515.61,1084.71M1626.26,1104.14A64.57,58.06 0 0 1 1612.97,1108.66M1542.98,1048.3A57.56,51.67 0 0 1 1560.71,1022.21M1531.11,1056.27A64.51,58.07 0 0 1 1536.15,1030.48M1584.45,1129.42A81.59,69.96 0 0 1 1570.33,1126.11M1516.74,1038.12A84.97,75.72 0 0 1 1519.29,1031.12M1506.35,1035.54A99.01,85.86 0 0 1 1511.64,1021.52M1544.81,1036.78A55.1,52.08 0 0 1 1554.82,1018.8M1522.89,1107.48A95.75,86.53 0 0 1 1508.51,1079.73M1545.65,1063.3A56.54,50.91 0 0 1 1544.75,1049.63M1542.54,1108.55A76.78,68.22 0 0 1 1523.82,1082.4M1581.18,1129.89A87.26,75.37 0 0 1 1566.73,1126.24M1556.45,1105.1A70.69,60.53 0 0 1 1539.48,1091.19M1663.74,1095.09A75.35,65.65 0 0 1 1654.41,1105.53M1514.39,1064.16A80.15,68.09 0 0 1 1516.17,1033.12M1602.33,1123.13A81.11,67.05 0 0 1 1593.47,1123.48M1552.64,1103.1A68.33,60.24 0 0 1 1534.89,1079.82M1529.22,1110.36A96.78,85.4 0 0 1 1521.3,1101.8M1602.25,1133.69A94.37,82.22 0 0 1 1586.66,1132.58M1627.97,1100.4A54.63,51.03 0 0 1 1597.41,1111.5M1658.06,1068.92A66.5,64.99 0 0 1 1647.58,1090.14M1561.97,1102.68A61.92,60.78 0 0 1 1549.67,1092.07M1538.04,1042.26A66.39,57.03 0 0 1 1541.68,1034.48M1547.7,1075.4A50.36,48.24 0 0 1 1545.59,1049.89M1644.67,1083.52A51.8,42.55 0 0 1 1630.97,1094.83M1661.48,1122.44A96.54,89.87 0 0 1 1638.3,1136.42M1533.21,1045A63.9,54.84 0 0 1 1548.84,1019.2M1568.06,1089.4A53.39,46.24 0 0 1 1559.91,1082.65M1518.41,1027.94A84.82,72.13 0 0 1 1535.17,1006.44M1571.63,1119.11A77.08,71 0 0 1 1560.79,1114.26M1514.71,1047.71A82.71,73.67 0 0 1 1521.59,1025.56M1549.98,1109.93A73.54,67.04 0 0 1 1538.61,1100.14M1559.48,1090.1A53.26,50.83 0 0 1 1551.32,1081.73M1567.58,1119.99A75.16,64.54 0 0 1 1549.25,1111.14M1519.22,1051.29A74.9,68.94 0 0 1 1523.4,1028.6M1542.07,1132.11A101.19,90.06 0 0 1 1530.97,1124.41M1628.65,1122.07A82.91,74.87 0 0 1 1614.89,1126.47M1552.76,1088.62A57.09,54.69 0 0 1 1541.81,1063.85M1635.05,1095.65A56.13,49.33 0 0 1 1621.53,1102.41M1509.53,1026.74A98.07,81.38 0 0 1 1529.29,1000.83M1567.18,1094.12A51.79,49.67 0 0 1 1554.39,1078.73M1624.17,1126.9A82.98,75.49 0 0 1 1610.99,1129.74M1551.83,1120.93A88.28,79.24 0 0 1 1542.22,1114.25M1663.27,1063.87A67.71,60.72 0 0 1 1648.9,1090.78M1613.83,1098.87A54.12,44.8 0 0 1 1589.91,1100.41M1551.09,1038.04A50.12,48.94 0 0 1 1559.16,1024.71M1532.76,1065.1A65.67,56.14 0 0 1 1532.52,1044.1M1502.52,1087.11A103.28,87.75 0 0 1 1498.35,1071.88M1628.82,1112.2A70.4,61.46 0 0 1 1603.07,1119.71M1650.39,1116.77A81.24,70.24 0 0 1 1627.38,1127.18M1631.12,1142.31A96.42,88.59 0 0 1 1606.33,1148.12M1593.22,1104.98A52.78,46.58 0 0 1 1585.19,1103.14M1531.2,1095.84A75.71,67.43 0 0 1 1526.2,1087.92M1603.43,1112.29A59.74,54.6 0 0 1 1583.34,1111.81M1521.94,1064.84A79.79,69.58 0 0 1 1521.74,1056.71M1547.79,1057.11A52.38,51.88 0 0 1 1555.8,1028.35M1684.22,1079.73A87.59,75.55 0 0 1 1679.53,1089.06M1609.36,1104.32A52.65,49.75 0 0 1 1578.3,1100.6M1608.94,1111.49A58.91,53.98 0 0 1 1581.65,1110.02M1591.24,1115.21A72.68,63.28 0 0 1 1576.59,1112.16M1558.73,1089.5A55.46,49.11 0 0 1 1544.76,1065.43M1536.64,1067A59.49,49.46 0 0 1 1537.15,1046.35M1523.77,1105.97A87.05,80.35 0 0 1 1518.44,1097.85M1562.87,1116.45A78.63,69.64 0 0 1 1555.92,1112.58M1605.8,1110.23A67.23,59.08 0 0 1 1598.31,1110.85M1555.23,1095.07A63.32,54.22 0 0 1 1538.4,1079.17M1557.21,1112.11A82.05,71.32 0 0 1 1550.04,1107.47M1529.19,1099.06A83.95,79.93 0 0 1 1517.1,1075.53M1579.87,1106.62A65.29,56.4 0 0 1 1560.17,1097.13M1526.34,1110.67A100.7,88.15 0 0 1 1520.15,1103.81M1546.26,1041.14A59.24,55.73 0 0 1 1556.6,1023.07M1579.45,1126.15A89.43,75.29 0 0 1 1567.03,1122.63M1643.93,1104.27A70.81,60.6 0 0 1 1630.15,1112.96M1523.71,1099.05A90.73,82.38 0 0 1 1512.46,1079.61M1516.86,1101.63A88.52,84.29 0 0 1 1508.42,1081.06M1666.45,1068.71A69.65,59.24 0 0 1 1659.54,1085.1M1507.14,1040.46A95.78,83.47 0 0 1 1520.71,1012.59M1660.1,1080.94A71.05,64.57 0 0 1 1641.26,1103.33M1513.06,1045.13A86.95,80.53 0 0 1 1523.48,1019.43M1669.04,1088.43A75,67.58 0 0 1 1656.55,1104.64M1549.76,1036.57A50.9,45.58 0 0 1 1556.01,1026.72M1592.06,1129A72.72,70.3 0 0 1 1584.49,1128.41M1562.89,1112.99A67.63,62.36 0 0 1 1542.79,1097.24M1605.19,1122.71A73.74,66.11 0 0 1 1583.32,1120.97M1545.85,1106.71A74.38,62.21 0 0 1 1529.22,1089.92M1635.71,1097.96A68.72,57.87 0 0 1 1612.44,1108.16M1517.59,1018.71A90.34,84.05 0 0 1 1527.54,1002.46M1503.1,1068.97A97.67,84.02 0 0 1 1502.37,1045.05M1575.83,1096.05A55.56,47.13 0 0 1 1566.16,1092.3M1610.61,1110.35A68.24,58.21 0 0 1 1575.81,1106.12M1569.95,1134.58A89.39,81.04 0 0 1 1554.8,1128.8M1533.93,1036.65A62.48,57.65 0 0 1 1552.84,1011.61M1542.13,1038.57A54.89,50.61 0 0 1 1560.02,1013.44M1540.34,1090.41A69.08,56.23 0 0 1 1527.52,1068.66M1582.94,1119.26A73.38,67.97 0 0 1 1573.49,1116.15M1556.15,1071.04A48.33,42.46 0 0 1 1554.49,1052.83M1602.48,1144.95A93.75,87.81 0 0 1 1577.24,1143.64M1536.39,1036.78A67.58,58.89 0 0 1 1541.76,1025.53M1542.61,1064.97A58.6,52.35 0 0 1 1545.59,1036.89M1612.54,1124.1A74.04,72.31 0 0 1 1599.43,1125.16M1633.34,1092.88A54.77,47.43 0 0 1 1620.45,1099.03M1529.99,1056.64A66.6,56.67 0 0 1 1529.83,1048.41M1512.04,1096.01A97.35,81.28 0 0 1 1501.48,1070.95M1674.13,1106.78A93.03,84.26 0 0 1 1659.55,1121.05M1570.03,1136.07A90.38,81.52 0 0 1 1543.19,1122.64M1538.75,1115.11A95.91,80.24 0 0 1 1525.3,1102.95M1681.32,1094.34A92.91,79.8 0 0 1 1667.47,1112.14M1508.46,1093.6A98.87,84.36 0 0 1 1502.35,1079.02M1532.31,1043.32A63.96,58.57 0 0 1 1548.22,1015.02M1654.02,1089.17A69,61.76 0 0 1 1643.67,1101.85M1589.18,1131.83A86.81,80.63 0 0 1 1562.29,1126.34M1531.67,1047.91A66.45,62.22 0 0 1 1536.68,1032.61M1506.45,1086.78A101.53,85.01 0 0 1 1500.93,1063.07M1531.12,1105.34A78.74,75.97 0 0 1 1517.02,1076.29M1616.02,1137.7A89.48,83.91 0 0 1 1608.04,1139.32M1513.38,1090.38A95.02,94.47 0 0 1 1505.83,1056.92M1615.08,1141.96A97.54,88.45 0 0 1 1589.35,1142.02M1681.7,1088.56A91.14,83.97 0 0 1 1668.7,1108.24M1661.98,1096.25A78.29,72.61 0 0 1 1641.71,1114.9M1551.08,1089.12A57.76,51.83 0 0 1 1540.75,1075.18M1640.77,1091.68A63.82,52.17 0 0 1 1621.09,1102.72M1642.43,1089.53A64.74,52.65 0 0 1 1631.11,1097.78M1576.6,1100.79A53.44,48.51 0 0 1 1566.24,1095.44M1681.04,1067.56A84.28,79.96 0 0 1 1677.19,1080.39M1615.6,1103.69A53.2,50.74 0 0 1 1594.52,1107.27M1528.43,1030.18A69.81,67.54 0 0 1 1544.45,1005.03M1640.52,1103.01A70.65,58.37 0 0 1 1632.61,1107.54M1514.61,1018.42A88.23,78.47 0 0 1 1524.76,1003.6M1619.25,1125.47A81.54,70.61 0 0 1 1589.72,1127.39M1676.51,1085.3A85.99,75.47 0 0 1 1665.35,1102M1582.18,1097.91A55.79,46.48 0 0 1 1558.41,1083.53M1505.36,1055.9A93.8,85.91 0 0 1 1506.72,1041.72M1542.27,1033.97A56.55,51.39 0 0 1 1546.07,1028.02M1558.98,1122.92A77.78,70.59 0 0 1 1545.51,1115.08M1498.21,1055.16A95.33,88.21 0 0 1 1502.29,1034.28M1599.28,1103.79A57.15,51.47 0 0 1 1574.73,1099.62M1492.79,1054.64A100.31,82.58 0 0 1 1501.37,1026.75M1521.55,1039.35A78.95,65.32 0 0 1 1528.85,1023.32M1545.8,1074.1A58.01,54.82 0 0 1 1543.36,1052.48M1562,1115.15A79.62,70.84 0 0 1 1546.89,1106.74M1636,1107.64A70.85,62.84 0 0 1 1625.92,1113.17M1592.12,1140.69A85.39,84.72 0 0 1 1571.04,1137.14M1549.67,1119.07A95.38,77.77 0 0 1 1526.87,1101.79M1542.18,1098.76A77.8,70.41 0 0 1 1536.31,1091.87M1513.23,1030.59A85.71,70.56 0 0 1 1526.59,1011.36M1574.32,1123.95A78.31,69.58 0 0 1 1551.34,1114.03M1602.68,1104.53A53.72,51.01 0 0 1 1573.34,1096.27M1502.79,1036.56A97,86.11 0 0 1 1511.37,1018.05M1623.02,1105.5A56.97,49.67 0 0 1 1615.24,1108.34M1644.03,1124.14A84.65,74.15 0 0 1 1631.23,1129.83M1500.98,1050.9A95.16,81.38 0 0 1 1503.74,1032.14M1659.97,1089A68.47,63.04 0 0 1 1636.13,1112.12M1613.75,1119.32A74.44,68.03 0 0 1 1584.93,1118.33M1681.42,1075.96A84.43,79.38 0 0 1 1670.65,1098.65M1633.93,1111.5A78.5,65.7 0 0 1 1610.66,1119.19M1573.93,1111.05A64.44,57.33 0 0 1 1558.19,1101.19M1619.34,1110.51A73.2,60.99 0 0 1 1592.47,1113.72M1529.17,1124.6A96.81,93.4 0 0 1 1520.91,1115.21M1569.25,1121.34A80.14,68.22 0 0 1 1555.97,1116.54M1565.82,1114.46A74.3,65.2 0 0 1 1541.29,1096.61M1533.12,1114.65A89.03,82.75 0 0 1 1520.2,1097.66M1509.53,1048.36A91.93,80.89 0 0 1 1516.88,1024.5M1599.3,1145.97A103.14,88.76 0 0 1 1561.75,1140.42M1600.48,1114.61A72.8,61.99 0 0 1 1583.96,1113.12M1555.81,1095.79A62.03,54.73 0 0 1 1541.43,1081.65M1617.35,1125.71A82.99,72.79 0 0 1 1592.58,1128.08M1686.88,1102.35A103.24,92.01 0 0 1 1673.27,1120.47M1576.4,1111.06A63.15,57.66 0 0 1 1556.43,1098.68M1529.44,1063.71A69.87,64.93 0 0 1 1532.2,1032.96M1561.98,1136.72A101.3,81.46 0 0 1 1534.99,1125.55M1583.2,1112.84A73.47,62.9 0 0 1 1568.75,1108.28M1663.13,1072.5A64.74,61.26 0 0 1 1654.17,1089.46M1496.9,1061.75A104.55,92.5 0 0 1 1499.07,1032.18M1666.38,1101.33A84.31,75.81 0 0 1 1661,1106.69M1527.66,1090.05A84.87,70.95 0 0 1 1523.47,1083.49M1515.27,1035.98A82.63,76.37 0 0 1 1524.46,1013.84M1548.05,1094.1A68.77,57.28 0 0 1 1539.14,1083.28M1647.66,1098.22A71.29,69.35 0 0 1 1630.09,1112.83M1584.16,1122.08A65.5,62.29 0 0 1 1575.81,1120.24M1627.55,1132.29A83.42,76.32 0 0 1 1601.87,1137.15M1532.95,1088.88A72.86,63.81 0 0 1 1527.77,1078.01M1583.29,1098.21A58.1,49.32 0 0 1 1565.91,1090.01M1632.73,1106.34A60.16,56.4 0 0 1 1612.52,1115.02M1544.36,1109.29A81.83,72.01 0 0 1 1525,1089.63M1675.06,1112.35A104.31,86.38 0 0 1 1656.63,1125.39M1510.05,1084.41A97.22,80.3 0 0 1 1502.69,1063.17M1544.19,1040.78A51,44.54 0 0 1 1553.96,1025.11M1581.45,1111.52A68.63,61.46 0 0 1 1563.77,1105.68M1529.79,1084.04A74.69,68.21 0 0 1 1523.75,1050.85M1581.58,1130.61A88.34,79.15 0 0 1 1572.3,1128.67M1566.86,1096.51A54.09,52.85 0 0 1 1553.12,1079.94M1607.87,1120.63A77.31,69.72 0 0 1 1572.9,1118.81M1689.35,1086.43A95.66,85.45 0 0 1 1682.7,1099.82M1511.94,1035.83A88.95,81.36 0 0 1 1521.26,1015.18M1657.69,1073.35A62.2,51.4 0 0 1 1639.79,1097.44M1603.98,1136.26A98.1,81.07 0 0 1 1580.2,1135.14M1576.81,1121.79A78.52,64.49 0 0 1 1561.11,1117.51M1564.56,1119.68A76.99,64.21 0 0 1 1541.15,1106.79M1557,1132.16A100.08,84.61 0 0 1 1531.36,1117.43M1526.96,1108.36A88.54,85.61 0 0 1 1521.66,1100.27M1621.73,1131.38A88.37,73.96 0 0 1 1596.86,1133.55M1516.56,1033.46A81.61,65.21 0 0 1 1531.45,1011.28M1650.55,1068.19A59.93,49.39 0 0 1 1638.57,1086.23M1607.45,1122.52A68.79,68.53 0 0 1 1579.31,1122.66M1509.07,1051.98A93.42,86.04 0 0 1 1513.09,1033M1659.26,1096.24A76.56,69.66 0 0 1 1639.68,1111.65M1498.18,1066.28A96.18,83.09 0 0 1 1499.88,1040.29M1606.52,1108A63.14,51.85 0 0 1 1596.15,1108.27M1643.66,1101.28A62.94,62.31 0 0 1 1617.45,1118.14M1564.89,1136.81A88.29,81.97 0 0 1 1551.65,1130.46M1503.72,1086.67A96.79,86.1 0 0 1 1501.04,1079.56M1533.3,1082.34A75.41,66.24 0 0 1 1526.08,1061.22M1522.28,1030.76A78.29,75.86 0 0 1 1527.61,1019.38M1547.7,1080.14A61.85,54.86 0 0 1 1543.71,1071.45M1629.4,1119.44A77.74,73.07 0 0 1 1607.24,1125.01M1554.67,1102.83A69.29,66.25 0 0 1 1549.2,1097.95M1629.66,1112.8A71.74,64.31 0 0 1 1601.68,1119.62M1575.86,1100.72A57.39,49.42 0 0 1 1560.01,1092.26M1568.22,1104.11A58.74,52.06 0 0 1 1555.08,1096.62M1532.64,1055.66A61.7,50.5 0 0 1 1544.58,1029.11M1518.31,1092.74A90.39,83.77 0 0 1 1510.77,1073.35M1628.78,1133A90.92,79.78 0 0 1 1616.65,1136.05M1618.66,1102.58A51.07,45.35 0 0 1 1595.24,1105.8M1536.42,1112.19A84.28,74.89 0 0 1 1525.27,1101.24M1564.69,1104.16A65.49,60.77 0 0 1 1547.33,1089.58M1543.39,1080.26A58.74,51.14 0 0 1 1534.75,1051.51M1517.21,1067.93A81.61,67.91 0 0 1 1517.17,1053.21M1664.22,1088.09A75.95,67.27 0 0 1 1648.74,1103.9M1595.87,1133.83A83.96,74.94 0 0 1 1583.66,1132.38M1543.18,1044.68A60.03,50.43 0 0 1 1552.94,1023.61M1544.75,1072.14A51.96,48.92 0 0 1 1541.41,1050.26M1653.72,1074.63A61.46,57.96 0 0 1 1636.94,1101.2M1546.18,1109.91A81.87,69.82 0 0 1 1522.44,1085.79M1520.64,1092.77A86.45,76.65 0 0 1 1512.81,1076.75M1638.52,1087.39A52.9,47.21 0 0 1 1614.46,1098.92M1564.5,1114.43A70.34,63.37 0 0 1 1558.32,1110.4M1641.68,1106.68A78.81,68.83 0 0 1 1610.48,1118.95M1545.28,1062.68A55.69,47.24 0 0 1 1544.17,1049.15M1564.59,1120.08A74.42,70.88 0 0 1 1556.86,1115.86M1526.84,1062.38A72.06,63.51 0 0 1 1526.52,1050.17M1660.75,1099.71A75.9,66.92 0 0 1 1650.89,1108.99M1668.79,1084.93A74.86,63.12 0 0 1 1664.38,1092.47M1509.57,1075.51A94.94,85.96 0 0 1 1506.46,1050.53M1517.54,1067.66A78.51,69.28 0 0 1 1518.7,1042.52M1662.28,1080.44A66.75,58.91 0 0 1 1651.57,1096.4M1622.46,1121.2A72.14,69.99 0 0 1 1600.5,1124.17M1510.05,1094.17A100,87.99 0 0 1 1500.96,1061.02M1640.32,1126.56A89.02,80 0 0 1 1611.68,1134.62M1516.34,1095.09A93.77,83.38 0 0 1 1505.52,1066.88M1611.41,1109.04A65.67,58.4 0 0 1 1591.76,1111M1622.18,1099.32A52.37,45.72 0 0 1 1602.74,1104.63M1523.9,1093.59A79.21,68.95 0 0 1 1515.6,1072.24M1661.86,1088.19A71.87,63.34 0 0 1 1653.09,1097.66M1537.44,1049.59A60.81,57.89 0 0 1 1539.88,1041.33M1538.43,1096.05A79.55,68.55 0 0 1 1523.21,1068.23M1518.48,1066.92A78.08,77.08 0 0 1 1517.14,1052.13M1666.28,1111.62A95.56,82.88 0 0 1 1658.2,1118.85M1627.56,1104.56A66.74,58.88 0 0 1 1613.79,1108.93M1529.95,1036.12A70.77,61.31 0 0 1 1545.59,1010.84M1545.73,1119.22A87.46,79.3 0 0 1 1523.81,1099.72M1583.74,1126.97A75.27,70.98 0 0 1 1552.24,1112.94M1561.21,1094.35A50.34,45.33 0 0 1 1544.86,1070.03M1604.99,1120.08A66.31,65.63 0 0 1 1573.08,1115.97M1526.13,1023.23A79.53,70.57 0 0 1 1534.42,1012.23M1678.93,1091.28A88.47,81.47 0 0 1 1667.75,1108.57M1685.81,1076.27A90.37,78.43 0 0 1 1678.48,1094.85M1517.71,1049.21A76.33,69.28 0 0 1 1525.25,1025.58M1509.57,1037.3A93.55,80.68 0 0 1 1513.48,1027.51M1535.95,1116.42A85.69,82.44 0 0 1 1514.94,1088.13M1632.27,1137.99A103.12,89.18 0 0 1 1618.55,1141.21M1616.15,1136.16A89.68,79.12 0 0 1 1592.04,1137.48M1634.06,1099.91A62.44,51.03 0 0 1 1606.79,1108.14M1613.73,1142.21A90.81,88.08 0 0 1 1594.78,1142.58M1571.91,1132.18A87.62,80.59 0 0 1 1546.78,1122.13M1510.12,1027.99A97.96,82.23 0 0 1 1528.48,1003.01M1506.59,1055.44A87.44,77.85 0 0 1 1508.41,1037.31M1645.11,1093.04A67.93,55.42 0 0 1 1620.88,1105.87M1521.98,1025.65A83.02,69.4 0 0 1 1526.84,1017.38M1547.62,1109.45A81.95,71.05 0 0 1 1526.48,1089.16M1569.74,1125.88A83.61,76.85 0 0 1 1539.9,1108.7M1587,1122.08A72.7,67.67 0 0 1 1570.96,1118.56M1668.98,1073.07A77.71,74.41 0 0 1 1663.5,1089.28M1530.41,1101.34A85.94,70.39 0 0 1 1515.98,1077.7M1507.72,1061.56A88.9,73.1 0 0 1 1508.85,1048.12M1571.06,1117.22A78.61,65.21 0 0 1 1548.28,1107.61M1519.99,1020.63A89.36,83.3 0 0 1 1524.47,1012.34M1537.92,1131.94A96.65,94.59 0 0 1 1526.4,1121.19M1657.64,1093.24A77.07,62.01 0 0 1 1636.62,1107.71M1551.93,1100.39A61.88,55.57 0 0 1 1544.3,1093.09M1587.03,1122.09A65.86,63.49 0 0 1 1567.69,1117.29M1646.5,1116.02A79.36,69.4 0 0 1 1633.28,1122.33M1674.35,1100.38A91.13,75.6 0 0 1 1665.66,1109.16M1539.34,1028.11A64,58.19 0 0 1 1555.41,1009.77M1631.36,1112.21A76.91,68.56 0 0 1 1605.59,1119.32M1519.93,1061.94A80.81,72.83 0 0 1 1521.66,1040.95M1562.08,1105.63A71.66,60.17 0 0 1 1539.88,1086.38M1535.1,1098.59A77.36,74.21 0 0 1 1524.5,1074.21M1505.61,1058.32A91.23,78.48 0 0 1 1506.39,1043.74M1517.68,1051.81A80.48,73.61 0 0 1 1520.84,1035.28M1669.32,1086.49A81.61,74.35 0 0 1 1654.68,1105.21M1516.48,1057.56A80.51,77.3 0 0 1 1516.79,1045.6M1541.09,1062.68A56.21,53.63 0 0 1 1543.73,1043.32M1527.88,1099.88A88.18,73.9 0 0 1 1513.09,1075.22M1674.79,1095.81A85.24,79.37 0 0 1 1650.94,1119.31M1568.07,1137.77A102.47,89.32 0 0 1 1547.14,1129.9M1512.35,1063.42A83.58,78.11 0 0 1 1512.36,1052.88M1625.18,1119.09A78.42,70.97 0 0 1 1615.26,1121.68M1555.95,1088.57A55.57,53.88 0 0 1 1545.44,1069.34M1669.52,1098.35A85.05,83.29 0 0 1 1661.57,1109.26M1619.93,1129.87A83.13,80.07 0 0 1 1601.29,1133.44M1668.7,1081.19A79.91,71.34 0 0 1 1647.71,1105.99M1674.69,1102.72A95.74,82.75 0 0 1 1648.78,1125.69M1543.43,1098.76A73.43,64.32 0 0 1 1531.22,1081.15M1528.88,1078.14A70.52,59.99 0 0 1 1524.92,1055.28M1561.76,1117.53A82.41,67.43 0 0 1 1542.51,1105.74M1505.74,1056.51A91.4,88.18 0 0 1 1506.42,1048.76" stroke="#fff" stroke-width="1.1" fill="none" opacity="0.85" stroke-linecap="round"/>
<path d="M1641.08,1028.23A52.93,46.43 0 0 1 1651.83,1055.35M1640.79,1006.26A66.1,58.89 0 0 1 1653.92,1019.21M1643.04,1013.05A63.34,54.22 0 0 1 1657.06,1028.82M1629.85,999.9A70.96,65.58 0 0 1 1637.1,1003.79M1549.39,1009.52A71.36,60.7 0 0 1 1575.91,997.54M1522.41,1031.75A83.2,75.8 0 0 1 1527.7,1021.17M1659.78,1011.58A76.11,71.43 0 0 1 1667.69,1021.88M1642.96,1027.67A61.44,53.14 0 0 1 1654.27,1048.81M1595.06,979.75A82.81,72.29 0 0 1 1629.06,986.87M1575.07,998.82A72.28,61.74 0 0 1 1602.06,994.14M1605.44,988.45A70.57,63.79 0 0 1 1635.43,998.66M1568.91,981.39A86.97,75.44 0 0 1 1581.85,978.99M1635.51,1006.25A69.65,56.35 0 0 1 1651.24,1018.13M1604.55,993.13A70.47,65.1 0 0 1 1636.04,1003.87M1657.88,1042.51A67.03,59.51 0 0 1 1661.04,1062.03M1624.92,1005.49A66.08,58.97 0 0 1 1644.53,1019.79M1569.59,990.02A72.89,66.38 0 0 1 1578.83,987.65M1632.79,1003.58A73.88,62.51 0 0 1 1647.19,1013.16M1650.93,1034.75A55.95,52.73 0 0 1 1653.97,1043.73M1649.05,1030.73A60.56,49.64 0 0 1 1661.37,1055.82M1542.86,1022.4A65.76,59.07 0 0 1 1553.36,1011.51M1605.12,982.77A81.26,69.61 0 0 1 1637.52,993.12M1642.65,995.04A87.85,74.73 0 0 1 1662.12,1008.89M1591.43,1002.82A59.84,52.48 0 0 1 1606.84,1002.36M1651.91,1036.32A56.11,47.34 0 0 1 1656.04,1057.88M1543.68,1030.8A62.7,58.24 0 0 1 1559.75,1012.49M1534.77,1028.35A69.35,58.6 0 0 1 1538.72,1021.99M1566.05,988.16A82.09,75.72 0 0 1 1584.24,983.64M1659.61,1037.37A64,53.99 0 0 1 1663.88,1048.44M1583.18,1009.21A54.78,47.5 0 0 1 1602.28,1006.16M1643.56,1042.49A50.76,48.58 0 0 1 1644.64,1054.42M1627.53,1024.13A48.64,46.92 0 0 1 1635.52,1032.61M1662.1,1014.13A83.57,77.39 0 0 1 1670.13,1026.71M1658.48,1013.63A75.91,67.97 0 0 1 1670.08,1033.81M1591.72,983.93A82.71,69 0 0 1 1622.21,987.15M1656.27,1051.32A54.93,52.36 0 0 1 1656.83,1066.81M1666.34,1007.76A88.18,80.62 0 0 1 1675.65,1020.86M1644.63,1009.64A69.54,56.99 0 0 1 1651.55,1014.8M1600.32,1003.17A68.65,57.99 0 0 1 1621.85,1006.75M1565.68,1021.47A54.12,45.32 0 0 1 1592.3,1011.68M1597.53,990.07A69.27,62.4 0 0 1 1614.54,991.98M1651.24,1013.93A70.11,62.41 0 0 1 1666.5,1038.22M1520.65,1012.72A87.6,81.09 0 0 1 1527.57,1003.2M1613.16,990.75A78.56,67.02 0 0 1 1635,997.78M1561.64,1018.32A56.18,52.61 0 0 1 1567.75,1014M1549.88,1020.19A66.73,61.76 0 0 1 1557.76,1013M1608.63,996.12A65.05,57.44 0 0 1 1624.08,1000.15M1622.53,996.66A69.68,65.97 0 0 1 1642.58,1008.63M1545.83,1020.43A65.79,60.22 0 0 1 1560.97,1008.46M1644.35,1006.11A72.06,64.68 0 0 1 1659.71,1026.21M1542.86,1025.78A66.77,59.42 0 0 1 1550.74,1015.86M1543.79,1023.25A61.42,56.14 0 0 1 1551.54,1014.39M1557.99,1003.49A69.53,64.57 0 0 1 1589.52,994.78M1554.13,1036.65A47.74,47.11 0 0 1 1574.26,1015.09M1659.48,1039.42A67.07,59.68 0 0 1 1662.35,1048.72M1638.22,1025.98A50.67,47.06 0 0 1 1651.15,1048.93M1550.57,1038.98A53.09,52 0 0 1 1562.99,1021.91M1642.62,1014.52A68.09,58.58 0 0 1 1652.93,1024.3M1636.18,1011.98A62.33,52.65 0 0 1 1643.72,1016.74M1620.54,980.7A77.2,74.44 0 0 1 1638.15,987.61M1657.89,1044.42A57.92,49.24 0 0 1 1659.37,1069.51M1662.04,1001.05A84.55,74.45 0 0 1 1680.78,1029.23M1530,1023.46A71.56,60.64 0 0 1 1537.52,1013.68M1531.54,1023.55A78.69,66.21 0 0 1 1555.56,1001.07M1619.84,978.25A84.9,79.48 0 0 1 1634.09,983.95M1570.54,1011.36A66.16,54.72 0 0 1 1589.12,1006.5M1531.45,1012.83A81.89,80.45 0 0 1 1536.5,1006.07M1546.28,999.87A79.72,70.85 0 0 1 1573.29,988.09M1633.81,1012.49A52,49.56 0 0 1 1645.52,1024.67M1538.68,1018.34A70.16,62.7 0 0 1 1563.92,1000.1M1563.36,1018.63A61.29,50.7 0 0 1 1582.34,1011.3M1642.04,998.32A80.41,69.46 0 0 1 1657.73,1008.37M1639.42,1014.72A56.6,49.37 0 0 1 1654.5,1034.09M1582.79,1013.41A52.91,48.09 0 0 1 1614.09,1015.37M1652.5,1029.32A66.28,57.82 0 0 1 1659.69,1045.96M1624.19,1003.55A61.55,53.25 0 0 1 1635.55,1008.93M1665.89,1023.05A77.23,69.77 0 0 1 1673.45,1040.02M1675.63,1018.46A86.13,75.33 0 0 1 1683.82,1040.9M1592.73,1000.87A60.5,53.91 0 0 1 1610.39,1002.99M1630.34,993.21A82.41,72.96 0 0 1 1647.3,1001.55M1659.61,996.63A88.27,80.46 0 0 1 1673.41,1013.4M1643.52,1019.66A62.84,61.4 0 0 1 1656.99,1048.42M1541.97,1026.05A67.8,57.72 0 0 1 1552.66,1016.63M1638.33,1016.04A60.92,54.82 0 0 1 1651.6,1034.39M1645.49,1026.94A58.88,49.3 0 0 1 1652.56,1038.43M1598.55,994.93A70.07,64.97 0 0 1 1620.59,997.86M1580.56,1003.68A61.94,55.99 0 0 1 1592.34,1002.02M1587.36,1001.66A52.01,50.19 0 0 1 1603.78,1001.71M1667.39,1031.58A71.69,64.76 0 0 1 1671.09,1040.28M1652.96,1035.31A62.62,56.88 0 0 1 1656.46,1056.15M1660.07,1022.85A71.13,64.13 0 0 1 1667.45,1036.02M1654.19,1006.97A79.31,70.42 0 0 1 1666.93,1025.76M1586.9,1007.18A58.51,50.33 0 0 1 1606.12,1006.71M1671.4,1018.91A83.56,71.1 0 0 1 1677.23,1028.8M1625.66,1004.71A58.91,52.31 0 0 1 1640.97,1013.18M1630.47,984.92A77.82,77.52 0 0 1 1639.95,989.65M1556.67,1030.18A55.37,48.01 0 0 1 1570.55,1018.46M1547.25,1019.65A64.71,57.81 0 0 1 1572.66,1003.32M1541.35,1011.08A79.09,68.09 0 0 1 1557.39,999.68M1678.99,1037.92A81.39,74.29 0 0 1 1682.86,1064.56M1542.69,1026.69A67.01,57.84 0 0 1 1559.75,1010.72M1653.99,1004.77A75.49,64.26 0 0 1 1671.46,1025.8M1655.42,1005.56A78.54,77.23 0 0 1 1668.65,1031.17M1666.99,1014.51A82.86,78.14 0 0 1 1678.95,1039.31M1584.34,991.43A75.01,65.86 0 0 1 1598.75,990.2M1674.85,1028.17A86.29,76.78 0 0 1 1678.62,1043.69M1652.09,1004.89A80.31,72.79 0 0 1 1668.79,1023.07M1554.23,1011.5A69.53,59.88 0 0 1 1568.29,1005.1M1679.47,1038.8A81.76,69.92 0 0 1 1680.94,1045.36M1629.57,1015.09A59.31,51.4 0 0 1 1647.38,1034.6M1630.54,1015.32A51.66,44.98 0 0 1 1645.38,1028.85M1584.92,1005.71A60.13,48.64 0 0 1 1600.18,1005.21M1553.89,1023.65A59,52.81 0 0 1 1575.93,1006.94M1552.44,1012.99A66.99,59.2 0 0 1 1563.26,1004.65M1617.18,980.5A80.37,78.27 0 0 1 1631.8,985.81M1644.18,1013.29A67.23,55.2 0 0 1 1662.45,1036.83M1625.19,1001.01A67.08,64.82 0 0 1 1631.84,1004.01M1571.65,1005.42A60.46,56.85 0 0 1 1578.4,1002.99M1575.37,1010.27A56.48,52.45 0 0 1 1593.04,1005.77M1554.88,1000.5A77.3,71.69 0 0 1 1571.69,991.49M1608.27,988.14A75.85,69.36 0 0 1 1633.22,996.88M1549.45,1031.23A54.27,47.52 0 0 1 1565.75,1017.14M1652.73,999.88A81.24,69.56 0 0 1 1671.18,1020.74M1640.49,1010.7A67.62,63.83 0 0 1 1650.77,1022.53M1647.79,1014.78A73.13,63.32 0 0 1 1659.24,1029.59M1665.19,1010.78A90.1,74.66 0 0 1 1679.09,1032.85M1630.75,994.81A73.59,66.94 0 0 1 1639.38,998.82M1552.08,1004.73A77.25,67.99 0 0 1 1582.05,993.55M1636.84,1005.6A61.34,57.77 0 0 1 1643.65,1010.76M1608.88,996.39A62.03,56.93 0 0 1 1625.41,1001.56M1633.66,1005.18A67.97,57.19 0 0 1 1644.85,1012.47M1588.65,984.13A85.63,68.6 0 0 1 1611.96,983.79M1554.87,1031.25A55.14,47.02 0 0 1 1570.06,1019.55M1544.61,1036.71A57.95,52.78 0 0 1 1552.96,1023.24M1607.64,1008.99A54.45,46.72 0 0 1 1622.87,1013.39M1583.32,1008.88A51.85,49.93 0 0 1 1606.22,1008.93M1659.8,1037.68A66.96,60.87 0 0 1 1662.31,1048.31M1645.66,1023.41A60.54,53.26 0 0 1 1654.41,1034.24M1669.51,1034.97A72.34,62.89 0 0 1 1672.25,1043.38M1547.7,993.04A89.95,74.15 0 0 1 1560.42,986.59" stroke="#fff" stroke-width="0.9" fill="none" opacity="0.65" stroke-linecap="round"/>
<path d="M1517.89,1149.93A133.52,120.49 0 0 1 1497.29,1132.74M1451.19,979.34A166.85,144.15 0 0 1 1456.63,971.98M1648.69,960.85A105.44,101.65 0 0 1 1668.79,973.78M1628.47,932.47A131.58,128.25 0 0 1 1662.53,947.08M1427.51,1047.34A170.73,141.17 0 0 1 1429.99,1031.69M1484.55,1035.84A117.62,107.16 0 0 1 1487.97,1023.09M1650.27,949.08A128.71,112.23 0 0 1 1677.09,963.26M1580.39,924.85A155.49,135.35 0 0 1 1589.04,924.45M1534.45,958.3A115.88,111.72 0 0 1 1558.78,947.13M1494.69,1029.88A109.61,103.84 0 0 1 1506.69,1003.95M1514.38,965.25A140.23,119.83 0 0 1 1524.02,959.58M1479.52,1104.78A131.49,124.7 0 0 1 1472.25,1084.1M1519.09,1183.39A157.43,143.46 0 0 1 1488.36,1162.11M1501.25,1117.67A117.65,110.03 0 0 1 1488.63,1098.16M1646.13,954.59A119.59,111.78 0 0 1 1657.02,959.21M1464.22,1041.52A136.87,132.48 0 0 1 1472.27,1011.09M1479.36,1052.3A118.26,108.06 0 0 1 1482.7,1026.67M1469.15,1116.34A144.83,131.29 0 0 1 1458.02,1086.53M1530.39,952.15A129.88,119.3 0 0 1 1546.61,945.01M1511.05,1177.87A158.33,142.01 0 0 1 1483.52,1156.72M1495.07,1115.27A127.33,111.8 0 0 1 1479.25,1085.87M1564.89,916.16A147.57,141.07 0 0 1 1583.21,913.42M1588.91,925.72A130.94,126.01 0 0 1 1607.22,926.29M1508.04,940.07A161.15,140 0 0 1 1538.65,927.23M1546.44,965.4A114.13,96.46 0 0 1 1556.01,961.77M1557.77,910.62A169.71,153.49 0 0 1 1568.36,908.91M1591.02,930.33A130.11,124.09 0 0 1 1621.43,931.49M1627.27,918.15A137.59,137.19 0 0 1 1650.69,926.06M1537.06,976.1A112.33,99.55 0 0 1 1571.59,963.08M1506.84,1143.8A133.83,112.4 0 0 1 1495.74,1134.92M1518.45,1159.37A128.62,128.01 0 0 1 1499.05,1141.37M1556.88,921.57A148.38,135.26 0 0 1 1592.23,916.57M1485.31,964.2A144.86,135.72 0 0 1 1502.75,948.27M1503.82,1161.13A143.79,145.16 0 0 1 1488.57,1145.35M1467.5,1133.59A159.97,137.34 0 0 1 1447.52,1101.61M1492.18,998.15A124.17,106 0 0 1 1518.7,973.78M1482.29,1061.2A117.92,109.5 0 0 1 1484.07,1031.28M1494.27,995.89A122.64,109.81 0 0 1 1510.68,976.96M1443.28,1113.13A162.28,149.81 0 0 1 1438.26,1099.58M1461.6,1125.1A154.6,129.35 0 0 1 1448.5,1102.13M1482.07,1129.53A140.28,133.24 0 0 1 1467.14,1103.54M1442.36,1076.58A155.77,136.44 0 0 1 1441.12,1049.69M1529.3,1148.46A124.39,106.82 0 0 1 1499.8,1126.32M1447.58,1097.66A159.08,132.58 0 0 1 1440.86,1072.24M1549.59,942.77A124.71,120.07 0 0 1 1577.16,936.02M1629.13,957.18A111.34,98.04 0 0 1 1654.62,966.05M1505.17,966.55A137.14,125.16 0 0 1 1533.64,946.47M1430.31,1094.44A169.06,142.13 0 0 1 1424.63,1064.92M1515.79,970.02A123.5,111.87 0 0 1 1530.23,959.67M1497.47,989.66A124.56,115.85 0 0 1 1508.11,978.35M1444.29,1073.55A155,144.44 0 0 1 1443.54,1060.87M1594.25,954.64A108.8,103.73 0 0 1 1610.84,955.42M1619.8,936.25A124.98,122.13 0 0 1 1629.86,938.29M1438.02,1053.82A160.57,142.54 0 0 1 1444.21,1018.78M1536.59,971.58A117.32,98.56 0 0 1 1557.56,963.16M1460.04,988.01A158.13,141.33 0 0 1 1471.57,972.71M1482.64,1010.74A124.22,112.5 0 0 1 1495.86,989.57M1442.47,1072.2A154.68,133.79 0 0 1 1440.72,1054.22M1619.05,954.49A122.16,105.3 0 0 1 1635.27,958.43M1568.16,959.69A109.65,104.18 0 0 1 1585.74,956.02M1587.97,913.68A156.31,141.34 0 0 1 1605.07,913.2M1492.72,998.9A122.27,115.74 0 0 1 1501.71,987.26M1482.54,999.18A127.54,119.26 0 0 1 1497.7,979.2M1479.66,1083.78A119.53,101.64 0 0 1 1477.2,1072.14M1462.1,1084.93A134.82,113.76 0 0 1 1458.38,1053.04M1443.19,1049.48A152.95,131.89 0 0 1 1444.9,1033.04M1581.19,919.94A149.16,137.31 0 0 1 1616.91,920.62M1434.23,1090.76A172.02,154.47 0 0 1 1429.43,1060.46M1462.65,1117.33A154.09,135.29 0 0 1 1453.81,1096.19M1496.32,1092.24A109.15,103.03 0 0 1 1491.85,1073.56M1628.5,932.32A141.44,128.2 0 0 1 1644.6,936.34M1479.68,1146.09A146.81,145.91 0 0 1 1465.86,1125.13M1519.85,972.55A121.49,112.78 0 0 1 1543.58,957.29M1501.19,941A151.38,150.56 0 0 1 1533.18,921M1534.22,924.81A170.03,140.85 0 0 1 1544.99,921.77M1577.81,934.63A131.3,121.61 0 0 1 1602.97,932.45M1589.29,928.82A138.68,126.99 0 0 1 1606.97,929.32M1594.6,906.48A165.33,149.28 0 0 1 1630.25,908.55M1489.38,1046.42A112.77,107.58 0 0 1 1491.78,1034.67M1508.12,1004.37A106.61,98.37 0 0 1 1518.55,991.15M1445.45,1070.12A150.28,142.17 0 0 1 1447.33,1036.13M1436.79,1103.42A165.49,138.81 0 0 1 1428.49,1073.29M1632.92,919.75A157.53,142.17 0 0 1 1661.3,928.28M1490,1034.6A110.03,102.78 0 0 1 1497.67,1010.58M1562.95,905.82A172.28,159.19 0 0 1 1597.8,901.99M1516.88,978.57A111.23,112.42 0 0 1 1544.32,956.75M1447.48,1023.84A154.46,129.06 0 0 1 1461.35,994.41M1504.32,1010.22A108.83,107.08 0 0 1 1513.8,995.57M1440.03,1084.83A161.08,143.52 0 0 1 1437.82,1063.16M1507.51,1165.82A144.85,139.91 0 0 1 1496.93,1157.21M1615.73,928.19A158.19,133.33 0 0 1 1631.32,930.67M1502.62,993.09A119.1,109.33 0 0 1 1520.95,976.01M1448.5,1015.78A149.78,144.25 0 0 1 1452.1,1004.35M1516.08,992.9A105.63,100.83 0 0 1 1533.73,976.64M1547.89,964.33A113.69,101.71 0 0 1 1564.21,958.5M1490.79,1116.86A125.82,114.87 0 0 1 1479.16,1093.92M1467.67,1094.16A143.04,124.32 0 0 1 1462.38,1078.16M1487.7,992.45A130.99,118.2 0 0 1 1500.01,977.39M1572.15,947.59A133.45,111.99 0 0 1 1596.31,946.13M1539.23,937.05A135.12,131.16 0 0 1 1547.15,933.4M1473.69,1056.42A121,111.29 0 0 1 1479.97,1021.09M1503.38,1128.72A124.94,108.58 0 0 1 1488.43,1112.1M1634.61,927.28A150.28,135.6 0 0 1 1648.25,930.78M1516.62,1173.66A141.04,134.84 0 0 1 1504.83,1165.47M1494.32,1121.94A127.14,121.31 0 0 1 1480.76,1098.87M1509.03,970.59A133.18,121.41 0 0 1 1518.98,962.75M1441.9,1096.63A159.38,144.03 0 0 1 1434.9,1059.6M1485.32,1139.69A149.45,135.61 0 0 1 1468.75,1116.85M1564.61,951.45A122.05,104.48 0 0 1 1588.17,947.39M1503.64,1149.4A137.74,127.68 0 0 1 1482.51,1123.98" stroke="#fff" stroke-width="0.9" fill="none" opacity="0.55" stroke-linecap="round"/>
<path d="M1680.08,1016.97A96.39,88.66 0 0 1 1690.2,1043.66M1668.75,999.23A99.45,81.23 0 0 1 1683.36,1017.44M1718.19,1115.89A134.42,110.72 0 0 1 1709.75,1126.39M1673,1116.11A94.6,91.35 0 0 1 1651.24,1135.18M1706.41,1020.03A110.28,98.54 0 0 1 1712.93,1054.45M1710.67,1047.4A110.35,102.27 0 0 1 1710.55,1068.47M1670.36,935.25A145.34,135.68 0 0 1 1691.61,949.62M1736.65,1023.94A139.9,118.59 0 0 1 1739.74,1036.98M1713.71,994.95A134.71,122.65 0 0 1 1722.69,1010.44M1748.12,1062.63A146.97,124.31 0 0 1 1744.21,1085.1M1720.99,1000.91A132.01,126.9 0 0 1 1731.85,1036.22M1678.21,1054.97A80.27,74.47 0 0 1 1677.76,1066.75M1678.74,1087.07A89.58,79.83 0 0 1 1664.35,1108.68M1722.92,1036.5A130.04,107.3 0 0 1 1725.26,1053.53M1674.88,1055.09A79.96,77.41 0 0 1 1673.9,1064.4M1674.8,1099.09A92.58,76.76 0 0 1 1664.19,1110.6M1674.63,991.05A114.5,97.51 0 0 1 1694.63,1013.42M1684.7,960.15A135.27,115.11 0 0 1 1700.18,971.91M1704.27,1090.14A110.46,91.8 0 0 1 1689.71,1112.8M1709.25,1068.45A116.33,95.53 0 0 1 1706.68,1081.88M1680.72,1081.26A92.2,79.15 0 0 1 1676.32,1089.78M1685.14,1054.81A91.52,78.18 0 0 1 1683.13,1069.42M1687.7,1121.55A118.24,107.09 0 0 1 1668.09,1139.45M1649.11,978.21A97.34,85.95 0 0 1 1664.18,988.11M1692.19,1099.38A113.28,91.66 0 0 1 1686.23,1106.45M1682.3,1094.19A91.14,87.47 0 0 1 1666.56,1117.67M1686.94,1110.97A108.54,91.26 0 0 1 1679.81,1118.13M1710.39,1006.66A122.11,104.01 0 0 1 1721.89,1033.56M1722.52,1047.52A125.9,108.67 0 0 1 1722.37,1058.87M1711.2,979.68A137.87,136.37 0 0 1 1721.54,999.71M1703.76,1074.03A105.81,90.5 0 0 1 1698.3,1088.75M1679.62,1010.26A101.01,86.94 0 0 1 1685.7,1019.35M1708.64,982.26A135.77,121.97 0 0 1 1722.6,1003.84M1672.78,1072.36A79.25,71.13 0 0 1 1659.39,1101.54M1682.59,1044.23A84.19,72.78 0 0 1 1683.78,1054.34M1713.55,1076.3A113.45,96.69 0 0 1 1701.04,1105.44M1694.21,1049.62A101.77,90.8 0 0 1 1694.83,1059.09M1725.68,1079.15A129.3,122.36 0 0 1 1721.88,1093.68M1689.49,1061.93A95.64,85.82 0 0 1 1680.32,1093.54M1738.07,1078.71A137.14,133.68 0 0 1 1735.43,1092.02M1663.48,982.66A110.35,92.91 0 0 1 1689.13,1002.43M1709.95,1048.49A111.3,101.58 0 0 1 1709.99,1073.26M1704.38,1106.9A122.02,101.3 0 0 1 1695.63,1116.98M1694.25,1048.4A97.02,87.28 0 0 1 1694.44,1072.72M1685.23,1090.92A96.81,87.95 0 0 1 1680.57,1099.29M1722.75,1048.65A126.01,105.87 0 0 1 1722.78,1066.39M1677.87,1085.82A89.01,78.82 0 0 1 1672.14,1095.05M1692.82,1058.32A99.25,83.29 0 0 1 1689.13,1075.86M1688.55,1040.46A93.76,84.57 0 0 1 1691.04,1060.93M1657.64,1005.34A82.41,74.91 0 0 1 1671.23,1024.61M1691.05,1125.22A116.26,110.79 0 0 1 1672.04,1144.75M1674.75,1046.53A78.97,68.08 0 0 1 1671.9,1076.63M1704.48,1020.44A116.38,94.61 0 0 1 1710.97,1048.32M1735.59,1048.4A141.38,117.2 0 0 1 1734.83,1070.11M1730,1061.77A132.53,112.25 0 0 1 1724.47,1092.35M1705.79,995.37A127.63,121.61 0 0 1 1714.53,1013.11M1650.57,989.76A86.44,83.69 0 0 1 1669.82,1009.31M1647.82,998.49A82.33,73.74 0 0 1 1661.84,1011.88M1669.03,1003.07A94.11,78.2 0 0 1 1679.29,1016.09M1666.75,984.07A107.72,90.53 0 0 1 1689.08,1006.64" stroke="#fff" stroke-width="0.8" fill="none" opacity="0.45" stroke-linecap="round"/>
<path d="M1565.16,1011.95l-3.68,-4.9M1558.81,1025.17l-7.17,-5.43M1599.06,1011.63l0.83,-8.92M1586.11,997.44l-0.01,-6.29M1618.23,997.55l2.78,-8.83M1570.28,1016.02l-6,-7.72M1576.79,1013.59l-2.27,-9.19M1521.64,1021.9l-5.41,-2.9M1559.46,1015.85l-5.56,-9.26M1634.77,982.77l2.63,-7.62M1549.93,1018.4l-7.62,-4.59M1547.34,987.58l-3.2,-7.1M1618.87,986.7l1.97,-3.63M1528.92,1052.02l-7.78,-2.01M1592.79,998.08l1.04,-7.02M1580.22,981.57l-2.06,-5.2M1640.81,1019.83l5.6,-3.69M1611.94,975.44l2.43,-7.25M1612.57,973.29l3.1,-8.88M1570.27,1022.85l-6.61,-7.78M1543.33,1015.16l-7.76,-7.37M1562.49,1027.43l-5.91,-4.59M1638.87,988.66l3.8,-9.55M1560.83,1019.92l-8.8,-6.03M1507.35,1035.61l-5.84,-0.95M1527.47,998.29l-4.98,-3.03M1518.27,1051.72l-5.17,-1.21M1563,993.14l-2.97,-9.1M1624.46,1020.81l3.3,-3.02M1657.08,1015.32l9.81,-7.57M1555.99,1031.85l-7.64,-5.84M1508.01,1022.12l-4.34,-1.6M1635.81,999.48l2.91,-6.56M1664.26,1016.95l10.01,-4.89M1582.17,1009.51l-1.38,-4.48M1646.78,989.05l3.52,-5.95M1623.57,974.27l3.03,-7.47M1615.9,1017.72l4.52,-7.09M1583.42,1010.29l-0.83,-5.13M1547.55,1036.86l-5.5,-2.03M1565.14,1013.71l-7.59,-8.5M1555.06,1042.3l-12.22,-1.48M1546.74,1048.44l-9.11,-2.26M1533.62,1006.57l-4.41,-5.19M1597.96,981.91l-0.31,-4.04M1553.59,1045.87l-7.24,-0.62M1611.63,995.97l1.19,-4.5M1559.63,1033.59l-3.96,-2.73M1648.48,1008.8l6.75,-5.41M1657.5,990.58l7.9,-7.8M1644.06,1002.43l5.2,-7.97M1656.6,1016.55l7.32,-7.13M1650.83,1004.33l4.89,-5.02M1641.58,1028.05l7.66,-6.44M1596.74,997.39l-1.31,-8.37M1600.3,992.41l0.14,-10.39M1511.43,1028.6l-10.89,-3.26M1574.05,989.26l-4.75,-8.56M1596.64,991.77l-0.09,-4.58M1513.48,1049.33l-11.84,-2.1M1636.69,1031.88l3.78,-3.29M1667.34,1002.7l5.93,-5.35M1551.84,1020.88l-9.01,-6.14M1639.62,1013.93l7.13,-6.18M1557.85,999.1l-8.24,-8.57M1645.75,1018.07l3.36,-2.23M1630.61,1002.11l3.9,-10.61M1631.71,1019.52l4.41,-7.52M1547.28,1050.59l-6.36,-1.28M1617.34,1013.42l3.5,-6.42M1636.64,991.1l7.33,-8.38M1663.09,1014.61l6.72,-4.13M1622.47,1017.98l2.69,-4.69M1526.63,1044.8l-10.52,-1M1657.48,995.45l2.44,-3.87M1649.98,1005.79l7.21,-7.94M1513.87,1035.3l-10.76,-1.01M1559.66,1015.1l-4.87,-7.16M1551.29,1037.37l-4.37,-1.29M1653.05,1021.6l6.59,-5.19M1613.18,998.21l2.55,-9.55M1584.93,1009.78l-0.81,-10.03M1569.16,1019.36l-1.8,-3.75M1622.56,1022.13l6.86,-6.17M1597.9,1013.12l0.39,-5.49M1536.19,1054.02l-4.38,0.61M1529.74,1037.04l-5.49,-1.85M1542.01,1045.2l-11.4,-1.98M1561.41,1002.73l-5.67,-7.74M1639.35,993.43l2.47,-3.61M1670.66,1011.36l4.54,-4.24M1579.19,1001.92l-2.95,-5.11M1515,1048.34l-8.44,0.51M1598.89,969.65l-0.35,-8.56M1619.92,1013.07l1.59,-4.24M1591.54,976.4l-1.47,-6.45M1634.2,1018.05l4.37,-4.97M1649.96,987.14l2.99,-5.28M1550.92,1039.73l-4.39,-2.33M1580.76,989.64l-2.58,-7.63" stroke="#fff" stroke-width="1.2" fill="none" opacity="0.8" stroke-linecap="round"/>
<path d="M1616,1080.13l9.82,12.67M1526.72,1078.99l-31.59,8.89M1571.46,1109.18l-22.18,30.11M1604.15,1088.73l8.57,30.35M1513.68,1095.19l-14.68,4.22M1657.55,1066.3l32.12,2.69M1615,1130.88l6.23,32.8M1544.24,1087.21l-33.62,17.59M1563.07,1062.33l-21.52,3.42M1659.21,1072.02l40.73,3.79M1531.09,1106.29l-27.61,15.06M1661.76,1079.41l23.83,9.24M1543.5,1093.57l-34.09,18.4M1518.57,1059.72l-18.1,4.44M1631.66,1086.9l22.96,13.57M1637.52,1101.76l14.18,14.51M1579.74,1119.11l-4.19,28.72M1583.03,1097.07l-9.98,17.99M1592.95,1082.48l1.25,21.75M1609.07,1105.22l13.45,32.87M1634.01,1091.43l18.74,20.78M1530.62,1082.16l-23.73,9.3M1539.25,1115.18l-14.52,17.88M1651.78,1110.07l15.5,16.12M1530.23,1069.19l-19.65,7.6M1576.41,1116.64l-4.58,13.14M1584.15,1107.72l-5.29,19.42M1570.33,1129.51l-5.79,24.74M1632.85,1092.17l12.21,16.44M1538.45,1092.75l-23.85,18.34M1633.3,1111.53l14.1,19.74M1669.71,1079.61l24.14,10.04M1556.65,1131.15l-9.39,17.22M1619.89,1093l17.55,24.67M1517.71,1085.93l-18.24,5.49M1629.28,1062.54l36.56,9.59M1643.79,1071.24l31.56,13.92M1669.36,1094.87l13.98,11.46M1564.44,1100.93l-24.17,21.56M1554.91,1061.43l-22.54,0.1M1575.62,1078.09l-16.04,12.14M1545.5,1088.2l-21.19,13.66M1638.37,1069.85l17.54,9.43M1580.19,1078.39l-13.7,15.62M1597.86,1093.78l-5.54,22.99M1515.3,1060.63l-19.91,4.44M1544.83,1072.28l-34.08,11.37M1626.76,1106.08l21.39,25.23M1581.68,1092.2l-6.63,35.22M1563.7,1063.61l-25.51,10.41M1649.25,1091.06l27.58,16.26M1648.58,1122.17l18.44,21.71M1609.18,1111.92l8.53,29.23M1605.95,1083.97l5.16,12.98M1539.24,1108.1l-15.52,14.84M1639.72,1089.29l19.5,22.49M1545.81,1062.77l-36.85,5.9M1681.79,1089.69l36.53,8.92M1603.24,1097.37l3.3,13.73M1621.54,1075.11l27.99,20.48M1573.29,1092.3l-7.4,16.83M1564.81,1069.38l-16.56,3.67M1515.25,1086.15l-13.29,7.2M1555.1,1093.96l-9.66,12.76M1624.78,1069.65l32.68,21.55M1540.67,1105.17l-13.84,15.97M1616.82,1087.11l12.26,12.94M1560.16,1083.95l-21.41,17.34M1557.63,1090.3l-16.37,20.95M1547.75,1071.94l-22.36,6.45M1629.6,1061.45l33.95,1.71M1613.13,1088.42l7.33,34.25M1629.32,1118.26l12.38,27.72M1586.04,1104.19l-2,26.83M1608.33,1083.84l20.03,31.28M1670.74,1089.34l35.63,18.35M1646.06,1098.29l29.56,19.54M1573.31,1075.11l-10.64,10.53M1601.09,1115.47l3.08,14.13M1562.81,1115.31l-10.77,20.7M1542.95,1059.05l-29.09,-3.9M1547.12,1126.03l-22.37,22.95M1642.58,1083.77l23.89,11.53M1637.97,1107.06l11.69,17.44M1565.08,1073.33l-28.55,11.93M1612.82,1112.4l2.13,17.1M1554.22,1088.12l-21.22,20.59M1524.51,1092.47l-18.64,5.5M1550.02,1122.91l-8.02,15.44M1552.89,1078.94l-18.72,9.79M1664.14,1089.45l21.85,8.41M1579.92,1089.88l-18.69,22.74M1643.82,1127.87l7.36,13.39M1647.14,1070.94l32.07,7.79M1669.26,1095.34l31.4,9.86M1578.27,1109.88l-9.52,31.3M1630.74,1129.01l6.3,33.46M1560.83,1068.38l-33.09,12.81M1555.79,1073.53l-19.07,11.61M1673.42,1081.39l18.55,7.57M1512.48,1076.69l-28.25,12.12M1580.84,1135.41l-3.08,27.38M1632.28,1081.11l28.57,20.45M1547.66,1057.23l-34.77,2.87M1534.51,1110.88l-16.29,13.92M1561.66,1076.05l-16.22,11.14M1638.12,1100.07l8.77,11.97M1620.11,1123.49l2.01,17.34M1566.55,1082.8l-25.41,24.48M1627.78,1130.51l6.04,17.48M1633.44,1065.11l28.48,8.28M1557.01,1116.51l-9.29,13.78M1650.54,1112.44l18.74,22.1M1674.47,1085.53l24.88,11.65M1552.34,1106.27l-13.42,23.17M1538.13,1106.21l-13.32,14.92M1623.44,1128.75l11.18,23.61M1637.88,1078.48l22.68,16.69M1642.65,1068.1l32.8,14.29M1653.24,1100.31l25.64,18.64M1633.15,1086.38l15.11,8.41M1551.83,1070.06l-26.03,5.62M1618.05,1088.98l14.58,17.95M1615.95,1111.45l11.47,35.56M1572.23,1076.14l-18.74,17.47M1622.69,1105.27l11.56,32.46M1517.94,1075.55l-24.65,6.44M1558.71,1081.4l-27.97,14.53M1539.58,1105.45l-21.18,20.71M1580.12,1111.28l-3.14,29.39M1614.58,1128.65l2.3,30.74M1574.72,1104.96l-10.07,21.31M1574.06,1075.5l-20.07,21.89M1522.19,1094.06l-22.14,8.2M1610.69,1086.11l15.59,26.06M1633.01,1112.11l16.32,19.26M1545.5,1062.08l-30.05,0.49M1680.67,1070.46l32.86,0.7M1607.38,1132.44l8.66,33.3M1575.05,1082.48l-14.87,11.55" stroke="#fff" stroke-width="1.5" fill="none" opacity="0.85" stroke-linecap="round"/>
</g>
<path d="M1572.88,1006.85 C1574.18,1007.34 1575.49,1011.75 1576.79,1013.71 C1578.1,1015.67 1580.55,1016.81 1580.71,1018.6 C1580.87,1020.4 1578.43,1022.36 1577.77,1024.48 C1577.12,1026.6 1576.3,1028.89 1576.79,1031.33 C1577.28,1033.78 1579.08,1036.72 1580.71,1039.17 C1582.34,1041.62 1584.3,1043.74 1586.59,1046.02 C1588.87,1048.31 1591.64,1050.43 1594.42,1052.88 C1597.19,1055.32 1600.46,1058.1 1603.23,1060.71 C1606.01,1063.32 1608.29,1066.91 1611.06,1068.54 C1613.84,1070.18 1617.1,1069.36 1619.88,1070.5 C1622.65,1071.64 1623.96,1074.58 1627.71,1075.4 C1631.46,1076.21 1637.83,1075.72 1642.4,1075.4 C1646.97,1075.07 1652.03,1072.95 1655.13,1073.44 C1658.23,1073.93 1661,1076.7 1661,1078.34 C1661,1079.97 1658.23,1081.93 1655.13,1083.23 C1652.03,1084.54 1646.97,1085.35 1642.4,1086.17 C1637.83,1086.98 1632.61,1087.8 1627.71,1088.13 C1622.82,1088.45 1617.1,1087.64 1613.02,1088.13 C1608.94,1088.62 1605.84,1089.6 1603.23,1091.06 C1600.62,1092.53 1598.99,1094.82 1597.36,1096.94 C1595.72,1099.06 1595.07,1103.63 1593.44,1103.79 C1591.81,1103.96 1590.01,1099.88 1587.56,1097.92 C1585.12,1095.96 1582.18,1093.51 1578.75,1092.04 C1575.32,1090.58 1570.59,1090.25 1567,1089.11 C1563.41,1087.96 1559.66,1087.31 1557.21,1085.19 C1554.76,1083.07 1553.95,1079.15 1552.31,1076.38 C1550.68,1073.6 1548.89,1071.48 1547.42,1068.54 C1545.95,1065.61 1544.32,1062.02 1543.5,1058.75 C1542.68,1055.49 1543.17,1051.57 1542.52,1048.96 C1541.87,1046.35 1539.09,1045.04 1539.58,1043.08 C1540.07,1041.13 1543.17,1039.82 1545.46,1037.21 C1547.74,1034.6 1550.52,1030.68 1553.29,1027.42 C1556.07,1024.15 1559.49,1020.4 1562.11,1017.63 C1564.72,1014.85 1567.16,1012.57 1568.96,1010.77 C1570.75,1008.98 1571.57,1006.36 1572.88,1006.85Z" fill="#fdfdfb"/>
<path d="M1617.92,1062.67 C1618.9,1061.36 1623.63,1059.57 1627.71,1058.75 C1631.79,1057.94 1637.5,1058.91 1642.4,1057.77 C1647.29,1056.63 1654.31,1052.39 1657.09,1051.9 C1659.86,1051.41 1660.68,1053.37 1659.05,1054.83 C1657.41,1056.3 1651.7,1059.4 1647.29,1060.71 C1642.89,1062.02 1636.85,1061.69 1632.61,1062.67 C1628.36,1063.65 1624.28,1066.59 1621.84,1066.59 C1619.39,1066.59 1616.94,1063.97 1617.92,1062.67Z" fill="#fdfdfb"/>
<path d="M1451.05,1034.56 C1450.83,1030.15 1452.82,1022.66 1456.34,1016.05 C1459.87,1009.44 1466.04,1001.07 1472.21,994.9 C1478.37,988.73 1486.75,983.22 1493.36,979.03 C1499.97,974.85 1508.56,970.44 1511.87,969.78 C1515.17,969.12 1515.83,972.2 1513.19,975.07 C1510.54,977.93 1501.95,981.9 1496,986.97 C1490.05,992.04 1482.78,999.31 1477.49,1005.48 C1472.21,1011.65 1467.58,1017.82 1464.27,1023.98 C1460.97,1030.15 1459.87,1040.73 1457.66,1042.49 C1455.46,1044.26 1451.27,1038.97 1451.05,1034.56Z" fill="#fbfbf6"/>
<path d="M1682,1012 c6,6 12,14 16,26" stroke="#2f6fc6" stroke-width="6" fill="none" opacity="0.85" stroke-linecap="round"/><ellipse cx="1697" cy="1043" rx="2.4" ry="4" fill="#fff" transform="rotate(30 1697 1043)"/><ellipse cx="1701" cy="1067" rx="2.6" ry="5.4" fill="#fbeef0" stroke="#2f6fc6" stroke-width="1.8" transform="rotate(15 1701 1067)"/><path d="M1530,1105 l10,8 m-10,2 l12,-8" stroke="#2f6fc6" stroke-width="3" opacity="0.8"/><path d="M1598,956 l12,6 m-8,2 l10,-8" stroke="#2f6fc6" stroke-width="2.4" opacity="0.8"/><circle cx="1713" cy="1055" r="2.2" fill="#fff"/>
<rect x="1663.9" y="1017.9" width="61.34" height="61.08" fill="none" stroke="#1a1a1a" stroke-width="1.1"/>
<defs><clipPath id="hi4"><rect x="1353.75" y="1055.71" width="136.96" height="136.96"/></clipPath></defs>
<rect x="1353.75" y="1055.71" width="136.96" height="136.96" fill="#c8305c"/>
<g clip-path="url(#hi4)">
<rect x="1353.75" y="1055.71" width="136.96" height="136.96" fill="#fff" filter="url(#tex2)" opacity="0.45"/>
<rect x="1353.75" y="1055.71" width="136.96" height="136.96" fill="#fff" filter="url(#tex)" opacity="0.6"/>
<path d="M1452.93,1068.83l-3.95,10.06M1469.45,1068.98l-6.65,14.27M1471.33,1086.2l0.41,15.09M1421.89,1147.83l-1.43,9.36M1420.04,1166.88l-3.62,7.49M1369.79,1131.52l0.03,12.31M1385.44,1058.44l-2.33,4.18M1415.9,1166.45l-3.72,9.48M1486.3,1190.27l0.47,12.3M1490.52,1177.11l0.92,5.88M1416.44,1094.03l-0.86,11.38M1480.9,1172.2l-2.58,5.87M1484.62,1160.77l-0.17,5.38M1483.67,1138.97l-3.68,9.86M1391.15,1169.96l-5.72,11.9M1466.74,1147.71l-7.4,11.86M1392.53,1123.72l-1.15,4.79M1377.48,1121.86l0.98,11.69M1435.28,1184.17l-2.53,11.61M1459.32,1118.93l-5.79,13.36M1450,1090.68l-0.59,5.94M1384.99,1183.34l-3.51,7.01M1384.49,1056.36l-3.45,8.65M1398.69,1154.82l-3.15,12.21M1485.15,1136.35l-1.25,11.05M1473.8,1154.96l-2.92,10.45M1471.52,1182.05l-1.74,10.74M1415.06,1099.04l-4.1,9.29M1480.98,1135.45l2.01,13.16M1484.65,1174.66l2.14,10.4M1469.42,1169.48l2.16,14.26M1415.13,1130l-5.32,10.75M1471.71,1172.7l-1.47,6.94M1451.48,1179.03l0.2,5.68M1379.21,1060.95l-2.18,4.94M1385.98,1111.96l1.85,11.46M1381.34,1176.82l-1.9,7.01M1485.94,1094.84l-3.36,6.29M1370.94,1134.37l-4,7.76M1364.42,1118.81l-3.26,6.31M1479.68,1153.98l1.04,8.75M1378.01,1138.9l1.9,10.26M1355.6,1185.84l-5.08,10.53M1390.4,1081.98l-2.1,7.25M1475.71,1092.04l-0.66,8.35M1456.07,1124.08l2.06,11.91M1409.38,1084.97l-4.85,7.87M1447.74,1190.58l-2.17,3.86M1365.56,1058.42l-1.69,6.58M1473.79,1166.86l-2.81,9.25M1378.77,1171.65l-0.54,7.03M1441.59,1161.92l-6.61,12.1M1477.67,1177.29l-1.33,4.13M1471.36,1123.43l-2.97,10.75M1472.85,1188.26l-2.27,11M1426.22,1120.37l0.75,4.28M1466.28,1142.12l-3.17,5.35M1458.51,1103.49l-2.18,7.78M1362.07,1176.42l-3.73,11.03M1406.43,1074.28l0.7,12.61M1386.79,1137.49l-0.91,4.43M1478.85,1148.79l-8.03,13.4M1482.03,1173.13l-2.09,5.77M1380.5,1097.62l1.82,12.28M1462.69,1115.24l-0.29,15.75M1408.08,1148.75l-1.46,6.15M1473.7,1143.57l-1.8,7.11M1425.81,1143.73l1.21,7.42M1359.46,1118.07l-1.25,5.03M1443.3,1102.61l-0.19,12.39M1358.52,1074.26l-2.38,13.72M1424.9,1095.28l-0.71,15.8M1440.89,1064.28l-4.36,14.57M1371.01,1104.33l0.75,4.5M1422.24,1155.32l-1.4,10.98M1458.3,1080.65l-5.78,13.66M1389.78,1157.66l-0.98,6.33M1461.62,1125.94l1.03,11.81M1460.52,1117.66l-0.92,7.17M1364.59,1163.15l0.96,11.42M1379.34,1183.36l0.6,7.71M1360.96,1106.67l-1.71,14.04M1359.94,1177.89l-0.56,13.44M1409.02,1167.63l-1.32,14.91M1365.66,1124.21l-4.93,9.34M1401.06,1171.65l-0.26,7.17M1395.86,1177.41l0.05,14.03M1476.14,1135.66l-1.76,7.05M1433.09,1166l-0.5,8.38M1357.35,1064.14l-4.34,7.21M1357.36,1057.03l-1.33,12.49M1372.61,1174.38l-0.06,14.9M1382.98,1114.5l-0.19,4.39M1379.17,1119.1l-0.29,5.83M1375.33,1133.12l-5.18,11.51M1481.76,1172.91l-4.41,8.67M1446.24,1073.81l-2.92,13.81M1390.78,1165.73l-1.77,5.02M1372.13,1108.18l0.16,6.01M1432.31,1158.25l-7.31,13.39M1440.22,1178.72l-0.36,14.29M1368.93,1186.84l2.29,15.78M1466.94,1178.28l-6.04,10.46M1461.64,1129.8l-4.75,11.98M1369.07,1185.19l-4.37,11.24M1466.22,1073.24l-0.19,7.85M1356.91,1097.46l1.77,12.39M1365.55,1081.08l-5.47,13.87M1414.02,1147.82l0.75,7.86M1455.21,1135.86l-5.38,9.51M1457.38,1091.96l-2.4,6.21M1414.4,1098.81l-0.58,4.79M1480.59,1058.27l-2.52,7.34M1377.91,1116.26l-0,12.51M1383.3,1126.69l-1.75,10.26M1452.06,1157.37l-1.48,12.53M1470.84,1192.26l-0.02,12.1M1475.03,1095.15l-2.58,15.07M1369.61,1177.53l-1.73,11.87M1464.86,1133.15l-2.97,12.37M1472.12,1146.03l-1.28,4.13M1378.86,1182.8l0.59,9.39M1474.27,1192.36l2.55,13.36M1367.27,1178.23l-4.05,7.05M1426.85,1061.59l-0.17,7.4M1378.49,1138.05l0.96,4.56M1364.66,1136.07l-1.14,13.75M1452.75,1103.69l-2.6,8.04M1454.69,1104.94l-2.25,9.64M1355.11,1100.74l0.29,5.25M1475.64,1074.13l1.05,8.9M1428.37,1180.65l0.24,11.93M1460.93,1179.94l0.59,5.04M1367.96,1057.66l1.25,10.64M1435.65,1172.05l-4.9,11.95M1483.4,1177.51l0.34,9.3M1443.76,1120.2l-3.99,8.75M1364.51,1102.04l-3.6,5.78M1445.09,1123.78l-4.12,14.82M1399.02,1104.47l-5.89,12.68M1471.16,1070.17l-2.66,5.94M1390.75,1154.58l-2.76,8.9M1363.7,1137.77l0.46,14.72M1481.29,1099.27l-4.14,7.27M1394.82,1114.25l-1.39,10.85M1444.7,1088.81l-3.47,8.69M1470.28,1121.87l-1.23,4.37M1386.62,1163.64l-1.98,10.16M1382.21,1190.84l0.27,9.09M1472.57,1112.08l0.65,10.72M1483.55,1081.05l-3.75,9.42M1437.48,1139.85l-6.66,11.85M1479.52,1136.45l-5.99,11.3M1417.32,1133.79l-4.07,7.9M1456.13,1087.21l-0.81,10.83M1360.5,1152.4l-3.96,6.38M1456.91,1096.68l1,6.39M1363.85,1112.83l-3.94,12.88M1409.28,1058.02l-2.05,11.63M1418.95,1145.22l-2.34,11.12M1465,1068.17l-2,4.08M1432.17,1163.91l-1.08,4.02M1408.42,1156.79l-5.05,10.83M1461.24,1099.32l-3.11,10.65M1489.15,1155.73l-4.96,8.92M1410.77,1103.43l1.27,15.56M1416.7,1070.42l-2.52,11.13M1365.77,1143.67l-3.89,11.53M1389.08,1181.77l-1.75,10.94M1432.83,1127.39l-3.45,8M1448.74,1060.81l-0.72,4.67M1418.98,1168.12l-7.12,11.65M1413.62,1160.19l-1.64,6.42M1392.43,1126.81l-2.07,7.11M1470.26,1092.81l0.03,7.37M1383.63,1076.73l0.39,12.44M1375.29,1062.67l-0.32,7.77M1435.03,1180.09l-6.43,10.8M1380.03,1157.62l-0.68,9.79M1430.72,1120.57l-5.51,9.06M1432.99,1115.76l1,10.02M1465.23,1188.7l-2.85,12.63M1473.12,1143.88l-5.01,15.19M1410.76,1172.09l-6.31,10.3M1448.78,1060.78l1.12,8.68M1472.94,1116.17l1.06,14.87M1372.28,1124.11l-1.43,4.61M1490.63,1179.51l-2.1,5.96M1377.38,1161.2l-4.7,14.19M1410,1079.65l-1.49,6.75M1369.13,1149.91l-1.39,9.83M1397.39,1067.13l0.25,5.63M1413.15,1113.07l-2.83,13.06M1432.12,1121.71l0.58,10.6M1396.32,1143.64l-1.07,4.86M1429,1136.97l2.9,15.04M1370.56,1108.62l-2.88,13.06M1462.02,1137.37l-4.67,7.92M1437.55,1113.58l1.83,10.52M1468.44,1178.65l-5.66,9.16M1381.26,1145.79l-2.12,10.01M1366.9,1104.17l-5.23,11.64M1356.95,1066.17l-5.22,11.43M1426.13,1063.74l2.66,13.05M1437.12,1163.6l-5.52,14.73M1393.17,1131.74l-5.59,13.25M1398.31,1133.4l-2.52,11.3M1436.93,1146.88l-5.15,15.07M1361.9,1114.65l-0.45,5.35M1443.85,1064.99l0.4,6.88M1488.66,1076.95l-6.82,10.95M1404.4,1173.88l-2.99,9.4M1368.79,1057.91l-3.95,10.58M1397.36,1074.36l2.32,13.09M1372.7,1172.03l1.33,10.78M1367.14,1116.08l-4.05,13.37M1408.21,1103.17l-5.71,9.63M1394.03,1147.61l1.76,9.45M1455.2,1169.67l1.88,10.76M1411,1056.47l-0.26,5.8M1454.66,1059.07l-5.21,11.39M1458.51,1079.03l-4.47,15.36M1377.49,1185.07l0.72,10.9M1354.19,1121.03l0.24,12.96M1377.44,1095.07l-2.31,13.64M1479.07,1140.58l-0.56,5.71M1467.52,1128.97l0.24,6.33M1410.54,1152.8l-1.68,14.52M1377.58,1148.65l-2.57,14.75M1413.53,1062.85l-0.72,12.37M1433.44,1058.1l-2.33,10.23M1426.01,1172.67l-1.2,6.99M1425.64,1167.84l-3.09,5.8M1453.5,1107.37l-0.78,5.43M1400.41,1105.24l-2.32,10.78M1377.86,1126.63l-2.04,13.68M1424.5,1069.56l-1.63,3.86M1480.42,1073.42l1.22,8.75M1416.25,1170.49l-5.08,13.4M1434.36,1163.92l1.17,7.54M1455.83,1143.73l0.79,4.06M1376.66,1082.59l-2.25,5M1456.72,1190.35l1.09,8.42M1461.48,1103.68l-2.13,4.96M1386.84,1108.46l-2.95,4.83M1364.19,1057.05l-1.64,4.8M1474.88,1090.66l0.15,4.85M1407.18,1059.12l2.04,11.66M1462.67,1071.25l-1.19,7.32M1384.67,1128.02l-0.8,12.27M1407.01,1059.14l1.25,10.11M1468.43,1098.05l-1.48,4M1476.54,1143.87l2.07,10.41M1417.76,1079.68l-4.05,9.24M1487.66,1128.37l-4.7,8.42M1402.81,1103.01l1.28,6.19M1409.32,1165.78l-5.51,12.11M1425.57,1149.68l0.96,5.44M1418.35,1142.45l0.67,6.47M1450.95,1086.93l-0.73,9.97M1360.54,1059.68l0.57,7.26M1379.21,1115.02l-1.2,13.31M1477.63,1110.23l-3.73,7.6M1471.3,1076.01l-2.23,15.64M1409.9,1147.93l0.06,13.38M1428.4,1191.92l-1.76,12.49M1443.1,1141.39l-2.39,8.97M1374.97,1091.19l-6.81,14.27M1435.78,1186.29l-2.19,4.77M1362.87,1115.19l-2.04,7.31M1480.3,1175.63l-3.03,11.29M1367.64,1071.46l-5.27,11.68M1461.73,1107.13l-4.56,11.57M1430.36,1106.69l-5.4,14.04M1466.87,1093.83l0.22,6.29M1367.99,1168.78l1.44,12.05M1430.91,1149.75l-0.84,3.94M1363.03,1141.2l1.17,7.59M1407.17,1175l-2.37,4.02M1441.55,1178.89l0.91,9.23M1441.51,1180.34l-2.83,6.51M1362.05,1139.16l-5.66,14.55M1487.21,1160.3l-1.38,10M1400.8,1088.33l-6.91,12.97M1475.52,1142.26l0.55,6.34M1355.1,1169.05l-2.68,5.08M1442.06,1087.22l-4.17,14.82M1403.96,1096.78l0.34,11.83M1429.61,1147.84l-0,10.45M1410.94,1112.25l1.48,12.75M1429.85,1064.87l-4.62,7.79M1356.21,1086.3l1.59,9.84M1478.61,1078.95l-3.13,5.29M1356.62,1191.84l-1.97,4.2M1422.39,1172.56l0.74,6.32M1390.47,1127.1l-3.14,6.52M1403.51,1153.76l-1.84,6.15M1433.38,1136.03l1.03,8.04M1389.12,1095.06l1.43,11.13M1422.43,1167.64l-0.14,13.83M1359.09,1162.62l-0.77,11.45M1452.09,1075.34l1.9,10.2M1459.09,1086.86l-0.4,14.22M1447.26,1156.01l-6.14,10.53M1407.81,1056.84l-7.41,13.72M1369.3,1069.25l0.68,5.85M1385,1187.22l0.61,11.42M1458.11,1086.66l-4.45,12.15M1478.76,1189.12l-6.12,10.64M1447.76,1082.65l-2.75,8.87M1395.01,1059.09l-3.94,15.27M1384.39,1134.72l-4.13,9.76M1481.43,1170.02l-0.9,4.2M1396.68,1178.07l-0.53,5.44M1437.4,1108.42l-0.92,4.01M1465.63,1110.48l1.46,11.36M1474.54,1079.61l2.2,10.51M1367.17,1099.88l-1.45,9.87M1468.91,1145.49l-6.16,11.83M1413.12,1171.76l1.2,9.74M1392.33,1140.35l1.56,12.72M1478.19,1067.5l-1.93,5.6M1390.01,1164.1l-0.4,11.24M1388.72,1121.88l-7.08,13.84M1432.4,1083.57l-1.63,5.25M1473.93,1065.88l0.75,4.08M1459.85,1186.92l-7.16,11.62M1377.55,1172.58l-1.22,8.78M1381.55,1075.73l-2.73,12.43M1483.4,1155.77l-3.37,9.45M1380.49,1065.21l0.69,14.84M1392.51,1095.95l-1.99,10.77M1411.6,1074.58l-5.85,9.38M1372.37,1108.95l0.77,6.8M1399.99,1127.16l-2.48,6.12M1403.51,1190.65l0.33,7.09M1488.77,1110.99l-0.81,9.47M1384.05,1167.33l-1.26,4.25M1429.01,1147.2l-4.49,15.15M1397.26,1057.36l-5.7,10.1M1488.01,1070.93l-1.76,8.28M1451.05,1060.85l0.3,5.32M1428.9,1125.06l-3.63,7.88M1477.93,1143.56l-2.33,3.75M1451.72,1079.19l-2.09,3.45M1463.24,1184.65l0.72,4.47M1406.68,1112.62l-0.64,5.13M1371.04,1174.69l-0.67,10.02M1386.36,1189.71l-4.73,8.76M1370.76,1073.88l-4.79,12.01M1460.69,1100.73l0.29,8.14M1481.11,1109.96l-4.72,12.92M1367.54,1104.82l-2.78,5.86M1419.22,1159.41l1.02,12.11M1383.82,1102.76l-1.24,14.24M1482.7,1170.06l-1.29,8.83M1483.25,1106.29l-1.92,15.31M1353.87,1128.28l-4.52,8.85M1445.42,1157.81l-4.38,9.12M1356.52,1103.4l-1.61,5.65M1452.51,1180.68l-2.43,4.67M1466.74,1141.2l-2.85,8.86M1421.64,1076.53l-4.31,10.59M1392.55,1162.51l1.79,10.78M1459.45,1072.9l-1.95,6M1438.81,1170.68l-0.32,11.59M1446.75,1169.4l-2.7,4.63M1440.2,1061.16l-0.91,12.51M1482.65,1148.69l-2.24,3.7M1372.91,1059.16l-3.26,14.67M1366.29,1069.27l-1.98,14.66M1465.08,1128.16l-0.08,5.92M1413.94,1142.26l1.23,15.07M1483.11,1155.15l-6.2,12.56M1371.96,1098.54l-1.67,8.83M1440.25,1090.57l2.25,11.57M1388.38,1072.2l0.06,9.85M1434.13,1130.59l-2.73,9.2M1430.26,1069.17l-2.15,4.19M1443.43,1100.93l2.29,11.87M1458.41,1140.76l-2,10.53M1375.17,1083.26l0.06,4.68M1448.01,1078.28l-1.41,5.24M1379.08,1146.85l-0.23,4.38M1467.8,1178.84l-0.86,15.88M1486.03,1056.55l-2.01,5.1M1418.91,1086.02l-1.59,8.61M1468.91,1078.76l-1.34,5.15M1477.41,1103.79l-0.73,7.7M1476.44,1150.02l-6,11.61M1368.44,1155.61l0.6,8.52M1378.73,1134.65l0.49,7.24M1486.49,1123.98l-2.92,14.62M1404.1,1121.69l-6.23,11.64M1469.04,1128.04l0.86,7.5M1411.66,1061.21l0.76,10.85M1468.81,1113.48l-2.67,11.64M1441.22,1163.15l2.24,13.64M1423.89,1120.92l-3.14,6.86M1424.68,1125.84l0.62,9.68M1436.4,1137.92l1.19,6.41M1422.42,1137.49l-0.36,7.08M1360.45,1113.46l-1.8,3.63M1477.1,1060.64l-2.16,9.18M1384.02,1079.83l0.79,11.51M1443.69,1166.34l-0.21,6.21M1424.17,1183.61l-6.32,13.29M1442.7,1180.87l-0.3,15.83M1429.47,1174l-0.52,4.58M1372.83,1159.52l-1.27,9.18M1448.09,1110.79l-4.98,11.48M1415.61,1118.65l-2.19,10.23M1410.95,1063.2l-4.04,15.05M1471.92,1114.09l-0.21,11.28M1383.93,1083.33l-2.79,9.21M1485.56,1069.79l-4,13.36M1429.59,1117.59l-0.94,6.03M1434.8,1175.3l1.39,10.71M1371.41,1125.75l2.01,10.02M1380.87,1144.36l-6.57,13.53" stroke="#fff" stroke-width="0.9" opacity="0.62" fill="none" stroke-linecap="round"/>
<path d="M1476.96,1055.71 C1477.83,1051.7 1489.11,1039.73 1490.71,1055.71 C1492.32,1071.69 1492.19,1176.7 1490.71,1192.68 C1489.23,1208.66 1478.58,1198.48 1478.02,1192.68 C1477.47,1186.88 1485.34,1154.94 1485.95,1142.97 C1486.57,1131 1484.36,1100.27 1483.31,1090.09 C1482.26,1079.91 1476.1,1059.72 1476.96,1055.71Z" fill="#fbfbef"/>
<path d="M1378,1058 c14,8 24,26 40,40 c10,10 16,26 20,48 c2,16 -2,30 -6,46" stroke="#2f6fc6" stroke-width="13" fill="none" opacity="0.85"/><path d="M1410,1086 c4,-4 10,-8 14,-4 c2,6 -4,10 -2,16 c0,6 -8,8 -12,4 c-3,-6 -2,-12 0,-16z" fill="#fff"/><ellipse cx="1428" cy="1163" rx="5.4" ry="11" fill="#fbeef0" stroke="#2f6fc6" stroke-width="2.4" transform="rotate(20 1428 1163)"/><ellipse cx="1461" cy="1121" rx="5" ry="8" fill="#fff" transform="rotate(20 1461 1121)"/><path d="M1378,1105 c3,10 1,22 -3,32" stroke="#fff" stroke-width="2.4" fill="none"/>
</g>
<rect x="1353.75" y="1055.71" width="136.96" height="136.96" fill="none" stroke="#111" stroke-width="1.6"/>
</g>
<text x="1.2" y="659.6" font-size="40" font-weight="bold">C</text>
<text x="98.6" y="896.5" font-size="34.5" font-weight="bold" text-anchor="middle" transform="rotate(-90 98.6 896.5)" textLength="450" lengthAdjust="spacingAndGlyphs">Myocardial fibrosis area(%)</text>
<rect x="222.4" y="1096.64" width="66.4" height="32.56" fill="#ffffff" stroke="#000" stroke-width="3.8"/>
<rect x="321.6" y="977.96" width="66.5" height="151.24" fill="#d4d4d4" stroke="#000" stroke-width="3.8"/>
<rect x="420.9" y="908.83" width="66.7" height="220.37" fill="#a2a2a6" stroke="#000" stroke-width="3.8"/>
<rect x="520.5" y="789.72" width="67" height="339.48" fill="#808080" stroke="#000" stroke-width="3.8"/>
<path d="M206.2,701.9 V1129.2 M193.6,1129.2 H605.8" stroke="#000" stroke-width="3.8" fill="none"/>
<text x="189.2" y="1139.9" font-size="30" font-weight="bold" text-anchor="end">0</text>
<text x="189.2" y="1033.55" font-size="30" font-weight="bold" text-anchor="end">5</text>
<text x="189.2" y="927.2" font-size="30" font-weight="bold" text-anchor="end">10</text>
<text x="189.2" y="820.85" font-size="30" font-weight="bold" text-anchor="end">15</text>
<text x="189.2" y="714.5" font-size="30" font-weight="bold" text-anchor="end">20</text>
<path d="M193.6,1129.2H206.2M193.6,1022.85H206.2M193.6,916.5H206.2M193.6,810.15H206.2M193.6,703.8H206.2M254.8,1129.2V1142.2M354.9,1129.2V1142.2M454.4,1129.2V1142.2M553.8,1129.2V1142.2" stroke="#000" stroke-width="3.8" fill="none"/>
<path d="M355.3,976V953M339,953H371.6" stroke="#000" stroke-width="3.2" fill="none"/>
<path d="M454.4,907V868.7M438.1,868.7H470.7" stroke="#000" stroke-width="3.2" fill="none"/>
<path d="M553.8,788V759.5M538.8,759.5H568.8" stroke="#000" stroke-width="3.2" fill="none"/>
<g fill="none" stroke="#000" stroke-width="2.9"><circle cx="232.5" cy="1088.5" r="5.9"/><circle cx="280" cy="1088.5" r="5.9"/><circle cx="235.79" cy="1091.14" r="5.9"/><circle cx="276.64" cy="1091.14" r="5.9"/><circle cx="239.07" cy="1093.79" r="5.9"/><circle cx="273.29" cy="1093.79" r="5.9"/><circle cx="242.36" cy="1096.43" r="5.9"/><circle cx="269.93" cy="1096.43" r="5.9"/><circle cx="245.64" cy="1099.07" r="5.9"/><circle cx="266.57" cy="1099.07" r="5.9"/><circle cx="248.93" cy="1101.71" r="5.9"/><circle cx="263.21" cy="1101.71" r="5.9"/><circle cx="252.21" cy="1104.36" r="5.9"/><circle cx="259.86" cy="1104.36" r="5.9"/><circle cx="255.5" cy="1107" r="5.9"/><circle cx="256.5" cy="1107" r="5.9"/></g>
<g fill="none" stroke="#000" stroke-width="3.6"><circle cx="355.5" cy="952.2" r="6.8"/><circle cx="375.7" cy="962.3" r="6.8"/><circle cx="334.4" cy="970.6" r="6.8"/><circle cx="354.9" cy="985.9" r="6.8"/><circle cx="354.9" cy="1013.5" r="6.8"/></g>
<g fill="none" stroke="#000" stroke-width="3.6"><circle cx="454.4" cy="860.4" r="6.8"/><circle cx="467.5" cy="890.1" r="6.8"/><circle cx="442.1" cy="899.6" r="6.8"/><circle cx="454.4" cy="927.7" r="6.8"/><circle cx="454.4" cy="966" r="6.8"/></g>
<g fill="none" stroke="#000" stroke-width="3.6"><circle cx="553.8" cy="751.2" r="6.8"/><circle cx="578.3" cy="757.3" r="6.8"/><circle cx="530.9" cy="771.7" r="6.8"/><circle cx="562" cy="771.7" r="6.8"/><circle cx="546.2" cy="777.8" r="6.8"/><circle cx="575.2" cy="793.1" r="6.8"/><circle cx="533.3" cy="803.2" r="6.8"/><circle cx="553.8" cy="803.8" r="6.8"/><circle cx="567" cy="825.2" r="6.8"/><circle cx="541.6" cy="842" r="6.8"/><circle cx="574" cy="783" r="6.8"/></g>
<path d="M235.6,931.7V911.5H351.8V931.7" stroke="#000" stroke-width="3.6" fill="none" stroke-linejoin="miter"/>
<path d="M338,841V820.6H454.4V841" stroke="#000" stroke-width="3.6" fill="none" stroke-linejoin="miter"/>
<path d="M437.5,733.4V713.5H556V733.4" stroke="#000" stroke-width="3.6" fill="none" stroke-linejoin="miter"/>
<text x="291.7" y="902" font-size="30" font-weight="bold" text-anchor="middle" textLength="51" lengthAdjust="spacingAndGlyphs">****</text>
<text x="393.8" y="814" font-size="30" font-weight="bold" text-anchor="middle">*</text>
<text x="495.7" y="703" font-size="30" font-weight="bold" text-anchor="middle" textLength="24.5" lengthAdjust="spacingAndGlyphs">**</text>
<text x="266.3" y="1163.5" font-size="36" text-anchor="end" transform="rotate(-45 266.3 1163.5)">Sham 3m</text>
<text x="366.4" y="1163.5" font-size="36" text-anchor="end" transform="rotate(-45 366.4 1163.5)">TAC 1m</text>
<text x="465.9" y="1163.5" font-size="36" text-anchor="end" transform="rotate(-45 465.9 1163.5)">TAC 2m</text>
<text x="565.3" y="1163.5" font-size="36" text-anchor="end" transform="rotate(-45 565.3 1163.5)">TAC 3m</text>
<text x="0.6" y="1343.5" font-size="40" font-weight="bold">D</text>
<text x="69" y="1535.8" font-size="29" font-weight="bold" text-anchor="middle" transform="rotate(-90 69 1535.8)" textLength="284.5" lengthAdjust="spacingAndGlyphs">Ejection fraction (%)</text>
<rect x="146.5" y="1471" width="47.5" height="231.2" fill="#fff" stroke="#000" stroke-width="2.9"/>
<rect x="194" y="1434.5" width="47.5" height="267.7" fill="#d3d3d3" stroke="#000" stroke-width="2.9"/>
<rect x="265.75" y="1461.8" width="47.5" height="240.4" fill="#fff" stroke="#000" stroke-width="2.9"/>
<rect x="313.25" y="1516.6" width="47.5" height="185.6" fill="#d3d3d3" stroke="#000" stroke-width="2.9"/>
<rect x="385" y="1467" width="47.5" height="235.2" fill="#fff" stroke="#000" stroke-width="2.9"/>
<rect x="432.5" y="1587.5" width="47.5" height="114.7" fill="#d3d3d3" stroke="#000" stroke-width="2.9"/>
<text x="121.3" y="1710.4" font-size="23" font-weight="bold" text-anchor="end">0</text>
<text x="121.3" y="1644.38" font-size="23" font-weight="bold" text-anchor="end">20</text>
<text x="121.3" y="1578.36" font-size="23" font-weight="bold" text-anchor="end">40</text>
<text x="121.3" y="1512.34" font-size="23" font-weight="bold" text-anchor="end">60</text>
<text x="121.3" y="1446.32" font-size="23" font-weight="bold" text-anchor="end">80</text>
<text x="121.3" y="1380.3" font-size="23" font-weight="bold" text-anchor="end">100</text>
<text x="196.7" y="1741.6" font-size="33" text-anchor="middle">1</text>
<text x="312.95" y="1741.6" font-size="33" text-anchor="middle">2</text>
<text x="430" y="1741.6" font-size="33" text-anchor="middle">3</text>
<path d="M134.7,1370.7V1702.2M125.7,1702.2H492.7M125.7,1702.2H134.7M125.7,1636.18H134.7M125.7,1570.16H134.7M125.7,1504.14H134.7M125.7,1438.12H134.7M125.7,1372.1H134.7M194,1702.2V1711.2M313.25,1702.2V1711.2M432.5,1702.2V1711.2" stroke="#000" stroke-width="2.8" fill="none"/>
<text x="325.9" y="1780.3" font-size="34" text-anchor="middle">Month</text>
<path d="M170.2,1471V1465.2M161.4,1465.2H179" stroke="#000" stroke-width="2.5" fill="none"/>
<g fill="none" stroke="#000" stroke-width="2.6"><circle cx="151.7" cy="1472.6" r="4.45"/><circle cx="161.6" cy="1480" r="4.45"/><circle cx="170" cy="1460.5" r="4.45"/><circle cx="178.8" cy="1480" r="4.45"/><circle cx="188.4" cy="1472.6" r="4.45"/></g>
<path d="M217.8,1434.5V1406.5M209,1406.5H226.6" stroke="#000" stroke-width="2.5" fill="none"/>
<g fill="none" stroke="#000" stroke-width="2.6"><circle cx="210.4" cy="1409" r="4.45"/><circle cx="226.6" cy="1407.6" r="4.45"/><circle cx="210.4" cy="1434" r="4.45"/><circle cx="225.8" cy="1446.9" r="4.45"/><circle cx="218.1" cy="1472.6" r="4.45"/></g>
<path d="M289.45,1461.8V1442.5M280.65,1442.5H298.25" stroke="#000" stroke-width="2.5" fill="none"/>
<g fill="none" stroke="#000" stroke-width="2.6"><circle cx="290" cy="1432.2" r="4.45"/><circle cx="282.7" cy="1457.2" r="4.45"/><circle cx="304.8" cy="1465.2" r="4.45"/><circle cx="296.7" cy="1470.8" r="4.45"/><circle cx="282" cy="1483.6" r="4.45"/></g>
<path d="M337.05,1516.6V1493.9M328.25,1493.9H345.85" stroke="#000" stroke-width="2.5" fill="none"/>
<g fill="none" stroke="#000" stroke-width="2.6"><circle cx="345.2" cy="1490.2" r="4.45"/><circle cx="329.4" cy="1500.1" r="4.45"/><circle cx="329.4" cy="1522.9" r="4.45"/><circle cx="344.4" cy="1522.9" r="4.45"/><circle cx="337.1" cy="1546.8" r="4.45"/></g>
<path d="M408.7,1467V1445.8M399.9,1445.8H417.5" stroke="#000" stroke-width="2.5" fill="none"/>
<g fill="none" stroke="#000" stroke-width="2.6"><circle cx="408.3" cy="1427.4" r="4.45"/><circle cx="408.3" cy="1441.4" r="4.45"/><circle cx="390.3" cy="1460.5" r="4.45"/><circle cx="417.5" cy="1467.1" r="4.45"/><circle cx="402.1" cy="1471.9" r="4.45"/><circle cx="422.3" cy="1472.6" r="4.45"/><circle cx="426" cy="1480" r="4.45"/><circle cx="392.2" cy="1483.6" r="4.45"/><circle cx="415" cy="1486.2" r="4.45"/><circle cx="402.8" cy="1493.5" r="4.45"/></g>
<path d="M456.3,1587.5V1575.4M447.5,1575.4H465.1" stroke="#000" stroke-width="2.5" fill="none"/>
<g fill="none" stroke="#000" stroke-width="2.6"><circle cx="456.4" cy="1565.5" r="4.45"/><circle cx="446.1" cy="1579.1" r="4.45"/><circle cx="456.4" cy="1581" r="4.45"/><circle cx="466.3" cy="1581" r="4.45"/><circle cx="440.6" cy="1592.7" r="4.45"/><circle cx="450.9" cy="1592" r="4.45"/><circle cx="460.8" cy="1592" r="4.45"/><circle cx="471.1" cy="1584.6" r="4.45"/><circle cx="456.4" cy="1606.6" r="4.45"/><circle cx="471.8" cy="1604.8" r="4.45"/></g>
<path d="M158.2,1388.5V1374.5H215.8V1388.5" stroke="#000" stroke-width="3.2" fill="none" stroke-linejoin="miter"/>
<text x="186.4" y="1368.5" font-size="31" text-anchor="middle">*</text>
<path d="M289,1418.6V1404.6H347V1418.6" stroke="#000" stroke-width="3.2" fill="none" stroke-linejoin="miter"/>
<text x="320.2" y="1398.2" font-size="31" text-anchor="middle" textLength="24.4" lengthAdjust="spacingAndGlyphs">**</text>
<path d="M408.3,1408.4V1394.4H466.3V1408.4" stroke="#000" stroke-width="3.2" fill="none" stroke-linejoin="miter"/>
<text x="438.8" y="1386.5" font-size="31" text-anchor="middle" textLength="36.6" lengthAdjust="spacingAndGlyphs">***</text>
<text x="569" y="1357" font-size="40" font-weight="bold">E</text>
<text x="651.3" y="1528.5" font-size="29" font-weight="bold" text-anchor="middle" transform="rotate(-90 651.3 1528.5)" textLength="171" lengthAdjust="spacingAndGlyphs">LVPWd(mm)</text>
<rect x="735.9" y="1545.3" width="47.5" height="156.7" fill="#fff" stroke="#000" stroke-width="2.9"/>
<rect x="783.4" y="1468.9" width="47.5" height="233.1" fill="#d3d3d3" stroke="#000" stroke-width="2.9"/>
<rect x="855.15" y="1547.9" width="47.5" height="154.1" fill="#fff" stroke="#000" stroke-width="2.9"/>
<rect x="902.65" y="1468.2" width="47.5" height="233.8" fill="#d3d3d3" stroke="#000" stroke-width="2.9"/>
<rect x="974.4" y="1546.8" width="47.5" height="155.2" fill="#fff" stroke="#000" stroke-width="2.9"/>
<rect x="1021.9" y="1495.7" width="47.5" height="206.3" fill="#d3d3d3" stroke="#000" stroke-width="2.9"/>
<text x="710.7" y="1710.2" font-size="23" font-weight="bold" text-anchor="end">0.0</text>
<text x="710.7" y="1600.13" font-size="23" font-weight="bold" text-anchor="end">0.5</text>
<text x="710.7" y="1490.07" font-size="23" font-weight="bold" text-anchor="end">1.0</text>
<text x="710.7" y="1380" font-size="23" font-weight="bold" text-anchor="end">1.5</text>
<text x="786.1" y="1741.6" font-size="33" text-anchor="middle">1</text>
<text x="902.35" y="1741.6" font-size="33" text-anchor="middle">2</text>
<text x="1019.4" y="1741.6" font-size="33" text-anchor="middle">3</text>
<path d="M724.1,1370.4V1702M715.1,1702H1082.1M715.1,1702H724.1M715.1,1591.93H724.1M715.1,1481.87H724.1M715.1,1371.8H724.1M783.4,1702V1711M902.65,1702V1711M1021.9,1702V1711" stroke="#000" stroke-width="2.8" fill="none"/>
<text x="918.5" y="1780" font-size="34" text-anchor="middle">Month</text>
<g fill="none" stroke="#000" stroke-width="2.6"><circle cx="742.5" cy="1542.4" r="4.45"/><circle cx="752" cy="1536.8" r="4.45"/><circle cx="765.6" cy="1540.5" r="4.45"/><circle cx="759.4" cy="1557" r="4.45"/><circle cx="774.8" cy="1551.5" r="4.45"/></g>
<path d="M807.2,1468.9V1438.8M798.4,1438.8H816" stroke="#000" stroke-width="2.5" fill="none"/>
<g fill="none" stroke="#000" stroke-width="2.6"><circle cx="800.5" cy="1437.7" r="4.45"/><circle cx="814.5" cy="1437.7" r="4.45"/><circle cx="792.1" cy="1486.2" r="4.45"/><circle cx="807.1" cy="1493.5" r="4.45"/><circle cx="821.8" cy="1490.9" r="4.45"/></g>
<path d="M878.85,1547.9V1536.8M870.05,1536.8H887.65" stroke="#000" stroke-width="2.5" fill="none"/>
<g fill="none" stroke="#000" stroke-width="2.6"><circle cx="878.7" cy="1532.4" r="4.45"/><circle cx="863.7" cy="1549.7" r="4.45"/><circle cx="883.1" cy="1551.5" r="4.45"/><circle cx="893.4" cy="1549" r="4.45"/><circle cx="871" cy="1563.6" r="4.45"/></g>
<path d="M926.45,1468.2V1444.3M917.65,1444.3H935.25" stroke="#000" stroke-width="2.5" fill="none"/>
<g fill="none" stroke="#000" stroke-width="2.6"><circle cx="926.1" cy="1438.4" r="4.45"/><circle cx="918" cy="1459.7" r="4.45"/><circle cx="933.8" cy="1460.5" r="4.45"/><circle cx="933.8" cy="1486.5" r="4.45"/><circle cx="919.1" cy="1500.1" r="4.45"/></g>
<g fill="none" stroke="#000" stroke-width="2.6"><circle cx="990.4" cy="1532.4" r="4.45"/><circle cx="1004.3" cy="1536.1" r="4.45"/><circle cx="984.1" cy="1540.5" r="4.45"/><circle cx="997" cy="1542.4" r="4.45"/><circle cx="1009.8" cy="1540.5" r="4.45"/><circle cx="979.3" cy="1550.8" r="4.45"/><circle cx="991.5" cy="1553.4" r="4.45"/><circle cx="1003.2" cy="1557" r="4.45"/><circle cx="1015.3" cy="1551.5" r="4.45"/><circle cx="991.5" cy="1563.6" r="4.45"/><circle cx="1003" cy="1547" r="4.45"/></g>
<path d="M1045.7,1495.7V1471.9M1036.9,1471.9H1054.5" stroke="#000" stroke-width="2.5" fill="none"/>
<g fill="none" stroke="#000" stroke-width="2.6"><circle cx="1038.5" cy="1459.7" r="4.45"/><circle cx="1053.2" cy="1459.7" r="4.45"/><circle cx="1045.4" cy="1481" r="4.45"/><circle cx="1030" cy="1498.3" r="4.45"/><circle cx="1063.1" cy="1494.6" r="4.45"/><circle cx="1037.4" cy="1500.9" r="4.45"/><circle cx="1053.9" cy="1500.1" r="4.45"/><circle cx="1045.4" cy="1505.6" r="4.45"/><circle cx="1053.2" cy="1521.4" r="4.45"/><circle cx="1037.4" cy="1530.6" r="4.45"/></g>
<path d="M753.9,1426V1412H811.5V1426" stroke="#000" stroke-width="3.2" fill="none" stroke-linejoin="miter"/>
<text x="780.3" y="1406.6" font-size="31" text-anchor="middle" textLength="24.4" lengthAdjust="spacingAndGlyphs">**</text>
<path d="M872.1,1417.9V1403.9H930.1V1417.9" stroke="#000" stroke-width="3.2" fill="none" stroke-linejoin="miter"/>
<text x="902.2" y="1398.2" font-size="31" text-anchor="middle" textLength="24.4" lengthAdjust="spacingAndGlyphs">**</text>
<path d="M987.1,1438.8V1424.8H1045.4V1438.8" stroke="#000" stroke-width="3.2" fill="none" stroke-linejoin="miter"/>
<text x="1015.3" y="1419.5" font-size="31" text-anchor="middle" textLength="36.6" lengthAdjust="spacingAndGlyphs">***</text>
<text x="1161" y="1342.4" font-size="40" font-weight="bold">F</text>
<text x="1255" y="1524.9" font-size="29" font-weight="bold" text-anchor="middle" transform="rotate(-90 1255 1524.9)" textLength="152.4" lengthAdjust="spacingAndGlyphs">LVIDd(mm)</text>
<rect x="1329.4" y="1456.8" width="47.5" height="245.5" fill="#fff" stroke="#000" stroke-width="2.9"/>
<rect x="1376.9" y="1506.7" width="47.5" height="195.6" fill="#d3d3d3" stroke="#000" stroke-width="2.9"/>
<rect x="1448.65" y="1465.2" width="47.5" height="237.1" fill="#fff" stroke="#000" stroke-width="2.9"/>
<rect x="1496.15" y="1484.7" width="47.5" height="217.6" fill="#d3d3d3" stroke="#000" stroke-width="2.9"/>
<rect x="1567.9" y="1467.8" width="47.5" height="234.5" fill="#fff" stroke="#000" stroke-width="2.9"/>
<rect x="1615.4" y="1440.6" width="47.5" height="261.7" fill="#d3d3d3" stroke="#000" stroke-width="2.9"/>
<text x="1304.2" y="1710.5" font-size="23" font-weight="bold" text-anchor="end">0</text>
<text x="1304.2" y="1644.4" font-size="23" font-weight="bold" text-anchor="end">1</text>
<text x="1304.2" y="1578.3" font-size="23" font-weight="bold" text-anchor="end">2</text>
<text x="1304.2" y="1512.2" font-size="23" font-weight="bold" text-anchor="end">3</text>
<text x="1304.2" y="1446.1" font-size="23" font-weight="bold" text-anchor="end">4</text>
<text x="1304.2" y="1380" font-size="23" font-weight="bold" text-anchor="end">5</text>
<text x="1379.6" y="1741.6" font-size="33" text-anchor="middle">1</text>
<text x="1495.85" y="1741.6" font-size="33" text-anchor="middle">2</text>
<text x="1612.9" y="1741.6" font-size="33" text-anchor="middle">3</text>
<path d="M1317.6,1370.4V1702.3M1308.6,1702.3H1675.6M1308.6,1702.3H1317.6M1308.6,1636.2H1317.6M1308.6,1570.1H1317.6M1308.6,1504H1317.6M1308.6,1437.9H1317.6M1308.6,1371.8H1317.6M1376.9,1702.3V1711.3M1496.15,1702.3V1711.3M1615.4,1702.3V1711.3" stroke="#000" stroke-width="2.8" fill="none"/>
<text x="1508.8" y="1780" font-size="34" text-anchor="middle">Month</text>
<path d="M1353.1,1456.8V1445M1344.3,1445H1361.9" stroke="#000" stroke-width="2.5" fill="none"/>
<g fill="none" stroke="#000" stroke-width="2.6"><circle cx="1338.4" cy="1445.8" r="4.45"/><circle cx="1353.1" cy="1445.8" r="4.45"/><circle cx="1368.5" cy="1443.2" r="4.45"/><circle cx="1344.6" cy="1474.4" r="4.45"/><circle cx="1360.4" cy="1474.4" r="4.45"/></g>
<path d="M1400.7,1506.7V1498.3M1391.9,1498.3H1409.5" stroke="#000" stroke-width="2.5" fill="none"/>
<g fill="none" stroke="#000" stroke-width="2.6"><circle cx="1392.4" cy="1496.5" r="4.45"/><circle cx="1385.7" cy="1503.8" r="4.45"/><circle cx="1408.1" cy="1503.1" r="4.45"/><circle cx="1416.2" cy="1509.3" r="4.45"/><circle cx="1400.8" cy="1520.3" r="4.45"/></g>
<path d="M1472.35,1465.2V1451.3M1463.55,1451.3H1481.15" stroke="#000" stroke-width="2.5" fill="none"/>
<g fill="none" stroke="#000" stroke-width="2.6"><circle cx="1457.3" cy="1454.2" r="4.45"/><circle cx="1487.1" cy="1450.6" r="4.45"/><circle cx="1472.4" cy="1462.7" r="4.45"/><circle cx="1479.4" cy="1477.4" r="4.45"/><circle cx="1464" cy="1482.5" r="4.45"/></g>
<path d="M1519.95,1484.7V1467.1M1511.15,1467.1H1528.75" stroke="#000" stroke-width="2.5" fill="none"/>
<g fill="none" stroke="#000" stroke-width="2.6"><circle cx="1520.1" cy="1460.5" r="4.45"/><circle cx="1512.8" cy="1477.4" r="4.45"/><circle cx="1534.8" cy="1485.4" r="4.45"/><circle cx="1527.5" cy="1497.2" r="4.45"/><circle cx="1512.4" cy="1504.9" r="4.45"/></g>
<path d="M1591.6,1467.8V1451.7M1582.8,1451.7H1600.4" stroke="#000" stroke-width="2.5" fill="none"/>
<g fill="none" stroke="#000" stroke-width="2.6"><circle cx="1598.7" cy="1443.2" r="4.45"/><circle cx="1583.3" cy="1449.5" r="4.45"/><circle cx="1573.4" cy="1453.1" r="4.45"/><circle cx="1609" cy="1455" r="4.45"/><circle cx="1585.1" cy="1460.5" r="4.45"/><circle cx="1597.3" cy="1467.1" r="4.45"/><circle cx="1609" cy="1476.3" r="4.45"/><circle cx="1573.4" cy="1478.1" r="4.45"/><circle cx="1597.3" cy="1484.7" r="4.45"/><circle cx="1585.1" cy="1490.9" r="4.45"/><circle cx="1591.4" cy="1497.2" r="4.45"/></g>
<path d="M1639.2,1440.6V1424.8M1630.4,1424.8H1648" stroke="#000" stroke-width="2.5" fill="none"/>
<g fill="none" stroke="#000" stroke-width="2.6"><circle cx="1623.7" cy="1423" r="4.45"/><circle cx="1656" cy="1427.4" r="4.45"/><circle cx="1631" cy="1431.1" r="4.45"/><circle cx="1645.7" cy="1431.1" r="4.45"/><circle cx="1623.7" cy="1439.5" r="4.45"/><circle cx="1639.1" cy="1437.7" r="4.45"/><circle cx="1654.9" cy="1439.5" r="4.45"/><circle cx="1639.1" cy="1454.2" r="4.45"/><circle cx="1639.1" cy="1472.6" r="4.45"/></g>
<path d="M1349.4,1418.6V1404.6H1407.8V1418.6" stroke="#000" stroke-width="3.2" fill="none" stroke-linejoin="miter"/>
<text x="1374.7" y="1397.1" font-size="31" text-anchor="middle" textLength="24.4" lengthAdjust="spacingAndGlyphs">**</text>
<path d="M1582.6,1405.8V1391.8H1640.9V1405.8" stroke="#000" stroke-width="3.2" fill="none" stroke-linejoin="miter"/>
<text x="1611.9" y="1382.8" font-size="31" text-anchor="middle" textLength="24.4" lengthAdjust="spacingAndGlyphs">**</text>
<text x="2.4" y="1952.6" font-size="40" font-weight="bold">G</text>
<text x="60.1" y="2204.6" font-size="29" font-weight="bold" text-anchor="middle" transform="rotate(-90 60.1 2204.6)" textLength="429" lengthAdjust="spacingAndGlyphs">Brain natriuretic peptide(pg/ml)</text>
<rect x="146.7" y="2220.6" width="47.5" height="154.5" fill="#fff" stroke="#000" stroke-width="2.9"/>
<rect x="194.2" y="2204.8" width="47.5" height="170.3" fill="#d3d3d3" stroke="#000" stroke-width="2.9"/>
<rect x="265.95" y="2237" width="47.5" height="138.1" fill="#fff" stroke="#000" stroke-width="2.9"/>
<rect x="313.45" y="2194.9" width="47.5" height="180.2" fill="#d3d3d3" stroke="#000" stroke-width="2.9"/>
<rect x="385.2" y="2226.8" width="47.5" height="148.3" fill="#fff" stroke="#000" stroke-width="2.9"/>
<rect x="432.7" y="2160" width="47.5" height="215.1" fill="#d3d3d3" stroke="#000" stroke-width="2.9"/>
<text x="121.5" y="2383.3" font-size="23" font-weight="bold" text-anchor="end">0</text>
<text x="121.5" y="2300.77" font-size="23" font-weight="bold" text-anchor="end">100</text>
<text x="121.5" y="2218.25" font-size="23" font-weight="bold" text-anchor="end">200</text>
<text x="121.5" y="2135.72" font-size="23" font-weight="bold" text-anchor="end">300</text>
<text x="121.5" y="2053.2" font-size="23" font-weight="bold" text-anchor="end">400</text>
<text x="196.9" y="2417.3" font-size="33" text-anchor="middle">1</text>
<text x="313.15" y="2417.3" font-size="33" text-anchor="middle">2</text>
<text x="430.2" y="2417.3" font-size="33" text-anchor="middle">3</text>
<path d="M134.9,2043.6V2375.1M125.9,2375.1H492.9M125.9,2375.1H134.9M125.9,2292.57H134.9M125.9,2210.05H134.9M125.9,2127.53H134.9M125.9,2045H134.9M194.2,2375.1V2384.1M313.45,2375.1V2384.1M432.7,2375.1V2384.1" stroke="#000" stroke-width="2.8" fill="none"/>
<text x="326.1" y="2456.5" font-size="34" text-anchor="middle">Month</text>
<path d="M170.4,2220.6V2200.4M161.6,2200.4H179.2" stroke="#000" stroke-width="2.5" fill="none"/>
<g fill="none" stroke="#000" stroke-width="2.6"><circle cx="184.7" cy="2201.1" r="4.45"/><circle cx="155.3" cy="2206.6" r="4.45"/><circle cx="170" cy="2209.5" r="4.45"/><circle cx="177.4" cy="2240.8" r="4.45"/><circle cx="162.7" cy="2246.3" r="4.45"/></g>
<path d="M218,2204.8V2190M209.2,2190H226.8" stroke="#000" stroke-width="2.5" fill="none"/>
<g fill="none" stroke="#000" stroke-width="2.6"><circle cx="210.4" cy="2183.5" r="4.45"/><circle cx="224" cy="2196.7" r="4.45"/><circle cx="203.1" cy="2209.5" r="4.45"/><circle cx="232.4" cy="2215.8" r="4.45"/><circle cx="217.8" cy="2219.5" r="4.45"/></g>
<path d="M289.65,2237V2226.8M280.85,2226.8H298.45" stroke="#000" stroke-width="2.5" fill="none"/>
<g fill="none" stroke="#000" stroke-width="2.6"><circle cx="289.4" cy="2219.5" r="4.45"/><circle cx="306.6" cy="2235.3" r="4.45"/><circle cx="271.7" cy="2241.5" r="4.45"/><circle cx="282.7" cy="2246.3" r="4.45"/><circle cx="295.6" cy="2246.3" r="4.45"/></g>
<path d="M337.25,2194.9V2186.4M328.45,2186.4H346.05" stroke="#000" stroke-width="2.5" fill="none"/>
<g fill="none" stroke="#000" stroke-width="2.6"><circle cx="322.4" cy="2189" r="4.45"/><circle cx="337.1" cy="2189" r="4.45"/><circle cx="351.8" cy="2187.2" r="4.45"/><circle cx="344.4" cy="2197.4" r="4.45"/><circle cx="329.4" cy="2211" r="4.45"/></g>
<path d="M408.9,2226.8V2204.8M400.1,2204.8H417.7" stroke="#000" stroke-width="2.5" fill="none"/>
<g fill="none" stroke="#000" stroke-width="2.6"><circle cx="408.3" cy="2192.7" r="4.45"/><circle cx="392.9" cy="2201.8" r="4.45"/><circle cx="423.4" cy="2206.6" r="4.45"/><circle cx="408.3" cy="2208.5" r="4.45"/><circle cx="400.2" cy="2230.5" r="4.45"/><circle cx="416" cy="2233.4" r="4.45"/><circle cx="390.3" cy="2242.6" r="4.45"/><circle cx="426" cy="2242.6" r="4.45"/><circle cx="408.3" cy="2247" r="4.45"/><circle cx="402.1" cy="2252.5" r="4.45"/><circle cx="414.2" cy="2250" r="4.45"/></g>
<path d="M456.5,2160V2138M447.7,2138H465.3" stroke="#000" stroke-width="2.5" fill="none"/>
<g fill="none" stroke="#000" stroke-width="2.6"><circle cx="456.4" cy="2116.7" r="4.45"/><circle cx="441.7" cy="2142.4" r="4.45"/><circle cx="449.8" cy="2144.2" r="4.45"/><circle cx="463.8" cy="2142.4" r="4.45"/><circle cx="463.8" cy="2160.7" r="4.45"/><circle cx="439.5" cy="2172.8" r="4.45"/><circle cx="473.7" cy="2177.2" r="4.45"/><circle cx="446.9" cy="2182.7" r="4.45"/><circle cx="456.4" cy="2183.5" r="4.45"/><circle cx="465.6" cy="2183.5" r="4.45"/></g>
<path d="M163.4,2160V2146H221.4V2160" stroke="#000" stroke-width="3.2" fill="none" stroke-linejoin="miter"/>
<text x="193.5" y="2141.4" font-size="31" text-anchor="middle">*</text>
<path d="M283.8,2160V2146H342.2V2160" stroke="#000" stroke-width="3.2" fill="none" stroke-linejoin="miter"/>
<text x="312.9" y="2141.4" font-size="31" text-anchor="middle">*</text>
<path d="M403.2,2103.8V2089.8H460.8V2103.8" stroke="#000" stroke-width="3.2" fill="none" stroke-linejoin="miter"/>
<text x="432.6" y="2085.2" font-size="31" text-anchor="middle">*</text>
<text x="569.6" y="1952.6" font-size="40" font-weight="bold">H</text>
<text x="649.5" y="2207" font-size="29" font-weight="bold" text-anchor="middle" transform="rotate(-90 649.5 2207)" textLength="331" lengthAdjust="spacingAndGlyphs">Relative heart weight(%)</text>
<rect x="736" y="2213.6" width="47.5" height="161.5" fill="#fff" stroke="#000" stroke-width="2.9"/>
<rect x="783.5" y="2151.1" width="47.5" height="224" fill="#d3d3d3" stroke="#000" stroke-width="2.9"/>
<rect x="855.25" y="2204.4" width="47.5" height="170.7" fill="#fff" stroke="#000" stroke-width="2.9"/>
<rect x="902.75" y="2129.1" width="47.5" height="246" fill="#d3d3d3" stroke="#000" stroke-width="2.9"/>
<rect x="974.5" y="2213.6" width="47.5" height="161.5" fill="#fff" stroke="#000" stroke-width="2.9"/>
<rect x="1022" y="2159.6" width="47.5" height="215.5" fill="#d3d3d3" stroke="#000" stroke-width="2.9"/>
<text x="710.8" y="2383.3" font-size="23" font-weight="bold" text-anchor="end">0.0</text>
<text x="710.8" y="2317.22" font-size="23" font-weight="bold" text-anchor="end">0.2</text>
<text x="710.8" y="2251.14" font-size="23" font-weight="bold" text-anchor="end">0.4</text>
<text x="710.8" y="2185.06" font-size="23" font-weight="bold" text-anchor="end">0.6</text>
<text x="710.8" y="2118.98" font-size="23" font-weight="bold" text-anchor="end">0.8</text>
<text x="710.8" y="2052.9" font-size="23" font-weight="bold" text-anchor="end">1.0</text>
<text x="786.2" y="2417.3" font-size="33" text-anchor="middle">1</text>
<text x="902.45" y="2417.3" font-size="33" text-anchor="middle">2</text>
<text x="1019.5" y="2417.3" font-size="33" text-anchor="middle">3</text>
<path d="M724.2,2043.3V2375.1M715.2,2375.1H1082.2M715.2,2375.1H724.2M715.2,2309.02H724.2M715.2,2242.94H724.2M715.2,2176.86H724.2M715.2,2110.78H724.2M715.2,2044.7H724.2M783.5,2375.1V2384.1M902.75,2375.1V2384.1M1022,2375.1V2384.1" stroke="#000" stroke-width="2.8" fill="none"/>
<text x="917.1" y="2456.5" font-size="34" text-anchor="middle">Month</text>
<path d="M759.7,2213.6V2201.5M750.9,2201.5H768.5" stroke="#000" stroke-width="2.5" fill="none"/>
<g fill="none" stroke="#000" stroke-width="2.6"><circle cx="759.4" cy="2198.9" r="4.45"/><circle cx="744.7" cy="2209.9" r="4.45"/><circle cx="774.1" cy="2209.9" r="4.45"/><circle cx="759.4" cy="2217.2" r="4.45"/><circle cx="759.4" cy="2233" r="4.45"/></g>
<path d="M807.3,2151.1V2144.9M798.5,2144.9H816.1" stroke="#000" stroke-width="2.5" fill="none"/>
<g fill="none" stroke="#000" stroke-width="2.6"><circle cx="799.8" cy="2141.2" r="4.45"/><circle cx="814.5" cy="2142.7" r="4.45"/><circle cx="792.4" cy="2151.1" r="4.45"/><circle cx="821.8" cy="2155.9" r="4.45"/><circle cx="807.9" cy="2165.8" r="4.45"/></g>
<path d="M878.95,2204.4V2191.5M870.15,2191.5H887.75" stroke="#000" stroke-width="2.5" fill="none"/>
<g fill="none" stroke="#000" stroke-width="2.6"><circle cx="878.7" cy="2184.2" r="4.45"/><circle cx="871.4" cy="2201.5" r="4.45"/><circle cx="893.4" cy="2205.5" r="4.45"/><circle cx="886.1" cy="2213.6" r="4.45"/><circle cx="871" cy="2221.6" r="4.45"/></g>
<path d="M926.55,2129.1V2094.2M917.75,2094.2H935.35" stroke="#000" stroke-width="2.5" fill="none"/>
<g fill="none" stroke="#000" stroke-width="2.6"><circle cx="919.9" cy="2089.8" r="4.45"/><circle cx="933.8" cy="2096.1" r="4.45"/><circle cx="911.8" cy="2146.7" r="4.45"/><circle cx="941.9" cy="2151.9" r="4.45"/><circle cx="926.1" cy="2159.2" r="4.45"/></g>
<path d="M998.2,2213.6V2202.6M989.4,2202.6H1007" stroke="#000" stroke-width="2.5" fill="none"/>
<g fill="none" stroke="#000" stroke-width="2.6"><circle cx="1015.3" cy="2200.7" r="4.45"/><circle cx="979.7" cy="2202.6" r="4.45"/><circle cx="991.5" cy="2208.1" r="4.45"/><circle cx="1006.1" cy="2208.1" r="4.45"/><circle cx="979.7" cy="2212.5" r="4.45"/><circle cx="997" cy="2212.5" r="4.45"/><circle cx="1015.3" cy="2212.5" r="4.45"/><circle cx="988.9" cy="2219.1" r="4.45"/><circle cx="1004.3" cy="2216.1" r="4.45"/><circle cx="997" cy="2227.5" r="4.45"/><circle cx="997" cy="2242.9" r="4.45"/></g>
<path d="M1045.8,2159.6V2136.5M1037,2136.5H1054.6" stroke="#000" stroke-width="2.5" fill="none"/>
<g fill="none" stroke="#000" stroke-width="2.6"><circle cx="1030" cy="2130.2" r="4.45"/><circle cx="1068.6" cy="2139" r="4.45"/><circle cx="1045.4" cy="2140.1" r="4.45"/><circle cx="1059.4" cy="2143.8" r="4.45"/><circle cx="1030" cy="2149.3" r="4.45"/><circle cx="1045.4" cy="2156.7" r="4.45"/><circle cx="1028.2" cy="2181.6" r="4.45"/><circle cx="1063.8" cy="2178" r="4.45"/><circle cx="1052" cy="2186.8" r="4.45"/><circle cx="1039.2" cy="2191.5" r="4.45"/></g>
<path d="M751,2122.9V2108.9H809V2122.9" stroke="#000" stroke-width="3.2" fill="none" stroke-linejoin="miter"/>
<text x="779.2" y="2100.6" font-size="31" text-anchor="middle" textLength="36.6" lengthAdjust="spacingAndGlyphs">***</text>
<path d="M871,2072.6V2058.6H929V2072.6" stroke="#000" stroke-width="3.2" fill="none" stroke-linejoin="miter"/>
<text x="898.6" y="2047.8" font-size="31" text-anchor="middle" textLength="24.4" lengthAdjust="spacingAndGlyphs">**</text>
<path d="M992.6,2106.4V2092.4H1050.2V2106.4" stroke="#000" stroke-width="3.2" fill="none" stroke-linejoin="miter"/>
<text x="1019.7" y="2081.6" font-size="31" text-anchor="middle" textLength="36.6" lengthAdjust="spacingAndGlyphs">***</text>
<text x="1162" y="1952.6" font-size="40" font-weight="bold">I</text>
<text x="1239.5" y="2207" font-size="29" font-weight="bold" text-anchor="middle" transform="rotate(-90 1239.5 2207)" textLength="207.5" lengthAdjust="spacingAndGlyphs">Body weight(g)</text>
<rect x="1325.2" y="2172.1" width="47.5" height="202.5" fill="#fff" stroke="#000" stroke-width="2.9"/>
<rect x="1372.7" y="2183.5" width="47.5" height="191.1" fill="#d3d3d3" stroke="#000" stroke-width="2.9"/>
<rect x="1444.45" y="2150" width="47.5" height="224.6" fill="#fff" stroke="#000" stroke-width="2.9"/>
<rect x="1491.95" y="2149.3" width="47.5" height="225.3" fill="#d3d3d3" stroke="#000" stroke-width="2.9"/>
<rect x="1563.7" y="2124.3" width="47.5" height="250.3" fill="#fff" stroke="#000" stroke-width="2.9"/>
<rect x="1611.2" y="2135.7" width="47.5" height="238.9" fill="#d3d3d3" stroke="#000" stroke-width="2.9"/>
<text x="1300" y="2382.8" font-size="23" font-weight="bold" text-anchor="end">0</text>
<text x="1300" y="2300.32" font-size="23" font-weight="bold" text-anchor="end">10</text>
<text x="1300" y="2217.85" font-size="23" font-weight="bold" text-anchor="end">20</text>
<text x="1300" y="2135.38" font-size="23" font-weight="bold" text-anchor="end">30</text>
<text x="1300" y="2052.9" font-size="23" font-weight="bold" text-anchor="end">40</text>
<text x="1375.4" y="2417.3" font-size="33" text-anchor="middle">1</text>
<text x="1491.65" y="2417.3" font-size="33" text-anchor="middle">2</text>
<text x="1608.7" y="2417.3" font-size="33" text-anchor="middle">3</text>
<path d="M1313.4,2043.3V2374.6M1304.4,2374.6H1671.4M1304.4,2374.6H1313.4M1304.4,2292.12H1313.4M1304.4,2209.65H1313.4M1304.4,2127.18H1313.4M1304.4,2044.7H1313.4M1372.7,2374.6V2383.6M1491.95,2374.6V2383.6M1611.2,2374.6V2383.6" stroke="#000" stroke-width="2.8" fill="none"/>
<text x="1509.7" y="2456.5" font-size="34" text-anchor="middle">Month</text>
<path d="M1348.9,2172.1V2157.8M1340.1,2157.8H1357.7" stroke="#000" stroke-width="2.5" fill="none"/>
<g fill="none" stroke="#000" stroke-width="2.6"><circle cx="1334.7" cy="2160.3" r="4.45"/><circle cx="1356.7" cy="2159.6" r="4.45"/><circle cx="1342" cy="2169.5" r="4.45"/><circle cx="1356.7" cy="2178" r="4.45"/><circle cx="1349.4" cy="2193.4" r="4.45"/></g>
<path d="M1396.5,2183.5V2168.8M1387.7,2168.8H1405.3" stroke="#000" stroke-width="2.5" fill="none"/>
<g fill="none" stroke="#000" stroke-width="2.6"><circle cx="1389.8" cy="2169.5" r="4.45"/><circle cx="1404.5" cy="2169.5" r="4.45"/><circle cx="1397.1" cy="2185.3" r="4.45"/><circle cx="1404.5" cy="2193.4" r="4.45"/><circle cx="1389.8" cy="2201.8" r="4.45"/></g>
<path d="M1468.15,2150V2136.5M1459.35,2136.5H1476.95" stroke="#000" stroke-width="2.5" fill="none"/>
<g fill="none" stroke="#000" stroke-width="2.6"><circle cx="1468.7" cy="2134.6" r="4.45"/><circle cx="1453.7" cy="2143.1" r="4.45"/><circle cx="1483.4" cy="2143.8" r="4.45"/><circle cx="1468.7" cy="2151.1" r="4.45"/><circle cx="1468.7" cy="2169.5" r="4.45"/></g>
<path d="M1515.75,2149.3V2132M1506.95,2132H1524.55" stroke="#000" stroke-width="2.5" fill="none"/>
<g fill="none" stroke="#000" stroke-width="2.6"><circle cx="1516.1" cy="2127.3" r="4.45"/><circle cx="1508.8" cy="2143.8" r="4.45"/><circle cx="1523.8" cy="2143.8" r="4.45"/><circle cx="1523.8" cy="2160.3" r="4.45"/><circle cx="1508.8" cy="2168.8" r="4.45"/></g>
<path d="M1587.4,2124.3V2112.6M1578.6,2112.6H1596.2" stroke="#000" stroke-width="2.5" fill="none"/>
<g fill="none" stroke="#000" stroke-width="2.6"><circle cx="1605.3" cy="2102.3" r="4.45"/><circle cx="1569.7" cy="2110.8" r="4.45"/><circle cx="1581.5" cy="2110.8" r="4.45"/><circle cx="1593.6" cy="2110.8" r="4.45"/><circle cx="1572.3" cy="2119.2" r="4.45"/><circle cx="1587" cy="2119.2" r="4.45"/><circle cx="1601.7" cy="2119.2" r="4.45"/><circle cx="1572.3" cy="2135.7" r="4.45"/><circle cx="1587" cy="2130.2" r="4.45"/><circle cx="1587" cy="2143.8" r="4.45"/><circle cx="1601.7" cy="2143.8" r="4.45"/></g>
<path d="M1635,2135.7V2116.3M1626.2,2116.3H1643.8" stroke="#000" stroke-width="2.5" fill="none"/>
<g fill="none" stroke="#000" stroke-width="2.6"><circle cx="1634.7" cy="2102.3" r="4.45"/><circle cx="1620" cy="2119.2" r="4.45"/><circle cx="1649.4" cy="2119.2" r="4.45"/><circle cx="1634.7" cy="2127.3" r="4.45"/><circle cx="1617.1" cy="2135.7" r="4.45"/><circle cx="1642" cy="2135.7" r="4.45"/><circle cx="1627.4" cy="2143.8" r="4.45"/><circle cx="1642" cy="2143.8" r="4.45"/><circle cx="1654.9" cy="2143.8" r="4.45"/><circle cx="1627.4" cy="2160.3" r="4.45"/><circle cx="1642" cy="2160.3" r="4.45"/></g>
<rect x="698.9" y="1852.3" width="74" height="27.4" fill="#fff" stroke="#231815" stroke-width="3.3"/>
<rect x="698.9" y="1890.3" width="74" height="28" fill="#d3d3d3" stroke="#231815" stroke-width="3.3"/>
<text x="796" y="1873.5" font-size="33" font-weight="bold" textLength="92" lengthAdjust="spacingAndGlyphs">Sham</text>
<text x="797.4" y="1919.4" font-size="33" font-weight="bold" textLength="69" lengthAdjust="spacingAndGlyphs">TAC</text>
</svg>
</body></html>
